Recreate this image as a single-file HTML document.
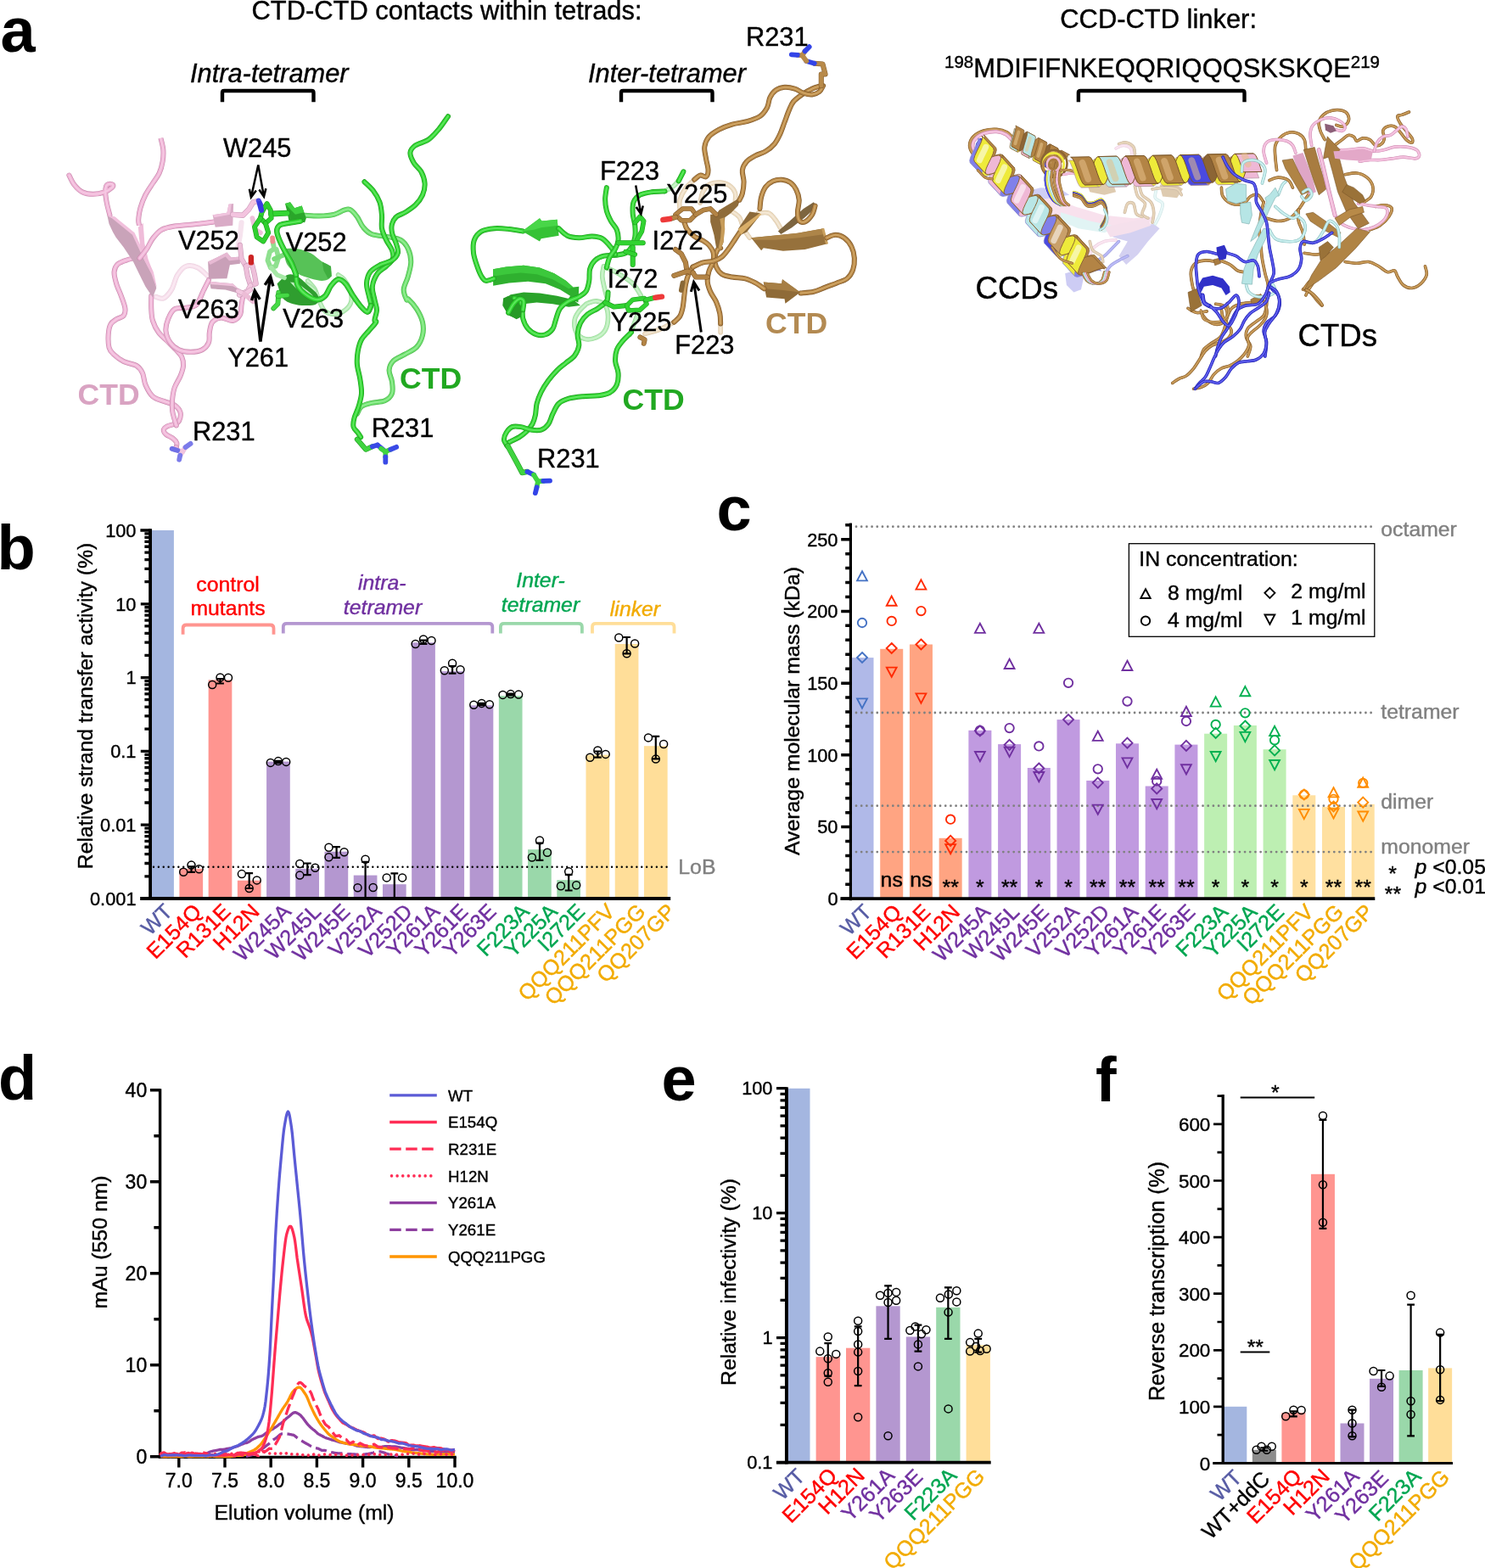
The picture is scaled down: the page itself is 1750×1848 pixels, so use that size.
<!DOCTYPE html>
<html lang="en"><head><meta charset="utf-8"><title>Figure</title>
<style>
html,body{margin:0;padding:0;background:#fff}
svg{display:block}
svg text{font-family:"Liberation Sans",sans-serif}
</style></head><body>
<svg width="1750" height="1848" viewBox="0 0 1750 1848">
<rect width="1750" height="1848" fill="#fff"/>
<g id="panel_a">
<g id="a_linker"><g opacity="0.42"><polygon points="1203.71,231.43 1232.86,229.71 1267.14,243.43 1301.43,253.71 1335.71,257.14 1358,255.43 1352.86,267.43 1327.14,274.29 1292.86,270.86 1260.29,262.29 1226,250.29" fill="#efb8d6"/><polygon points="1250,250.29 1284.29,260.57 1318.57,267.43 1301.43,274.29 1270.57,269.14 1250,260.57" fill="#b9e6e6"/><polygon points="1308.29,270.86 1335.71,265.71 1359.71,264 1366.57,269.14 1352.86,284.57 1340.86,300 1327.14,312 1318.57,301.71 1328.86,284.57 1311.71,279.43" fill="#9a94e0"/><polygon points="1301.43,267.43 1327.14,262.29 1352.86,257.14 1356.29,265.71 1332.29,274.29 1308.29,279.43" fill="#e9b6d2"/><polygon points="1255.14,322.29 1267.14,318.86 1277.43,325.71 1274,341.14 1265.43,344.57 1256.86,336" fill="#8a88e6"/><polygon points="1280.86,216 1294.57,212.57 1311.71,216 1315.14,226.29 1301.43,229.71 1284.29,226.29" fill="#b38445"/><polygon points="1366.57,217.71 1383.71,216 1394,222.86 1387.14,233.14 1370,231.43" fill="#b38445"/><polygon points="1207.14,226.29 1226,221.14 1250,222.86 1260.29,229.71 1239.71,233.14 1215.71,236.57" fill="#8f8fee"/><path d="M1337.43 219.43C1338 221.43 1338.86 228 1340.86 231.43C1342.86 234.86 1348.57 236.57 1349.43 240C1350.29 243.43 1345.43 249.14 1346 252C1346.57 254.86 1351.71 256.29 1352.86 257.14" fill="none" stroke="#80592a" stroke-width="3.6" stroke-linecap="round" stroke-linejoin="round"/><path d="M1337.43 219.43C1338 221.43 1338.86 228 1340.86 231.43C1342.86 234.86 1348.57 236.57 1349.43 240C1350.29 243.43 1345.43 249.14 1346 252C1346.57 254.86 1351.71 256.29 1352.86 257.14" fill="none" stroke="#b38445" stroke-width="2.81" stroke-linecap="round" stroke-linejoin="round"/><path d="M1337.43 219.43C1338 221.43 1338.86 228 1340.86 231.43C1342.86 234.86 1348.57 236.57 1349.43 240C1350.29 243.43 1345.43 249.14 1346 252C1346.57 254.86 1351.71 256.29 1352.86 257.14" fill="none" stroke="#d0a564" stroke-width="1.08" stroke-linecap="round" stroke-linejoin="round"/><path d="M1342.57 217.71C1343.14 219.71 1343.71 226.29 1346 229.71C1348.29 233.14 1354 234.86 1356.29 238.29C1358.57 241.71 1359.43 246.29 1359.71 250.29C1360 254.29 1358.29 260.29 1358 262.29" fill="none" stroke="#80592a" stroke-width="3.6" stroke-linecap="round" stroke-linejoin="round"/><path d="M1342.57 217.71C1343.14 219.71 1343.71 226.29 1346 229.71C1348.29 233.14 1354 234.86 1356.29 238.29C1358.57 241.71 1359.43 246.29 1359.71 250.29C1360 254.29 1358.29 260.29 1358 262.29" fill="none" stroke="#b38445" stroke-width="2.81" stroke-linecap="round" stroke-linejoin="round"/><path d="M1342.57 217.71C1343.14 219.71 1343.71 226.29 1346 229.71C1348.29 233.14 1354 234.86 1356.29 238.29C1358.57 241.71 1359.43 246.29 1359.71 250.29C1360 254.29 1358.29 260.29 1358 262.29" fill="none" stroke="#d0a564" stroke-width="1.08" stroke-linecap="round" stroke-linejoin="round"/><path d="M1363.14 221.14C1362.86 223.14 1360.29 230 1361.43 233.14C1362.57 236.29 1369.14 236.57 1370 240C1370.86 243.43 1368 249.71 1366.57 253.71C1365.14 257.71 1362.29 262.29 1361.43 264" fill="none" stroke="#86b6b6" stroke-width="3.6" stroke-linecap="round" stroke-linejoin="round"/><path d="M1363.14 221.14C1362.86 223.14 1360.29 230 1361.43 233.14C1362.57 236.29 1369.14 236.57 1370 240C1370.86 243.43 1368 249.71 1366.57 253.71C1365.14 257.71 1362.29 262.29 1361.43 264" fill="none" stroke="#b6e5e5" stroke-width="2.81" stroke-linecap="round" stroke-linejoin="round"/><path d="M1363.14 221.14C1362.86 223.14 1360.29 230 1361.43 233.14C1362.57 236.29 1369.14 236.57 1370 240C1370.86 243.43 1368 249.71 1366.57 253.71C1365.14 257.71 1362.29 262.29 1361.43 264" fill="none" stroke="#d4f3f3" stroke-width="1.08" stroke-linecap="round" stroke-linejoin="round"/><path d="M1318.57 169.71C1320 169.43 1324.29 167.43 1327.14 168C1330 168.57 1334 170.86 1335.71 173.14C1337.43 175.43 1337.14 180.29 1337.43 181.71" fill="none" stroke="#80592a" stroke-width="3.6" stroke-linecap="round" stroke-linejoin="round"/><path d="M1318.57 169.71C1320 169.43 1324.29 167.43 1327.14 168C1330 168.57 1334 170.86 1335.71 173.14C1337.43 175.43 1337.14 180.29 1337.43 181.71" fill="none" stroke="#b38445" stroke-width="2.81" stroke-linecap="round" stroke-linejoin="round"/><path d="M1318.57 169.71C1320 169.43 1324.29 167.43 1327.14 168C1330 168.57 1334 170.86 1335.71 173.14C1337.43 175.43 1337.14 180.29 1337.43 181.71" fill="none" stroke="#d0a564" stroke-width="1.08" stroke-linecap="round" stroke-linejoin="round"/><path d="M1315.14 174.86C1316.57 174.29 1320.86 171.43 1323.71 171.43C1326.57 171.43 1330.57 172.86 1332.29 174.86C1334 176.86 1333.71 182 1334 183.43" fill="none" stroke="#c98aae" stroke-width="3.6" stroke-linecap="round" stroke-linejoin="round"/><path d="M1315.14 174.86C1316.57 174.29 1320.86 171.43 1323.71 171.43C1326.57 171.43 1330.57 172.86 1332.29 174.86C1334 176.86 1333.71 182 1334 183.43" fill="none" stroke="#efb4d6" stroke-width="2.81" stroke-linecap="round" stroke-linejoin="round"/><path d="M1315.14 174.86C1316.57 174.29 1320.86 171.43 1323.71 171.43C1326.57 171.43 1330.57 172.86 1332.29 174.86C1334 176.86 1333.71 182 1334 183.43" fill="none" stroke="#f6c9e3" stroke-width="1.08" stroke-linecap="round" stroke-linejoin="round"/><path d="M1325.43 250.29C1326 248.57 1327.14 241.71 1328.86 240C1330.57 238.29 1334 238 1335.71 240C1337.43 242 1337.43 249.43 1339.14 252C1340.86 254.57 1344.86 254.86 1346 255.43" fill="none" stroke="#80592a" stroke-width="3.6" stroke-linecap="round" stroke-linejoin="round"/><path d="M1325.43 250.29C1326 248.57 1327.14 241.71 1328.86 240C1330.57 238.29 1334 238 1335.71 240C1337.43 242 1337.43 249.43 1339.14 252C1340.86 254.57 1344.86 254.86 1346 255.43" fill="none" stroke="#b38445" stroke-width="2.81" stroke-linecap="round" stroke-linejoin="round"/><path d="M1325.43 250.29C1326 248.57 1327.14 241.71 1328.86 240C1330.57 238.29 1334 238 1335.71 240C1337.43 242 1337.43 249.43 1339.14 252C1340.86 254.57 1344.86 254.86 1346 255.43" fill="none" stroke="#d0a564" stroke-width="1.08" stroke-linecap="round" stroke-linejoin="round"/><path d="M1284.29 300C1285.14 298.57 1286.57 294 1289.43 291.43C1292.29 288.86 1297.14 286 1301.43 284.57C1305.71 283.14 1312.86 283.14 1315.14 282.86" fill="none" stroke="#c98aae" stroke-width="3.6" stroke-linecap="round" stroke-linejoin="round"/><path d="M1284.29 300C1285.14 298.57 1286.57 294 1289.43 291.43C1292.29 288.86 1297.14 286 1301.43 284.57C1305.71 283.14 1312.86 283.14 1315.14 282.86" fill="none" stroke="#efb4d6" stroke-width="2.81" stroke-linecap="round" stroke-linejoin="round"/><path d="M1284.29 300C1285.14 298.57 1286.57 294 1289.43 291.43C1292.29 288.86 1297.14 286 1301.43 284.57C1305.71 283.14 1312.86 283.14 1315.14 282.86" fill="none" stroke="#f6c9e3" stroke-width="1.08" stroke-linecap="round" stroke-linejoin="round"/><path d="M1291.14 308.57C1292.86 307.43 1298 304.57 1301.43 301.71C1304.86 298.86 1308.86 294.29 1311.71 291.43C1314.57 288.57 1317.43 285.71 1318.57 284.57" fill="none" stroke="#2424a6" stroke-width="3.6" stroke-linecap="round" stroke-linejoin="round"/><path d="M1291.14 308.57C1292.86 307.43 1298 304.57 1301.43 301.71C1304.86 298.86 1308.86 294.29 1311.71 291.43C1314.57 288.57 1317.43 285.71 1318.57 284.57" fill="none" stroke="#3d3ddc" stroke-width="2.81" stroke-linecap="round" stroke-linejoin="round"/><path d="M1291.14 308.57C1292.86 307.43 1298 304.57 1301.43 301.71C1304.86 298.86 1308.86 294.29 1311.71 291.43C1314.57 288.57 1317.43 285.71 1318.57 284.57" fill="none" stroke="#6a6af0" stroke-width="1.08" stroke-linecap="round" stroke-linejoin="round"/><path d="M1301.43 324C1302.57 322.29 1305.43 316.57 1308.29 313.71C1311.14 310.86 1315.14 308.86 1318.57 306.86C1322 304.86 1327.14 302.57 1328.86 301.71" fill="none" stroke="#2424a6" stroke-width="3.6" stroke-linecap="round" stroke-linejoin="round"/><path d="M1301.43 324C1302.57 322.29 1305.43 316.57 1308.29 313.71C1311.14 310.86 1315.14 308.86 1318.57 306.86C1322 304.86 1327.14 302.57 1328.86 301.71" fill="none" stroke="#3d3ddc" stroke-width="2.81" stroke-linecap="round" stroke-linejoin="round"/><path d="M1301.43 324C1302.57 322.29 1305.43 316.57 1308.29 313.71C1311.14 310.86 1315.14 308.86 1318.57 306.86C1322 304.86 1327.14 302.57 1328.86 301.71" fill="none" stroke="#6a6af0" stroke-width="1.08" stroke-linecap="round" stroke-linejoin="round"/><path d="M1284.29 284.57C1284.86 286.29 1285.43 292 1287.71 294.86C1290 297.71 1296 299.43 1298 301.71C1300 304 1299.43 307.43 1299.71 308.57" fill="none" stroke="#80592a" stroke-width="3.6" stroke-linecap="round" stroke-linejoin="round"/><path d="M1284.29 284.57C1284.86 286.29 1285.43 292 1287.71 294.86C1290 297.71 1296 299.43 1298 301.71C1300 304 1299.43 307.43 1299.71 308.57" fill="none" stroke="#b38445" stroke-width="2.81" stroke-linecap="round" stroke-linejoin="round"/><path d="M1284.29 284.57C1284.86 286.29 1285.43 292 1287.71 294.86C1290 297.71 1296 299.43 1298 301.71C1300 304 1299.43 307.43 1299.71 308.57" fill="none" stroke="#d0a564" stroke-width="1.08" stroke-linecap="round" stroke-linejoin="round"/><path d="M1358 222.86C1360.57 222.57 1368.57 221.14 1373.43 221.14C1378.29 221.14 1384 221.43 1387.14 222.86C1390.29 224.29 1391.43 228.57 1392.29 229.71" fill="none" stroke="#80592a" stroke-width="3.6" stroke-linecap="round" stroke-linejoin="round"/><path d="M1358 222.86C1360.57 222.57 1368.57 221.14 1373.43 221.14C1378.29 221.14 1384 221.43 1387.14 222.86C1390.29 224.29 1391.43 228.57 1392.29 229.71" fill="none" stroke="#b38445" stroke-width="2.81" stroke-linecap="round" stroke-linejoin="round"/><path d="M1358 222.86C1360.57 222.57 1368.57 221.14 1373.43 221.14C1378.29 221.14 1384 221.43 1387.14 222.86C1390.29 224.29 1391.43 228.57 1392.29 229.71" fill="none" stroke="#d0a564" stroke-width="1.08" stroke-linecap="round" stroke-linejoin="round"/></g>
<path d="M1155.71 188.57C1154.29 187.43 1149.29 184.57 1147.14 181.71C1145 178.86 1142.86 174.86 1142.86 171.43C1142.86 168 1144.43 164 1147.14 161.14C1149.86 158.29 1154.57 155.71 1159.14 154.29C1163.71 152.86 1170 152.29 1174.57 152.57C1179.14 152.86 1183.14 154 1186.57 156C1190 158 1193.71 163.14 1195.14 164.57" fill="none" stroke="#80592a" stroke-width="4.2" stroke-linecap="round" stroke-linejoin="round"/><path d="M1155.71 188.57C1154.29 187.43 1149.29 184.57 1147.14 181.71C1145 178.86 1142.86 174.86 1142.86 171.43C1142.86 168 1144.43 164 1147.14 161.14C1149.86 158.29 1154.57 155.71 1159.14 154.29C1163.71 152.86 1170 152.29 1174.57 152.57C1179.14 152.86 1183.14 154 1186.57 156C1190 158 1193.71 163.14 1195.14 164.57" fill="none" stroke="#b38445" stroke-width="3.28" stroke-linecap="round" stroke-linejoin="round"/><path d="M1155.71 188.57C1154.29 187.43 1149.29 184.57 1147.14 181.71C1145 178.86 1142.86 174.86 1142.86 171.43C1142.86 168 1144.43 164 1147.14 161.14C1149.86 158.29 1154.57 155.71 1159.14 154.29C1163.71 152.86 1170 152.29 1174.57 152.57C1179.14 152.86 1183.14 154 1186.57 156C1190 158 1193.71 163.14 1195.14 164.57" fill="none" stroke="#d0a564" stroke-width="1.26" stroke-linecap="round" stroke-linejoin="round"/>
<path d="M1158.29 186.86C1156.94 185.71 1152.23 182.57 1150.23 180C1148.23 177.43 1146.29 174.29 1146.29 171.43C1146.29 168.57 1147.8 165.29 1150.23 162.86C1152.66 160.43 1156.8 158.14 1160.86 156.86C1164.91 155.57 1170.43 154.86 1174.57 155.14C1178.71 155.43 1182.71 156.86 1185.71 158.57C1188.71 160.29 1191.43 164.29 1192.57 165.43" fill="none" stroke="#c98aae" stroke-width="4.2" stroke-linecap="round" stroke-linejoin="round"/><path d="M1158.29 186.86C1156.94 185.71 1152.23 182.57 1150.23 180C1148.23 177.43 1146.29 174.29 1146.29 171.43C1146.29 168.57 1147.8 165.29 1150.23 162.86C1152.66 160.43 1156.8 158.14 1160.86 156.86C1164.91 155.57 1170.43 154.86 1174.57 155.14C1178.71 155.43 1182.71 156.86 1185.71 158.57C1188.71 160.29 1191.43 164.29 1192.57 165.43" fill="none" stroke="#efb4d6" stroke-width="3.28" stroke-linecap="round" stroke-linejoin="round"/><path d="M1158.29 186.86C1156.94 185.71 1152.23 182.57 1150.23 180C1148.23 177.43 1146.29 174.29 1146.29 171.43C1146.29 168.57 1147.8 165.29 1150.23 162.86C1152.66 160.43 1156.8 158.14 1160.86 156.86C1164.91 155.57 1170.43 154.86 1174.57 155.14C1178.71 155.43 1182.71 156.86 1185.71 158.57C1188.71 160.29 1191.43 164.29 1192.57 165.43" fill="none" stroke="#f6c9e3" stroke-width="1.26" stroke-linecap="round" stroke-linejoin="round"/>
<path d="M1164.29 183.43C1162.86 182.57 1157.86 180.29 1155.71 178.29C1153.57 176.29 1151.43 173.71 1151.43 171.43C1151.43 169.14 1155 165.71 1155.71 164.57" fill="none" stroke="#2424a6" stroke-width="3.4" stroke-linecap="round" stroke-linejoin="round"/><path d="M1164.29 183.43C1162.86 182.57 1157.86 180.29 1155.71 178.29C1153.57 176.29 1151.43 173.71 1151.43 171.43C1151.43 169.14 1155 165.71 1155.71 164.57" fill="none" stroke="#3d3ddc" stroke-width="2.65" stroke-linecap="round" stroke-linejoin="round"/><path d="M1164.29 183.43C1162.86 182.57 1157.86 180.29 1155.71 178.29C1153.57 176.29 1151.43 173.71 1151.43 171.43C1151.43 169.14 1155 165.71 1155.71 164.57" fill="none" stroke="#6a6af0" stroke-width="1.02" stroke-linecap="round" stroke-linejoin="round"/>
<path d="M1143.24 191.66L1145.79 192.44L1150.1 191.6L1155.65 189.62L1161.63 187.25L1167.17 185.27L1171.48 184.43L1174.03 185.21L1188.26 200.66L1185.71 199.87L1181.4 200.71L1175.86 202.69L1169.88 205.07L1164.34 207.04L1160.02 207.89L1157.48 207.1Z" fill="#eeea3a" stroke="#8a8ad0" stroke-width="0.7" stroke-linejoin="round"/><path d="M1165.1 215.37L1167.65 216.16L1171.96 215.31L1177.5 213.34L1183.48 210.96L1189.02 208.99L1193.34 208.14L1195.88 208.93L1210.12 224.37L1207.57 223.58L1203.26 224.43L1197.71 226.4L1191.74 228.78L1186.19 230.76L1181.88 231.6L1179.33 230.81Z" fill="#8080ea" stroke="#8a8ad0" stroke-width="0.7" stroke-linejoin="round"/><path d="M1186.96 239.08L1189.5 239.87L1193.82 239.03L1199.36 237.05L1205.34 234.68L1210.88 232.7L1215.2 231.86L1217.74 232.64L1231.97 248.09L1229.43 247.3L1225.11 248.14L1219.57 250.12L1213.59 252.49L1208.05 254.47L1203.74 255.31L1201.19 254.53Z" fill="#efb8d6" stroke="#8a8ad0" stroke-width="0.7" stroke-linejoin="round"/><path d="M1208.82 262.8L1211.36 263.59L1215.68 262.74L1221.22 260.77L1227.2 258.39L1232.74 256.41L1237.05 255.57L1239.6 256.36L1253.83 271.8L1251.29 271.01L1246.97 271.86L1241.43 273.83L1235.45 276.21L1229.91 278.18L1225.59 279.03L1223.05 278.24Z" fill="#b9e6e6" stroke="#8a8ad0" stroke-width="0.7" stroke-linejoin="round"/><path d="M1230.67 286.51L1233.22 287.3L1237.53 286.46L1243.07 284.48L1249.05 282.1L1254.6 280.13L1258.91 279.28L1261.46 280.07L1275.69 295.51L1273.14 294.73L1268.83 295.57L1263.29 297.55L1257.31 299.92L1251.77 301.9L1247.45 302.74L1244.91 301.96Z" fill="#eeea3a" stroke="#8a8ad0" stroke-width="0.7" stroke-linejoin="round"/><path d="M1252.53 310.23L1255.07 311.02L1259.39 310.17L1264.93 308.2L1270.91 305.82L1276.45 303.84L1280.77 303L1283.31 303.79L1297.54 319.23L1295 318.44L1290.68 319.28L1285.14 321.26L1279.16 323.64L1273.62 325.61L1269.31 326.46L1266.76 325.67Z" fill="#8080ea" stroke="#8a8ad0" stroke-width="0.7" stroke-linejoin="round"/><path d="M1152.73 162.73L1152.37 165.94L1150.7 170.37L1148.23 175.53L1145.63 180.81L1143.57 185.59L1142.64 189.33L1143.24 191.66L1157.48 207.1L1156.87 204.77L1157.8 201.03L1159.86 196.25L1162.46 190.97L1164.93 185.81L1166.6 181.38L1166.96 178.17Z" fill="#8080ea" stroke="#8a8ad0" stroke-width="0.7" stroke-linejoin="round"/><path d="M1174.03 185.21L1174.6 187.81L1173.41 192.05L1170.99 197.41L1168.14 203.18L1165.72 208.54L1164.52 212.77L1165.1 215.37L1179.33 230.81L1178.76 228.21L1179.95 223.98L1182.37 218.62L1185.22 212.85L1187.64 207.49L1188.84 203.26L1188.26 200.66Z" fill="#efb8d6" stroke="#8a8ad0" stroke-width="0.7" stroke-linejoin="round"/><path d="M1195.88 208.93L1196.46 211.53L1195.27 215.76L1192.85 221.12L1189.99 226.89L1187.57 232.25L1186.38 236.49L1186.96 239.08L1201.19 254.53L1200.61 251.93L1201.81 247.69L1204.23 242.33L1207.08 236.57L1209.5 231.2L1210.69 226.97L1210.12 224.37Z" fill="#8080ea" stroke="#8a8ad0" stroke-width="0.7" stroke-linejoin="round"/><path d="M1217.74 232.64L1218.32 235.24L1217.13 239.48L1214.71 244.84L1211.85 250.6L1209.43 255.97L1208.24 260.2L1208.82 262.8L1223.05 278.24L1222.47 275.64L1223.66 271.41L1226.08 266.05L1228.94 260.28L1231.36 254.92L1232.55 250.68L1231.97 248.09Z" fill="#b9e6e6" stroke="#8a8ad0" stroke-width="0.7" stroke-linejoin="round"/><path d="M1239.6 256.36L1240.18 258.96L1238.98 263.19L1236.56 268.55L1233.71 274.32L1231.29 279.68L1230.1 283.91L1230.67 286.51L1244.91 301.96L1244.33 299.36L1245.52 295.12L1247.94 289.76L1250.8 283.99L1253.22 278.63L1254.41 274.4L1253.83 271.8Z" fill="#4a4ae0" stroke="#8a8ad0" stroke-width="0.7" stroke-linejoin="round"/><path d="M1261.46 280.07L1262.03 282.67L1260.84 286.9L1258.42 292.27L1255.56 298.03L1253.15 303.4L1251.95 307.63L1252.53 310.23L1266.76 325.67L1266.18 323.07L1267.38 318.84L1269.8 313.47L1272.65 307.71L1275.07 302.35L1276.27 298.11L1275.69 295.51Z" fill="#eeea3a" stroke="#8a8ad0" stroke-width="0.7" stroke-linejoin="round"/>
<path d="M1150.64 188.9L1153.18 189.69L1157.5 188.84L1163.04 186.87L1169.02 184.49L1174.56 182.51L1178.88 181.67L1181.42 182.46L1195.65 197.9L1193.11 197.11L1188.79 197.95L1183.25 199.93L1177.27 202.31L1171.73 204.28L1167.42 205.13L1164.87 204.34Z" fill="#b38445" stroke="#7a5528" stroke-width="0.7" stroke-linejoin="round"/><path d="M1172.5 212.61L1175.04 213.4L1179.36 212.55L1184.9 210.58L1190.88 208.2L1196.42 206.23L1200.73 205.38L1203.28 206.17L1217.51 221.61L1214.97 220.82L1210.65 221.67L1205.11 223.64L1199.13 226.02L1193.59 228L1189.27 228.84L1186.73 228.05Z" fill="#efb8d6" stroke="#7a5528" stroke-width="0.7" stroke-linejoin="round"/><path d="M1194.35 236.33L1196.9 237.11L1201.21 236.27L1206.75 234.29L1212.73 231.92L1218.27 229.94L1222.59 229.1L1225.13 229.88L1239.37 245.33L1236.82 244.54L1232.51 245.38L1226.97 247.36L1220.99 249.74L1215.45 251.71L1211.13 252.56L1208.59 251.77Z" fill="#b38445" stroke="#7a5528" stroke-width="0.7" stroke-linejoin="round"/><path d="M1216.21 260.04L1218.75 260.83L1223.07 259.98L1228.61 258.01L1234.59 255.63L1240.13 253.66L1244.45 252.81L1246.99 253.6L1261.22 269.04L1258.68 268.25L1254.36 269.1L1248.82 271.07L1242.84 273.45L1237.3 275.43L1232.99 276.27L1230.44 275.48Z" fill="#b38445" stroke="#7a5528" stroke-width="0.7" stroke-linejoin="round"/><path d="M1238.07 283.75L1240.61 284.54L1244.93 283.7L1250.47 281.72L1256.45 279.35L1261.99 277.37L1266.3 276.53L1268.85 277.31L1283.08 292.75L1280.54 291.97L1276.22 292.81L1270.68 294.79L1264.7 297.16L1259.16 299.14L1254.84 299.98L1252.3 299.2Z" fill="#b38445" stroke="#7a5528" stroke-width="0.7" stroke-linejoin="round"/><path d="M1259.92 307.47L1262.25 308.26L1266.15 307.6L1271.21 305.87L1276.79 303.66L1282.18 301.62L1286.7 300.39L1289.81 300.46L1304.04 315.9L1300.93 315.83L1296.41 317.06L1291.02 319.1L1285.44 321.31L1280.38 323.04L1276.48 323.7L1274.16 322.91Z" fill="#b38445" stroke="#7a5528" stroke-width="0.7" stroke-linejoin="round"/><path d="M1159.56 158.74L1160.14 161.34L1158.95 165.57L1156.53 170.94L1153.67 176.7L1151.25 182.07L1150.06 186.3L1150.64 188.9L1164.87 204.34L1164.29 201.74L1165.49 197.51L1167.91 192.14L1170.76 186.38L1173.18 181.02L1174.37 176.78L1173.8 174.18Z" fill="#b38445" stroke="#7a5528" stroke-width="0.7" stroke-linejoin="round"/><path d="M1181.42 182.46L1182 185.06L1180.81 189.29L1178.39 194.65L1175.53 200.42L1173.11 205.78L1171.92 210.01L1172.5 212.61L1186.73 228.05L1186.15 225.45L1187.34 221.22L1189.76 215.86L1192.62 210.09L1195.04 204.73L1196.23 200.5L1195.65 197.9Z" fill="#b38445" stroke="#7a5528" stroke-width="0.7" stroke-linejoin="round"/><path d="M1203.28 206.17L1203.86 208.77L1202.66 213L1200.24 218.37L1197.39 224.13L1194.97 229.49L1193.77 233.73L1194.35 236.33L1208.59 251.77L1208.01 249.17L1209.2 244.94L1211.62 239.57L1214.48 233.81L1216.89 228.44L1218.09 224.21L1217.51 221.61Z" fill="#b38445" stroke="#7a5528" stroke-width="0.7" stroke-linejoin="round"/><path d="M1225.13 229.88L1225.71 232.48L1224.52 236.72L1222.1 242.08L1219.24 247.85L1216.83 253.21L1215.63 257.44L1216.21 260.04L1230.44 275.48L1229.86 272.88L1231.06 268.65L1233.48 263.29L1236.33 257.52L1238.75 252.16L1239.95 247.93L1239.37 245.33Z" fill="#b38445" stroke="#7a5528" stroke-width="0.7" stroke-linejoin="round"/><path d="M1246.99 253.6L1247.57 256.2L1246.38 260.43L1243.96 265.79L1241.1 271.56L1238.68 276.92L1237.49 281.15L1238.07 283.75L1252.3 299.2L1251.72 296.6L1252.91 292.36L1255.33 287L1258.19 281.24L1260.61 275.87L1261.8 271.64L1261.22 269.04Z" fill="#b38445" stroke="#7a5528" stroke-width="0.7" stroke-linejoin="round"/><path d="M1268.85 277.31L1269.43 279.91L1268.23 284.15L1265.82 289.51L1262.96 295.27L1260.54 300.64L1259.35 304.87L1259.92 307.47L1274.16 322.91L1273.58 320.31L1274.77 316.08L1277.19 310.72L1280.05 304.95L1282.47 299.59L1283.66 295.35L1283.08 292.75Z" fill="#b38445" stroke="#7a5528" stroke-width="0.7" stroke-linejoin="round"/>
<path d="M1148.22 190.22L1150.77 191.01L1155.08 190.17L1160.63 188.19L1166.61 185.82L1172.15 183.84L1176.46 183L1179.01 183.78L1192.56 198.49L1190.02 197.7L1185.7 198.55L1180.16 200.52L1174.18 202.9L1168.64 204.87L1164.32 205.72L1161.78 204.93Z" fill="#efb8d6" stroke="#8c6535" stroke-width="1.0" stroke-linejoin="round"/><path d="M1170.08 213.94L1172.63 214.73L1176.94 213.88L1182.48 211.91L1188.46 209.53L1194 207.55L1198.32 206.71L1200.86 207.5L1214.42 222.2L1211.87 221.42L1207.56 222.26L1202.02 224.24L1196.04 226.61L1190.5 228.59L1186.18 229.43L1183.64 228.65Z" fill="#8080ea" stroke="#8c6535" stroke-width="1.0" stroke-linejoin="round"/><path d="M1191.94 237.65L1194.48 238.44L1198.8 237.6L1204.34 235.62L1210.32 233.24L1215.86 231.27L1220.18 230.42L1222.72 231.21L1236.28 245.92L1233.73 245.13L1229.42 245.98L1223.87 247.95L1217.89 250.33L1212.35 252.3L1208.04 253.15L1205.49 252.36Z" fill="#b9e6e6" stroke="#8c6535" stroke-width="1.0" stroke-linejoin="round"/><path d="M1213.8 261.37L1216.34 262.16L1220.66 261.31L1226.2 259.34L1232.18 256.96L1237.72 254.98L1242.03 254.14L1244.58 254.93L1258.13 269.63L1255.59 268.84L1251.27 269.69L1245.73 271.66L1239.75 274.04L1234.21 276.02L1229.89 276.86L1227.35 276.07Z" fill="#8080ea" stroke="#8c6535" stroke-width="1.0" stroke-linejoin="round"/><path d="M1235.65 285.08L1238.2 285.87L1242.51 285.02L1248.05 283.05L1254.03 280.67L1259.58 278.7L1263.89 277.85L1266.44 278.64L1279.99 293.35L1277.45 292.56L1273.13 293.4L1267.59 295.38L1261.61 297.76L1256.07 299.73L1251.75 300.58L1249.21 299.79Z" fill="#eeea3a" stroke="#8c6535" stroke-width="1.0" stroke-linejoin="round"/><path d="M1257.51 308.8L1260.05 309.58L1264.37 308.74L1269.91 306.76L1275.89 304.39L1281.43 302.41L1285.75 301.57L1288.29 302.35L1301.85 317.06L1299.3 316.27L1294.99 317.12L1289.45 319.09L1283.47 321.47L1277.92 323.45L1273.61 324.29L1271.06 323.5Z" fill="#b38445" stroke="#8c6535" stroke-width="1.0" stroke-linejoin="round"/><path d="M1157.15 160.07L1157.73 162.67L1156.53 166.9L1154.12 172.26L1151.26 178.03L1148.84 183.39L1147.65 187.62L1148.22 190.22L1161.78 204.93L1161.2 202.33L1162.39 198.1L1164.81 192.74L1167.67 186.97L1170.09 181.61L1171.28 177.38L1170.7 174.78Z" fill="#eeea3a" stroke="#8c6535" stroke-width="1.0" stroke-linejoin="round"/><path d="M1161.76 173.28L1160.08 177.02L1158.11 181.03L1156.13 185.04L1154.46 188.78" fill="none" stroke="#ffffff" stroke-width="7" stroke-linecap="round" opacity="0.55"/><path d="M1179.01 183.78L1179.58 186.38L1178.39 190.62L1175.97 195.98L1173.12 201.74L1170.7 207.11L1169.5 211.34L1170.08 213.94L1183.64 228.65L1183.06 226.05L1184.25 221.81L1186.67 216.45L1189.53 210.68L1191.95 205.32L1193.14 201.09L1192.56 198.49Z" fill="#eeea3a" stroke="#8c6535" stroke-width="1.0" stroke-linejoin="round"/><path d="M1183.62 196.99L1181.94 200.73L1179.97 204.74L1177.99 208.76L1176.32 212.49" fill="none" stroke="#ffffff" stroke-width="7" stroke-linecap="round" opacity="0.55"/><path d="M1200.86 207.5L1201.44 210.1L1200.25 214.33L1197.83 219.69L1194.97 225.46L1192.55 230.82L1191.36 235.05L1191.94 237.65L1205.49 252.36L1204.92 249.76L1206.11 245.53L1208.53 240.16L1211.38 234.4L1213.8 229.04L1215 224.8L1214.42 222.2Z" fill="#efb8d6" stroke="#8c6535" stroke-width="1.0" stroke-linejoin="round"/><path d="M1205.47 220.71L1203.8 224.44L1201.82 228.46L1199.85 232.47L1198.17 236.21" fill="none" stroke="#ffffff" stroke-width="7" stroke-linecap="round" opacity="0.55"/><path d="M1222.72 231.21L1223.3 233.81L1222.11 238.04L1219.69 243.41L1216.83 249.17L1214.41 254.54L1213.22 258.77L1213.8 261.37L1227.35 276.07L1226.77 273.47L1227.97 269.24L1230.38 263.88L1233.24 258.11L1235.66 252.75L1236.85 248.52L1236.28 245.92Z" fill="#b9e6e6" stroke="#8c6535" stroke-width="1.0" stroke-linejoin="round"/><path d="M1227.33 244.42L1225.65 248.16L1223.68 252.17L1221.71 256.19L1220.03 259.92" fill="none" stroke="#ffffff" stroke-width="7" stroke-linecap="round" opacity="0.55"/><path d="M1244.58 254.93L1245.16 257.53L1243.96 261.76L1241.54 267.12L1238.69 272.89L1236.27 278.25L1235.07 282.48L1235.65 285.08L1249.21 299.79L1248.63 297.19L1249.82 292.96L1252.24 287.59L1255.1 281.83L1257.52 276.46L1258.71 272.23L1258.13 269.63Z" fill="#c9a06a" stroke="#8c6535" stroke-width="1.0" stroke-linejoin="round"/><path d="M1249.19 268.14L1247.51 271.87L1245.54 275.89L1243.56 279.9L1241.89 283.64" fill="none" stroke="#ffffff" stroke-width="7" stroke-linecap="round" opacity="0.55"/><path d="M1266.44 278.64L1267.01 281.24L1265.82 285.47L1263.4 290.84L1260.54 296.6L1258.13 301.96L1256.93 306.2L1257.51 308.8L1271.06 323.5L1270.49 320.9L1271.68 316.67L1274.1 311.31L1276.96 305.54L1279.37 300.18L1280.57 295.95L1279.99 293.35Z" fill="#eeea3a" stroke="#8c6535" stroke-width="1.0" stroke-linejoin="round"/><path d="M1271.04 291.85L1269.37 295.59L1267.39 299.6L1265.42 303.61L1263.75 307.35" fill="none" stroke="#ffffff" stroke-width="7" stroke-linecap="round" opacity="0.55"/>
<path d="M1152.29 200.57C1153.71 202 1158 207.43 1160.86 209.14C1163.71 210.86 1168 210.57 1169.43 210.86" fill="none" stroke="#80592a" stroke-width="3" stroke-linecap="round" stroke-linejoin="round"/><path d="M1152.29 200.57C1153.71 202 1158 207.43 1160.86 209.14C1163.71 210.86 1168 210.57 1169.43 210.86" fill="none" stroke="#b38445" stroke-width="2.34" stroke-linecap="round" stroke-linejoin="round"/><path d="M1152.29 200.57C1153.71 202 1158 207.43 1160.86 209.14C1163.71 210.86 1168 210.57 1169.43 210.86" fill="none" stroke="#d0a564" stroke-width="0.9" stroke-linecap="round" stroke-linejoin="round"/>
<path d="M1239.71 291.43C1241.43 293.71 1246 302 1250 305.14C1254 308.29 1261.43 309.43 1263.71 310.29" fill="none" stroke="#80592a" stroke-width="3" stroke-linecap="round" stroke-linejoin="round"/><path d="M1239.71 291.43C1241.43 293.71 1246 302 1250 305.14C1254 308.29 1261.43 309.43 1263.71 310.29" fill="none" stroke="#b38445" stroke-width="2.34" stroke-linecap="round" stroke-linejoin="round"/><path d="M1239.71 291.43C1241.43 293.71 1246 302 1250 305.14C1254 308.29 1261.43 309.43 1263.71 310.29" fill="none" stroke="#d0a564" stroke-width="0.9" stroke-linecap="round" stroke-linejoin="round"/>
<path d="M1190.38 174.45L1191.91 173.92L1194.45 171.51L1197.7 167.8L1201.2 163.62L1204.45 159.91L1207 157.5L1208.52 156.97L1217.33 161.72L1215.8 162.25L1213.25 164.66L1210 168.37L1206.5 172.55L1203.25 176.26L1200.71 178.67L1199.18 179.2Z" fill="#eeea3a" stroke="#8c6535" stroke-width="0.7" stroke-linejoin="round"/><path d="M1203.88 181.73L1205.41 181.21L1207.95 178.8L1211.2 175.09L1214.7 170.91L1217.95 167.19L1220.5 164.78L1222.02 164.26L1230.83 169.01L1229.3 169.53L1226.75 171.94L1223.5 175.66L1220 179.83L1216.75 183.55L1214.21 185.96L1212.68 186.48Z" fill="#b9e6e6" stroke="#8c6535" stroke-width="0.7" stroke-linejoin="round"/><path d="M1217.38 189.02L1218.91 188.49L1221.45 186.08L1224.7 182.37L1228.2 178.19L1231.45 174.48L1234 172.07L1235.52 171.54L1244.33 176.29L1242.8 176.82L1240.25 179.23L1237 182.94L1233.5 187.12L1230.25 190.83L1227.71 193.24L1226.18 193.77Z" fill="#efb8d6" stroke="#8c6535" stroke-width="0.7" stroke-linejoin="round"/><path d="M1230.88 196.31L1232.41 195.78L1234.95 193.37L1238.2 189.66L1241.7 185.48L1244.95 181.76L1247.5 179.35L1249.02 178.83L1257.83 183.58L1256.3 184.1L1253.75 186.51L1250.5 190.23L1247 194.41L1243.75 198.12L1241.21 200.53L1239.68 201.06Z" fill="#eeea3a" stroke="#8c6535" stroke-width="0.7" stroke-linejoin="round"/><path d="M1195.4 151.56L1194.85 154.51L1193.79 158.42L1192.48 162.79L1191.22 167.06L1190.3 170.71L1189.97 173.27L1190.38 174.45L1199.18 179.2L1198.77 178.02L1199.1 175.46L1200.02 171.81L1201.28 167.53L1202.59 163.17L1203.65 159.26L1204.2 156.31Z" fill="#b9e6e6" stroke="#8c6535" stroke-width="0.7" stroke-linejoin="round"/><path d="M1208.52 156.97L1208.92 158.54L1208.31 161.99L1206.99 166.74L1205.41 171.96L1204.09 176.72L1203.48 180.17L1203.88 181.73L1212.68 186.48L1212.28 184.92L1212.89 181.47L1214.21 176.71L1215.79 171.49L1217.11 166.74L1217.72 163.29L1217.33 161.72Z" fill="#efb8d6" stroke="#8c6535" stroke-width="0.7" stroke-linejoin="round"/><path d="M1222.02 164.26L1222.42 165.82L1221.81 169.27L1220.49 174.03L1218.91 179.25L1217.59 184L1216.98 187.45L1217.38 189.02L1226.18 193.77L1225.78 192.2L1226.39 188.75L1227.71 184L1229.29 178.78L1230.61 174.02L1231.22 170.57L1230.83 169.01Z" fill="#eeea3a" stroke="#8c6535" stroke-width="0.7" stroke-linejoin="round"/><path d="M1235.52 171.54L1235.92 173.11L1235.31 176.56L1233.99 181.31L1232.41 186.53L1231.09 191.29L1230.48 194.74L1230.88 196.31L1239.68 201.06L1239.28 199.49L1239.89 196.04L1241.21 191.28L1242.79 186.06L1244.11 181.31L1244.72 177.86L1244.33 176.29Z" fill="#4a4ae0" stroke="#8c6535" stroke-width="0.7" stroke-linejoin="round"/><path d="M1249.02 178.83L1249.16 178.94L1249.27 179.1L1249.35 179.32L1249.41 179.59L1249.43 179.91L1249.43 180.28L1249.4 180.7L1258.2 185.45L1258.23 185.03L1258.23 184.66L1258.21 184.34L1258.16 184.07L1258.07 183.85L1257.96 183.69L1257.83 183.58Z" fill="#b9e6e6" stroke="#8c6535" stroke-width="0.7" stroke-linejoin="round"/>
<path d="M1192.21 172.73L1193.74 172.21L1196.29 169.8L1199.53 166.08L1203.04 161.91L1206.28 158.19L1208.83 155.78L1210.36 155.26L1220.04 160.48L1218.51 161.01L1215.96 163.42L1212.72 167.13L1209.21 171.31L1205.97 175.02L1203.42 177.43L1201.89 177.96Z" fill="#8c6535" stroke="#7a5528" stroke-width="0.7" stroke-linejoin="round"/><path d="M1205.71 180.02L1207.24 179.49L1209.79 177.08L1213.03 173.37L1216.54 169.19L1219.78 165.48L1222.33 163.07L1223.86 162.54L1233.54 167.77L1232.01 168.29L1229.46 170.7L1226.22 174.42L1222.71 178.59L1219.47 182.31L1216.92 184.72L1215.39 185.24Z" fill="#b38445" stroke="#7a5528" stroke-width="0.7" stroke-linejoin="round"/><path d="M1219.21 187.31L1220.74 186.78L1223.29 184.37L1226.53 180.66L1230.04 176.48L1233.28 172.76L1235.83 170.35L1237.36 169.83L1247.04 175.05L1245.51 175.58L1242.96 177.99L1239.72 181.7L1236.21 185.88L1232.97 189.59L1230.42 192L1228.89 192.53Z" fill="#8c6535" stroke="#7a5528" stroke-width="0.7" stroke-linejoin="round"/><path d="M1232.71 194.59L1234.24 194.07L1236.79 191.66L1240.03 187.94L1243.54 183.76L1246.78 180.05L1249.33 177.64L1250.86 177.11L1260.54 182.34L1259.01 182.86L1256.46 185.27L1253.22 188.99L1249.71 193.17L1246.47 196.88L1243.92 199.29L1242.39 199.82Z" fill="#b38445" stroke="#7a5528" stroke-width="0.7" stroke-linejoin="round"/><path d="M1196.86 147.97L1197.26 149.54L1196.64 152.99L1195.32 157.74L1193.75 162.96L1192.43 167.72L1191.81 171.17L1192.21 172.73L1201.89 177.96L1201.49 176.39L1202.11 172.94L1203.43 168.19L1205 162.97L1206.32 158.21L1206.94 154.76L1206.54 153.19Z" fill="#b38445" stroke="#7a5528" stroke-width="0.7" stroke-linejoin="round"/><path d="M1200.41 155.51L1199.49 158.81L1198.41 162.44L1197.32 166.07L1196.41 169.38" fill="none" stroke="#e8c890" stroke-width="3.85" stroke-linecap="round" opacity="0.55"/><path d="M1210.36 155.26L1210.76 156.82L1210.14 160.27L1208.82 165.03L1207.25 170.25L1205.93 175L1205.31 178.45L1205.71 180.02L1215.39 185.24L1214.99 183.68L1215.61 180.23L1216.93 175.47L1218.5 170.25L1219.82 165.5L1220.44 162.05L1220.04 160.48Z" fill="#b9e6e6" stroke="#7a5528" stroke-width="0.7" stroke-linejoin="round"/><path d="M1213.91 162.79L1212.99 166.1L1211.91 169.73L1210.82 173.36L1209.91 176.66" fill="none" stroke="#e8c890" stroke-width="3.85" stroke-linecap="round" opacity="0.55"/><path d="M1223.86 162.54L1224.26 164.11L1223.64 167.56L1222.32 172.31L1220.75 177.53L1219.43 182.29L1218.81 185.74L1219.21 187.31L1228.89 192.53L1228.49 190.96L1229.11 187.51L1230.43 182.76L1232 177.54L1233.32 172.78L1233.94 169.33L1233.54 167.77Z" fill="#b38445" stroke="#7a5528" stroke-width="0.7" stroke-linejoin="round"/><path d="M1227.41 170.08L1226.49 173.39L1225.41 177.01L1224.32 180.64L1223.41 183.95" fill="none" stroke="#e8c890" stroke-width="3.85" stroke-linecap="round" opacity="0.55"/><path d="M1237.36 169.83L1237.76 171.39L1237.14 174.84L1235.82 179.6L1234.25 184.82L1232.93 189.57L1232.31 193.02L1232.71 194.59L1242.39 199.82L1241.99 198.25L1242.61 194.8L1243.93 190.04L1245.5 184.82L1246.82 180.07L1247.44 176.62L1247.04 175.05Z" fill="#b38445" stroke="#7a5528" stroke-width="0.7" stroke-linejoin="round"/><path d="M1240.91 177.36L1239.99 180.67L1238.91 184.3L1237.82 187.93L1236.91 191.23" fill="none" stroke="#e8c890" stroke-width="3.85" stroke-linecap="round" opacity="0.55"/>
<ellipse cx="1242.29" cy="192.86" rx="15.2" ry="16.1" fill="none" stroke="#8c6535" stroke-width="2.6"/>
<ellipse cx="1241.43" cy="193.71" rx="12.3" ry="13.3" fill="none" stroke="#eeea3a" stroke-width="2.6"/>
<ellipse cx="1239.71" cy="195.43" rx="10.4" ry="11.4" fill="none" stroke="#b38445" stroke-width="2.6"/>
<ellipse cx="1241.43" cy="193.71" rx="7.6" ry="8.5" fill="none" stroke="#efb8d6" stroke-width="2.6"/>
<ellipse cx="1241.09" cy="194.06" rx="4.8" ry="5.7" fill="none" stroke="#a87a3e" stroke-width="2.6"/>
<path d="M1232.86 202.29C1232.71 204 1231.71 208.86 1232 212.57C1232.29 216.29 1233 220.57 1234.57 224.57C1236.14 228.57 1238.86 233.71 1241.43 236.57C1244 239.43 1248.57 240.86 1250 241.71" fill="none" stroke="#2424a6" stroke-width="3" stroke-linecap="round" stroke-linejoin="round"/><path d="M1232.86 202.29C1232.71 204 1231.71 208.86 1232 212.57C1232.29 216.29 1233 220.57 1234.57 224.57C1236.14 228.57 1238.86 233.71 1241.43 236.57C1244 239.43 1248.57 240.86 1250 241.71" fill="none" stroke="#3d3ddc" stroke-width="2.34" stroke-linecap="round" stroke-linejoin="round"/><path d="M1232.86 202.29C1232.71 204 1231.71 208.86 1232 212.57C1232.29 216.29 1233 220.57 1234.57 224.57C1236.14 228.57 1238.86 233.71 1241.43 236.57C1244 239.43 1248.57 240.86 1250 241.71" fill="none" stroke="#6a6af0" stroke-width="0.9" stroke-linecap="round" stroke-linejoin="round"/>
<path d="M1234.91 202.29C1234.77 204 1233.77 208.86 1234.06 212.57C1234.34 216.29 1235.13 220.57 1236.63 224.57C1238.13 228.57 1240.64 233.71 1243.07 236.57C1245.51 239.43 1249.87 240.86 1251.23 241.71" fill="none" stroke="#b8b620" stroke-width="3" stroke-linecap="round" stroke-linejoin="round"/><path d="M1234.91 202.29C1234.77 204 1233.77 208.86 1234.06 212.57C1234.34 216.29 1235.13 220.57 1236.63 224.57C1238.13 228.57 1240.64 233.71 1243.07 236.57C1245.51 239.43 1249.87 240.86 1251.23 241.71" fill="none" stroke="#f0ee3c" stroke-width="2.34" stroke-linecap="round" stroke-linejoin="round"/><path d="M1234.91 202.29C1234.77 204 1233.77 208.86 1234.06 212.57C1234.34 216.29 1235.13 220.57 1236.63 224.57C1238.13 228.57 1240.64 233.71 1243.07 236.57C1245.51 239.43 1249.87 240.86 1251.23 241.71" fill="none" stroke="#f8f78a" stroke-width="0.9" stroke-linecap="round" stroke-linejoin="round"/>
<path d="M1236.97 202.29C1236.83 204 1235.83 208.86 1236.11 212.57C1236.4 216.29 1237.25 220.57 1238.69 224.57C1240.12 228.57 1242.42 233.71 1244.72 236.57C1247.02 239.43 1251.18 240.86 1252.47 241.71" fill="none" stroke="#86b6b6" stroke-width="3" stroke-linecap="round" stroke-linejoin="round"/><path d="M1236.97 202.29C1236.83 204 1235.83 208.86 1236.11 212.57C1236.4 216.29 1237.25 220.57 1238.69 224.57C1240.12 228.57 1242.42 233.71 1244.72 236.57C1247.02 239.43 1251.18 240.86 1252.47 241.71" fill="none" stroke="#b6e5e5" stroke-width="2.34" stroke-linecap="round" stroke-linejoin="round"/><path d="M1236.97 202.29C1236.83 204 1235.83 208.86 1236.11 212.57C1236.4 216.29 1237.25 220.57 1238.69 224.57C1240.12 228.57 1242.42 233.71 1244.72 236.57C1247.02 239.43 1251.18 240.86 1252.47 241.71" fill="none" stroke="#d4f3f3" stroke-width="0.9" stroke-linecap="round" stroke-linejoin="round"/>
<path d="M1239.71 202.29C1239.57 204 1238.57 208.86 1238.86 212.57C1239.14 216.29 1240.09 220.57 1241.43 224.57C1242.77 228.57 1244.8 233.71 1246.91 236.57C1249.03 239.43 1252.91 240.86 1254.11 241.71" fill="none" stroke="#80592a" stroke-width="3" stroke-linecap="round" stroke-linejoin="round"/><path d="M1239.71 202.29C1239.57 204 1238.57 208.86 1238.86 212.57C1239.14 216.29 1240.09 220.57 1241.43 224.57C1242.77 228.57 1244.8 233.71 1246.91 236.57C1249.03 239.43 1252.91 240.86 1254.11 241.71" fill="none" stroke="#b38445" stroke-width="2.34" stroke-linecap="round" stroke-linejoin="round"/><path d="M1239.71 202.29C1239.57 204 1238.57 208.86 1238.86 212.57C1239.14 216.29 1240.09 220.57 1241.43 224.57C1242.77 228.57 1244.8 233.71 1246.91 236.57C1249.03 239.43 1252.91 240.86 1254.11 241.71" fill="none" stroke="#d0a564" stroke-width="0.9" stroke-linecap="round" stroke-linejoin="round"/>
<path d="M1243.14 202.29C1243 204 1242 208.86 1242.29 212.57C1242.57 216.29 1243.63 220.57 1244.86 224.57C1246.09 228.57 1247.77 233.71 1249.66 236.57C1251.54 239.43 1255.09 240.86 1256.17 241.71" fill="none" stroke="#80592a" stroke-width="3" stroke-linecap="round" stroke-linejoin="round"/><path d="M1243.14 202.29C1243 204 1242 208.86 1242.29 212.57C1242.57 216.29 1243.63 220.57 1244.86 224.57C1246.09 228.57 1247.77 233.71 1249.66 236.57C1251.54 239.43 1255.09 240.86 1256.17 241.71" fill="none" stroke="#b38445" stroke-width="2.34" stroke-linecap="round" stroke-linejoin="round"/><path d="M1243.14 202.29C1243 204 1242 208.86 1242.29 212.57C1242.57 216.29 1243.63 220.57 1244.86 224.57C1246.09 228.57 1247.77 233.71 1249.66 236.57C1251.54 239.43 1255.09 240.86 1256.17 241.71" fill="none" stroke="#d0a564" stroke-width="0.9" stroke-linecap="round" stroke-linejoin="round"/>
<path d="M1246.57 202.29C1246.43 204 1245.43 208.86 1245.71 212.57C1246 216.29 1247.17 220.57 1248.29 224.57C1249.4 228.57 1250.74 233.71 1252.4 236.57C1254.06 239.43 1257.26 240.86 1258.23 241.71" fill="none" stroke="#c98aae" stroke-width="3" stroke-linecap="round" stroke-linejoin="round"/><path d="M1246.57 202.29C1246.43 204 1245.43 208.86 1245.71 212.57C1246 216.29 1247.17 220.57 1248.29 224.57C1249.4 228.57 1250.74 233.71 1252.4 236.57C1254.06 239.43 1257.26 240.86 1258.23 241.71" fill="none" stroke="#efb4d6" stroke-width="2.34" stroke-linecap="round" stroke-linejoin="round"/><path d="M1246.57 202.29C1246.43 204 1245.43 208.86 1245.71 212.57C1246 216.29 1247.17 220.57 1248.29 224.57C1249.4 228.57 1250.74 233.71 1252.4 236.57C1254.06 239.43 1257.26 240.86 1258.23 241.71" fill="none" stroke="#f6c9e3" stroke-width="0.9" stroke-linecap="round" stroke-linejoin="round"/>
<path d="M1249.14 202.29C1249 204 1248 208.86 1248.29 212.57C1248.57 216.29 1249.83 220.57 1250.86 224.57C1251.89 228.57 1252.97 233.71 1254.46 236.57C1255.94 239.43 1258.89 240.86 1259.77 241.71" fill="none" stroke="#80592a" stroke-width="3" stroke-linecap="round" stroke-linejoin="round"/><path d="M1249.14 202.29C1249 204 1248 208.86 1248.29 212.57C1248.57 216.29 1249.83 220.57 1250.86 224.57C1251.89 228.57 1252.97 233.71 1254.46 236.57C1255.94 239.43 1258.89 240.86 1259.77 241.71" fill="none" stroke="#b38445" stroke-width="2.34" stroke-linecap="round" stroke-linejoin="round"/><path d="M1249.14 202.29C1249 204 1248 208.86 1248.29 212.57C1248.57 216.29 1249.83 220.57 1250.86 224.57C1251.89 228.57 1252.97 233.71 1254.46 236.57C1255.94 239.43 1258.89 240.86 1259.77 241.71" fill="none" stroke="#d0a564" stroke-width="0.9" stroke-linecap="round" stroke-linejoin="round"/>
<path d="M1253.43 205.71C1255.14 205.43 1260.57 204 1263.71 204C1266.86 204 1270.86 205.43 1272.29 205.71" fill="none" stroke="#c98aae" stroke-width="3.2" stroke-linecap="round" stroke-linejoin="round"/><path d="M1253.43 205.71C1255.14 205.43 1260.57 204 1263.71 204C1266.86 204 1270.86 205.43 1272.29 205.71" fill="none" stroke="#efb4d6" stroke-width="2.5" stroke-linecap="round" stroke-linejoin="round"/><path d="M1253.43 205.71C1255.14 205.43 1260.57 204 1263.71 204C1266.86 204 1270.86 205.43 1272.29 205.71" fill="none" stroke="#f6c9e3" stroke-width="0.96" stroke-linecap="round" stroke-linejoin="round"/>
<path d="M1250 200.57C1251.71 200.57 1256.86 200 1260.29 200.57C1263.71 201.14 1268.86 203.43 1270.57 204" fill="none" stroke="#80592a" stroke-width="3.2" stroke-linecap="round" stroke-linejoin="round"/><path d="M1250 200.57C1251.71 200.57 1256.86 200 1260.29 200.57C1263.71 201.14 1268.86 203.43 1270.57 204" fill="none" stroke="#b38445" stroke-width="2.5" stroke-linecap="round" stroke-linejoin="round"/><path d="M1250 200.57C1251.71 200.57 1256.86 200 1260.29 200.57C1263.71 201.14 1268.86 203.43 1270.57 204" fill="none" stroke="#d0a564" stroke-width="0.96" stroke-linecap="round" stroke-linejoin="round"/>
<path d="M1265.43 226.29C1266.86 226.86 1271.43 227.71 1274 229.71C1276.57 231.71 1278.29 236.86 1280.86 238.29C1283.43 239.71 1286.57 238.86 1289.43 238.29C1292.29 237.71 1295.71 234 1298 234.86C1300.29 235.71 1302.29 240 1303.14 243.43C1304 246.86 1304 251.71 1303.14 255.43C1302.29 259.14 1298.86 264 1298 265.71" fill="none" stroke="#b8b620" stroke-width="3" stroke-linecap="round" stroke-linejoin="round"/><path d="M1265.43 226.29C1266.86 226.86 1271.43 227.71 1274 229.71C1276.57 231.71 1278.29 236.86 1280.86 238.29C1283.43 239.71 1286.57 238.86 1289.43 238.29C1292.29 237.71 1295.71 234 1298 234.86C1300.29 235.71 1302.29 240 1303.14 243.43C1304 246.86 1304 251.71 1303.14 255.43C1302.29 259.14 1298.86 264 1298 265.71" fill="none" stroke="#f0ee3c" stroke-width="2.34" stroke-linecap="round" stroke-linejoin="round"/><path d="M1265.43 226.29C1266.86 226.86 1271.43 227.71 1274 229.71C1276.57 231.71 1278.29 236.86 1280.86 238.29C1283.43 239.71 1286.57 238.86 1289.43 238.29C1292.29 237.71 1295.71 234 1298 234.86C1300.29 235.71 1302.29 240 1303.14 243.43C1304 246.86 1304 251.71 1303.14 255.43C1302.29 259.14 1298.86 264 1298 265.71" fill="none" stroke="#f8f78a" stroke-width="0.9" stroke-linecap="round" stroke-linejoin="round"/>
<path d="M1265.43 227.66C1266.86 228.23 1271.43 229.09 1274 231.09C1276.57 233.09 1278.29 238.23 1280.86 239.66C1283.43 241.09 1286.57 240.23 1289.43 239.66C1292.29 239.09 1295.71 235.37 1298 236.23C1300.29 237.09 1302.29 241.37 1303.14 244.8C1304 248.23 1304 253.09 1303.14 256.8C1302.29 260.51 1298.86 265.37 1298 267.09" fill="none" stroke="#2424a6" stroke-width="3" stroke-linecap="round" stroke-linejoin="round"/><path d="M1265.43 227.66C1266.86 228.23 1271.43 229.09 1274 231.09C1276.57 233.09 1278.29 238.23 1280.86 239.66C1283.43 241.09 1286.57 240.23 1289.43 239.66C1292.29 239.09 1295.71 235.37 1298 236.23C1300.29 237.09 1302.29 241.37 1303.14 244.8C1304 248.23 1304 253.09 1303.14 256.8C1302.29 260.51 1298.86 265.37 1298 267.09" fill="none" stroke="#3d3ddc" stroke-width="2.34" stroke-linecap="round" stroke-linejoin="round"/><path d="M1265.43 227.66C1266.86 228.23 1271.43 229.09 1274 231.09C1276.57 233.09 1278.29 238.23 1280.86 239.66C1283.43 241.09 1286.57 240.23 1289.43 239.66C1292.29 239.09 1295.71 235.37 1298 236.23C1300.29 237.09 1302.29 241.37 1303.14 244.8C1304 248.23 1304 253.09 1303.14 256.8C1302.29 260.51 1298.86 265.37 1298 267.09" fill="none" stroke="#6a6af0" stroke-width="0.9" stroke-linecap="round" stroke-linejoin="round"/>
<path d="M1265.43 229.03C1266.86 229.6 1271.43 230.46 1274 232.46C1276.57 234.46 1278.29 239.6 1280.86 241.03C1283.43 242.46 1286.57 241.6 1289.43 241.03C1292.29 240.46 1295.71 236.74 1298 237.6C1300.29 238.46 1302.29 242.74 1303.14 246.17C1304 249.6 1304 254.46 1303.14 258.17C1302.29 261.89 1298.86 266.74 1298 268.46" fill="none" stroke="#80592a" stroke-width="3" stroke-linecap="round" stroke-linejoin="round"/><path d="M1265.43 229.03C1266.86 229.6 1271.43 230.46 1274 232.46C1276.57 234.46 1278.29 239.6 1280.86 241.03C1283.43 242.46 1286.57 241.6 1289.43 241.03C1292.29 240.46 1295.71 236.74 1298 237.6C1300.29 238.46 1302.29 242.74 1303.14 246.17C1304 249.6 1304 254.46 1303.14 258.17C1302.29 261.89 1298.86 266.74 1298 268.46" fill="none" stroke="#b38445" stroke-width="2.34" stroke-linecap="round" stroke-linejoin="round"/><path d="M1265.43 229.03C1266.86 229.6 1271.43 230.46 1274 232.46C1276.57 234.46 1278.29 239.6 1280.86 241.03C1283.43 242.46 1286.57 241.6 1289.43 241.03C1292.29 240.46 1295.71 236.74 1298 237.6C1300.29 238.46 1302.29 242.74 1303.14 246.17C1304 249.6 1304 254.46 1303.14 258.17C1302.29 261.89 1298.86 266.74 1298 268.46" fill="none" stroke="#d0a564" stroke-width="0.9" stroke-linecap="round" stroke-linejoin="round"/>
<path d="M1265.43 230.74C1266.86 231.31 1271.43 232.17 1274 234.17C1276.57 236.17 1278.29 241.31 1280.86 242.74C1283.43 244.17 1286.57 243.31 1289.43 242.74C1292.29 242.17 1295.71 238.46 1298 239.31C1300.29 240.17 1302.29 244.46 1303.14 247.89C1304 251.31 1304 256.17 1303.14 259.89C1302.29 263.6 1298.86 268.46 1298 270.17" fill="none" stroke="#80592a" stroke-width="3" stroke-linecap="round" stroke-linejoin="round"/><path d="M1265.43 230.74C1266.86 231.31 1271.43 232.17 1274 234.17C1276.57 236.17 1278.29 241.31 1280.86 242.74C1283.43 244.17 1286.57 243.31 1289.43 242.74C1292.29 242.17 1295.71 238.46 1298 239.31C1300.29 240.17 1302.29 244.46 1303.14 247.89C1304 251.31 1304 256.17 1303.14 259.89C1302.29 263.6 1298.86 268.46 1298 270.17" fill="none" stroke="#b38445" stroke-width="2.34" stroke-linecap="round" stroke-linejoin="round"/><path d="M1265.43 230.74C1266.86 231.31 1271.43 232.17 1274 234.17C1276.57 236.17 1278.29 241.31 1280.86 242.74C1283.43 244.17 1286.57 243.31 1289.43 242.74C1292.29 242.17 1295.71 238.46 1298 239.31C1300.29 240.17 1302.29 244.46 1303.14 247.89C1304 251.31 1304 256.17 1303.14 259.89C1302.29 263.6 1298.86 268.46 1298 270.17" fill="none" stroke="#d0a564" stroke-width="0.9" stroke-linecap="round" stroke-linejoin="round"/>
<path d="M1301.43 246.86C1302 248.57 1304.86 253.71 1304.86 257.14C1304.86 260.57 1302.86 265.14 1301.43 267.43C1300 269.71 1297.14 270.29 1296.29 270.86" fill="none" stroke="#86b6b6" stroke-width="3" stroke-linecap="round" stroke-linejoin="round"/><path d="M1301.43 246.86C1302 248.57 1304.86 253.71 1304.86 257.14C1304.86 260.57 1302.86 265.14 1301.43 267.43C1300 269.71 1297.14 270.29 1296.29 270.86" fill="none" stroke="#b6e5e5" stroke-width="2.34" stroke-linecap="round" stroke-linejoin="round"/><path d="M1301.43 246.86C1302 248.57 1304.86 253.71 1304.86 257.14C1304.86 260.57 1302.86 265.14 1301.43 267.43C1300 269.71 1297.14 270.29 1296.29 270.86" fill="none" stroke="#d4f3f3" stroke-width="0.9" stroke-linecap="round" stroke-linejoin="round"/>
<path d="M1275.71 322.29C1276.57 323.71 1278.57 328.86 1280.86 330.86C1283.14 332.86 1286.57 334.29 1289.43 334.29C1292.29 334.29 1296 333.14 1298 330.86C1300 328.57 1300.86 322.29 1301.43 320.57" fill="none" stroke="#80592a" stroke-width="2.8" stroke-linecap="round" stroke-linejoin="round"/><path d="M1275.71 322.29C1276.57 323.71 1278.57 328.86 1280.86 330.86C1283.14 332.86 1286.57 334.29 1289.43 334.29C1292.29 334.29 1296 333.14 1298 330.86C1300 328.57 1300.86 322.29 1301.43 320.57" fill="none" stroke="#b38445" stroke-width="2.18" stroke-linecap="round" stroke-linejoin="round"/><path d="M1275.71 322.29C1276.57 323.71 1278.57 328.86 1280.86 330.86C1283.14 332.86 1286.57 334.29 1289.43 334.29C1292.29 334.29 1296 333.14 1298 330.86C1300 328.57 1300.86 322.29 1301.43 320.57" fill="none" stroke="#d0a564" stroke-width="0.84" stroke-linecap="round" stroke-linejoin="round"/>
<path d="M1277.43 322.29C1278.29 323.71 1280.29 328.86 1282.57 330.86C1284.86 332.86 1288.29 334.29 1291.14 334.29C1294 334.29 1297.71 333.14 1299.71 330.86C1301.71 328.57 1302.57 322.29 1303.14 320.57" fill="none" stroke="#86b6b6" stroke-width="2.8" stroke-linecap="round" stroke-linejoin="round"/><path d="M1277.43 322.29C1278.29 323.71 1280.29 328.86 1282.57 330.86C1284.86 332.86 1288.29 334.29 1291.14 334.29C1294 334.29 1297.71 333.14 1299.71 330.86C1301.71 328.57 1302.57 322.29 1303.14 320.57" fill="none" stroke="#b6e5e5" stroke-width="2.18" stroke-linecap="round" stroke-linejoin="round"/><path d="M1277.43 322.29C1278.29 323.71 1280.29 328.86 1282.57 330.86C1284.86 332.86 1288.29 334.29 1291.14 334.29C1294 334.29 1297.71 333.14 1299.71 330.86C1301.71 328.57 1302.57 322.29 1303.14 320.57" fill="none" stroke="#d4f3f3" stroke-width="0.84" stroke-linecap="round" stroke-linejoin="round"/>
<path d="M1279.49 322.29C1280.34 323.71 1282.34 328.86 1284.63 330.86C1286.91 332.86 1290.34 334.29 1293.2 334.29C1296.06 334.29 1299.77 333.14 1301.77 330.86C1303.77 328.57 1304.63 322.29 1305.2 320.57" fill="none" stroke="#c98aae" stroke-width="2.8" stroke-linecap="round" stroke-linejoin="round"/><path d="M1279.49 322.29C1280.34 323.71 1282.34 328.86 1284.63 330.86C1286.91 332.86 1290.34 334.29 1293.2 334.29C1296.06 334.29 1299.77 333.14 1301.77 330.86C1303.77 328.57 1304.63 322.29 1305.2 320.57" fill="none" stroke="#efb4d6" stroke-width="2.18" stroke-linecap="round" stroke-linejoin="round"/><path d="M1279.49 322.29C1280.34 323.71 1282.34 328.86 1284.63 330.86C1286.91 332.86 1290.34 334.29 1293.2 334.29C1296.06 334.29 1299.77 333.14 1301.77 330.86C1303.77 328.57 1304.63 322.29 1305.2 320.57" fill="none" stroke="#f6c9e3" stroke-width="0.84" stroke-linecap="round" stroke-linejoin="round"/>
<path d="M1281.54 322.29C1282.4 323.71 1284.4 328.86 1286.69 330.86C1288.97 332.86 1292.4 334.29 1295.26 334.29C1298.11 334.29 1301.83 333.14 1303.83 330.86C1305.83 328.57 1306.69 322.29 1307.26 320.57" fill="none" stroke="#80592a" stroke-width="2.8" stroke-linecap="round" stroke-linejoin="round"/><path d="M1281.54 322.29C1282.4 323.71 1284.4 328.86 1286.69 330.86C1288.97 332.86 1292.4 334.29 1295.26 334.29C1298.11 334.29 1301.83 333.14 1303.83 330.86C1305.83 328.57 1306.69 322.29 1307.26 320.57" fill="none" stroke="#b38445" stroke-width="2.18" stroke-linecap="round" stroke-linejoin="round"/><path d="M1281.54 322.29C1282.4 323.71 1284.4 328.86 1286.69 330.86C1288.97 332.86 1292.4 334.29 1295.26 334.29C1298.11 334.29 1301.83 333.14 1303.83 330.86C1305.83 328.57 1306.69 322.29 1307.26 320.57" fill="none" stroke="#d0a564" stroke-width="0.84" stroke-linecap="round" stroke-linejoin="round"/>
<path d="M1274.4 220.92L1276.67 219.24L1278.88 214.61L1281.05 207.95L1283.21 200.57L1285.38 193.91L1287.59 189.28L1289.86 187.61L1310.86 187.19L1308.59 188.87L1306.38 193.49L1304.2 200.15L1302.05 207.54L1299.88 214.2L1297.67 218.82L1295.4 220.5Z" fill="#eeea3a" stroke="#b090a0" stroke-width="0.7" stroke-linejoin="round"/><path d="M1306.62 220.28L1308.89 218.6L1311.1 213.98L1313.27 207.32L1315.43 199.93L1317.6 193.27L1319.81 188.65L1322.08 186.97L1343.08 186.56L1340.81 188.24L1338.6 192.86L1336.43 199.52L1334.27 206.91L1332.1 213.57L1329.89 218.19L1327.62 219.87Z" fill="#efb8d6" stroke="#b090a0" stroke-width="0.7" stroke-linejoin="round"/><path d="M1338.84 219.65L1341.11 217.97L1343.32 213.34L1345.5 206.68L1347.65 199.3L1349.82 192.64L1352.04 188.01L1354.31 186.34L1375.3 185.92L1373.03 187.6L1370.82 192.22L1368.65 198.88L1366.49 206.27L1364.32 212.93L1362.11 217.55L1359.84 219.23Z" fill="#eeea3a" stroke="#b090a0" stroke-width="0.7" stroke-linejoin="round"/><path d="M1371.07 219.01L1373.34 217.33L1375.55 212.71L1377.72 206.05L1379.88 198.66L1382.05 192L1384.26 187.38L1386.53 185.7L1407.52 185.29L1405.25 186.97L1403.04 191.59L1400.87 198.25L1398.71 205.64L1396.54 212.3L1394.33 216.92L1392.06 218.6Z" fill="#eeea3a" stroke="#b090a0" stroke-width="0.7" stroke-linejoin="round"/><path d="M1403.29 218.38L1405.56 216.7L1407.77 212.07L1409.94 205.41L1412.1 198.03L1414.27 191.37L1416.48 186.74L1418.75 185.07L1439.75 184.65L1437.48 186.33L1435.26 190.95L1433.09 197.61L1430.94 205L1428.77 211.66L1426.55 216.28L1424.28 217.96Z" fill="#b38445" stroke="#b090a0" stroke-width="0.7" stroke-linejoin="round"/><path d="M1435.51 217.74L1437.78 216.06L1439.99 211.44L1442.16 204.78L1444.32 197.39L1446.49 190.73L1448.7 186.11L1450.97 184.43L1471.97 184.02L1469.7 185.7L1467.49 190.32L1465.32 196.98L1463.16 204.37L1460.99 211.03L1458.78 215.65L1456.51 217.33Z" fill="#b38445" stroke="#b090a0" stroke-width="0.7" stroke-linejoin="round"/><path d="M1259.19 188.95L1261.34 192.11L1263.52 197.32L1265.73 203.71L1267.94 210.25L1270.13 215.85L1272.29 219.62L1274.4 220.92L1295.4 220.5L1293.29 219.2L1291.13 215.44L1288.94 209.83L1286.73 203.3L1284.52 196.9L1282.33 191.7L1280.19 188.53Z" fill="#eeea3a" stroke="#b090a0" stroke-width="0.7" stroke-linejoin="round"/><path d="M1289.86 187.61L1292.19 189.19L1294.59 193.73L1297.02 200.3L1299.46 207.59L1301.9 214.16L1304.29 218.69L1306.62 220.28L1327.62 219.87L1325.28 218.28L1322.89 213.75L1320.46 207.18L1318.01 199.88L1315.58 193.31L1313.19 188.78L1310.86 187.19Z" fill="#b9e6e6" stroke="#b090a0" stroke-width="0.7" stroke-linejoin="round"/><path d="M1322.08 186.97L1324.42 188.56L1326.81 193.09L1329.24 199.66L1331.69 206.96L1334.12 213.53L1336.51 218.06L1338.84 219.65L1359.84 219.23L1357.51 217.64L1355.11 213.11L1352.68 206.54L1350.24 199.25L1347.8 192.68L1345.41 188.15L1343.08 186.56Z" fill="#efb8d6" stroke="#b090a0" stroke-width="0.7" stroke-linejoin="round"/><path d="M1354.31 186.34L1356.64 187.92L1359.03 192.46L1361.46 199.03L1363.91 206.32L1366.34 212.89L1368.73 217.42L1371.07 219.01L1392.06 218.6L1389.73 217.01L1387.34 212.48L1384.9 205.91L1382.46 198.61L1380.03 192.04L1377.63 187.51L1375.3 185.92Z" fill="#eeea3a" stroke="#b090a0" stroke-width="0.7" stroke-linejoin="round"/><path d="M1386.53 185.7L1388.86 187.29L1391.25 191.82L1393.68 198.39L1396.13 205.69L1398.56 212.26L1400.95 216.79L1403.29 218.38L1424.28 217.96L1421.95 216.37L1419.56 211.84L1417.13 205.27L1414.68 197.98L1412.25 191.41L1409.86 186.88L1407.52 185.29Z" fill="#4a4ae0" stroke="#b090a0" stroke-width="0.7" stroke-linejoin="round"/><path d="M1418.75 185.07L1421.08 186.65L1423.48 191.19L1425.91 197.76L1428.35 205.05L1430.79 211.62L1433.18 216.15L1435.51 217.74L1456.51 217.33L1454.17 215.74L1451.78 211.21L1449.35 204.64L1446.9 197.34L1444.47 190.77L1442.08 186.24L1439.75 184.65Z" fill="#eeea3a" stroke="#b090a0" stroke-width="0.7" stroke-linejoin="round"/><path d="M1450.97 184.43L1452.59 185.2L1454.23 187.48L1455.91 191.06L1457.6 195.58L1459.3 200.6L1461 205.65L1462.69 210.21L1483.69 209.8L1481.99 205.23L1480.29 200.19L1478.59 195.16L1476.9 190.64L1475.23 187.07L1473.58 184.78L1471.97 184.02Z" fill="#efb8d6" stroke="#b090a0" stroke-width="0.7" stroke-linejoin="round"/>
<path d="M1278.44 217.9L1280.71 216.22L1282.92 211.59L1285.09 204.93L1287.25 197.55L1289.42 190.89L1291.63 186.26L1293.9 184.58L1315.9 184.15L1313.63 185.83L1311.41 190.45L1309.24 197.11L1307.09 204.5L1304.91 211.16L1302.7 215.78L1300.43 217.46Z" fill="#eeea3a" stroke="#7a5528" stroke-width="1.0" stroke-linejoin="round"/><path d="M1310.66 217.26L1312.93 215.58L1315.14 210.96L1317.31 204.3L1319.47 196.91L1321.64 190.25L1323.85 185.63L1326.12 183.95L1348.12 183.52L1345.85 185.2L1343.64 189.82L1341.47 196.48L1339.31 203.87L1337.14 210.53L1334.93 215.15L1332.66 216.83Z" fill="#efb8d6" stroke="#7a5528" stroke-width="1.0" stroke-linejoin="round"/><path d="M1342.88 216.63L1345.15 214.95L1347.36 210.32L1349.53 203.66L1351.69 196.28L1353.86 189.62L1356.07 184.99L1358.34 183.32L1380.34 182.88L1378.07 184.56L1375.86 189.18L1373.69 195.84L1371.53 203.23L1369.36 209.89L1367.15 214.51L1364.88 216.19Z" fill="#eeea3a" stroke="#7a5528" stroke-width="1.0" stroke-linejoin="round"/><path d="M1375.1 215.99L1377.37 214.31L1379.59 209.69L1381.76 203.03L1383.91 195.64L1386.09 188.98L1388.3 184.36L1390.57 182.68L1412.56 182.25L1410.29 183.93L1408.08 188.55L1405.91 195.21L1403.75 202.6L1401.58 209.26L1399.37 213.88L1397.1 215.56Z" fill="#eeea3a" stroke="#7a5528" stroke-width="1.0" stroke-linejoin="round"/><path d="M1407.33 215.36L1409.6 213.68L1411.81 209.05L1413.98 202.39L1416.14 195.01L1418.31 188.35L1420.52 183.72L1422.79 182.05L1444.78 181.61L1442.51 183.29L1440.3 187.91L1438.13 194.57L1435.97 201.96L1433.8 208.62L1431.59 213.24L1429.32 214.92Z" fill="#8c6535" stroke="#7a5528" stroke-width="1.0" stroke-linejoin="round"/><path d="M1439.55 214.72L1441.82 213.04L1444.03 208.42L1446.2 201.76L1448.36 194.37L1450.53 187.71L1452.74 183.09L1455.01 181.41L1477.01 180.98L1474.74 182.66L1472.53 187.28L1470.35 193.94L1468.2 201.33L1466.03 207.99L1463.81 212.61L1461.55 214.29Z" fill="#eeea3a" stroke="#7a5528" stroke-width="1.0" stroke-linejoin="round"/><path d="M1261.68 185.22L1264.01 186.81L1266.4 191.34L1268.83 197.91L1271.28 205.21L1273.71 211.78L1276.1 216.31L1278.44 217.9L1300.43 217.46L1298.1 215.87L1295.71 211.34L1293.28 204.77L1290.83 197.48L1288.4 190.91L1286.01 186.37L1283.67 184.79Z" fill="#b38445" stroke="#7a5528" stroke-width="1.0" stroke-linejoin="round"/><path d="M1275.44 191.75L1277.14 196.32L1278.86 201.38L1280.57 206.45L1282.27 211.02" fill="none" stroke="#e6c088" stroke-width="7.7" stroke-linecap="round" opacity="0.55"/><path d="M1293.9 184.58L1296.23 186.17L1298.62 190.71L1301.06 197.27L1303.5 204.57L1305.93 211.14L1308.33 215.67L1310.66 217.26L1332.66 216.83L1330.32 215.24L1327.93 210.71L1325.5 204.14L1323.05 196.84L1320.62 190.27L1318.23 185.74L1315.9 184.15Z" fill="#b9e6e6" stroke="#7a5528" stroke-width="1.0" stroke-linejoin="round"/><path d="M1307.66 191.12L1309.37 195.68L1311.08 200.75L1312.79 205.82L1314.49 210.38" fill="none" stroke="#e6c088" stroke-width="7.7" stroke-linecap="round" opacity="0.55"/><path d="M1326.12 183.95L1328.46 185.54L1330.85 190.07L1333.28 196.64L1335.73 203.94L1338.16 210.51L1340.55 215.04L1342.88 216.63L1364.88 216.19L1362.54 214.6L1360.15 210.07L1357.72 203.5L1355.27 196.21L1352.84 189.64L1350.45 185.1L1348.12 183.52Z" fill="#b38445" stroke="#7a5528" stroke-width="1.0" stroke-linejoin="round"/><path d="M1339.89 190.48L1341.59 195.05L1343.3 200.11L1345.01 205.18L1346.71 209.75" fill="none" stroke="#e6c088" stroke-width="7.7" stroke-linecap="round" opacity="0.55"/><path d="M1358.34 183.32L1360.68 184.9L1363.07 189.44L1365.5 196.01L1367.95 203.3L1370.38 209.87L1372.77 214.4L1375.1 215.99L1397.1 215.56L1394.77 213.97L1392.38 209.44L1389.94 202.87L1387.5 195.57L1385.07 189L1382.67 184.47L1380.34 182.88Z" fill="#b38445" stroke="#7a5528" stroke-width="1.0" stroke-linejoin="round"/><path d="M1372.11 189.85L1373.81 194.41L1375.52 199.48L1377.23 204.55L1378.94 209.11" fill="none" stroke="#e6c088" stroke-width="7.7" stroke-linecap="round" opacity="0.55"/><path d="M1390.57 182.68L1392.9 184.27L1395.29 188.8L1397.72 195.37L1400.17 202.67L1402.6 209.24L1404.99 213.77L1407.33 215.36L1429.32 214.92L1426.99 213.33L1424.6 208.8L1422.17 202.23L1419.72 194.94L1417.29 188.37L1414.9 183.84L1412.56 182.25Z" fill="#4a4ae0" stroke="#7a5528" stroke-width="1.0" stroke-linejoin="round"/><path d="M1404.33 189.21L1406.03 193.78L1407.74 198.84L1409.46 203.91L1411.16 208.48" fill="none" stroke="#e6c088" stroke-width="7.7" stroke-linecap="round" opacity="0.55"/><path d="M1422.79 182.05L1425.12 183.63L1427.51 188.17L1429.95 194.74L1432.39 202.03L1434.82 208.6L1437.22 213.13L1439.55 214.72L1461.55 214.29L1459.21 212.7L1456.82 208.17L1454.39 201.6L1451.94 194.3L1449.51 187.73L1447.12 183.2L1444.78 181.61Z" fill="#b38445" stroke="#7a5528" stroke-width="1.0" stroke-linejoin="round"/><path d="M1436.55 188.58L1438.26 193.14L1439.97 198.21L1441.68 203.28L1443.38 207.84" fill="none" stroke="#e6c088" stroke-width="7.7" stroke-linecap="round" opacity="0.55"/><path d="M1455.01 181.41L1456.4 181.98L1457.82 183.69L1459.25 186.43L1460.71 189.98L1462.17 194.1L1463.64 198.48L1465.1 202.81L1487.1 202.38L1485.63 198.05L1484.16 193.67L1482.7 189.55L1481.25 185.99L1479.81 183.26L1478.4 181.54L1477.01 180.98Z" fill="#efb8d6" stroke="#7a5528" stroke-width="1.0" stroke-linejoin="round"/><path d="M1466.76 183.75L1467.76 185.63L1468.78 187.94L1469.8 190.6L1470.82 193.5" fill="none" stroke="#e6c088" stroke-width="7.7" stroke-linecap="round" opacity="0.55"/>
<path d="M1504.57 200.57C1504.29 198 1503.14 190 1502.86 185.14C1502.57 180.29 1501.71 175.43 1502.86 171.43C1504 167.43 1506.86 163.71 1509.71 161.14C1512.57 158.57 1516.57 156.57 1520 156C1523.43 155.43 1527.43 156.29 1530.29 157.71C1533.14 159.14 1535.71 161.43 1537.14 164.57C1538.57 167.71 1538.57 174.57 1538.86 176.57" fill="none" stroke="#80592a" stroke-width="3.6" stroke-linecap="round" stroke-linejoin="round"/><path d="M1504.57 200.57C1504.29 198 1503.14 190 1502.86 185.14C1502.57 180.29 1501.71 175.43 1502.86 171.43C1504 167.43 1506.86 163.71 1509.71 161.14C1512.57 158.57 1516.57 156.57 1520 156C1523.43 155.43 1527.43 156.29 1530.29 157.71C1533.14 159.14 1535.71 161.43 1537.14 164.57C1538.57 167.71 1538.57 174.57 1538.86 176.57" fill="none" stroke="#b38445" stroke-width="2.81" stroke-linecap="round" stroke-linejoin="round"/><path d="M1504.57 200.57C1504.29 198 1503.14 190 1502.86 185.14C1502.57 180.29 1501.71 175.43 1502.86 171.43C1504 167.43 1506.86 163.71 1509.71 161.14C1512.57 158.57 1516.57 156.57 1520 156C1523.43 155.43 1527.43 156.29 1530.29 157.71C1533.14 159.14 1535.71 161.43 1537.14 164.57C1538.57 167.71 1538.57 174.57 1538.86 176.57" fill="none" stroke="#d0a564" stroke-width="1.08" stroke-linecap="round" stroke-linejoin="round"/>
<path d="M1561.14 164.57C1560.29 162.86 1557.14 157.71 1556 154.29C1554.86 150.86 1553.71 147.14 1554.29 144C1554.86 140.86 1556.86 137.71 1559.43 135.43C1562 133.14 1566 131.14 1569.71 130.29C1573.43 129.43 1578.57 129.43 1581.71 130.29C1584.86 131.14 1587.43 133.14 1588.57 135.43C1589.71 137.71 1589.71 141.71 1588.57 144C1587.43 146.29 1584 148.57 1581.71 149.14C1579.43 149.71 1576 147.71 1574.86 147.43" fill="none" stroke="#80592a" stroke-width="3.6" stroke-linecap="round" stroke-linejoin="round"/><path d="M1561.14 164.57C1560.29 162.86 1557.14 157.71 1556 154.29C1554.86 150.86 1553.71 147.14 1554.29 144C1554.86 140.86 1556.86 137.71 1559.43 135.43C1562 133.14 1566 131.14 1569.71 130.29C1573.43 129.43 1578.57 129.43 1581.71 130.29C1584.86 131.14 1587.43 133.14 1588.57 135.43C1589.71 137.71 1589.71 141.71 1588.57 144C1587.43 146.29 1584 148.57 1581.71 149.14C1579.43 149.71 1576 147.71 1574.86 147.43" fill="none" stroke="#b38445" stroke-width="2.81" stroke-linecap="round" stroke-linejoin="round"/><path d="M1561.14 164.57C1560.29 162.86 1557.14 157.71 1556 154.29C1554.86 150.86 1553.71 147.14 1554.29 144C1554.86 140.86 1556.86 137.71 1559.43 135.43C1562 133.14 1566 131.14 1569.71 130.29C1573.43 129.43 1578.57 129.43 1581.71 130.29C1584.86 131.14 1587.43 133.14 1588.57 135.43C1589.71 137.71 1589.71 141.71 1588.57 144C1587.43 146.29 1584 148.57 1581.71 149.14C1579.43 149.71 1576 147.71 1574.86 147.43" fill="none" stroke="#d0a564" stroke-width="1.08" stroke-linecap="round" stroke-linejoin="round"/>
<path d="M1660.57 132C1659.14 132.57 1654.29 134.57 1652 135.43C1649.71 136.29 1647.14 135.43 1646.86 137.14C1646.57 138.86 1648.57 142.86 1650.29 145.71C1652 148.57 1654.86 151.43 1657.14 154.29C1659.43 157.14 1662.86 160.57 1664 162.86C1665.14 165.14 1665.14 167.71 1664 168C1662.86 168.29 1659.43 166.57 1657.14 164.57C1654.86 162.57 1652.57 158.57 1650.29 156C1648 153.43 1646 150.29 1643.43 149.14C1640.86 148 1637.14 148.29 1634.86 149.14C1632.57 150 1630.29 152 1629.71 154.29C1629.14 156.57 1631.71 160.29 1631.43 162.86C1631.14 165.43 1629.71 168.29 1628 169.71C1626.29 171.14 1623.43 172.29 1621.14 171.43C1618.86 170.57 1616.86 166 1614.29 164.57C1611.71 163.14 1608.29 162.57 1605.71 162.86C1603.14 163.14 1600.57 166.57 1598.86 166.29C1597.14 166 1597.14 162.29 1595.43 161.14C1593.71 160 1590.86 158.86 1588.57 159.43C1586.29 160 1584 162.86 1581.71 164.57C1579.43 166.29 1577.14 168 1574.86 169.71C1572.57 171.43 1569.14 174 1568 174.86" fill="none" stroke="#80592a" stroke-width="3.6" stroke-linecap="round" stroke-linejoin="round"/><path d="M1660.57 132C1659.14 132.57 1654.29 134.57 1652 135.43C1649.71 136.29 1647.14 135.43 1646.86 137.14C1646.57 138.86 1648.57 142.86 1650.29 145.71C1652 148.57 1654.86 151.43 1657.14 154.29C1659.43 157.14 1662.86 160.57 1664 162.86C1665.14 165.14 1665.14 167.71 1664 168C1662.86 168.29 1659.43 166.57 1657.14 164.57C1654.86 162.57 1652.57 158.57 1650.29 156C1648 153.43 1646 150.29 1643.43 149.14C1640.86 148 1637.14 148.29 1634.86 149.14C1632.57 150 1630.29 152 1629.71 154.29C1629.14 156.57 1631.71 160.29 1631.43 162.86C1631.14 165.43 1629.71 168.29 1628 169.71C1626.29 171.14 1623.43 172.29 1621.14 171.43C1618.86 170.57 1616.86 166 1614.29 164.57C1611.71 163.14 1608.29 162.57 1605.71 162.86C1603.14 163.14 1600.57 166.57 1598.86 166.29C1597.14 166 1597.14 162.29 1595.43 161.14C1593.71 160 1590.86 158.86 1588.57 159.43C1586.29 160 1584 162.86 1581.71 164.57C1579.43 166.29 1577.14 168 1574.86 169.71C1572.57 171.43 1569.14 174 1568 174.86" fill="none" stroke="#b38445" stroke-width="2.81" stroke-linecap="round" stroke-linejoin="round"/><path d="M1660.57 132C1659.14 132.57 1654.29 134.57 1652 135.43C1649.71 136.29 1647.14 135.43 1646.86 137.14C1646.57 138.86 1648.57 142.86 1650.29 145.71C1652 148.57 1654.86 151.43 1657.14 154.29C1659.43 157.14 1662.86 160.57 1664 162.86C1665.14 165.14 1665.14 167.71 1664 168C1662.86 168.29 1659.43 166.57 1657.14 164.57C1654.86 162.57 1652.57 158.57 1650.29 156C1648 153.43 1646 150.29 1643.43 149.14C1640.86 148 1637.14 148.29 1634.86 149.14C1632.57 150 1630.29 152 1629.71 154.29C1629.14 156.57 1631.71 160.29 1631.43 162.86C1631.14 165.43 1629.71 168.29 1628 169.71C1626.29 171.14 1623.43 172.29 1621.14 171.43C1618.86 170.57 1616.86 166 1614.29 164.57C1611.71 163.14 1608.29 162.57 1605.71 162.86C1603.14 163.14 1600.57 166.57 1598.86 166.29C1597.14 166 1597.14 162.29 1595.43 161.14C1593.71 160 1590.86 158.86 1588.57 159.43C1586.29 160 1584 162.86 1581.71 164.57C1579.43 166.29 1577.14 168 1574.86 169.71C1572.57 171.43 1569.14 174 1568 174.86" fill="none" stroke="#d0a564" stroke-width="1.08" stroke-linecap="round" stroke-linejoin="round"/>
<path d="M1585.14 308.57C1587.43 308.86 1594.29 310.29 1598.86 310.29C1603.43 310.29 1608.29 308 1612.57 308.57C1616.86 309.14 1620.86 311.71 1624.57 313.71C1628.29 315.71 1631.71 319.71 1634.86 320.57C1638 321.43 1641.43 318 1643.43 318.86C1645.43 319.71 1645.14 322.86 1646.86 325.71C1648.57 328.57 1650.86 333.71 1653.71 336C1656.57 338.29 1660.57 339.71 1664 339.43C1667.43 339.14 1671.43 336.86 1674.29 334.29C1677.14 331.71 1680.29 327.43 1681.14 324C1682 320.57 1679.71 315.43 1679.43 313.71" fill="none" stroke="#80592a" stroke-width="3.6" stroke-linecap="round" stroke-linejoin="round"/><path d="M1585.14 308.57C1587.43 308.86 1594.29 310.29 1598.86 310.29C1603.43 310.29 1608.29 308 1612.57 308.57C1616.86 309.14 1620.86 311.71 1624.57 313.71C1628.29 315.71 1631.71 319.71 1634.86 320.57C1638 321.43 1641.43 318 1643.43 318.86C1645.43 319.71 1645.14 322.86 1646.86 325.71C1648.57 328.57 1650.86 333.71 1653.71 336C1656.57 338.29 1660.57 339.71 1664 339.43C1667.43 339.14 1671.43 336.86 1674.29 334.29C1677.14 331.71 1680.29 327.43 1681.14 324C1682 320.57 1679.71 315.43 1679.43 313.71" fill="none" stroke="#b38445" stroke-width="2.81" stroke-linecap="round" stroke-linejoin="round"/><path d="M1585.14 308.57C1587.43 308.86 1594.29 310.29 1598.86 310.29C1603.43 310.29 1608.29 308 1612.57 308.57C1616.86 309.14 1620.86 311.71 1624.57 313.71C1628.29 315.71 1631.71 319.71 1634.86 320.57C1638 321.43 1641.43 318 1643.43 318.86C1645.43 319.71 1645.14 322.86 1646.86 325.71C1648.57 328.57 1650.86 333.71 1653.71 336C1656.57 338.29 1660.57 339.71 1664 339.43C1667.43 339.14 1671.43 336.86 1674.29 334.29C1677.14 331.71 1680.29 327.43 1681.14 324C1682 320.57 1679.71 315.43 1679.43 313.71" fill="none" stroke="#d0a564" stroke-width="1.08" stroke-linecap="round" stroke-linejoin="round"/>
<path d="M1535.43 341.14C1536.86 341.71 1541.14 342.29 1544 344.57C1546.86 346.86 1550.29 352.29 1552.57 354.86C1554.86 357.43 1556.86 359.14 1557.71 360" fill="none" stroke="#80592a" stroke-width="3.6" stroke-linecap="round" stroke-linejoin="round"/><path d="M1535.43 341.14C1536.86 341.71 1541.14 342.29 1544 344.57C1546.86 346.86 1550.29 352.29 1552.57 354.86C1554.86 357.43 1556.86 359.14 1557.71 360" fill="none" stroke="#b38445" stroke-width="2.81" stroke-linecap="round" stroke-linejoin="round"/><path d="M1535.43 341.14C1536.86 341.71 1541.14 342.29 1544 344.57C1546.86 346.86 1550.29 352.29 1552.57 354.86C1554.86 357.43 1556.86 359.14 1557.71 360" fill="none" stroke="#d0a564" stroke-width="1.08" stroke-linecap="round" stroke-linejoin="round"/>
<path d="M1538.86 348C1539.43 346.86 1540.57 344 1542.29 341.14C1544 338.29 1548 332.57 1549.14 330.86" fill="none" stroke="#80592a" stroke-width="3.6" stroke-linecap="round" stroke-linejoin="round"/><path d="M1538.86 348C1539.43 346.86 1540.57 344 1542.29 341.14C1544 338.29 1548 332.57 1549.14 330.86" fill="none" stroke="#b38445" stroke-width="2.81" stroke-linecap="round" stroke-linejoin="round"/><path d="M1538.86 348C1539.43 346.86 1540.57 344 1542.29 341.14C1544 338.29 1548 332.57 1549.14 330.86" fill="none" stroke="#d0a564" stroke-width="1.08" stroke-linecap="round" stroke-linejoin="round"/>
<path d="M1439.43 221.14C1439.71 222.86 1439.14 228.29 1441.14 231.43C1443.14 234.57 1447.43 238.57 1451.43 240C1455.43 241.43 1461.43 241.43 1465.14 240C1468.86 238.57 1470.86 233.14 1473.71 231.43C1476.57 229.71 1479.71 228.57 1482.29 229.71C1484.86 230.86 1488 236.86 1489.14 238.29" fill="none" stroke="#80592a" stroke-width="3.6" stroke-linecap="round" stroke-linejoin="round"/><path d="M1439.43 221.14C1439.71 222.86 1439.14 228.29 1441.14 231.43C1443.14 234.57 1447.43 238.57 1451.43 240C1455.43 241.43 1461.43 241.43 1465.14 240C1468.86 238.57 1470.86 233.14 1473.71 231.43C1476.57 229.71 1479.71 228.57 1482.29 229.71C1484.86 230.86 1488 236.86 1489.14 238.29" fill="none" stroke="#b38445" stroke-width="2.81" stroke-linecap="round" stroke-linejoin="round"/><path d="M1439.43 221.14C1439.71 222.86 1439.14 228.29 1441.14 231.43C1443.14 234.57 1447.43 238.57 1451.43 240C1455.43 241.43 1461.43 241.43 1465.14 240C1468.86 238.57 1470.86 233.14 1473.71 231.43C1476.57 229.71 1479.71 228.57 1482.29 229.71C1484.86 230.86 1488 236.86 1489.14 238.29" fill="none" stroke="#d0a564" stroke-width="1.08" stroke-linecap="round" stroke-linejoin="round"/>
<path d="M1489.14 238.29C1488.57 240.86 1486.57 248.29 1485.71 253.71C1484.86 259.14 1484 265.14 1484 270.86C1484 276.57 1485.14 282.29 1485.71 288C1486.29 293.71 1486.57 299.43 1487.43 305.14C1488.29 310.86 1489.71 317.14 1490.86 322.29C1492 327.43 1494 331.71 1494.29 336C1494.57 340.29 1492.86 346 1492.57 348" fill="none" stroke="#80592a" stroke-width="3.6" stroke-linecap="round" stroke-linejoin="round"/><path d="M1489.14 238.29C1488.57 240.86 1486.57 248.29 1485.71 253.71C1484.86 259.14 1484 265.14 1484 270.86C1484 276.57 1485.14 282.29 1485.71 288C1486.29 293.71 1486.57 299.43 1487.43 305.14C1488.29 310.86 1489.71 317.14 1490.86 322.29C1492 327.43 1494 331.71 1494.29 336C1494.57 340.29 1492.86 346 1492.57 348" fill="none" stroke="#b38445" stroke-width="2.81" stroke-linecap="round" stroke-linejoin="round"/><path d="M1489.14 238.29C1488.57 240.86 1486.57 248.29 1485.71 253.71C1484.86 259.14 1484 265.14 1484 270.86C1484 276.57 1485.14 282.29 1485.71 288C1486.29 293.71 1486.57 299.43 1487.43 305.14C1488.29 310.86 1489.71 317.14 1490.86 322.29C1492 327.43 1494 331.71 1494.29 336C1494.57 340.29 1492.86 346 1492.57 348" fill="none" stroke="#d0a564" stroke-width="1.08" stroke-linecap="round" stroke-linejoin="round"/>
<path d="M1492.57 257.14C1494.86 257.71 1501.71 260.57 1506.29 260.57C1510.86 260.57 1516 259.43 1520 257.14C1524 254.86 1527.43 250.29 1530.29 246.86C1533.14 243.43 1534.86 240 1537.14 236.57C1539.43 233.14 1542.86 228 1544 226.29" fill="none" stroke="#80592a" stroke-width="3.6" stroke-linecap="round" stroke-linejoin="round"/><path d="M1492.57 257.14C1494.86 257.71 1501.71 260.57 1506.29 260.57C1510.86 260.57 1516 259.43 1520 257.14C1524 254.86 1527.43 250.29 1530.29 246.86C1533.14 243.43 1534.86 240 1537.14 236.57C1539.43 233.14 1542.86 228 1544 226.29" fill="none" stroke="#b38445" stroke-width="2.81" stroke-linecap="round" stroke-linejoin="round"/><path d="M1492.57 257.14C1494.86 257.71 1501.71 260.57 1506.29 260.57C1510.86 260.57 1516 259.43 1520 257.14C1524 254.86 1527.43 250.29 1530.29 246.86C1533.14 243.43 1534.86 240 1537.14 236.57C1539.43 233.14 1542.86 228 1544 226.29" fill="none" stroke="#d0a564" stroke-width="1.08" stroke-linecap="round" stroke-linejoin="round"/>
<path d="M1530.29 246.86C1530.29 249.14 1529.43 256 1530.29 260.57C1531.14 265.14 1534.29 269.71 1535.43 274.29C1536.57 278.86 1536.86 285.71 1537.14 288" fill="none" stroke="#80592a" stroke-width="3.6" stroke-linecap="round" stroke-linejoin="round"/><path d="M1530.29 246.86C1530.29 249.14 1529.43 256 1530.29 260.57C1531.14 265.14 1534.29 269.71 1535.43 274.29C1536.57 278.86 1536.86 285.71 1537.14 288" fill="none" stroke="#b38445" stroke-width="2.81" stroke-linecap="round" stroke-linejoin="round"/><path d="M1530.29 246.86C1530.29 249.14 1529.43 256 1530.29 260.57C1531.14 265.14 1534.29 269.71 1535.43 274.29C1536.57 278.86 1536.86 285.71 1537.14 288" fill="none" stroke="#d0a564" stroke-width="1.08" stroke-linecap="round" stroke-linejoin="round"/>
<path d="M1585.14 205.71C1587.43 205.43 1594.57 203.43 1598.86 204C1603.14 204.57 1607.71 206.57 1610.86 209.14C1614 211.71 1616.86 215.71 1617.71 219.43C1618.57 223.14 1617.71 228.29 1616 231.43C1614.29 234.57 1608.86 237.14 1607.43 238.29" fill="none" stroke="#80592a" stroke-width="3.6" stroke-linecap="round" stroke-linejoin="round"/><path d="M1585.14 205.71C1587.43 205.43 1594.57 203.43 1598.86 204C1603.14 204.57 1607.71 206.57 1610.86 209.14C1614 211.71 1616.86 215.71 1617.71 219.43C1618.57 223.14 1617.71 228.29 1616 231.43C1614.29 234.57 1608.86 237.14 1607.43 238.29" fill="none" stroke="#b38445" stroke-width="2.81" stroke-linecap="round" stroke-linejoin="round"/><path d="M1585.14 205.71C1587.43 205.43 1594.57 203.43 1598.86 204C1603.14 204.57 1607.71 206.57 1610.86 209.14C1614 211.71 1616.86 215.71 1617.71 219.43C1618.57 223.14 1617.71 228.29 1616 231.43C1614.29 234.57 1608.86 237.14 1607.43 238.29" fill="none" stroke="#d0a564" stroke-width="1.08" stroke-linecap="round" stroke-linejoin="round"/>
<path d="M1621.14 243.43C1622.86 243.14 1628.29 241.43 1631.43 241.71C1634.57 242 1639.14 242.86 1640 245.14C1640.86 247.43 1638.86 252 1636.57 255.43C1634.29 258.86 1630 263.14 1626.29 265.71C1622.57 268.29 1616.29 270 1614.29 270.86" fill="none" stroke="#80592a" stroke-width="3.6" stroke-linecap="round" stroke-linejoin="round"/><path d="M1621.14 243.43C1622.86 243.14 1628.29 241.43 1631.43 241.71C1634.57 242 1639.14 242.86 1640 245.14C1640.86 247.43 1638.86 252 1636.57 255.43C1634.29 258.86 1630 263.14 1626.29 265.71C1622.57 268.29 1616.29 270 1614.29 270.86" fill="none" stroke="#b38445" stroke-width="2.81" stroke-linecap="round" stroke-linejoin="round"/><path d="M1621.14 243.43C1622.86 243.14 1628.29 241.43 1631.43 241.71C1634.57 242 1639.14 242.86 1640 245.14C1640.86 247.43 1638.86 252 1636.57 255.43C1634.29 258.86 1630 263.14 1626.29 265.71C1622.57 268.29 1616.29 270 1614.29 270.86" fill="none" stroke="#d0a564" stroke-width="1.08" stroke-linecap="round" stroke-linejoin="round"/>
<path d="M1537.14 298.29C1539.43 298.57 1546.29 300 1550.86 300C1555.43 300 1561.14 297.43 1564.57 298.29C1568 299.14 1570.29 304 1571.43 305.14" fill="none" stroke="#80592a" stroke-width="3.6" stroke-linecap="round" stroke-linejoin="round"/><path d="M1537.14 298.29C1539.43 298.57 1546.29 300 1550.86 300C1555.43 300 1561.14 297.43 1564.57 298.29C1568 299.14 1570.29 304 1571.43 305.14" fill="none" stroke="#b38445" stroke-width="2.81" stroke-linecap="round" stroke-linejoin="round"/><path d="M1537.14 298.29C1539.43 298.57 1546.29 300 1550.86 300C1555.43 300 1561.14 297.43 1564.57 298.29C1568 299.14 1570.29 304 1571.43 305.14" fill="none" stroke="#d0a564" stroke-width="1.08" stroke-linecap="round" stroke-linejoin="round"/>
<path d="M1496 212.57C1497.71 212 1502.57 209.14 1506.29 209.14C1510 209.14 1515.43 210.57 1518.29 212.57C1521.14 214.57 1522.57 219.71 1523.43 221.14" fill="none" stroke="#80592a" stroke-width="3.6" stroke-linecap="round" stroke-linejoin="round"/><path d="M1496 212.57C1497.71 212 1502.57 209.14 1506.29 209.14C1510 209.14 1515.43 210.57 1518.29 212.57C1521.14 214.57 1522.57 219.71 1523.43 221.14" fill="none" stroke="#b38445" stroke-width="2.81" stroke-linecap="round" stroke-linejoin="round"/><path d="M1496 212.57C1497.71 212 1502.57 209.14 1506.29 209.14C1510 209.14 1515.43 210.57 1518.29 212.57C1521.14 214.57 1522.57 219.71 1523.43 221.14" fill="none" stroke="#d0a564" stroke-width="1.08" stroke-linecap="round" stroke-linejoin="round"/>
<path d="M1434.29 308.57C1432 308.29 1424.86 306.57 1420.57 306.86C1416.29 307.14 1411.43 308 1408.57 310.29C1405.71 312.57 1404 316.29 1403.43 320.57C1402.86 324.86 1404.29 331.43 1405.14 336C1406 340.57 1408 346 1408.57 348" fill="none" stroke="#80592a" stroke-width="3.6" stroke-linecap="round" stroke-linejoin="round"/><path d="M1434.29 308.57C1432 308.29 1424.86 306.57 1420.57 306.86C1416.29 307.14 1411.43 308 1408.57 310.29C1405.71 312.57 1404 316.29 1403.43 320.57C1402.86 324.86 1404.29 331.43 1405.14 336C1406 340.57 1408 346 1408.57 348" fill="none" stroke="#b38445" stroke-width="2.81" stroke-linecap="round" stroke-linejoin="round"/><path d="M1434.29 308.57C1432 308.29 1424.86 306.57 1420.57 306.86C1416.29 307.14 1411.43 308 1408.57 310.29C1405.71 312.57 1404 316.29 1403.43 320.57C1402.86 324.86 1404.29 331.43 1405.14 336C1406 340.57 1408 346 1408.57 348" fill="none" stroke="#d0a564" stroke-width="1.08" stroke-linecap="round" stroke-linejoin="round"/>
<path d="M1437.71 306.86C1439.71 307.71 1446.29 310 1449.71 312C1453.14 314 1455.71 317.43 1458.29 318.86C1460.86 320.29 1464 320.29 1465.14 320.57" fill="none" stroke="#80592a" stroke-width="3.6" stroke-linecap="round" stroke-linejoin="round"/><path d="M1437.71 306.86C1439.71 307.71 1446.29 310 1449.71 312C1453.14 314 1455.71 317.43 1458.29 318.86C1460.86 320.29 1464 320.29 1465.14 320.57" fill="none" stroke="#b38445" stroke-width="2.81" stroke-linecap="round" stroke-linejoin="round"/><path d="M1437.71 306.86C1439.71 307.71 1446.29 310 1449.71 312C1453.14 314 1455.71 317.43 1458.29 318.86C1460.86 320.29 1464 320.29 1465.14 320.57" fill="none" stroke="#d0a564" stroke-width="1.08" stroke-linecap="round" stroke-linejoin="round"/>
<path d="M1415.43 368.57C1416.57 370 1419.43 374.86 1422.29 377.14C1425.14 379.43 1429.14 382 1432.57 382.29C1436 382.57 1440.57 381.14 1442.86 378.86C1445.14 376.57 1446.57 371.71 1446.29 368.57C1446 365.43 1443.43 361.71 1441.14 360C1438.86 358.29 1434 358.57 1432.57 358.29" fill="none" stroke="#80592a" stroke-width="3.6" stroke-linecap="round" stroke-linejoin="round"/><path d="M1415.43 368.57C1416.57 370 1419.43 374.86 1422.29 377.14C1425.14 379.43 1429.14 382 1432.57 382.29C1436 382.57 1440.57 381.14 1442.86 378.86C1445.14 376.57 1446.57 371.71 1446.29 368.57C1446 365.43 1443.43 361.71 1441.14 360C1438.86 358.29 1434 358.57 1432.57 358.29" fill="none" stroke="#b38445" stroke-width="2.81" stroke-linecap="round" stroke-linejoin="round"/><path d="M1415.43 368.57C1416.57 370 1419.43 374.86 1422.29 377.14C1425.14 379.43 1429.14 382 1432.57 382.29C1436 382.57 1440.57 381.14 1442.86 378.86C1445.14 376.57 1446.57 371.71 1446.29 368.57C1446 365.43 1443.43 361.71 1441.14 360C1438.86 358.29 1434 358.57 1432.57 358.29" fill="none" stroke="#d0a564" stroke-width="1.08" stroke-linecap="round" stroke-linejoin="round"/>
<path d="M1473.71 356.57C1471.71 356.86 1465.43 357.14 1461.71 358.29C1458 359.43 1454 360.86 1451.43 363.43C1448.86 366 1447.71 369.71 1446.29 373.71C1444.86 377.71 1444.29 383.43 1442.86 387.43C1441.43 391.43 1440.29 394.86 1437.71 397.71C1435.14 400.57 1430.57 402.29 1427.43 404.57C1424.29 406.86 1420.86 408.86 1418.86 411.43C1416.86 414 1416 418.57 1415.43 420" fill="none" stroke="#80592a" stroke-width="3.6" stroke-linecap="round" stroke-linejoin="round"/><path d="M1473.71 356.57C1471.71 356.86 1465.43 357.14 1461.71 358.29C1458 359.43 1454 360.86 1451.43 363.43C1448.86 366 1447.71 369.71 1446.29 373.71C1444.86 377.71 1444.29 383.43 1442.86 387.43C1441.43 391.43 1440.29 394.86 1437.71 397.71C1435.14 400.57 1430.57 402.29 1427.43 404.57C1424.29 406.86 1420.86 408.86 1418.86 411.43C1416.86 414 1416 418.57 1415.43 420" fill="none" stroke="#b38445" stroke-width="2.81" stroke-linecap="round" stroke-linejoin="round"/><path d="M1473.71 356.57C1471.71 356.86 1465.43 357.14 1461.71 358.29C1458 359.43 1454 360.86 1451.43 363.43C1448.86 366 1447.71 369.71 1446.29 373.71C1444.86 377.71 1444.29 383.43 1442.86 387.43C1441.43 391.43 1440.29 394.86 1437.71 397.71C1435.14 400.57 1430.57 402.29 1427.43 404.57C1424.29 406.86 1420.86 408.86 1418.86 411.43C1416.86 414 1416 418.57 1415.43 420" fill="none" stroke="#d0a564" stroke-width="1.08" stroke-linecap="round" stroke-linejoin="round"/>
<path d="M1492.57 348C1492.57 350 1493.14 356 1492.57 360C1492 364 1491.14 368.86 1489.14 372C1487.14 375.14 1483.71 376.29 1480.57 378.86C1477.43 381.43 1472.29 384.29 1470.29 387.43C1468.29 390.57 1468 394.29 1468.57 397.71C1469.14 401.14 1473.43 404.29 1473.71 408C1474 411.71 1470.86 418 1470.29 420" fill="none" stroke="#80592a" stroke-width="3.6" stroke-linecap="round" stroke-linejoin="round"/><path d="M1492.57 348C1492.57 350 1493.14 356 1492.57 360C1492 364 1491.14 368.86 1489.14 372C1487.14 375.14 1483.71 376.29 1480.57 378.86C1477.43 381.43 1472.29 384.29 1470.29 387.43C1468.29 390.57 1468 394.29 1468.57 397.71C1469.14 401.14 1473.43 404.29 1473.71 408C1474 411.71 1470.86 418 1470.29 420" fill="none" stroke="#b38445" stroke-width="2.81" stroke-linecap="round" stroke-linejoin="round"/><path d="M1492.57 348C1492.57 350 1493.14 356 1492.57 360C1492 364 1491.14 368.86 1489.14 372C1487.14 375.14 1483.71 376.29 1480.57 378.86C1477.43 381.43 1472.29 384.29 1470.29 387.43C1468.29 390.57 1468 394.29 1468.57 397.71C1469.14 401.14 1473.43 404.29 1473.71 408C1474 411.71 1470.86 418 1470.29 420" fill="none" stroke="#d0a564" stroke-width="1.08" stroke-linecap="round" stroke-linejoin="round"/>
<path d="M1400 363.43C1401.71 364.29 1406.57 368 1410.29 368.57C1414 369.14 1420.29 367.14 1422.29 366.86" fill="none" stroke="#80592a" stroke-width="3.6" stroke-linecap="round" stroke-linejoin="round"/><path d="M1400 363.43C1401.71 364.29 1406.57 368 1410.29 368.57C1414 369.14 1420.29 367.14 1422.29 366.86" fill="none" stroke="#b38445" stroke-width="2.81" stroke-linecap="round" stroke-linejoin="round"/><path d="M1400 363.43C1401.71 364.29 1406.57 368 1410.29 368.57C1414 369.14 1420.29 367.14 1422.29 366.86" fill="none" stroke="#d0a564" stroke-width="1.08" stroke-linecap="round" stroke-linejoin="round"/>
<path d="M1381.71 451.43C1383 450.57 1386.71 447.71 1389.43 446.29C1392.14 444.86 1395.14 444.86 1398 442.86C1400.86 440.86 1404 437.43 1406.57 434.29C1409.14 431.14 1411.14 427.43 1413.43 424C1415.71 420.57 1417.71 416.57 1420.29 413.71C1422.86 410.86 1425.71 408.57 1428.86 406.86C1432 405.14 1436 404.86 1439.14 403.43C1442.29 402 1445.71 400.57 1447.71 398.29C1449.71 396 1451.43 392.57 1451.14 389.71C1450.86 386.86 1447.71 384 1446 381.14C1444.29 378.29 1442 375.71 1440.86 372.57C1439.71 369.43 1439.43 364 1439.14 362.29" fill="none" stroke="#80592a" stroke-width="3.6" stroke-linecap="round" stroke-linejoin="round"/><path d="M1381.71 451.43C1383 450.57 1386.71 447.71 1389.43 446.29C1392.14 444.86 1395.14 444.86 1398 442.86C1400.86 440.86 1404 437.43 1406.57 434.29C1409.14 431.14 1411.14 427.43 1413.43 424C1415.71 420.57 1417.71 416.57 1420.29 413.71C1422.86 410.86 1425.71 408.57 1428.86 406.86C1432 405.14 1436 404.86 1439.14 403.43C1442.29 402 1445.71 400.57 1447.71 398.29C1449.71 396 1451.43 392.57 1451.14 389.71C1450.86 386.86 1447.71 384 1446 381.14C1444.29 378.29 1442 375.71 1440.86 372.57C1439.71 369.43 1439.43 364 1439.14 362.29" fill="none" stroke="#b38445" stroke-width="2.81" stroke-linecap="round" stroke-linejoin="round"/><path d="M1381.71 451.43C1383 450.57 1386.71 447.71 1389.43 446.29C1392.14 444.86 1395.14 444.86 1398 442.86C1400.86 440.86 1404 437.43 1406.57 434.29C1409.14 431.14 1411.14 427.43 1413.43 424C1415.71 420.57 1417.71 416.57 1420.29 413.71C1422.86 410.86 1425.71 408.57 1428.86 406.86C1432 405.14 1436 404.86 1439.14 403.43C1442.29 402 1445.71 400.57 1447.71 398.29C1449.71 396 1451.43 392.57 1451.14 389.71C1450.86 386.86 1447.71 384 1446 381.14C1444.29 378.29 1442 375.71 1440.86 372.57C1439.71 369.43 1439.43 364 1439.14 362.29" fill="none" stroke="#d0a564" stroke-width="1.08" stroke-linecap="round" stroke-linejoin="round"/>
<path d="M1406.57 458.29C1408 458 1412.29 457.71 1415.14 456.57C1418 455.43 1421.14 454 1423.71 451.43C1426.29 448.86 1428 444 1430.57 441.14C1433.14 438.29 1436 436 1439.14 434.29C1442.29 432.57 1446.29 432.29 1449.43 430.86C1452.57 429.43 1455.14 428 1458 425.71C1460.86 423.43 1464.29 420.29 1466.57 417.14C1468.86 414 1471.14 410 1471.71 406.86C1472.29 403.71 1469.43 400.86 1470 398.29C1470.57 395.71 1472.57 394 1475.14 391.43C1477.71 388.86 1482.57 386 1485.43 382.86C1488.29 379.71 1491.14 376 1492.29 372.57C1493.43 369.14 1493.14 365.71 1492.29 362.29C1491.43 358.86 1489.14 354.29 1487.14 352C1485.14 349.71 1481.43 349.14 1480.29 348.57" fill="none" stroke="#80592a" stroke-width="3.6" stroke-linecap="round" stroke-linejoin="round"/><path d="M1406.57 458.29C1408 458 1412.29 457.71 1415.14 456.57C1418 455.43 1421.14 454 1423.71 451.43C1426.29 448.86 1428 444 1430.57 441.14C1433.14 438.29 1436 436 1439.14 434.29C1442.29 432.57 1446.29 432.29 1449.43 430.86C1452.57 429.43 1455.14 428 1458 425.71C1460.86 423.43 1464.29 420.29 1466.57 417.14C1468.86 414 1471.14 410 1471.71 406.86C1472.29 403.71 1469.43 400.86 1470 398.29C1470.57 395.71 1472.57 394 1475.14 391.43C1477.71 388.86 1482.57 386 1485.43 382.86C1488.29 379.71 1491.14 376 1492.29 372.57C1493.43 369.14 1493.14 365.71 1492.29 362.29C1491.43 358.86 1489.14 354.29 1487.14 352C1485.14 349.71 1481.43 349.14 1480.29 348.57" fill="none" stroke="#b38445" stroke-width="2.81" stroke-linecap="round" stroke-linejoin="round"/><path d="M1406.57 458.29C1408 458 1412.29 457.71 1415.14 456.57C1418 455.43 1421.14 454 1423.71 451.43C1426.29 448.86 1428 444 1430.57 441.14C1433.14 438.29 1436 436 1439.14 434.29C1442.29 432.57 1446.29 432.29 1449.43 430.86C1452.57 429.43 1455.14 428 1458 425.71C1460.86 423.43 1464.29 420.29 1466.57 417.14C1468.86 414 1471.14 410 1471.71 406.86C1472.29 403.71 1469.43 400.86 1470 398.29C1470.57 395.71 1472.57 394 1475.14 391.43C1477.71 388.86 1482.57 386 1485.43 382.86C1488.29 379.71 1491.14 376 1492.29 372.57C1493.43 369.14 1493.14 365.71 1492.29 362.29C1491.43 358.86 1489.14 354.29 1487.14 352C1485.14 349.71 1481.43 349.14 1480.29 348.57" fill="none" stroke="#d0a564" stroke-width="1.08" stroke-linecap="round" stroke-linejoin="round"/>
<path d="M1536.86 340C1538.29 340.86 1542.57 342.86 1545.43 345.14C1548.29 347.43 1551.86 351.29 1554 353.71C1556.14 356.14 1557.57 358.71 1558.29 359.71" fill="none" stroke="#80592a" stroke-width="3.6" stroke-linecap="round" stroke-linejoin="round"/><path d="M1536.86 340C1538.29 340.86 1542.57 342.86 1545.43 345.14C1548.29 347.43 1551.86 351.29 1554 353.71C1556.14 356.14 1557.57 358.71 1558.29 359.71" fill="none" stroke="#b38445" stroke-width="2.81" stroke-linecap="round" stroke-linejoin="round"/><path d="M1536.86 340C1538.29 340.86 1542.57 342.86 1545.43 345.14C1548.29 347.43 1551.86 351.29 1554 353.71C1556.14 356.14 1557.57 358.71 1558.29 359.71" fill="none" stroke="#d0a564" stroke-width="1.08" stroke-linecap="round" stroke-linejoin="round"/>
<path d="M1540.29 336.57C1541.71 335.43 1548.29 330.57 1548.86 329.71C1549.43 328.86 1545.71 329.71 1543.71 331.43C1541.71 333.14 1538 338.57 1536.86 340" fill="none" stroke="#80592a" stroke-width="3.6" stroke-linecap="round" stroke-linejoin="round"/><path d="M1540.29 336.57C1541.71 335.43 1548.29 330.57 1548.86 329.71C1549.43 328.86 1545.71 329.71 1543.71 331.43C1541.71 333.14 1538 338.57 1536.86 340" fill="none" stroke="#b38445" stroke-width="2.81" stroke-linecap="round" stroke-linejoin="round"/><path d="M1540.29 336.57C1541.71 335.43 1548.29 330.57 1548.86 329.71C1549.43 328.86 1545.71 329.71 1543.71 331.43C1541.71 333.14 1538 338.57 1536.86 340" fill="none" stroke="#d0a564" stroke-width="1.08" stroke-linecap="round" stroke-linejoin="round"/>
<path d="M1415.14 365.71C1415.71 367.43 1416.29 373.71 1418.57 376C1420.86 378.29 1425.14 379.14 1428.86 379.43C1432.57 379.71 1437.71 379.43 1440.86 377.71C1444 376 1446.86 372.57 1447.71 369.14C1448.57 365.71 1446.29 359.14 1446 357.14" fill="none" stroke="#8a6230" stroke-width="3" stroke-linecap="round" stroke-linejoin="round"/><path d="M1415.14 365.71C1415.71 367.43 1416.29 373.71 1418.57 376C1420.86 378.29 1425.14 379.14 1428.86 379.43C1432.57 379.71 1437.71 379.43 1440.86 377.71C1444 376 1446.86 372.57 1447.71 369.14C1448.57 365.71 1446.29 359.14 1446 357.14" fill="none" stroke="#b88a4a" stroke-width="2.34" stroke-linecap="round" stroke-linejoin="round"/><path d="M1415.14 365.71C1415.71 367.43 1416.29 373.71 1418.57 376C1420.86 378.29 1425.14 379.14 1428.86 379.43C1432.57 379.71 1437.71 379.43 1440.86 377.71C1444 376 1446.86 372.57 1447.71 369.14C1448.57 365.71 1446.29 359.14 1446 357.14" fill="none" stroke="#d4aa6a" stroke-width="0.9" stroke-linecap="round" stroke-linejoin="round"/>
<path d="M1492.57 192C1492 189.71 1489.14 182.29 1489.14 178.29C1489.14 174.29 1490.29 170.29 1492.57 168C1494.86 165.71 1498.86 164.86 1502.86 164.57C1506.86 164.29 1513.14 165.14 1516.57 166.29C1520 167.43 1521.71 169.14 1523.43 171.43C1525.14 173.71 1526.29 178.57 1526.86 180" fill="none" stroke="#c98aae" stroke-width="3.6" stroke-linecap="round" stroke-linejoin="round"/><path d="M1492.57 192C1492 189.71 1489.14 182.29 1489.14 178.29C1489.14 174.29 1490.29 170.29 1492.57 168C1494.86 165.71 1498.86 164.86 1502.86 164.57C1506.86 164.29 1513.14 165.14 1516.57 166.29C1520 167.43 1521.71 169.14 1523.43 171.43C1525.14 173.71 1526.29 178.57 1526.86 180" fill="none" stroke="#efb4d6" stroke-width="2.81" stroke-linecap="round" stroke-linejoin="round"/><path d="M1492.57 192C1492 189.71 1489.14 182.29 1489.14 178.29C1489.14 174.29 1490.29 170.29 1492.57 168C1494.86 165.71 1498.86 164.86 1502.86 164.57C1506.86 164.29 1513.14 165.14 1516.57 166.29C1520 167.43 1521.71 169.14 1523.43 171.43C1525.14 173.71 1526.29 178.57 1526.86 180" fill="none" stroke="#f6c9e3" stroke-width="1.08" stroke-linecap="round" stroke-linejoin="round"/>
<path d="M1545.71 171.43C1545.43 169.14 1543.71 161.71 1544 157.71C1544.29 153.71 1545.14 150.29 1547.43 147.43C1549.71 144.57 1554.29 142 1557.71 140.57C1561.14 139.14 1564.57 138.57 1568 138.86C1571.43 139.14 1575.43 140.57 1578.29 142.29C1581.14 144 1584.57 147.14 1585.14 149.14C1585.71 151.14 1583.71 153.71 1581.71 154.29C1579.71 154.86 1574.57 152.86 1573.14 152.57" fill="none" stroke="#c98aae" stroke-width="3.6" stroke-linecap="round" stroke-linejoin="round"/><path d="M1545.71 171.43C1545.43 169.14 1543.71 161.71 1544 157.71C1544.29 153.71 1545.14 150.29 1547.43 147.43C1549.71 144.57 1554.29 142 1557.71 140.57C1561.14 139.14 1564.57 138.57 1568 138.86C1571.43 139.14 1575.43 140.57 1578.29 142.29C1581.14 144 1584.57 147.14 1585.14 149.14C1585.71 151.14 1583.71 153.71 1581.71 154.29C1579.71 154.86 1574.57 152.86 1573.14 152.57" fill="none" stroke="#efb4d6" stroke-width="2.81" stroke-linecap="round" stroke-linejoin="round"/><path d="M1545.71 171.43C1545.43 169.14 1543.71 161.71 1544 157.71C1544.29 153.71 1545.14 150.29 1547.43 147.43C1549.71 144.57 1554.29 142 1557.71 140.57C1561.14 139.14 1564.57 138.57 1568 138.86C1571.43 139.14 1575.43 140.57 1578.29 142.29C1581.14 144 1584.57 147.14 1585.14 149.14C1585.71 151.14 1583.71 153.71 1581.71 154.29C1579.71 154.86 1574.57 152.86 1573.14 152.57" fill="none" stroke="#f6c9e3" stroke-width="1.08" stroke-linecap="round" stroke-linejoin="round"/>
<path d="M1571.43 176.57C1574.29 176.57 1582.86 176.86 1588.57 176.57C1594.29 176.29 1600.57 174.57 1605.71 174.86C1610.86 175.14 1615.14 178 1619.43 178.29C1623.71 178.57 1627.43 177.43 1631.43 176.57C1635.43 175.71 1639.14 173.71 1643.43 173.14C1647.71 172.57 1652.86 172.57 1657.14 173.14C1661.43 173.71 1666.57 174.86 1669.14 176.57C1671.71 178.29 1672.86 181.71 1672.57 183.43C1672.29 185.14 1670.57 186.57 1667.43 186.86C1664.29 187.14 1658.29 185.14 1653.71 185.14C1649.14 185.14 1644.57 186.29 1640 186.86C1635.43 187.43 1630.57 188.29 1626.29 188.57C1622 188.86 1618.29 188.29 1614.29 188.57C1610.29 188.86 1604.29 190 1602.29 190.29" fill="none" stroke="#c98aae" stroke-width="3.6" stroke-linecap="round" stroke-linejoin="round"/><path d="M1571.43 176.57C1574.29 176.57 1582.86 176.86 1588.57 176.57C1594.29 176.29 1600.57 174.57 1605.71 174.86C1610.86 175.14 1615.14 178 1619.43 178.29C1623.71 178.57 1627.43 177.43 1631.43 176.57C1635.43 175.71 1639.14 173.71 1643.43 173.14C1647.71 172.57 1652.86 172.57 1657.14 173.14C1661.43 173.71 1666.57 174.86 1669.14 176.57C1671.71 178.29 1672.86 181.71 1672.57 183.43C1672.29 185.14 1670.57 186.57 1667.43 186.86C1664.29 187.14 1658.29 185.14 1653.71 185.14C1649.14 185.14 1644.57 186.29 1640 186.86C1635.43 187.43 1630.57 188.29 1626.29 188.57C1622 188.86 1618.29 188.29 1614.29 188.57C1610.29 188.86 1604.29 190 1602.29 190.29" fill="none" stroke="#efb4d6" stroke-width="2.81" stroke-linecap="round" stroke-linejoin="round"/><path d="M1571.43 176.57C1574.29 176.57 1582.86 176.86 1588.57 176.57C1594.29 176.29 1600.57 174.57 1605.71 174.86C1610.86 175.14 1615.14 178 1619.43 178.29C1623.71 178.57 1627.43 177.43 1631.43 176.57C1635.43 175.71 1639.14 173.71 1643.43 173.14C1647.71 172.57 1652.86 172.57 1657.14 173.14C1661.43 173.71 1666.57 174.86 1669.14 176.57C1671.71 178.29 1672.86 181.71 1672.57 183.43C1672.29 185.14 1670.57 186.57 1667.43 186.86C1664.29 187.14 1658.29 185.14 1653.71 185.14C1649.14 185.14 1644.57 186.29 1640 186.86C1635.43 187.43 1630.57 188.29 1626.29 188.57C1622 188.86 1618.29 188.29 1614.29 188.57C1610.29 188.86 1604.29 190 1602.29 190.29" fill="none" stroke="#f6c9e3" stroke-width="1.08" stroke-linecap="round" stroke-linejoin="round"/>
<path d="M1619.43 178.29C1620 176.57 1621.14 170.86 1622.86 168C1624.57 165.14 1627.14 162.57 1629.71 161.14C1632.29 159.71 1635.71 160.57 1638.29 159.43C1640.86 158.29 1642.86 156 1645.14 154.29C1647.43 152.57 1650 149.43 1652 149.14C1654 148.86 1656 150.57 1657.14 152.57C1658.29 154.57 1658.57 159.71 1658.86 161.14" fill="none" stroke="#c98aae" stroke-width="3.6" stroke-linecap="round" stroke-linejoin="round"/><path d="M1619.43 178.29C1620 176.57 1621.14 170.86 1622.86 168C1624.57 165.14 1627.14 162.57 1629.71 161.14C1632.29 159.71 1635.71 160.57 1638.29 159.43C1640.86 158.29 1642.86 156 1645.14 154.29C1647.43 152.57 1650 149.43 1652 149.14C1654 148.86 1656 150.57 1657.14 152.57C1658.29 154.57 1658.57 159.71 1658.86 161.14" fill="none" stroke="#efb4d6" stroke-width="2.81" stroke-linecap="round" stroke-linejoin="round"/><path d="M1619.43 178.29C1620 176.57 1621.14 170.86 1622.86 168C1624.57 165.14 1627.14 162.57 1629.71 161.14C1632.29 159.71 1635.71 160.57 1638.29 159.43C1640.86 158.29 1642.86 156 1645.14 154.29C1647.43 152.57 1650 149.43 1652 149.14C1654 148.86 1656 150.57 1657.14 152.57C1658.29 154.57 1658.57 159.71 1658.86 161.14" fill="none" stroke="#f6c9e3" stroke-width="1.08" stroke-linecap="round" stroke-linejoin="round"/>
<path d="M1573.14 253.71C1574.57 255.43 1578.29 261.43 1581.71 264C1585.14 266.57 1589.71 268 1593.71 269.14C1597.71 270.29 1601.43 271.14 1605.71 270.86C1610 270.57 1615.43 269.14 1619.43 267.43C1623.43 265.71 1627.14 263.14 1629.71 260.57C1632.29 258 1634.29 254.57 1634.86 252C1635.43 249.43 1635.14 246.57 1633.14 245.14C1631.14 243.71 1626.57 244 1622.86 243.43C1619.14 242.86 1614.57 242.29 1610.86 241.71C1607.14 241.14 1602.29 240.29 1600.57 240" fill="none" stroke="#c98aae" stroke-width="3.6" stroke-linecap="round" stroke-linejoin="round"/><path d="M1573.14 253.71C1574.57 255.43 1578.29 261.43 1581.71 264C1585.14 266.57 1589.71 268 1593.71 269.14C1597.71 270.29 1601.43 271.14 1605.71 270.86C1610 270.57 1615.43 269.14 1619.43 267.43C1623.43 265.71 1627.14 263.14 1629.71 260.57C1632.29 258 1634.29 254.57 1634.86 252C1635.43 249.43 1635.14 246.57 1633.14 245.14C1631.14 243.71 1626.57 244 1622.86 243.43C1619.14 242.86 1614.57 242.29 1610.86 241.71C1607.14 241.14 1602.29 240.29 1600.57 240" fill="none" stroke="#efb4d6" stroke-width="2.81" stroke-linecap="round" stroke-linejoin="round"/><path d="M1573.14 253.71C1574.57 255.43 1578.29 261.43 1581.71 264C1585.14 266.57 1589.71 268 1593.71 269.14C1597.71 270.29 1601.43 271.14 1605.71 270.86C1610 270.57 1615.43 269.14 1619.43 267.43C1623.43 265.71 1627.14 263.14 1629.71 260.57C1632.29 258 1634.29 254.57 1634.86 252C1635.43 249.43 1635.14 246.57 1633.14 245.14C1631.14 243.71 1626.57 244 1622.86 243.43C1619.14 242.86 1614.57 242.29 1610.86 241.71C1607.14 241.14 1602.29 240.29 1600.57 240" fill="none" stroke="#f6c9e3" stroke-width="1.08" stroke-linecap="round" stroke-linejoin="round"/>
<polygon points="1523.43,183.43 1535.43,180 1542.29,197.14 1547.43,212.57 1550.86,226.29 1542.29,229.71 1535.43,216 1528.57,198.86" fill="#dfa6c6"/>
<polygon points="1561.14,145.71 1571.43,148.29 1574.86,154.29 1568,156.86 1562,153.43" fill="#8c5f78"/>
<polygon points="1564.23,160.8 1579.14,176.57 1576.57,179.14 1584.29,209.14 1595.43,238.29 1613.43,263.14 1600.57,269.49 1586.86,250.29 1576.57,226.29 1569.71,200.57 1565.43,185.14 1559.43,187.2" fill="#a87c40" stroke="#7a5528" stroke-width="0.6" stroke-linejoin="round"/>
<polygon points="1536.29,176.57 1549.14,173.49 1554.29,192 1559.43,209.14 1562.86,222.86 1554.29,229.71 1549.14,216 1542.29,195.43" fill="#a87c40" stroke="#7a5528" stroke-width="0.6" stroke-linejoin="round"/>
<polygon points="1511.09,188.91 1523.43,187.2 1530.29,202.29 1538.86,217.71 1542.29,226.29 1533.71,229.71 1523.43,212.57 1514.86,198.86" fill="#b08445" stroke="#7a5528" stroke-width="0.6" stroke-linejoin="round"/>
<path d="M1554.29 176.57C1555.14 180 1557.71 190 1559.43 197.14C1561.14 204.29 1562.86 212.29 1564.57 219.43C1566.29 226.57 1568.29 234.29 1569.71 240C1571.14 245.71 1572.57 251.43 1573.14 253.71" fill="none" stroke="#c98aae" stroke-width="5" stroke-linecap="round" stroke-linejoin="round"/><path d="M1554.29 176.57C1555.14 180 1557.71 190 1559.43 197.14C1561.14 204.29 1562.86 212.29 1564.57 219.43C1566.29 226.57 1568.29 234.29 1569.71 240C1571.14 245.71 1572.57 251.43 1573.14 253.71" fill="none" stroke="#efb4d6" stroke-width="3.9" stroke-linecap="round" stroke-linejoin="round"/><path d="M1554.29 176.57C1555.14 180 1557.71 190 1559.43 197.14C1561.14 204.29 1562.86 212.29 1564.57 219.43C1566.29 226.57 1568.29 234.29 1569.71 240C1571.14 245.71 1572.57 251.43 1573.14 253.71" fill="none" stroke="#f6c9e3" stroke-width="1.5" stroke-linecap="round" stroke-linejoin="round"/>
<polygon points="1571.43,178.29 1588.57,177.43 1605.71,175.71 1617.71,179.14 1616,187.71 1602.29,189.43 1586.86,188.57 1573.14,186.86" fill="#e3a8c8"/>
<polygon points="1586.86,217.71 1595.43,221.14 1605.71,229.71 1609.14,236.57 1602.29,240 1592,233.14 1581.71,226.29" fill="#9a7238" stroke="#7a5528" stroke-width="0.6" stroke-linejoin="round"/>
<polygon points="1538.86,252 1547.43,250.29 1564.57,262.29 1580,274.29 1576.57,279.43 1559.43,270.86 1544,260.57" fill="#b08445" stroke="#7a5528" stroke-width="0.6" stroke-linejoin="round"/>
<polygon points="1573.14,257.14 1590.29,246.86 1605.71,243.43 1607.43,250.29 1592,255.43 1578.29,265.71" fill="#b88a48" stroke="#7a5528" stroke-width="0.6" stroke-linejoin="round"/>
<polygon points="1598.86,269.14 1614.29,273.43 1597.14,293.14 1574.86,315.43 1554.29,330.86 1537.14,342 1545.71,324 1557.71,305.14 1576.57,289.71" fill="#b08445" stroke="#7a5528" stroke-width="0.6" stroke-linejoin="round"/>
<polygon points="1554.29,291.43 1564.57,284.57 1571.43,291.43 1562.86,301.71 1556,306.86" fill="#9a7238" stroke="#7a5528" stroke-width="0.6" stroke-linejoin="round"/>
<polygon points="1400,344.57 1410.29,340.29 1416.29,360 1403.43,367.71" fill="#9a7238" stroke="#7a5528" stroke-width="0.6" stroke-linejoin="round"/>
<polygon points="1473.71,353.14 1485.71,346.29 1490,353.14 1477.14,360.86" fill="#a87c40" stroke="#7a5528" stroke-width="0.6" stroke-linejoin="round"/>
<polygon points="1430,306 1436.86,304.29 1438.57,310.29 1431.71,312.86" fill="#a87c40" stroke="#7a5528" stroke-width="0.6" stroke-linejoin="round"/>
<path d="M1463.43 202.29C1463.71 200.57 1463.14 194.29 1465.14 192C1467.14 189.71 1472 188.57 1475.43 188.57C1478.86 188.57 1483.14 190 1485.71 192C1488.29 194 1490.57 196.57 1490.86 200.57C1491.14 204.57 1488 213.43 1487.43 216" fill="none" stroke="#86b6b6" stroke-width="3.6" stroke-linecap="round" stroke-linejoin="round"/><path d="M1463.43 202.29C1463.71 200.57 1463.14 194.29 1465.14 192C1467.14 189.71 1472 188.57 1475.43 188.57C1478.86 188.57 1483.14 190 1485.71 192C1488.29 194 1490.57 196.57 1490.86 200.57C1491.14 204.57 1488 213.43 1487.43 216" fill="none" stroke="#b6e5e5" stroke-width="2.81" stroke-linecap="round" stroke-linejoin="round"/><path d="M1463.43 202.29C1463.71 200.57 1463.14 194.29 1465.14 192C1467.14 189.71 1472 188.57 1475.43 188.57C1478.86 188.57 1483.14 190 1485.71 192C1488.29 194 1490.57 196.57 1490.86 200.57C1491.14 204.57 1488 213.43 1487.43 216" fill="none" stroke="#d4f3f3" stroke-width="1.08" stroke-linecap="round" stroke-linejoin="round"/>
<path d="M1496 270.86C1497.14 272.57 1499.43 278.86 1502.86 281.14C1506.29 283.43 1512 284.29 1516.57 284.57C1521.14 284.86 1526.86 284.57 1530.29 282.86C1533.71 281.14 1536 277.71 1537.14 274.29C1538.29 270.86 1538.29 265.43 1537.14 262.29C1536 259.14 1532 257.43 1530.29 255.43C1528.57 253.43 1527.43 251.14 1526.86 250.29" fill="none" stroke="#86b6b6" stroke-width="3.6" stroke-linecap="round" stroke-linejoin="round"/><path d="M1496 270.86C1497.14 272.57 1499.43 278.86 1502.86 281.14C1506.29 283.43 1512 284.29 1516.57 284.57C1521.14 284.86 1526.86 284.57 1530.29 282.86C1533.71 281.14 1536 277.71 1537.14 274.29C1538.29 270.86 1538.29 265.43 1537.14 262.29C1536 259.14 1532 257.43 1530.29 255.43C1528.57 253.43 1527.43 251.14 1526.86 250.29" fill="none" stroke="#b6e5e5" stroke-width="2.81" stroke-linecap="round" stroke-linejoin="round"/><path d="M1496 270.86C1497.14 272.57 1499.43 278.86 1502.86 281.14C1506.29 283.43 1512 284.29 1516.57 284.57C1521.14 284.86 1526.86 284.57 1530.29 282.86C1533.71 281.14 1536 277.71 1537.14 274.29C1538.29 270.86 1538.29 265.43 1537.14 262.29C1536 259.14 1532 257.43 1530.29 255.43C1528.57 253.43 1527.43 251.14 1526.86 250.29" fill="none" stroke="#d4f3f3" stroke-width="1.08" stroke-linecap="round" stroke-linejoin="round"/>
<path d="M1540.57 286.29C1542.29 286 1547.71 286.86 1550.86 284.57C1554 282.29 1556.86 276.57 1559.43 272.57C1562 268.57 1563.71 261.71 1566.29 260.57C1568.86 259.43 1572.86 262.86 1574.86 265.71C1576.86 268.57 1577.71 273.43 1578.29 277.71C1578.86 282 1578.29 289.14 1578.29 291.43" fill="none" stroke="#86b6b6" stroke-width="3.6" stroke-linecap="round" stroke-linejoin="round"/><path d="M1540.57 286.29C1542.29 286 1547.71 286.86 1550.86 284.57C1554 282.29 1556.86 276.57 1559.43 272.57C1562 268.57 1563.71 261.71 1566.29 260.57C1568.86 259.43 1572.86 262.86 1574.86 265.71C1576.86 268.57 1577.71 273.43 1578.29 277.71C1578.86 282 1578.29 289.14 1578.29 291.43" fill="none" stroke="#b6e5e5" stroke-width="2.81" stroke-linecap="round" stroke-linejoin="round"/><path d="M1540.57 286.29C1542.29 286 1547.71 286.86 1550.86 284.57C1554 282.29 1556.86 276.57 1559.43 272.57C1562 268.57 1563.71 261.71 1566.29 260.57C1568.86 259.43 1572.86 262.86 1574.86 265.71C1576.86 268.57 1577.71 273.43 1578.29 277.71C1578.86 282 1578.29 289.14 1578.29 291.43" fill="none" stroke="#d4f3f3" stroke-width="1.08" stroke-linecap="round" stroke-linejoin="round"/>
<path d="M1506.29 229.71C1507.14 227.71 1510 220.29 1511.43 217.71C1512.86 215.14 1514.29 214.86 1514.86 214.29" fill="none" stroke="#86b6b6" stroke-width="3.6" stroke-linecap="round" stroke-linejoin="round"/><path d="M1506.29 229.71C1507.14 227.71 1510 220.29 1511.43 217.71C1512.86 215.14 1514.29 214.86 1514.86 214.29" fill="none" stroke="#b6e5e5" stroke-width="2.81" stroke-linecap="round" stroke-linejoin="round"/><path d="M1506.29 229.71C1507.14 227.71 1510 220.29 1511.43 217.71C1512.86 215.14 1514.29 214.86 1514.86 214.29" fill="none" stroke="#d4f3f3" stroke-width="1.08" stroke-linecap="round" stroke-linejoin="round"/>
<path d="M1535.43 226.29C1536.57 225.71 1540.57 222.29 1542.29 222.86C1544 223.43 1546.29 227.43 1545.71 229.71C1545.14 232 1540.86 236.29 1538.86 236.57C1536.86 236.86 1534.57 232.29 1533.71 231.43" fill="none" stroke="#86b6b6" stroke-width="3.6" stroke-linecap="round" stroke-linejoin="round"/><path d="M1535.43 226.29C1536.57 225.71 1540.57 222.29 1542.29 222.86C1544 223.43 1546.29 227.43 1545.71 229.71C1545.14 232 1540.86 236.29 1538.86 236.57C1536.86 236.86 1534.57 232.29 1533.71 231.43" fill="none" stroke="#b6e5e5" stroke-width="2.81" stroke-linecap="round" stroke-linejoin="round"/><path d="M1535.43 226.29C1536.57 225.71 1540.57 222.29 1542.29 222.86C1544 223.43 1546.29 227.43 1545.71 229.71C1545.14 232 1540.86 236.29 1538.86 236.57C1536.86 236.86 1534.57 232.29 1533.71 231.43" fill="none" stroke="#d4f3f3" stroke-width="1.08" stroke-linecap="round" stroke-linejoin="round"/>
<path d="M1502.86 243.43C1504.57 244.86 1509.71 249.71 1513.14 252C1516.57 254.29 1520.57 256.86 1523.43 257.14C1526.29 257.43 1529.14 254.29 1530.29 253.71" fill="none" stroke="#86b6b6" stroke-width="3.6" stroke-linecap="round" stroke-linejoin="round"/><path d="M1502.86 243.43C1504.57 244.86 1509.71 249.71 1513.14 252C1516.57 254.29 1520.57 256.86 1523.43 257.14C1526.29 257.43 1529.14 254.29 1530.29 253.71" fill="none" stroke="#b6e5e5" stroke-width="2.81" stroke-linecap="round" stroke-linejoin="round"/><path d="M1502.86 243.43C1504.57 244.86 1509.71 249.71 1513.14 252C1516.57 254.29 1520.57 256.86 1523.43 257.14C1526.29 257.43 1529.14 254.29 1530.29 253.71" fill="none" stroke="#d4f3f3" stroke-width="1.08" stroke-linecap="round" stroke-linejoin="round"/>
<path d="M1468.57 336C1469.14 337.43 1469.71 342.29 1472 344.57C1474.29 346.86 1478.29 349.14 1482.29 349.71C1486.29 350.29 1492.57 349.14 1496 348C1499.43 346.86 1502.29 345.14 1502.86 342.86C1503.43 340.57 1500 335.71 1499.43 334.29" fill="none" stroke="#86b6b6" stroke-width="3.6" stroke-linecap="round" stroke-linejoin="round"/><path d="M1468.57 336C1469.14 337.43 1469.71 342.29 1472 344.57C1474.29 346.86 1478.29 349.14 1482.29 349.71C1486.29 350.29 1492.57 349.14 1496 348C1499.43 346.86 1502.29 345.14 1502.86 342.86C1503.43 340.57 1500 335.71 1499.43 334.29" fill="none" stroke="#b6e5e5" stroke-width="2.81" stroke-linecap="round" stroke-linejoin="round"/><path d="M1468.57 336C1469.14 337.43 1469.71 342.29 1472 344.57C1474.29 346.86 1478.29 349.14 1482.29 349.71C1486.29 350.29 1492.57 349.14 1496 348C1499.43 346.86 1502.29 345.14 1502.86 342.86C1503.43 340.57 1500 335.71 1499.43 334.29" fill="none" stroke="#d4f3f3" stroke-width="1.08" stroke-linecap="round" stroke-linejoin="round"/>
<polygon points="1444.57,222.86 1456.57,216 1468.57,217.71 1468.57,236.57 1456.57,240 1446.29,236.57" fill="#b6e5e5" stroke="#86b6b6" stroke-width="0.7" stroke-linejoin="round"/>
<polygon points="1461.71,240 1473.71,238.29 1475.43,253.71 1472,264 1463.43,262.29 1461.71,252" fill="#b6e5e5" stroke="#86b6b6" stroke-width="0.7" stroke-linejoin="round"/>
<polygon points="1502.86,221.14 1507.14,229.71 1502.86,233.14 1496,246.86 1489.14,262.29 1480.57,279.43 1473.71,284.57 1480.57,267.43 1487.43,252 1492.57,238.29 1490.86,233.14 1496,229.71" fill="#b6e5e5" stroke="#86b6b6" stroke-width="0.7" stroke-linejoin="round"/>
<polygon points="1463.43,334.29 1475.43,335.14 1477.14,317.14 1482.29,300 1490.86,282.86 1496,270.86 1489.14,269.14 1480.57,284.57 1472,301.71 1466,317.14" fill="#b6e5e5" stroke="#86b6b6" stroke-width="0.7" stroke-linejoin="round"/>
<path d="M1441.14 185.14C1442 186.86 1444 192 1446.29 195.43C1448.57 198.86 1451.43 202.86 1454.86 205.71C1458.29 208.57 1463.14 210.86 1466.86 212.57C1470.57 214.29 1474.86 213.71 1477.14 216C1479.43 218.29 1480 222.57 1480.57 226.29C1481.14 230 1479.43 234.29 1480.57 238.29C1481.71 242.29 1485.43 246.29 1487.43 250.29C1489.43 254.29 1491.43 258 1492.57 262.29C1493.71 266.57 1493.71 271.14 1494.29 276C1494.86 280.86 1495.14 286 1496 291.43C1496.86 296.86 1498.57 303.43 1499.43 308.57C1500.29 313.71 1501.71 318 1501.14 322.29C1500.57 326.57 1497.71 330 1496 334.29C1494.29 338.57 1493.14 344 1490.86 348C1488.57 352 1486 356.29 1482.29 358.29C1478.57 360.29 1472.57 358.86 1468.57 360C1464.57 361.14 1461.14 362.29 1458.29 365.14C1455.43 368 1453.43 373.43 1451.43 377.14C1449.43 380.86 1448.29 384 1446.29 387.43C1444.29 390.86 1441.43 393.71 1439.43 397.71C1437.43 401.71 1435.43 407.71 1434.29 411.43C1433.14 415.14 1432.86 418.57 1432.57 420" fill="none" stroke="#2424a6" stroke-width="3.6" stroke-linecap="round" stroke-linejoin="round"/><path d="M1441.14 185.14C1442 186.86 1444 192 1446.29 195.43C1448.57 198.86 1451.43 202.86 1454.86 205.71C1458.29 208.57 1463.14 210.86 1466.86 212.57C1470.57 214.29 1474.86 213.71 1477.14 216C1479.43 218.29 1480 222.57 1480.57 226.29C1481.14 230 1479.43 234.29 1480.57 238.29C1481.71 242.29 1485.43 246.29 1487.43 250.29C1489.43 254.29 1491.43 258 1492.57 262.29C1493.71 266.57 1493.71 271.14 1494.29 276C1494.86 280.86 1495.14 286 1496 291.43C1496.86 296.86 1498.57 303.43 1499.43 308.57C1500.29 313.71 1501.71 318 1501.14 322.29C1500.57 326.57 1497.71 330 1496 334.29C1494.29 338.57 1493.14 344 1490.86 348C1488.57 352 1486 356.29 1482.29 358.29C1478.57 360.29 1472.57 358.86 1468.57 360C1464.57 361.14 1461.14 362.29 1458.29 365.14C1455.43 368 1453.43 373.43 1451.43 377.14C1449.43 380.86 1448.29 384 1446.29 387.43C1444.29 390.86 1441.43 393.71 1439.43 397.71C1437.43 401.71 1435.43 407.71 1434.29 411.43C1433.14 415.14 1432.86 418.57 1432.57 420" fill="none" stroke="#3d3ddc" stroke-width="2.81" stroke-linecap="round" stroke-linejoin="round"/><path d="M1441.14 185.14C1442 186.86 1444 192 1446.29 195.43C1448.57 198.86 1451.43 202.86 1454.86 205.71C1458.29 208.57 1463.14 210.86 1466.86 212.57C1470.57 214.29 1474.86 213.71 1477.14 216C1479.43 218.29 1480 222.57 1480.57 226.29C1481.14 230 1479.43 234.29 1480.57 238.29C1481.71 242.29 1485.43 246.29 1487.43 250.29C1489.43 254.29 1491.43 258 1492.57 262.29C1493.71 266.57 1493.71 271.14 1494.29 276C1494.86 280.86 1495.14 286 1496 291.43C1496.86 296.86 1498.57 303.43 1499.43 308.57C1500.29 313.71 1501.71 318 1501.14 322.29C1500.57 326.57 1497.71 330 1496 334.29C1494.29 338.57 1493.14 344 1490.86 348C1488.57 352 1486 356.29 1482.29 358.29C1478.57 360.29 1472.57 358.86 1468.57 360C1464.57 361.14 1461.14 362.29 1458.29 365.14C1455.43 368 1453.43 373.43 1451.43 377.14C1449.43 380.86 1448.29 384 1446.29 387.43C1444.29 390.86 1441.43 393.71 1439.43 397.71C1437.43 401.71 1435.43 407.71 1434.29 411.43C1433.14 415.14 1432.86 418.57 1432.57 420" fill="none" stroke="#6a6af0" stroke-width="1.08" stroke-linecap="round" stroke-linejoin="round"/>
<path d="M1569.71 274.29C1568 275.43 1563.14 279.14 1559.43 281.14C1555.71 283.14 1551.43 285.71 1547.43 286.29C1543.43 286.86 1538 283.43 1535.43 284.57C1532.86 285.71 1532.29 289.71 1532 293.14C1531.71 296.57 1534 301.14 1533.71 305.14C1533.43 309.14 1532.57 313.71 1530.29 317.14C1528 320.57 1524 323.71 1520 325.71C1516 327.71 1510.29 327.71 1506.29 329.14C1502.29 330.57 1497.14 332.29 1496 334.29C1494.86 336.29 1497.71 338.86 1499.43 341.14C1501.14 343.43 1504.86 344.86 1506.29 348C1507.71 351.14 1508.57 356 1508 360C1507.43 364 1505.43 368.57 1502.86 372C1500.29 375.43 1494.86 377.43 1492.57 380.57C1490.29 383.71 1489.14 387.14 1489.14 390.86C1489.14 394.57 1492.29 398 1492.57 402.86C1492.86 407.71 1491.14 417.14 1490.86 420" fill="none" stroke="#2424a6" stroke-width="3.6" stroke-linecap="round" stroke-linejoin="round"/><path d="M1569.71 274.29C1568 275.43 1563.14 279.14 1559.43 281.14C1555.71 283.14 1551.43 285.71 1547.43 286.29C1543.43 286.86 1538 283.43 1535.43 284.57C1532.86 285.71 1532.29 289.71 1532 293.14C1531.71 296.57 1534 301.14 1533.71 305.14C1533.43 309.14 1532.57 313.71 1530.29 317.14C1528 320.57 1524 323.71 1520 325.71C1516 327.71 1510.29 327.71 1506.29 329.14C1502.29 330.57 1497.14 332.29 1496 334.29C1494.86 336.29 1497.71 338.86 1499.43 341.14C1501.14 343.43 1504.86 344.86 1506.29 348C1507.71 351.14 1508.57 356 1508 360C1507.43 364 1505.43 368.57 1502.86 372C1500.29 375.43 1494.86 377.43 1492.57 380.57C1490.29 383.71 1489.14 387.14 1489.14 390.86C1489.14 394.57 1492.29 398 1492.57 402.86C1492.86 407.71 1491.14 417.14 1490.86 420" fill="none" stroke="#3d3ddc" stroke-width="2.81" stroke-linecap="round" stroke-linejoin="round"/><path d="M1569.71 274.29C1568 275.43 1563.14 279.14 1559.43 281.14C1555.71 283.14 1551.43 285.71 1547.43 286.29C1543.43 286.86 1538 283.43 1535.43 284.57C1532.86 285.71 1532.29 289.71 1532 293.14C1531.71 296.57 1534 301.14 1533.71 305.14C1533.43 309.14 1532.57 313.71 1530.29 317.14C1528 320.57 1524 323.71 1520 325.71C1516 327.71 1510.29 327.71 1506.29 329.14C1502.29 330.57 1497.14 332.29 1496 334.29C1494.86 336.29 1497.71 338.86 1499.43 341.14C1501.14 343.43 1504.86 344.86 1506.29 348C1507.71 351.14 1508.57 356 1508 360C1507.43 364 1505.43 368.57 1502.86 372C1500.29 375.43 1494.86 377.43 1492.57 380.57C1490.29 383.71 1489.14 387.14 1489.14 390.86C1489.14 394.57 1492.29 398 1492.57 402.86C1492.86 407.71 1491.14 417.14 1490.86 420" fill="none" stroke="#6a6af0" stroke-width="1.08" stroke-linecap="round" stroke-linejoin="round"/>
<path d="M1436 300C1433.71 299.43 1426.29 296.57 1422.29 296.57C1418.29 296.57 1414.14 297.43 1412 300C1409.86 302.57 1409.71 307.71 1409.43 312C1409.14 316.29 1409.86 321.14 1410.29 325.71C1410.71 330.29 1410.86 334.86 1412 339.43C1413.14 344 1414.86 349.43 1417.14 353.14C1419.43 356.86 1422.29 360 1425.71 361.71C1429.14 363.43 1434 364.29 1437.71 363.43C1441.43 362.57 1444.86 359.14 1448 356.57C1451.14 354 1454.57 348.29 1456.57 348C1458.57 347.71 1459.71 352 1460 354.86C1460.29 357.71 1459.43 361.43 1458.29 365.14C1457.14 368.86 1454.86 374 1453.14 377.14C1451.43 380.29 1450 383.71 1448 384C1446 384.29 1443.43 381.43 1441.14 378.86C1438.86 376.29 1436.86 371.71 1434.29 368.57C1431.71 365.43 1427.14 361.43 1425.71 360" fill="none" stroke="#2424a6" stroke-width="3.6" stroke-linecap="round" stroke-linejoin="round"/><path d="M1436 300C1433.71 299.43 1426.29 296.57 1422.29 296.57C1418.29 296.57 1414.14 297.43 1412 300C1409.86 302.57 1409.71 307.71 1409.43 312C1409.14 316.29 1409.86 321.14 1410.29 325.71C1410.71 330.29 1410.86 334.86 1412 339.43C1413.14 344 1414.86 349.43 1417.14 353.14C1419.43 356.86 1422.29 360 1425.71 361.71C1429.14 363.43 1434 364.29 1437.71 363.43C1441.43 362.57 1444.86 359.14 1448 356.57C1451.14 354 1454.57 348.29 1456.57 348C1458.57 347.71 1459.71 352 1460 354.86C1460.29 357.71 1459.43 361.43 1458.29 365.14C1457.14 368.86 1454.86 374 1453.14 377.14C1451.43 380.29 1450 383.71 1448 384C1446 384.29 1443.43 381.43 1441.14 378.86C1438.86 376.29 1436.86 371.71 1434.29 368.57C1431.71 365.43 1427.14 361.43 1425.71 360" fill="none" stroke="#3d3ddc" stroke-width="2.81" stroke-linecap="round" stroke-linejoin="round"/><path d="M1436 300C1433.71 299.43 1426.29 296.57 1422.29 296.57C1418.29 296.57 1414.14 297.43 1412 300C1409.86 302.57 1409.71 307.71 1409.43 312C1409.14 316.29 1409.86 321.14 1410.29 325.71C1410.71 330.29 1410.86 334.86 1412 339.43C1413.14 344 1414.86 349.43 1417.14 353.14C1419.43 356.86 1422.29 360 1425.71 361.71C1429.14 363.43 1434 364.29 1437.71 363.43C1441.43 362.57 1444.86 359.14 1448 356.57C1451.14 354 1454.57 348.29 1456.57 348C1458.57 347.71 1459.71 352 1460 354.86C1460.29 357.71 1459.43 361.43 1458.29 365.14C1457.14 368.86 1454.86 374 1453.14 377.14C1451.43 380.29 1450 383.71 1448 384C1446 384.29 1443.43 381.43 1441.14 378.86C1438.86 376.29 1436.86 371.71 1434.29 368.57C1431.71 365.43 1427.14 361.43 1425.71 360" fill="none" stroke="#6a6af0" stroke-width="1.08" stroke-linecap="round" stroke-linejoin="round"/>
<path d="M1446.29 298.29C1448 298.86 1453.14 300 1456.57 301.71C1460 303.43 1463.43 307.71 1466.86 308.57C1470.29 309.43 1474.57 306 1477.14 306.86C1479.71 307.71 1481.14 310.57 1482.29 313.71C1483.43 316.86 1483.71 323.71 1484 325.71" fill="none" stroke="#2424a6" stroke-width="3.6" stroke-linecap="round" stroke-linejoin="round"/><path d="M1446.29 298.29C1448 298.86 1453.14 300 1456.57 301.71C1460 303.43 1463.43 307.71 1466.86 308.57C1470.29 309.43 1474.57 306 1477.14 306.86C1479.71 307.71 1481.14 310.57 1482.29 313.71C1483.43 316.86 1483.71 323.71 1484 325.71" fill="none" stroke="#3d3ddc" stroke-width="2.81" stroke-linecap="round" stroke-linejoin="round"/><path d="M1446.29 298.29C1448 298.86 1453.14 300 1456.57 301.71C1460 303.43 1463.43 307.71 1466.86 308.57C1470.29 309.43 1474.57 306 1477.14 306.86C1479.71 307.71 1481.14 310.57 1482.29 313.71C1483.43 316.86 1483.71 323.71 1484 325.71" fill="none" stroke="#6a6af0" stroke-width="1.08" stroke-linecap="round" stroke-linejoin="round"/>
<path d="M1408.29 458.29C1409.14 457.14 1411.43 453.71 1413.43 451.43C1415.43 449.14 1418.29 447.43 1420.29 444.57C1422.29 441.71 1423.71 438 1425.43 434.29C1427.14 430.57 1428.86 426 1430.57 422.29C1432.29 418.57 1433.71 415.14 1435.71 412C1437.71 408.86 1439.71 406 1442.57 403.43C1445.43 400.86 1449.71 399.14 1452.86 396.57C1456 394 1459.14 391.14 1461.43 388C1463.71 384.86 1464.57 380.86 1466.57 377.71C1468.57 374.57 1470.57 371.71 1473.43 369.14C1476.29 366.57 1480.57 364.57 1483.71 362.29C1486.86 360 1490.29 358.29 1492.29 355.43C1494.29 352.57 1495.14 346.86 1495.71 345.14" fill="none" stroke="#2424a6" stroke-width="3.6" stroke-linecap="round" stroke-linejoin="round"/><path d="M1408.29 458.29C1409.14 457.14 1411.43 453.71 1413.43 451.43C1415.43 449.14 1418.29 447.43 1420.29 444.57C1422.29 441.71 1423.71 438 1425.43 434.29C1427.14 430.57 1428.86 426 1430.57 422.29C1432.29 418.57 1433.71 415.14 1435.71 412C1437.71 408.86 1439.71 406 1442.57 403.43C1445.43 400.86 1449.71 399.14 1452.86 396.57C1456 394 1459.14 391.14 1461.43 388C1463.71 384.86 1464.57 380.86 1466.57 377.71C1468.57 374.57 1470.57 371.71 1473.43 369.14C1476.29 366.57 1480.57 364.57 1483.71 362.29C1486.86 360 1490.29 358.29 1492.29 355.43C1494.29 352.57 1495.14 346.86 1495.71 345.14" fill="none" stroke="#3d3ddc" stroke-width="2.81" stroke-linecap="round" stroke-linejoin="round"/><path d="M1408.29 458.29C1409.14 457.14 1411.43 453.71 1413.43 451.43C1415.43 449.14 1418.29 447.43 1420.29 444.57C1422.29 441.71 1423.71 438 1425.43 434.29C1427.14 430.57 1428.86 426 1430.57 422.29C1432.29 418.57 1433.71 415.14 1435.71 412C1437.71 408.86 1439.71 406 1442.57 403.43C1445.43 400.86 1449.71 399.14 1452.86 396.57C1456 394 1459.14 391.14 1461.43 388C1463.71 384.86 1464.57 380.86 1466.57 377.71C1468.57 374.57 1470.57 371.71 1473.43 369.14C1476.29 366.57 1480.57 364.57 1483.71 362.29C1486.86 360 1490.29 358.29 1492.29 355.43C1494.29 352.57 1495.14 346.86 1495.71 345.14" fill="none" stroke="#6a6af0" stroke-width="1.08" stroke-linecap="round" stroke-linejoin="round"/>
<path d="M1410 456.57C1411.43 455.43 1415.71 450.86 1418.57 449.71C1421.43 448.57 1424.29 449.43 1427.14 449.71C1430 450 1432.86 452.29 1435.71 451.43C1438.57 450.57 1441.71 447.43 1444.29 444.57C1446.86 441.71 1448.57 437.14 1451.14 434.29C1453.71 431.43 1456.57 428.86 1459.71 427.43C1462.86 426 1466.57 426.29 1470 425.71C1473.43 425.14 1477.14 425.43 1480.29 424C1483.43 422.57 1486.86 420.29 1488.86 417.14C1490.86 414 1492 409.43 1492.29 405.14C1492.57 400.86 1490 395.43 1490.57 391.43C1491.14 387.43 1493.43 384.86 1495.71 381.14C1498 377.43 1502.29 373.43 1504.29 369.14C1506.29 364.86 1507.71 359.71 1507.71 355.43C1507.71 351.14 1506 346.29 1504.29 343.43C1502.57 340.57 1498.57 339.14 1497.43 338.29" fill="none" stroke="#2424a6" stroke-width="3.6" stroke-linecap="round" stroke-linejoin="round"/><path d="M1410 456.57C1411.43 455.43 1415.71 450.86 1418.57 449.71C1421.43 448.57 1424.29 449.43 1427.14 449.71C1430 450 1432.86 452.29 1435.71 451.43C1438.57 450.57 1441.71 447.43 1444.29 444.57C1446.86 441.71 1448.57 437.14 1451.14 434.29C1453.71 431.43 1456.57 428.86 1459.71 427.43C1462.86 426 1466.57 426.29 1470 425.71C1473.43 425.14 1477.14 425.43 1480.29 424C1483.43 422.57 1486.86 420.29 1488.86 417.14C1490.86 414 1492 409.43 1492.29 405.14C1492.57 400.86 1490 395.43 1490.57 391.43C1491.14 387.43 1493.43 384.86 1495.71 381.14C1498 377.43 1502.29 373.43 1504.29 369.14C1506.29 364.86 1507.71 359.71 1507.71 355.43C1507.71 351.14 1506 346.29 1504.29 343.43C1502.57 340.57 1498.57 339.14 1497.43 338.29" fill="none" stroke="#3d3ddc" stroke-width="2.81" stroke-linecap="round" stroke-linejoin="round"/><path d="M1410 456.57C1411.43 455.43 1415.71 450.86 1418.57 449.71C1421.43 448.57 1424.29 449.43 1427.14 449.71C1430 450 1432.86 452.29 1435.71 451.43C1438.57 450.57 1441.71 447.43 1444.29 444.57C1446.86 441.71 1448.57 437.14 1451.14 434.29C1453.71 431.43 1456.57 428.86 1459.71 427.43C1462.86 426 1466.57 426.29 1470 425.71C1473.43 425.14 1477.14 425.43 1480.29 424C1483.43 422.57 1486.86 420.29 1488.86 417.14C1490.86 414 1492 409.43 1492.29 405.14C1492.57 400.86 1490 395.43 1490.57 391.43C1491.14 387.43 1493.43 384.86 1495.71 381.14C1498 377.43 1502.29 373.43 1504.29 369.14C1506.29 364.86 1507.71 359.71 1507.71 355.43C1507.71 351.14 1506 346.29 1504.29 343.43C1502.57 340.57 1498.57 339.14 1497.43 338.29" fill="none" stroke="#6a6af0" stroke-width="1.08" stroke-linecap="round" stroke-linejoin="round"/>
<polygon points="1433.43,291.43 1442.86,288.86 1446.29,296.57 1444.57,305.14 1436.86,306.86 1434.29,300" fill="#2f2fc4"/>
<polygon points="1412,336 1417.14,327.43 1429.14,324.86 1441.14,328.29 1448.86,337.71 1449.71,344.57 1444.57,348 1439.43,339.43 1429.14,336 1418.86,337.71 1415.43,344.57" fill="#3030c8"/>
<path d="M1417.14 348C1417.43 349.43 1417.71 354.57 1418.86 356.57C1420 358.57 1423.14 359.43 1424 360" fill="none" stroke="#2424a6" stroke-width="5" stroke-linecap="round" stroke-linejoin="round"/><path d="M1417.14 348C1417.43 349.43 1417.71 354.57 1418.86 356.57C1420 358.57 1423.14 359.43 1424 360" fill="none" stroke="#3d3ddc" stroke-width="3.9" stroke-linecap="round" stroke-linejoin="round"/><path d="M1417.14 348C1417.43 349.43 1417.71 354.57 1418.86 356.57C1420 358.57 1423.14 359.43 1424 360" fill="none" stroke="#6a6af0" stroke-width="1.5" stroke-linecap="round" stroke-linejoin="round"/></g>
<g id="a_pink"><path d="M183.43 349.71C185 350 189.71 352.86 192.86 351.43C196 350 199.57 345.71 202.29 341.14C205 336.57 206.29 328.57 209.14 324C212 319.43 215.43 315.14 219.43 313.71C223.43 312.29 228.86 313.43 233.14 315.43C237.43 317.43 243.14 324 245.14 325.71" fill="none" stroke="#ecd3e0" stroke-width="6" stroke-linecap="round" stroke-linejoin="round"/><path d="M183.43 349.71C185 350 189.71 352.86 192.86 351.43C196 350 199.57 345.71 202.29 341.14C205 336.57 206.29 328.57 209.14 324C212 319.43 215.43 315.14 219.43 313.71C223.43 312.29 228.86 313.43 233.14 315.43C237.43 317.43 243.14 324 245.14 325.71" fill="none" stroke="#f7dfec" stroke-width="4.68" stroke-linecap="round" stroke-linejoin="round"/><path d="M183.43 349.71C185 350 189.71 352.86 192.86 351.43C196 350 199.57 345.71 202.29 341.14C205 336.57 206.29 328.57 209.14 324C212 319.43 215.43 315.14 219.43 313.71C223.43 312.29 228.86 313.43 233.14 315.43C237.43 317.43 243.14 324 245.14 325.71" fill="none" stroke="#fbeaf3" stroke-width="1.8" stroke-linecap="round" stroke-linejoin="round"/>
<path d="M284.57 262.29L282.86 277.71L280.29 291.43" fill="none" stroke="#f6e3ee" stroke-width="6.21" stroke-linecap="round" stroke-linejoin="round"/>
<polygon points="246.86,331.71 274.29,334.29 282,341.14 280.29,345.43 265.71,341.49 248.57,340.29" fill="#c9a3b9"/>
<polygon points="246.86,331.71 274.29,334.29 282,341.14 274.29,337.37 248.57,335.14" fill="#efc3dc"/>
<path d="M162.86 303.43C160.86 303.86 154.86 304.71 150.86 306C146.86 307.29 141.57 308.71 138.86 311.14C136.14 313.57 134.86 316.71 134.57 320.57C134.29 324.43 135.71 329.43 137.14 334.29C138.57 339.14 141.43 344.86 143.14 349.71C144.86 354.57 147 359.71 147.43 363.43C147.86 367.14 147.43 369.86 145.71 372C144 374.14 139.71 374.57 137.14 376.29C134.57 378 131.86 379.29 130.29 382.29C128.71 385.29 128 389.71 127.71 394.29C127.43 398.86 127.57 405.86 128.57 409.71C129.57 413.57 130.86 414.71 133.71 417.43C136.57 420.14 141.14 423.71 145.71 426C150.29 428.29 157.43 428.86 161.14 431.14C164.86 433.43 166.29 436 168 439.71C169.71 443.43 169.43 448.86 171.43 453.43C173.43 458 176.29 463.86 180 467.14C183.71 470.43 189.43 471.43 193.71 473.14C198 474.86 202.57 475.29 205.71 477.43C208.86 479.57 211.71 482.86 212.57 486C213.43 489.14 212 494 210.86 496.29C209.71 498.57 208 498.71 205.71 499.71C203.43 500.71 199.29 501.14 197.14 502.29C195 503.43 193.14 505 192.86 506.57C192.57 508.14 193.57 510 195.43 511.71C197.29 513.43 201.86 515.14 204 516.86C206.14 518.57 207.71 520 208.29 522C208.86 524 207.57 527.71 207.43 528.86" fill="none" stroke="#c98aae" stroke-width="6" stroke-linecap="round" stroke-linejoin="round"/><path d="M162.86 303.43C160.86 303.86 154.86 304.71 150.86 306C146.86 307.29 141.57 308.71 138.86 311.14C136.14 313.57 134.86 316.71 134.57 320.57C134.29 324.43 135.71 329.43 137.14 334.29C138.57 339.14 141.43 344.86 143.14 349.71C144.86 354.57 147 359.71 147.43 363.43C147.86 367.14 147.43 369.86 145.71 372C144 374.14 139.71 374.57 137.14 376.29C134.57 378 131.86 379.29 130.29 382.29C128.71 385.29 128 389.71 127.71 394.29C127.43 398.86 127.57 405.86 128.57 409.71C129.57 413.57 130.86 414.71 133.71 417.43C136.57 420.14 141.14 423.71 145.71 426C150.29 428.29 157.43 428.86 161.14 431.14C164.86 433.43 166.29 436 168 439.71C169.71 443.43 169.43 448.86 171.43 453.43C173.43 458 176.29 463.86 180 467.14C183.71 470.43 189.43 471.43 193.71 473.14C198 474.86 202.57 475.29 205.71 477.43C208.86 479.57 211.71 482.86 212.57 486C213.43 489.14 212 494 210.86 496.29C209.71 498.57 208 498.71 205.71 499.71C203.43 500.71 199.29 501.14 197.14 502.29C195 503.43 193.14 505 192.86 506.57C192.57 508.14 193.57 510 195.43 511.71C197.29 513.43 201.86 515.14 204 516.86C206.14 518.57 207.71 520 208.29 522C208.86 524 207.57 527.71 207.43 528.86" fill="none" stroke="#efb4d6" stroke-width="4.68" stroke-linecap="round" stroke-linejoin="round"/><path d="M162.86 303.43C160.86 303.86 154.86 304.71 150.86 306C146.86 307.29 141.57 308.71 138.86 311.14C136.14 313.57 134.86 316.71 134.57 320.57C134.29 324.43 135.71 329.43 137.14 334.29C138.57 339.14 141.43 344.86 143.14 349.71C144.86 354.57 147 359.71 147.43 363.43C147.86 367.14 147.43 369.86 145.71 372C144 374.14 139.71 374.57 137.14 376.29C134.57 378 131.86 379.29 130.29 382.29C128.71 385.29 128 389.71 127.71 394.29C127.43 398.86 127.57 405.86 128.57 409.71C129.57 413.57 130.86 414.71 133.71 417.43C136.57 420.14 141.14 423.71 145.71 426C150.29 428.29 157.43 428.86 161.14 431.14C164.86 433.43 166.29 436 168 439.71C169.71 443.43 169.43 448.86 171.43 453.43C173.43 458 176.29 463.86 180 467.14C183.71 470.43 189.43 471.43 193.71 473.14C198 474.86 202.57 475.29 205.71 477.43C208.86 479.57 211.71 482.86 212.57 486C213.43 489.14 212 494 210.86 496.29C209.71 498.57 208 498.71 205.71 499.71C203.43 500.71 199.29 501.14 197.14 502.29C195 503.43 193.14 505 192.86 506.57C192.57 508.14 193.57 510 195.43 511.71C197.29 513.43 201.86 515.14 204 516.86C206.14 518.57 207.71 520 208.29 522C208.86 524 207.57 527.71 207.43 528.86" fill="none" stroke="#f6c9e3" stroke-width="1.8" stroke-linecap="round" stroke-linejoin="round"/>
<path d="M178.29 348.86C178.29 351.43 178 359.43 178.29 364.29C178.57 369.14 178.57 373.43 180 378C181.43 382.57 184 387.71 186.86 391.71C189.71 395.71 193.71 398.57 197.14 402C200.57 405.43 204.57 409.14 207.43 412.29C210.29 415.43 212.86 417.71 214.29 420.86C215.71 424 216.29 427.43 216 431.14C215.71 434.86 214.29 438.86 212.57 443.14C210.86 447.43 207.29 452.29 205.71 456.86C204.14 461.43 203.57 466 203.14 470.57C202.71 475.14 202.71 480.29 203.14 484.29C203.57 488.29 204.94 491.71 205.71 494.57C206.49 497.43 207.43 500.29 207.77 501.43" fill="none" stroke="#c98aae" stroke-width="6" stroke-linecap="round" stroke-linejoin="round"/><path d="M178.29 348.86C178.29 351.43 178 359.43 178.29 364.29C178.57 369.14 178.57 373.43 180 378C181.43 382.57 184 387.71 186.86 391.71C189.71 395.71 193.71 398.57 197.14 402C200.57 405.43 204.57 409.14 207.43 412.29C210.29 415.43 212.86 417.71 214.29 420.86C215.71 424 216.29 427.43 216 431.14C215.71 434.86 214.29 438.86 212.57 443.14C210.86 447.43 207.29 452.29 205.71 456.86C204.14 461.43 203.57 466 203.14 470.57C202.71 475.14 202.71 480.29 203.14 484.29C203.57 488.29 204.94 491.71 205.71 494.57C206.49 497.43 207.43 500.29 207.77 501.43" fill="none" stroke="#efb4d6" stroke-width="4.68" stroke-linecap="round" stroke-linejoin="round"/><path d="M178.29 348.86C178.29 351.43 178 359.43 178.29 364.29C178.57 369.14 178.57 373.43 180 378C181.43 382.57 184 387.71 186.86 391.71C189.71 395.71 193.71 398.57 197.14 402C200.57 405.43 204.57 409.14 207.43 412.29C210.29 415.43 212.86 417.71 214.29 420.86C215.71 424 216.29 427.43 216 431.14C215.71 434.86 214.29 438.86 212.57 443.14C210.86 447.43 207.29 452.29 205.71 456.86C204.14 461.43 203.57 466 203.14 470.57C202.71 475.14 202.71 480.29 203.14 484.29C203.57 488.29 204.94 491.71 205.71 494.57C206.49 497.43 207.43 500.29 207.77 501.43" fill="none" stroke="#f6c9e3" stroke-width="1.8" stroke-linecap="round" stroke-linejoin="round"/>
<path d="M246 330C245 332 242.43 337.14 240 342C237.57 346.86 234.86 355.71 231.43 359.14C228 362.57 223.71 361.71 219.43 362.57C215.14 363.43 209.29 362 205.71 364.29C202.14 366.57 199.71 372 198 376.29C196.29 380.57 195 385.43 195.43 390C195.86 394.57 198 400 200.57 403.71C203.14 407.43 206.86 410.43 210.86 412.29C214.86 414.14 220 414.86 224.57 414.86C229.14 414.86 234.71 414.14 238.29 412.29C241.86 410.43 244.57 407.14 246 403.71C247.43 400.29 246.14 395.71 246.86 391.71C247.57 387.71 248 382.57 250.29 379.71C252.57 376.86 256.57 374.86 260.57 374.57C264.57 374.29 270.57 378.57 274.29 378C278 377.43 281.14 374.29 282.86 371.14C284.57 368 284 362.86 284.57 359.14C285.14 355.43 286 350.57 286.29 348.86" fill="none" stroke="#c98aae" stroke-width="6" stroke-linecap="round" stroke-linejoin="round"/><path d="M246 330C245 332 242.43 337.14 240 342C237.57 346.86 234.86 355.71 231.43 359.14C228 362.57 223.71 361.71 219.43 362.57C215.14 363.43 209.29 362 205.71 364.29C202.14 366.57 199.71 372 198 376.29C196.29 380.57 195 385.43 195.43 390C195.86 394.57 198 400 200.57 403.71C203.14 407.43 206.86 410.43 210.86 412.29C214.86 414.14 220 414.86 224.57 414.86C229.14 414.86 234.71 414.14 238.29 412.29C241.86 410.43 244.57 407.14 246 403.71C247.43 400.29 246.14 395.71 246.86 391.71C247.57 387.71 248 382.57 250.29 379.71C252.57 376.86 256.57 374.86 260.57 374.57C264.57 374.29 270.57 378.57 274.29 378C278 377.43 281.14 374.29 282.86 371.14C284.57 368 284 362.86 284.57 359.14C285.14 355.43 286 350.57 286.29 348.86" fill="none" stroke="#efb4d6" stroke-width="4.68" stroke-linecap="round" stroke-linejoin="round"/><path d="M246 330C245 332 242.43 337.14 240 342C237.57 346.86 234.86 355.71 231.43 359.14C228 362.57 223.71 361.71 219.43 362.57C215.14 363.43 209.29 362 205.71 364.29C202.14 366.57 199.71 372 198 376.29C196.29 380.57 195 385.43 195.43 390C195.86 394.57 198 400 200.57 403.71C203.14 407.43 206.86 410.43 210.86 412.29C214.86 414.14 220 414.86 224.57 414.86C229.14 414.86 234.71 414.14 238.29 412.29C241.86 410.43 244.57 407.14 246 403.71C247.43 400.29 246.14 395.71 246.86 391.71C247.57 387.71 248 382.57 250.29 379.71C252.57 376.86 256.57 374.86 260.57 374.57C264.57 374.29 270.57 378.57 274.29 378C278 377.43 281.14 374.29 282.86 371.14C284.57 368 284 362.86 284.57 359.14C285.14 355.43 286 350.57 286.29 348.86" fill="none" stroke="#f6c9e3" stroke-width="1.8" stroke-linecap="round" stroke-linejoin="round"/>
<path d="M207.43 527.14L206.57 529.71" fill="none" stroke="#c690b0" stroke-width="6.07" stroke-linecap="round" stroke-linejoin="round"/><path d="M207.43 527.14L206.57 529.71" fill="none" stroke="#f0b9d9" stroke-width="4.86" stroke-linecap="round" stroke-linejoin="round"/>
<path d="M205.71 529.71L215.14 532.29" fill="none" stroke="#f0c4de" stroke-width="5.8" stroke-linecap="round" stroke-linejoin="round"/>
<path d="M202.63 528.86L209.49 530.91" fill="none" stroke="#6f6fe6" stroke-width="5.8" stroke-linecap="round" stroke-linejoin="round"/>
<path d="M215.14 532.29L218.57 527.14" fill="none" stroke="#f0c4de" stroke-width="5.8" stroke-linecap="round" stroke-linejoin="round"/>
<path d="M218.57 527.14L224.57 522.86" fill="none" stroke="#7b7bea" stroke-width="5.8" stroke-linecap="round" stroke-linejoin="round"/>
<path d="M215.14 532.29L212.57 536.57" fill="none" stroke="#f0c4de" stroke-width="5.8" stroke-linecap="round" stroke-linejoin="round"/>
<path d="M212.23 536.57L211.2 541.71" fill="none" stroke="#7b7bea" stroke-width="5.8" stroke-linecap="round" stroke-linejoin="round"/>
<path d="M81.43 206.57C82.43 208.43 84.86 214.43 87.43 217.71C90 221 93.14 224.43 96.86 226.29C100.57 228.14 105.29 228.86 109.71 228.86C114.14 228.86 119.71 227.57 123.43 226.29C127.14 225 130.43 222.57 132 221.14C133.57 219.71 133.43 218.43 132.86 217.71C132.29 217 129.86 216.57 128.57 216.86C127.29 217.14 125.86 217.57 125.14 219.43C124.43 221.29 124.14 224.57 124.29 228C124.43 231.43 125.14 235.71 126 240C126.86 244.29 128.86 251.43 129.43 253.71" fill="none" stroke="#c98aae" stroke-width="6" stroke-linecap="round" stroke-linejoin="round"/><path d="M81.43 206.57C82.43 208.43 84.86 214.43 87.43 217.71C90 221 93.14 224.43 96.86 226.29C100.57 228.14 105.29 228.86 109.71 228.86C114.14 228.86 119.71 227.57 123.43 226.29C127.14 225 130.43 222.57 132 221.14C133.57 219.71 133.43 218.43 132.86 217.71C132.29 217 129.86 216.57 128.57 216.86C127.29 217.14 125.86 217.57 125.14 219.43C124.43 221.29 124.14 224.57 124.29 228C124.43 231.43 125.14 235.71 126 240C126.86 244.29 128.86 251.43 129.43 253.71" fill="none" stroke="#efb4d6" stroke-width="4.68" stroke-linecap="round" stroke-linejoin="round"/><path d="M81.43 206.57C82.43 208.43 84.86 214.43 87.43 217.71C90 221 93.14 224.43 96.86 226.29C100.57 228.14 105.29 228.86 109.71 228.86C114.14 228.86 119.71 227.57 123.43 226.29C127.14 225 130.43 222.57 132 221.14C133.57 219.71 133.43 218.43 132.86 217.71C132.29 217 129.86 216.57 128.57 216.86C127.29 217.14 125.86 217.57 125.14 219.43C124.43 221.29 124.14 224.57 124.29 228C124.43 231.43 125.14 235.71 126 240C126.86 244.29 128.86 251.43 129.43 253.71" fill="none" stroke="#f6c9e3" stroke-width="1.8" stroke-linecap="round" stroke-linejoin="round"/>
<polygon points="126.51,254.57 135.43,255.77 156.51,275.66 169.71,301.71 180,320.57 184.29,339.43 180,350.57 171.43,337.71 164.57,324 157.03,308.57 145.71,291.43 136.63,279.77 133.03,273.43 128.57,264" fill="#c9a3b9"/>
<polygon points="126.51,254.57 135.43,255.43 158.57,274.29 170.57,300 180.86,320.57 184.8,338.57 182.57,334.29 178.29,322.29 168,302.57 156,276.86 132,257.14" fill="#f1c0dc"/>
<polygon points="162.86,267.77 168.69,262.97 170.4,286.97 174.51,305.14 180,319.71 178.29,322.29 169.71,306 165.43,291.43 163.89,279.43" fill="#efbcd9"/>
<path d="M189.43 162.86C189.91 165.14 191.97 172 192.34 176.57C192.71 181.14 192.43 185.71 191.66 190.29C190.89 194.86 189.66 199.71 187.71 204C185.77 208.29 182.71 211.71 180 216C177.29 220.29 173.86 224.86 171.43 229.71C169 234.57 166.8 240.29 165.43 245.14C164.06 250 163.43 255.43 163.2 258.86C162.97 262.29 163.91 264.57 164.06 265.71" fill="none" stroke="#c98aae" stroke-width="6" stroke-linecap="butt" stroke-linejoin="round"/><path d="M189.43 162.86C189.91 165.14 191.97 172 192.34 176.57C192.71 181.14 192.43 185.71 191.66 190.29C190.89 194.86 189.66 199.71 187.71 204C185.77 208.29 182.71 211.71 180 216C177.29 220.29 173.86 224.86 171.43 229.71C169 234.57 166.8 240.29 165.43 245.14C164.06 250 163.43 255.43 163.2 258.86C162.97 262.29 163.91 264.57 164.06 265.71" fill="none" stroke="#efb4d6" stroke-width="4.68" stroke-linecap="butt" stroke-linejoin="round"/><path d="M189.43 162.86C189.91 165.14 191.97 172 192.34 176.57C192.71 181.14 192.43 185.71 191.66 190.29C190.89 194.86 189.66 199.71 187.71 204C185.77 208.29 182.71 211.71 180 216C177.29 220.29 173.86 224.86 171.43 229.71C169 234.57 166.8 240.29 165.43 245.14C164.06 250 163.43 255.43 163.2 258.86C162.97 262.29 163.91 264.57 164.06 265.71" fill="none" stroke="#f6c9e3" stroke-width="1.8" stroke-linecap="butt" stroke-linejoin="round"/>
<path d="M164.57 304.29C166 302.43 170.57 297 173.14 293.14C175.71 289.29 177.14 284.86 180 281.14C182.86 277.43 186 273.29 190.29 270.86C194.57 268.43 198.86 267.71 205.71 266.57C212.57 265.43 223.71 264.86 231.43 264C239.14 263.14 248.57 261.86 252 261.43" fill="none" stroke="#c98aae" stroke-width="6" stroke-linecap="round" stroke-linejoin="round"/><path d="M164.57 304.29C166 302.43 170.57 297 173.14 293.14C175.71 289.29 177.14 284.86 180 281.14C182.86 277.43 186 273.29 190.29 270.86C194.57 268.43 198.86 267.71 205.71 266.57C212.57 265.43 223.71 264.86 231.43 264C239.14 263.14 248.57 261.86 252 261.43" fill="none" stroke="#efb4d6" stroke-width="4.68" stroke-linecap="round" stroke-linejoin="round"/><path d="M164.57 304.29C166 302.43 170.57 297 173.14 293.14C175.71 289.29 177.14 284.86 180 281.14C182.86 277.43 186 273.29 190.29 270.86C194.57 268.43 198.86 267.71 205.71 266.57C212.57 265.43 223.71 264.86 231.43 264C239.14 263.14 248.57 261.86 252 261.43" fill="none" stroke="#f6c9e3" stroke-width="1.8" stroke-linecap="round" stroke-linejoin="round"/>
<polygon points="250.63,253.37 267.43,250.63 269.49,240.86 275.14,240 274.29,265.71 253.71,267.77" fill="#d9abc6"/>
<polygon points="250.63,253.37 267.43,250.63 269.49,240.86 272.57,240.34 271.2,252.86 252.86,256.29" fill="#f0c4de"/>
<path d="M274.29 252.86L286.29 253.71L293.14 246.86L298.29 238.29L304.29 236.91" fill="none" stroke="#cf9dbb" stroke-width="6.35" stroke-linecap="round" stroke-linejoin="round"/><path d="M274.29 252.86L286.29 253.71L293.14 246.86L298.29 238.29L304.29 236.91" fill="none" stroke="#f3c4df" stroke-width="5.08" stroke-linecap="round" stroke-linejoin="round"/>
<path d="M297.43 257.14L300.86 270.86L306.86 274.29" fill="none" stroke="#eec0da" stroke-width="5.8" stroke-linecap="round" stroke-linejoin="round"/>
<path d="M304.8 236.57L307.71 242.57" fill="none" stroke="#4a4ae0" stroke-width="6.07" stroke-linecap="round" stroke-linejoin="round"/>
<polygon points="245.14,308.57 267.43,297.43 272.57,303.43 282.86,302.57 282.86,310.63 270.86,312.34 267.43,328.29 246,328.8" fill="#c9a0b8"/>
<polygon points="245.14,308.57 267.43,297.43 272.57,303.43 282.86,302.57 282.86,306 270,307.2 265.71,302.57 247.71,312" fill="#e7b9d3"/>
<path d="M282.86 288.86L284.57 305.14L289.71 313.71" fill="none" stroke="#cb9ab7" stroke-width="6.07" stroke-linecap="round" stroke-linejoin="round"/><path d="M282.86 288.86L284.57 305.14L289.71 313.71" fill="none" stroke="#eec0da" stroke-width="4.86" stroke-linecap="round" stroke-linejoin="round"/>
<path d="M289.71 313.71L291.77 325.71L295.2 336.34L301.71 334.29L300 324L296.91 311.14L289.71 313.71" fill="none" stroke="#c896b4" stroke-width="6.07" stroke-linecap="round" stroke-linejoin="round"/><path d="M289.71 313.71L291.77 325.71L295.2 336.34L301.71 334.29L300 324L296.91 311.14L289.71 313.71" fill="none" stroke="#eec0da" stroke-width="4.86" stroke-linecap="round" stroke-linejoin="round"/>
<path d="M295.2 336.34L291.77 342.86L282 347.66" fill="none" stroke="#cb9ab7" stroke-width="6.07" stroke-linecap="round" stroke-linejoin="round"/><path d="M295.2 336.34L291.77 342.86L282 347.66" fill="none" stroke="#f3c8e0" stroke-width="4.86" stroke-linecap="round" stroke-linejoin="round"/>
<path d="M295.89 309.43L295.89 303.09" fill="none" stroke="#cc2222" stroke-width="6.35" stroke-linecap="round" stroke-linejoin="round"/>
<path d="M280.29 342.86L288 346.63L295.2 341.49" fill="none" stroke="#cb9ab7" stroke-width="5.8" stroke-linecap="round" stroke-linejoin="round"/><path d="M280.29 342.86L288 346.63L295.2 341.49" fill="none" stroke="#f3c8e0" stroke-width="4.64" stroke-linecap="round" stroke-linejoin="round"/>
<path d="M288 346.63L298.29 355.2" fill="none" stroke="#ecbcd6" stroke-width="5.8" stroke-linecap="round" stroke-linejoin="round"/></g>
<g id="a_green1"><path d="M362.57 330.86C364 332.57 368.86 337.14 371.14 341.14C373.43 345.14 374.29 350.57 376.29 354.86C378.29 359.14 380 364.29 383.14 366.86C386.29 369.43 391.14 370.57 395.14 370.29C399.14 370 404 367.71 407.14 365.14C410.29 362.57 413.14 358.86 414 354.86C414.86 350.86 413.71 345.43 412.29 341.14C410.86 336.86 407.71 332 405.43 329.14C403.14 326.29 399.71 324.86 398.57 324" fill="none" stroke="#9bd99b" stroke-width="5.5" stroke-linecap="round" stroke-linejoin="round"/><path d="M362.57 330.86C364 332.57 368.86 337.14 371.14 341.14C373.43 345.14 374.29 350.57 376.29 354.86C378.29 359.14 380 364.29 383.14 366.86C386.29 369.43 391.14 370.57 395.14 370.29C399.14 370 404 367.71 407.14 365.14C410.29 362.57 413.14 358.86 414 354.86C414.86 350.86 413.71 345.43 412.29 341.14C410.86 336.86 407.71 332 405.43 329.14C403.14 326.29 399.71 324.86 398.57 324" fill="none" stroke="#b4ecb4" stroke-width="4.29" stroke-linecap="round" stroke-linejoin="round"/><path d="M362.57 330.86C364 332.57 368.86 337.14 371.14 341.14C373.43 345.14 374.29 350.57 376.29 354.86C378.29 359.14 380 364.29 383.14 366.86C386.29 369.43 391.14 370.57 395.14 370.29C399.14 370 404 367.71 407.14 365.14C410.29 362.57 413.14 358.86 414 354.86C414.86 350.86 413.71 345.43 412.29 341.14C410.86 336.86 407.71 332 405.43 329.14C403.14 326.29 399.71 324.86 398.57 324" fill="none" stroke="#cdf4cd" stroke-width="1.65" stroke-linecap="round" stroke-linejoin="round"/>
<path d="M342 332.57C343.43 332.86 347.14 333.71 350.57 334.29C354 334.86 359.14 334.57 362.57 336C366 337.43 369.71 341.71 371.14 342.86" fill="none" stroke="#9bd99b" stroke-width="5.5" stroke-linecap="round" stroke-linejoin="round"/><path d="M342 332.57C343.43 332.86 347.14 333.71 350.57 334.29C354 334.86 359.14 334.57 362.57 336C366 337.43 369.71 341.71 371.14 342.86" fill="none" stroke="#b4ecb4" stroke-width="4.29" stroke-linecap="round" stroke-linejoin="round"/><path d="M342 332.57C343.43 332.86 347.14 333.71 350.57 334.29C354 334.86 359.14 334.57 362.57 336C366 337.43 369.71 341.71 371.14 342.86" fill="none" stroke="#cdf4cd" stroke-width="1.65" stroke-linecap="round" stroke-linejoin="round"/>
<path d="M359.14 253.71C362 253.86 370.57 254.71 376.29 254.57C382 254.43 388.57 254 393.43 252.86C398.29 251.71 402.29 248.71 405.43 247.71C408.57 246.71 409.71 245.57 412.29 246.86C414.86 248.14 418.29 252 420.86 255.43C423.43 258.86 424.86 264 427.71 267.43C430.57 270.86 432.86 274 438 276C443.14 278 452.86 278.29 458.57 279.43C464.29 280.57 468.57 280.57 472.29 282.86C476 285.14 478.86 288.86 480.86 293.14C482.86 297.43 484.29 303.14 484.29 308.57C484.29 314 482.29 320.29 480.86 325.71C479.43 331.14 476 336.57 475.71 341.14C475.43 345.71 478.29 351.29 479.14 353.14C480 355 478.86 350.43 480.86 352.29C482.86 354.14 488.29 359.71 491.14 364.29C494 368.86 496.86 374.57 498 379.71C499.14 384.86 499.14 390.29 498 395.14C496.86 400 494.57 405.14 491.14 408.86C487.71 412.57 482 414.71 477.43 417.43C472.86 420.14 466.86 422 463.71 425.14C460.57 428.29 458.86 432.14 458.57 436.29C458.29 440.43 461.43 445.43 462 450C462.57 454.57 463.43 460 462 463.71C460.57 467.43 457.43 470.43 453.43 472.29C449.43 474.14 442.57 473.71 438 474.86C433.43 476 428.86 477 426 479.14C423.14 481.29 421.71 486.29 420.86 487.71" fill="none" stroke="#4fba4f" stroke-width="6" stroke-linecap="round" stroke-linejoin="round"/><path d="M359.14 253.71C362 253.86 370.57 254.71 376.29 254.57C382 254.43 388.57 254 393.43 252.86C398.29 251.71 402.29 248.71 405.43 247.71C408.57 246.71 409.71 245.57 412.29 246.86C414.86 248.14 418.29 252 420.86 255.43C423.43 258.86 424.86 264 427.71 267.43C430.57 270.86 432.86 274 438 276C443.14 278 452.86 278.29 458.57 279.43C464.29 280.57 468.57 280.57 472.29 282.86C476 285.14 478.86 288.86 480.86 293.14C482.86 297.43 484.29 303.14 484.29 308.57C484.29 314 482.29 320.29 480.86 325.71C479.43 331.14 476 336.57 475.71 341.14C475.43 345.71 478.29 351.29 479.14 353.14C480 355 478.86 350.43 480.86 352.29C482.86 354.14 488.29 359.71 491.14 364.29C494 368.86 496.86 374.57 498 379.71C499.14 384.86 499.14 390.29 498 395.14C496.86 400 494.57 405.14 491.14 408.86C487.71 412.57 482 414.71 477.43 417.43C472.86 420.14 466.86 422 463.71 425.14C460.57 428.29 458.86 432.14 458.57 436.29C458.29 440.43 461.43 445.43 462 450C462.57 454.57 463.43 460 462 463.71C460.57 467.43 457.43 470.43 453.43 472.29C449.43 474.14 442.57 473.71 438 474.86C433.43 476 428.86 477 426 479.14C423.14 481.29 421.71 486.29 420.86 487.71" fill="none" stroke="#6bdd6b" stroke-width="4.68" stroke-linecap="round" stroke-linejoin="round"/><path d="M359.14 253.71C362 253.86 370.57 254.71 376.29 254.57C382 254.43 388.57 254 393.43 252.86C398.29 251.71 402.29 248.71 405.43 247.71C408.57 246.71 409.71 245.57 412.29 246.86C414.86 248.14 418.29 252 420.86 255.43C423.43 258.86 424.86 264 427.71 267.43C430.57 270.86 432.86 274 438 276C443.14 278 452.86 278.29 458.57 279.43C464.29 280.57 468.57 280.57 472.29 282.86C476 285.14 478.86 288.86 480.86 293.14C482.86 297.43 484.29 303.14 484.29 308.57C484.29 314 482.29 320.29 480.86 325.71C479.43 331.14 476 336.57 475.71 341.14C475.43 345.71 478.29 351.29 479.14 353.14C480 355 478.86 350.43 480.86 352.29C482.86 354.14 488.29 359.71 491.14 364.29C494 368.86 496.86 374.57 498 379.71C499.14 384.86 499.14 390.29 498 395.14C496.86 400 494.57 405.14 491.14 408.86C487.71 412.57 482 414.71 477.43 417.43C472.86 420.14 466.86 422 463.71 425.14C460.57 428.29 458.86 432.14 458.57 436.29C458.29 440.43 461.43 445.43 462 450C462.57 454.57 463.43 460 462 463.71C460.57 467.43 457.43 470.43 453.43 472.29C449.43 474.14 442.57 473.71 438 474.86C433.43 476 428.86 477 426 479.14C423.14 481.29 421.71 486.29 420.86 487.71" fill="none" stroke="#92ee92" stroke-width="1.8" stroke-linecap="round" stroke-linejoin="round"/>
<path d="M333.43 293.14C336.29 293.14 345.14 292.29 350.57 293.14C356 294 361.14 295.71 366 298.29C370.86 300.86 376 306 379.71 308.57C383.43 311.14 386.57 310.86 388.29 313.71C390 316.57 391.14 322.86 390 325.71C388.86 328.57 385.43 330.43 381.43 330.86C377.43 331.29 371.14 329.71 366 328.29C360.86 326.86 355.14 325 350.57 322.29C346 319.57 341.43 316.86 338.57 312C335.71 307.14 334.29 296.29 333.43 293.14Z" fill="#57c257"/>
<path d="M326.57 334.29C328.57 332.57 334.57 325.43 338.57 324C342.57 322.57 346.57 323.71 350.57 325.71C354.57 327.71 358.57 332.29 362.57 336C366.57 339.71 372.86 344.29 374.57 348C376.29 351.71 375.43 356.29 372.86 358.29C370.29 360.29 363.71 360 359.14 360C354.57 360 349.71 359.71 345.43 358.29C341.14 356.86 336.57 355.43 333.43 351.43C330.29 347.43 327.71 337.14 326.57 334.29Z" fill="#2f9e2f"/>
<path d="M342 332.57C343.43 332.86 347.14 332.57 350.57 334.29C354 336 359.43 340.29 362.57 342.86C365.71 345.43 369.43 348.86 369.43 349.71C369.43 350.57 365.71 349.43 362.57 348C359.43 346.57 354 343.71 350.57 341.14C347.14 338.57 343.43 334 342 332.57Z" fill="#bdeebd"/>
<polygon points="379.71,308.57 390,313.71 390.86,325.71 386.57,328.29 381.43,318.86" fill="#3fae3f"/>
<path d="M321.43 284.57L323.14 293.14L318 296.57L315.43 306.86L318.86 315.43L324.86 313.71L328.29 303.43L325.71 294" fill="none" stroke="#8fe08f" stroke-width="5.8" stroke-linecap="round" stroke-linejoin="round"/>
<path d="M323.14 305.14L333.43 300.86" fill="none" stroke="#7ddc7d" stroke-width="5.8" stroke-linecap="round" stroke-linejoin="round"/>
<path d="M319.71 315.43L326.57 324L335.14 327.43" fill="none" stroke="#a5e8a5" stroke-width="5.24" stroke-linecap="round" stroke-linejoin="round"/>
<path d="M321.09 280.29L321.43 284.57" fill="none" stroke="#f08c8c" stroke-width="5.8" stroke-linecap="round" stroke-linejoin="round"/>
<path d="M429.43 214.29C431.14 216 436.71 220.57 439.71 224.57C442.71 228.57 445.71 233.43 447.43 238.29C449.14 243.14 449.57 248.57 450 253.71C450.43 258.86 449.14 264.29 450 269.14C450.86 274 453.14 278.57 455.14 282.86C457.14 287.14 460.71 291.14 462 294.86C463.29 298.57 464 302 462.86 305.14C461.71 308.29 458.14 310.86 455.14 313.71C452.14 316.57 447.57 318.29 444.86 322.29C442.14 326.29 439.43 332.57 438.86 337.71C438.29 342.86 440.57 348.57 441.43 353.14C442.29 357.71 444 361.14 444 365.14C444 369.14 441.57 374.71 441.43 377.14C441.29 379.57 444.29 377.57 443.14 379.71C442 381.86 437.43 386.57 434.57 390C431.71 393.43 428.14 396.29 426 400.29C423.86 404.29 422.57 409.14 421.71 414C420.86 418.86 420.43 424 420.86 429.43C421.29 434.86 423.43 440.86 424.29 446.57C425.14 452.29 426.29 458.29 426 463.71C425.71 469.14 424 474.29 422.57 479.14C421.14 484 418.43 488.86 417.43 492.86C416.43 496.86 415.86 500.29 416.57 503.14C417.29 506 420.29 508 421.71 510C423.14 512 424.57 514.29 425.14 515.14" fill="none" stroke="#1f9e1f" stroke-width="6" stroke-linecap="round" stroke-linejoin="round"/><path d="M429.43 214.29C431.14 216 436.71 220.57 439.71 224.57C442.71 228.57 445.71 233.43 447.43 238.29C449.14 243.14 449.57 248.57 450 253.71C450.43 258.86 449.14 264.29 450 269.14C450.86 274 453.14 278.57 455.14 282.86C457.14 287.14 460.71 291.14 462 294.86C463.29 298.57 464 302 462.86 305.14C461.71 308.29 458.14 310.86 455.14 313.71C452.14 316.57 447.57 318.29 444.86 322.29C442.14 326.29 439.43 332.57 438.86 337.71C438.29 342.86 440.57 348.57 441.43 353.14C442.29 357.71 444 361.14 444 365.14C444 369.14 441.57 374.71 441.43 377.14C441.29 379.57 444.29 377.57 443.14 379.71C442 381.86 437.43 386.57 434.57 390C431.71 393.43 428.14 396.29 426 400.29C423.86 404.29 422.57 409.14 421.71 414C420.86 418.86 420.43 424 420.86 429.43C421.29 434.86 423.43 440.86 424.29 446.57C425.14 452.29 426.29 458.29 426 463.71C425.71 469.14 424 474.29 422.57 479.14C421.14 484 418.43 488.86 417.43 492.86C416.43 496.86 415.86 500.29 416.57 503.14C417.29 506 420.29 508 421.71 510C423.14 512 424.57 514.29 425.14 515.14" fill="none" stroke="#31d331" stroke-width="4.68" stroke-linecap="round" stroke-linejoin="round"/><path d="M429.43 214.29C431.14 216 436.71 220.57 439.71 224.57C442.71 228.57 445.71 233.43 447.43 238.29C449.14 243.14 449.57 248.57 450 253.71C450.43 258.86 449.14 264.29 450 269.14C450.86 274 453.14 278.57 455.14 282.86C457.14 287.14 460.71 291.14 462 294.86C463.29 298.57 464 302 462.86 305.14C461.71 308.29 458.14 310.86 455.14 313.71C452.14 316.57 447.57 318.29 444.86 322.29C442.14 326.29 439.43 332.57 438.86 337.71C438.29 342.86 440.57 348.57 441.43 353.14C442.29 357.71 444 361.14 444 365.14C444 369.14 441.57 374.71 441.43 377.14C441.29 379.57 444.29 377.57 443.14 379.71C442 381.86 437.43 386.57 434.57 390C431.71 393.43 428.14 396.29 426 400.29C423.86 404.29 422.57 409.14 421.71 414C420.86 418.86 420.43 424 420.86 429.43C421.29 434.86 423.43 440.86 424.29 446.57C425.14 452.29 426.29 458.29 426 463.71C425.71 469.14 424 474.29 422.57 479.14C421.14 484 418.43 488.86 417.43 492.86C416.43 496.86 415.86 500.29 416.57 503.14C417.29 506 420.29 508 421.71 510C423.14 512 424.57 514.29 425.14 515.14" fill="none" stroke="#5ee85e" stroke-width="1.8" stroke-linecap="round" stroke-linejoin="round"/>
<path d="M528 137.14C526.14 139.71 520.71 148 516.86 152.57C513 157.14 509.43 161.43 504.86 164.57C500.29 167.71 493 168.86 489.43 171.43C485.86 174 483.71 176.57 483.43 180C483.14 183.43 485.57 188.29 487.71 192C489.86 195.71 494.14 198.29 496.29 202.29C498.43 206.29 500.29 211.43 500.57 216C500.86 220.57 499.86 225.43 498 229.71C496.14 234 492.86 238.29 489.43 241.71C486 245.14 481.14 248 477.43 250.29C473.71 252.57 469.71 253.14 467.14 255.43C464.57 257.71 462.86 260.86 462 264C461.14 267.14 461.14 270.29 462 274.29C462.86 278.29 466 284 467.14 288C468.29 292 469.71 295.14 468.86 298.29C468 301.43 465.43 304.57 462 306.86C458.57 309.14 452.57 309.71 448.29 312C444 314.29 439 316.86 436.29 320.57C433.57 324.29 432.29 329.71 432 334.29C431.71 338.86 433.71 343.71 434.57 348C435.43 352.29 437.14 356.86 437.14 360C437.14 363.14 435 365.71 434.57 366.86" fill="none" stroke="#1f9e1f" stroke-width="6" stroke-linecap="round" stroke-linejoin="round"/><path d="M528 137.14C526.14 139.71 520.71 148 516.86 152.57C513 157.14 509.43 161.43 504.86 164.57C500.29 167.71 493 168.86 489.43 171.43C485.86 174 483.71 176.57 483.43 180C483.14 183.43 485.57 188.29 487.71 192C489.86 195.71 494.14 198.29 496.29 202.29C498.43 206.29 500.29 211.43 500.57 216C500.86 220.57 499.86 225.43 498 229.71C496.14 234 492.86 238.29 489.43 241.71C486 245.14 481.14 248 477.43 250.29C473.71 252.57 469.71 253.14 467.14 255.43C464.57 257.71 462.86 260.86 462 264C461.14 267.14 461.14 270.29 462 274.29C462.86 278.29 466 284 467.14 288C468.29 292 469.71 295.14 468.86 298.29C468 301.43 465.43 304.57 462 306.86C458.57 309.14 452.57 309.71 448.29 312C444 314.29 439 316.86 436.29 320.57C433.57 324.29 432.29 329.71 432 334.29C431.71 338.86 433.71 343.71 434.57 348C435.43 352.29 437.14 356.86 437.14 360C437.14 363.14 435 365.71 434.57 366.86" fill="none" stroke="#31d331" stroke-width="4.68" stroke-linecap="round" stroke-linejoin="round"/><path d="M528 137.14C526.14 139.71 520.71 148 516.86 152.57C513 157.14 509.43 161.43 504.86 164.57C500.29 167.71 493 168.86 489.43 171.43C485.86 174 483.71 176.57 483.43 180C483.14 183.43 485.57 188.29 487.71 192C489.86 195.71 494.14 198.29 496.29 202.29C498.43 206.29 500.29 211.43 500.57 216C500.86 220.57 499.86 225.43 498 229.71C496.14 234 492.86 238.29 489.43 241.71C486 245.14 481.14 248 477.43 250.29C473.71 252.57 469.71 253.14 467.14 255.43C464.57 257.71 462.86 260.86 462 264C461.14 267.14 461.14 270.29 462 274.29C462.86 278.29 466 284 467.14 288C468.29 292 469.71 295.14 468.86 298.29C468 301.43 465.43 304.57 462 306.86C458.57 309.14 452.57 309.71 448.29 312C444 314.29 439 316.86 436.29 320.57C433.57 324.29 432.29 329.71 432 334.29C431.71 338.86 433.71 343.71 434.57 348C435.43 352.29 437.14 356.86 437.14 360C437.14 363.14 435 365.71 434.57 366.86" fill="none" stroke="#5ee85e" stroke-width="1.8" stroke-linecap="round" stroke-linejoin="round"/>
<path d="M348.86 324C349.14 326 348.86 332.29 350.57 336C352.29 339.71 355.43 343.43 359.14 346.29C362.86 349.14 368.86 352.71 372.86 353.14C376.86 353.57 380.29 351.57 383.14 348.86C386 346.14 387.43 340.14 390 336.86C392.57 333.57 395.71 329.57 398.57 329.14C401.43 328.71 404.29 331.14 407.14 334.29C410 337.43 412.86 343.71 415.71 348C418.57 352.29 421.43 356.71 424.29 360C427.14 363.29 430.71 367.71 432.86 367.71C435 367.71 436.43 361.29 437.14 360" fill="none" stroke="#1f9e1f" stroke-width="6.4" stroke-linecap="round" stroke-linejoin="round"/><path d="M348.86 324C349.14 326 348.86 332.29 350.57 336C352.29 339.71 355.43 343.43 359.14 346.29C362.86 349.14 368.86 352.71 372.86 353.14C376.86 353.57 380.29 351.57 383.14 348.86C386 346.14 387.43 340.14 390 336.86C392.57 333.57 395.71 329.57 398.57 329.14C401.43 328.71 404.29 331.14 407.14 334.29C410 337.43 412.86 343.71 415.71 348C418.57 352.29 421.43 356.71 424.29 360C427.14 363.29 430.71 367.71 432.86 367.71C435 367.71 436.43 361.29 437.14 360" fill="none" stroke="#31d331" stroke-width="4.99" stroke-linecap="round" stroke-linejoin="round"/><path d="M348.86 324C349.14 326 348.86 332.29 350.57 336C352.29 339.71 355.43 343.43 359.14 346.29C362.86 349.14 368.86 352.71 372.86 353.14C376.86 353.57 380.29 351.57 383.14 348.86C386 346.14 387.43 340.14 390 336.86C392.57 333.57 395.71 329.57 398.57 329.14C401.43 328.71 404.29 331.14 407.14 334.29C410 337.43 412.86 343.71 415.71 348C418.57 352.29 421.43 356.71 424.29 360C427.14 363.29 430.71 367.71 432.86 367.71C435 367.71 436.43 361.29 437.14 360" fill="none" stroke="#5ee85e" stroke-width="1.92" stroke-linecap="round" stroke-linejoin="round"/>
<polygon points="336,240 342,238.29 347.14,245.14 355.71,242.57 360.86,257.14 359.14,262.29 340.29,259.71 338.57,250.29" fill="#2aa62a"/>
<polygon points="336,240 342,238.29 347.14,245.14 355.71,242.57 358.29,250.29 348,252.86 342,246.86" fill="#3fcf3f"/>
<path d="M354 260.57C351.43 261 342.71 262.29 338.57 263.14C334.43 264 331.2 264.14 329.14 265.71C327.09 267.29 326.09 269.43 326.23 272.57C326.37 275.71 328.23 280.29 330 284.57C331.77 288.86 334.57 294 336.86 298.29C339.14 302.57 341.71 306 343.71 310.29C345.71 314.57 348 321.71 348.86 324" fill="none" stroke="#1f9e1f" stroke-width="6.4" stroke-linecap="round" stroke-linejoin="round"/><path d="M354 260.57C351.43 261 342.71 262.29 338.57 263.14C334.43 264 331.2 264.14 329.14 265.71C327.09 267.29 326.09 269.43 326.23 272.57C326.37 275.71 328.23 280.29 330 284.57C331.77 288.86 334.57 294 336.86 298.29C339.14 302.57 341.71 306 343.71 310.29C345.71 314.57 348 321.71 348.86 324" fill="none" stroke="#31d331" stroke-width="4.99" stroke-linecap="round" stroke-linejoin="round"/><path d="M354 260.57C351.43 261 342.71 262.29 338.57 263.14C334.43 264 331.2 264.14 329.14 265.71C327.09 267.29 326.09 269.43 326.23 272.57C326.37 275.71 328.23 280.29 330 284.57C331.77 288.86 334.57 294 336.86 298.29C339.14 302.57 341.71 306 343.71 310.29C345.71 314.57 348 321.71 348.86 324" fill="none" stroke="#5ee85e" stroke-width="1.92" stroke-linecap="round" stroke-linejoin="round"/>
<path d="M319.71 252L338.57 251.14" fill="none" stroke="#1f9e1f" stroke-width="6.9" stroke-linecap="round" stroke-linejoin="round"/><path d="M319.71 252L338.57 251.14" fill="none" stroke="#33d633" stroke-width="5.52" stroke-linecap="round" stroke-linejoin="round"/>
<path d="M308.57 250.29L314.57 240L318.86 247.71L319.71 257.14L312.86 263.14L306.86 257.14L308.57 250.29" fill="none" stroke="#1f9e1f" stroke-width="5.8" stroke-linecap="round" stroke-linejoin="round"/><path d="M308.57 250.29L314.57 240L318.86 247.71L319.71 257.14L312.86 263.14L306.86 257.14L308.57 250.29" fill="none" stroke="#2fd02f" stroke-width="4.64" stroke-linecap="round" stroke-linejoin="round"/>
<path d="M312.86 263.14L316.29 274.29L310.29 284.57L302.57 279.43L300 267.43L306.86 257.14" fill="none" stroke="#1f9e1f" stroke-width="5.8" stroke-linecap="round" stroke-linejoin="round"/><path d="M312.86 263.14L316.29 274.29L310.29 284.57L302.57 279.43L300 267.43L306.86 257.14" fill="none" stroke="#2fd02f" stroke-width="4.64" stroke-linecap="round" stroke-linejoin="round"/>
<path d="M306 240L308.06 247.71" fill="none" stroke="#3a3ae0" stroke-width="6.35" stroke-linecap="round" stroke-linejoin="round"/>
<path d="M328.29 344.57L327.43 358.29L322.29 363.43" fill="none" stroke="#28a428" stroke-width="5.8" stroke-linecap="round" stroke-linejoin="round"/><path d="M328.29 344.57L327.43 358.29L322.29 363.43" fill="none" stroke="#45d945" stroke-width="4.64" stroke-linecap="round" stroke-linejoin="round"/>
<path d="M327.43 348.86L338.57 348" fill="none" stroke="#28a428" stroke-width="5.8" stroke-linecap="round" stroke-linejoin="round"/><path d="M327.43 348.86L338.57 348" fill="none" stroke="#45d945" stroke-width="4.64" stroke-linecap="round" stroke-linejoin="round"/>
<path d="M420.86 517.71L431.14 529.71L438.86 526.29" fill="none" stroke="#239f23" stroke-width="6.07" stroke-linecap="round" stroke-linejoin="round"/><path d="M420.86 517.71L431.14 529.71L438.86 526.29" fill="none" stroke="#3fd43f" stroke-width="4.86" stroke-linecap="round" stroke-linejoin="round"/>
<path d="M438.86 526.29L444.86 524.57" fill="none" stroke="#3a4ae6" stroke-width="5.8" stroke-linecap="round" stroke-linejoin="round"/>
<path d="M444.86 524.57L453.43 531.43" fill="none" stroke="#3a4ae6" stroke-width="5.8" stroke-linecap="round" stroke-linejoin="round"/>
<path d="M449.14 528.86L454.29 532.29L460.29 529.71" fill="none" stroke="#3fd43f" stroke-width="5.8" stroke-linecap="round" stroke-linejoin="round"/>
<path d="M460.29 529.71L467.14 526.8" fill="none" stroke="#3a4ae6" stroke-width="5.8" stroke-linecap="round" stroke-linejoin="round"/>
<path d="M454.29 532.29L454.29 538.29" fill="none" stroke="#3fd43f" stroke-width="5.8" stroke-linecap="round" stroke-linejoin="round"/>
<path d="M454.29 538.29L454.29 544.63" fill="none" stroke="#3a4ae6" stroke-width="5.8" stroke-linecap="round" stroke-linejoin="round"/></g>
<g id="a_brown"><path d="M818.29 211.71C816.57 213.43 810.86 218 808 222C805.14 226 802.29 231.71 801.14 235.71C800 239.71 801.14 244.29 801.14 246" fill="none" stroke="#dcc8aa" stroke-width="5.6" stroke-linecap="round" stroke-linejoin="round"/><path d="M818.29 211.71C816.57 213.43 810.86 218 808 222C805.14 226 802.29 231.71 801.14 235.71C800 239.71 801.14 244.29 801.14 246" fill="none" stroke="#ecdcc2" stroke-width="4.37" stroke-linecap="round" stroke-linejoin="round"/><path d="M818.29 211.71C816.57 213.43 810.86 218 808 222C805.14 226 802.29 231.71 801.14 235.71C800 239.71 801.14 244.29 801.14 246" fill="none" stroke="#f4e8d6" stroke-width="1.68" stroke-linecap="round" stroke-linejoin="round"/>
<path d="M825.14 239.14C825.71 236.86 826.57 229.14 828.57 225.43C830.57 221.71 833.71 218.57 837.14 216.86C840.57 215.14 845.43 214.86 849.14 215.14C852.86 215.43 856.57 216.57 859.43 218.57C862.29 220.57 865.14 223.71 866.29 227.14C867.43 230.57 866.29 237.14 866.29 239.14" fill="none" stroke="#dcc8aa" stroke-width="5.6" stroke-linecap="round" stroke-linejoin="round"/><path d="M825.14 239.14C825.71 236.86 826.57 229.14 828.57 225.43C830.57 221.71 833.71 218.57 837.14 216.86C840.57 215.14 845.43 214.86 849.14 215.14C852.86 215.43 856.57 216.57 859.43 218.57C862.29 220.57 865.14 223.71 866.29 227.14C867.43 230.57 866.29 237.14 866.29 239.14" fill="none" stroke="#ecdcc2" stroke-width="4.37" stroke-linecap="round" stroke-linejoin="round"/><path d="M825.14 239.14C825.71 236.86 826.57 229.14 828.57 225.43C830.57 221.71 833.71 218.57 837.14 216.86C840.57 215.14 845.43 214.86 849.14 215.14C852.86 215.43 856.57 216.57 859.43 218.57C862.29 220.57 865.14 223.71 866.29 227.14C867.43 230.57 866.29 237.14 866.29 239.14" fill="none" stroke="#f4e8d6" stroke-width="1.68" stroke-linecap="round" stroke-linejoin="round"/>
<path d="M862.86 249.43C864.29 250.57 869.14 252.86 871.43 256.29C873.71 259.71 874.57 266 876.57 270C878.57 274 882.29 278.57 883.43 280.29" fill="none" stroke="#dcc8aa" stroke-width="5.6" stroke-linecap="round" stroke-linejoin="round"/><path d="M862.86 249.43C864.29 250.57 869.14 252.86 871.43 256.29C873.71 259.71 874.57 266 876.57 270C878.57 274 882.29 278.57 883.43 280.29" fill="none" stroke="#ecdcc2" stroke-width="4.37" stroke-linecap="round" stroke-linejoin="round"/><path d="M862.86 249.43C864.29 250.57 869.14 252.86 871.43 256.29C873.71 259.71 874.57 266 876.57 270C878.57 274 882.29 278.57 883.43 280.29" fill="none" stroke="#f4e8d6" stroke-width="1.68" stroke-linecap="round" stroke-linejoin="round"/>
<path d="M893.71 251.14C895.71 251.14 902.29 249.71 905.71 251.14C909.14 252.57 912 256.86 914.29 259.71C916.57 262.57 918.57 266.86 919.43 268.29" fill="none" stroke="#dcc8aa" stroke-width="5.6" stroke-linecap="round" stroke-linejoin="round"/><path d="M893.71 251.14C895.71 251.14 902.29 249.71 905.71 251.14C909.14 252.57 912 256.86 914.29 259.71C916.57 262.57 918.57 266.86 919.43 268.29" fill="none" stroke="#ecdcc2" stroke-width="4.37" stroke-linecap="round" stroke-linejoin="round"/><path d="M893.71 251.14C895.71 251.14 902.29 249.71 905.71 251.14C909.14 252.57 912 256.86 914.29 259.71C916.57 262.57 918.57 266.86 919.43 268.29" fill="none" stroke="#f4e8d6" stroke-width="1.68" stroke-linecap="round" stroke-linejoin="round"/>
<path d="M794.29 379.71C791.43 381.14 782.86 386 777.14 388.29C771.43 390.57 762.86 392.57 760 393.43" fill="none" stroke="#dcc8aa" stroke-width="5.6" stroke-linecap="round" stroke-linejoin="round"/><path d="M794.29 379.71C791.43 381.14 782.86 386 777.14 388.29C771.43 390.57 762.86 392.57 760 393.43" fill="none" stroke="#ecdcc2" stroke-width="4.37" stroke-linecap="round" stroke-linejoin="round"/><path d="M794.29 379.71C791.43 381.14 782.86 386 777.14 388.29C771.43 390.57 762.86 392.57 760 393.43" fill="none" stroke="#f4e8d6" stroke-width="1.68" stroke-linecap="round" stroke-linejoin="round"/>
<path d="M849.14 381.43L849.14 391.71" fill="none" stroke="#dcc8aa" stroke-width="5.6" stroke-linecap="round" stroke-linejoin="round"/><path d="M849.14 381.43L849.14 391.71" fill="none" stroke="#ecdcc2" stroke-width="4.37" stroke-linecap="round" stroke-linejoin="round"/><path d="M849.14 381.43L849.14 391.71" fill="none" stroke="#f4e8d6" stroke-width="1.68" stroke-linecap="round" stroke-linejoin="round"/>
<polygon points="916.86,272.57 931.43,259.71 946.86,246 958.86,238.29 962.29,243.43 948.57,256.29 933.14,268.29 920.29,276" fill="#7d6540"/>
<path d="M895.43 246C895.71 243.71 896 236.57 897.14 232.29C898.29 228 900 223.43 902.29 220.29C904.57 217.14 907.71 214.86 910.86 213.43C914 212 917.71 211.43 921.14 211.71C924.57 212 928.57 213.14 931.43 215.14C934.29 217.14 936.57 220.29 938.29 223.71C940 227.14 941.43 231.43 941.71 235.71C942 240 940 245.43 940 249.43C940 253.43 940.29 257.71 941.71 259.71C943.14 261.71 946 262.57 948.57 261.43C951.14 260.29 955.14 256 957.14 252.86C959.14 249.71 960 244.29 960.57 242.57" fill="none" stroke="#80592a" stroke-width="6" stroke-linecap="round" stroke-linejoin="round"/><path d="M895.43 246C895.71 243.71 896 236.57 897.14 232.29C898.29 228 900 223.43 902.29 220.29C904.57 217.14 907.71 214.86 910.86 213.43C914 212 917.71 211.43 921.14 211.71C924.57 212 928.57 213.14 931.43 215.14C934.29 217.14 936.57 220.29 938.29 223.71C940 227.14 941.43 231.43 941.71 235.71C942 240 940 245.43 940 249.43C940 253.43 940.29 257.71 941.71 259.71C943.14 261.71 946 262.57 948.57 261.43C951.14 260.29 955.14 256 957.14 252.86C959.14 249.71 960 244.29 960.57 242.57" fill="none" stroke="#b38445" stroke-width="4.68" stroke-linecap="round" stroke-linejoin="round"/><path d="M895.43 246C895.71 243.71 896 236.57 897.14 232.29C898.29 228 900 223.43 902.29 220.29C904.57 217.14 907.71 214.86 910.86 213.43C914 212 917.71 211.43 921.14 211.71C924.57 212 928.57 213.14 931.43 215.14C934.29 217.14 936.57 220.29 938.29 223.71C940 227.14 941.43 231.43 941.71 235.71C942 240 940 245.43 940 249.43C940 253.43 940.29 257.71 941.71 259.71C943.14 261.71 946 262.57 948.57 261.43C951.14 260.29 955.14 256 957.14 252.86C959.14 249.71 960 244.29 960.57 242.57" fill="none" stroke="#d0a564" stroke-width="1.8" stroke-linecap="round" stroke-linejoin="round"/>
<polygon points="970.51,269.14 975.14,287.14 948.57,294 922.86,295.71 899.71,292.29 897.14,295.37 885.14,280.29 910.86,277.71 940,274.8" fill="#96713c"/>
<polygon points="970.51,269.14 972.23,276 941.71,280.29 914.29,282.86 888.57,282.86 885.14,280.29 910.86,277.71 940,274.8" fill="#ad8549"/>
<polygon points="968.29,269.66 971.2,268.97 976,287.14 973.09,287.66" fill="#c9a05e"/>
<path d="M974.29 280.29C976 279.71 981.14 276.86 984.57 276.86C988 276.86 991.71 278 994.86 280.29C998 282.57 1001.43 286.57 1003.43 290.57C1005.43 294.57 1006.57 299.71 1006.86 304.29C1007.14 308.86 1006.57 314 1005.14 318C1003.71 322 1001.43 325.71 998.29 328.29C995.14 330.86 990.57 331.71 986.29 333.43C982 335.14 977.14 336.86 972.57 338.57C968 340.29 963.71 342.57 958.86 343.71C954 344.86 946 345.14 943.43 345.43" fill="none" stroke="#80592a" stroke-width="6" stroke-linecap="round" stroke-linejoin="round"/><path d="M974.29 280.29C976 279.71 981.14 276.86 984.57 276.86C988 276.86 991.71 278 994.86 280.29C998 282.57 1001.43 286.57 1003.43 290.57C1005.43 294.57 1006.57 299.71 1006.86 304.29C1007.14 308.86 1006.57 314 1005.14 318C1003.71 322 1001.43 325.71 998.29 328.29C995.14 330.86 990.57 331.71 986.29 333.43C982 335.14 977.14 336.86 972.57 338.57C968 340.29 963.71 342.57 958.86 343.71C954 344.86 946 345.14 943.43 345.43" fill="none" stroke="#b38445" stroke-width="4.68" stroke-linecap="round" stroke-linejoin="round"/><path d="M974.29 280.29C976 279.71 981.14 276.86 984.57 276.86C988 276.86 991.71 278 994.86 280.29C998 282.57 1001.43 286.57 1003.43 290.57C1005.43 294.57 1006.57 299.71 1006.86 304.29C1007.14 308.86 1006.57 314 1005.14 318C1003.71 322 1001.43 325.71 998.29 328.29C995.14 330.86 990.57 331.71 986.29 333.43C982 335.14 977.14 336.86 972.57 338.57C968 340.29 963.71 342.57 958.86 343.71C954 344.86 946 345.14 943.43 345.43" fill="none" stroke="#d0a564" stroke-width="1.8" stroke-linecap="round" stroke-linejoin="round"/>
<polygon points="899.71,332.57 921.14,334.29 922,329.14 943.09,344.57 925.43,357.77 924.57,352.29 903.14,350.57" fill="#8f6b38"/>
<polygon points="899.71,332.57 921.14,334.29 922,329.14 943.09,344.57 922.86,342 902.29,340.29" fill="#a67e44"/>
<path d="M900.57 340.29C898.86 339.14 894 335.43 890.29 333.43C886.57 331.43 882.86 329.43 878.29 328.29C873.71 327.14 867.43 327.43 862.86 326.57C858.29 325.71 854 325.14 850.86 323.14C847.71 321.14 845.43 317.71 844 314.57C842.57 311.43 842 307.71 842.29 304.29C842.57 300.86 844.57 296 845.71 294C846.86 292 848.57 292.57 849.14 292.29" fill="none" stroke="#80592a" stroke-width="6" stroke-linecap="round" stroke-linejoin="round"/><path d="M900.57 340.29C898.86 339.14 894 335.43 890.29 333.43C886.57 331.43 882.86 329.43 878.29 328.29C873.71 327.14 867.43 327.43 862.86 326.57C858.29 325.71 854 325.14 850.86 323.14C847.71 321.14 845.43 317.71 844 314.57C842.57 311.43 842 307.71 842.29 304.29C842.57 300.86 844.57 296 845.71 294C846.86 292 848.57 292.57 849.14 292.29" fill="none" stroke="#b38445" stroke-width="4.68" stroke-linecap="round" stroke-linejoin="round"/><path d="M900.57 340.29C898.86 339.14 894 335.43 890.29 333.43C886.57 331.43 882.86 329.43 878.29 328.29C873.71 327.14 867.43 327.43 862.86 326.57C858.29 325.71 854 325.14 850.86 323.14C847.71 321.14 845.43 317.71 844 314.57C842.57 311.43 842 307.71 842.29 304.29C842.57 300.86 844.57 296 845.71 294C846.86 292 848.57 292.57 849.14 292.29" fill="none" stroke="#d0a564" stroke-width="1.8" stroke-linecap="round" stroke-linejoin="round"/>
<path d="M806.29 261.43C806.86 262.86 807.71 267.14 809.71 270C811.71 272.86 815.14 276.29 818.29 278.57C821.43 280.86 825.71 282 828.57 283.71C831.43 285.43 833.43 286.57 835.43 288.86C837.43 291.14 839.71 294.29 840.57 297.43C841.43 300.57 841.43 304 840.57 307.71C839.71 311.43 836.57 315.71 835.43 319.71C834.29 323.71 833.43 327.71 833.71 331.71C834 335.71 835.43 339.71 837.14 343.71C838.86 347.71 842.14 351.43 844 355.71C845.86 360 847.43 365.14 848.29 369.43C849.14 373.71 849 379.43 849.14 381.43" fill="none" stroke="#80592a" stroke-width="6" stroke-linecap="round" stroke-linejoin="round"/><path d="M806.29 261.43C806.86 262.86 807.71 267.14 809.71 270C811.71 272.86 815.14 276.29 818.29 278.57C821.43 280.86 825.71 282 828.57 283.71C831.43 285.43 833.43 286.57 835.43 288.86C837.43 291.14 839.71 294.29 840.57 297.43C841.43 300.57 841.43 304 840.57 307.71C839.71 311.43 836.57 315.71 835.43 319.71C834.29 323.71 833.43 327.71 833.71 331.71C834 335.71 835.43 339.71 837.14 343.71C838.86 347.71 842.14 351.43 844 355.71C845.86 360 847.43 365.14 848.29 369.43C849.14 373.71 849 379.43 849.14 381.43" fill="none" stroke="#b38445" stroke-width="4.68" stroke-linecap="round" stroke-linejoin="round"/><path d="M806.29 261.43C806.86 262.86 807.71 267.14 809.71 270C811.71 272.86 815.14 276.29 818.29 278.57C821.43 280.86 825.71 282 828.57 283.71C831.43 285.43 833.43 286.57 835.43 288.86C837.43 291.14 839.71 294.29 840.57 297.43C841.43 300.57 841.43 304 840.57 307.71C839.71 311.43 836.57 315.71 835.43 319.71C834.29 323.71 833.43 327.71 833.71 331.71C834 335.71 835.43 339.71 837.14 343.71C838.86 347.71 842.14 351.43 844 355.71C845.86 360 847.43 365.14 848.29 369.43C849.14 373.71 849 379.43 849.14 381.43" fill="none" stroke="#d0a564" stroke-width="1.8" stroke-linecap="round" stroke-linejoin="round"/>
<path d="M816.57 314.57C815.71 316 812.86 319.71 811.43 323.14C810 326.57 808.86 330.86 808 335.14C807.14 339.43 806.86 344.29 806.29 348.86C805.71 353.43 805.43 358.57 804.57 362.57C803.71 366.57 802.86 370 801.14 372.86C799.43 375.71 795.43 378.57 794.29 379.71" fill="none" stroke="#80592a" stroke-width="6" stroke-linecap="round" stroke-linejoin="round"/><path d="M816.57 314.57C815.71 316 812.86 319.71 811.43 323.14C810 326.57 808.86 330.86 808 335.14C807.14 339.43 806.86 344.29 806.29 348.86C805.71 353.43 805.43 358.57 804.57 362.57C803.71 366.57 802.86 370 801.14 372.86C799.43 375.71 795.43 378.57 794.29 379.71" fill="none" stroke="#b38445" stroke-width="4.68" stroke-linecap="round" stroke-linejoin="round"/><path d="M816.57 314.57C815.71 316 812.86 319.71 811.43 323.14C810 326.57 808.86 330.86 808 335.14C807.14 339.43 806.86 344.29 806.29 348.86C805.71 353.43 805.43 358.57 804.57 362.57C803.71 366.57 802.86 370 801.14 372.86C799.43 375.71 795.43 378.57 794.29 379.71" fill="none" stroke="#d0a564" stroke-width="1.8" stroke-linecap="round" stroke-linejoin="round"/>
<path d="M816.57 314.57C818.57 313.71 824.57 310.57 828.57 309.43C832.57 308.29 836.86 308.86 840.57 307.71C844.29 306.57 847.71 305.14 850.86 302.57C854 300 856.86 295.71 859.43 292.29C862 288.86 864 285.43 866.29 282C868.57 278.57 872 273.43 873.14 271.71" fill="none" stroke="#80592a" stroke-width="6" stroke-linecap="round" stroke-linejoin="round"/><path d="M816.57 314.57C818.57 313.71 824.57 310.57 828.57 309.43C832.57 308.29 836.86 308.86 840.57 307.71C844.29 306.57 847.71 305.14 850.86 302.57C854 300 856.86 295.71 859.43 292.29C862 288.86 864 285.43 866.29 282C868.57 278.57 872 273.43 873.14 271.71" fill="none" stroke="#b38445" stroke-width="4.68" stroke-linecap="round" stroke-linejoin="round"/><path d="M816.57 314.57C818.57 313.71 824.57 310.57 828.57 309.43C832.57 308.29 836.86 308.86 840.57 307.71C844.29 306.57 847.71 305.14 850.86 302.57C854 300 856.86 295.71 859.43 292.29C862 288.86 864 285.43 866.29 282C868.57 278.57 872 273.43 873.14 271.71" fill="none" stroke="#d0a564" stroke-width="1.8" stroke-linecap="round" stroke-linejoin="round"/>
<polygon points="869.71,270 883.43,249.43 895.43,251.14 893.71,256.29 880,273.43 873.14,276.86" fill="#8c6a3a"/>
<polygon points="869.71,270 873.14,276.86 897.14,252.86 895.43,251.14" fill="#d9ae68"/>
<polygon points="873.14,232.29 869.71,242.57 861.14,251.14 854.29,256.29 853.43,270 852.57,285.43 849.14,294 844,291.43 841.43,276.86 837.14,261.43 837.14,252.86 844,252.86 847.43,247.71 856,242.57 864.57,237.43" fill="#8f6c3a"/>
<polygon points="853.43,256.29 854.29,270 852.57,285.43 849.14,294 846.57,292.29 849.14,280.29 850,268.29 848.29,258" fill="#c79c5a"/>
<path d="M871.43 235.71C872 234.43 874 231.57 874.86 228C875.71 224.43 876.57 218.86 876.57 214.29C876.57 209.71 874.29 204.57 874.86 200.57C875.43 196.57 877.43 193.14 880 190.29C882.57 187.43 886.57 185.43 890.29 183.43C894 181.43 898.57 180.57 902.29 178.29C906 176 909.71 173.14 912.57 169.71C915.43 166.29 917.43 162 919.43 157.71C921.43 153.43 922.86 148.57 924.57 144C926.29 139.43 928 134.29 929.71 130.29C931.43 126.29 932.29 123.14 934.86 120C937.43 116.86 941.43 114 945.14 111.43C948.86 108.86 953.43 106.29 957.14 104.57C960.86 102.86 965.71 101.71 967.43 101.14" fill="none" stroke="#80592a" stroke-width="6" stroke-linecap="round" stroke-linejoin="round"/><path d="M871.43 235.71C872 234.43 874 231.57 874.86 228C875.71 224.43 876.57 218.86 876.57 214.29C876.57 209.71 874.29 204.57 874.86 200.57C875.43 196.57 877.43 193.14 880 190.29C882.57 187.43 886.57 185.43 890.29 183.43C894 181.43 898.57 180.57 902.29 178.29C906 176 909.71 173.14 912.57 169.71C915.43 166.29 917.43 162 919.43 157.71C921.43 153.43 922.86 148.57 924.57 144C926.29 139.43 928 134.29 929.71 130.29C931.43 126.29 932.29 123.14 934.86 120C937.43 116.86 941.43 114 945.14 111.43C948.86 108.86 953.43 106.29 957.14 104.57C960.86 102.86 965.71 101.71 967.43 101.14" fill="none" stroke="#b38445" stroke-width="4.68" stroke-linecap="round" stroke-linejoin="round"/><path d="M871.43 235.71C872 234.43 874 231.57 874.86 228C875.71 224.43 876.57 218.86 876.57 214.29C876.57 209.71 874.29 204.57 874.86 200.57C875.43 196.57 877.43 193.14 880 190.29C882.57 187.43 886.57 185.43 890.29 183.43C894 181.43 898.57 180.57 902.29 178.29C906 176 909.71 173.14 912.57 169.71C915.43 166.29 917.43 162 919.43 157.71C921.43 153.43 922.86 148.57 924.57 144C926.29 139.43 928 134.29 929.71 130.29C931.43 126.29 932.29 123.14 934.86 120C937.43 116.86 941.43 114 945.14 111.43C948.86 108.86 953.43 106.29 957.14 104.57C960.86 102.86 965.71 101.71 967.43 101.14" fill="none" stroke="#d0a564" stroke-width="1.8" stroke-linecap="round" stroke-linejoin="round"/>
<path d="M818.29 211.71C819.43 210.86 822.86 207.14 825.14 206.57C827.43 206 830.43 209.29 832 208.29C833.57 207.29 834.57 204.14 834.57 200.57C834.57 197 832.71 191.43 832 186.86C831.29 182.29 829.71 177.43 830.29 173.14C830.86 168.86 832.57 164.57 835.43 161.14C838.29 157.71 842.86 155 847.43 152.57C852 150.14 857.43 148.14 862.86 146.57C868.29 145 874.57 144.71 880 143.14C885.43 141.57 891.43 139.86 895.43 137.14C899.43 134.43 902 130.57 904 126.86C906 123.14 905.71 118.29 907.43 114.86C909.14 111.43 911.43 108.29 914.29 106.29C917.14 104.29 920.86 103.14 924.57 102.86C928.29 102.57 932.86 103.43 936.57 104.57C940.29 105.71 943.43 108.57 946.86 109.71C950.29 110.86 954 111.71 957.14 111.43C960.29 111.14 963.57 109.71 965.71 108C967.86 106.29 969.29 102.29 970 101.14" fill="none" stroke="#80592a" stroke-width="6" stroke-linecap="round" stroke-linejoin="round"/><path d="M818.29 211.71C819.43 210.86 822.86 207.14 825.14 206.57C827.43 206 830.43 209.29 832 208.29C833.57 207.29 834.57 204.14 834.57 200.57C834.57 197 832.71 191.43 832 186.86C831.29 182.29 829.71 177.43 830.29 173.14C830.86 168.86 832.57 164.57 835.43 161.14C838.29 157.71 842.86 155 847.43 152.57C852 150.14 857.43 148.14 862.86 146.57C868.29 145 874.57 144.71 880 143.14C885.43 141.57 891.43 139.86 895.43 137.14C899.43 134.43 902 130.57 904 126.86C906 123.14 905.71 118.29 907.43 114.86C909.14 111.43 911.43 108.29 914.29 106.29C917.14 104.29 920.86 103.14 924.57 102.86C928.29 102.57 932.86 103.43 936.57 104.57C940.29 105.71 943.43 108.57 946.86 109.71C950.29 110.86 954 111.71 957.14 111.43C960.29 111.14 963.57 109.71 965.71 108C967.86 106.29 969.29 102.29 970 101.14" fill="none" stroke="#b38445" stroke-width="4.68" stroke-linecap="round" stroke-linejoin="round"/><path d="M818.29 211.71C819.43 210.86 822.86 207.14 825.14 206.57C827.43 206 830.43 209.29 832 208.29C833.57 207.29 834.57 204.14 834.57 200.57C834.57 197 832.71 191.43 832 186.86C831.29 182.29 829.71 177.43 830.29 173.14C830.86 168.86 832.57 164.57 835.43 161.14C838.29 157.71 842.86 155 847.43 152.57C852 150.14 857.43 148.14 862.86 146.57C868.29 145 874.57 144.71 880 143.14C885.43 141.57 891.43 139.86 895.43 137.14C899.43 134.43 902 130.57 904 126.86C906 123.14 905.71 118.29 907.43 114.86C909.14 111.43 911.43 108.29 914.29 106.29C917.14 104.29 920.86 103.14 924.57 102.86C928.29 102.57 932.86 103.43 936.57 104.57C940.29 105.71 943.43 108.57 946.86 109.71C950.29 110.86 954 111.71 957.14 111.43C960.29 111.14 963.57 109.71 965.71 108C967.86 106.29 969.29 102.29 970 101.14" fill="none" stroke="#d0a564" stroke-width="1.8" stroke-linecap="round" stroke-linejoin="round"/>
<path d="M967.77 101.14L967.77 87.43L972.57 87.43L969.49 75.43L959.71 74.74" fill="none" stroke="#8a6230" stroke-width="6.07" stroke-linecap="round" stroke-linejoin="round"/><path d="M967.77 101.14L967.77 87.43L972.57 87.43L969.49 75.43L959.71 74.74" fill="none" stroke="#b88a4a" stroke-width="4.86" stroke-linecap="round" stroke-linejoin="round"/>
<path d="M959.71 74.74L950.29 72" fill="none" stroke="#3344e8" stroke-width="5.8" stroke-linecap="round" stroke-linejoin="round"/>
<path d="M950.29 72L945.49 65.49L940 64.8" fill="none" stroke="#b88a4a" stroke-width="5.8" stroke-linecap="round" stroke-linejoin="round"/>
<path d="M940 64.8L932.8 64.29" fill="none" stroke="#3344e8" stroke-width="5.8" stroke-linecap="round" stroke-linejoin="round"/>
<path d="M945.49 65.49L948.57 60.34" fill="none" stroke="#b88a4a" stroke-width="5.8" stroke-linecap="round" stroke-linejoin="round"/>
<path d="M948.57 60.34L953.71 55.2" fill="none" stroke="#3344e8" stroke-width="5.8" stroke-linecap="round" stroke-linejoin="round"/>
<path d="M796 252.86L804.57 246L814.86 246L820 252.86L813.14 259.71L802.86 259.71L796 252.86" fill="none" stroke="#80592a" stroke-width="5.52" stroke-linecap="round" stroke-linejoin="round"/><path d="M796 252.86L804.57 246L814.86 246L820 252.86L813.14 259.71L802.86 259.71L796 252.86" fill="none" stroke="#b38445" stroke-width="4.42" stroke-linecap="round" stroke-linejoin="round"/>
<path d="M796.34 255.94L789.49 258" fill="none" stroke="#80592a" stroke-width="6.07" stroke-linecap="round" stroke-linejoin="round"/><path d="M796.34 255.94L789.49 258" fill="none" stroke="#b38445" stroke-width="4.86" stroke-linecap="round" stroke-linejoin="round"/>
<path d="M789.14 258L781.43 259.03" fill="none" stroke="#ee3a3a" stroke-width="6.62" stroke-linecap="round" stroke-linejoin="round"/>
<path d="M820 252.86L828.57 247.71L837.14 246L844 252.86" fill="none" stroke="#80592a" stroke-width="5.8" stroke-linecap="round" stroke-linejoin="round"/><path d="M820 252.86L828.57 247.71L837.14 246L844 252.86" fill="none" stroke="#b38445" stroke-width="4.64" stroke-linecap="round" stroke-linejoin="round"/>
<path d="M796 294L802.86 299.14L808 309.43L809.71 321.43" fill="none" stroke="#80592a" stroke-width="6.07" stroke-linecap="round" stroke-linejoin="round"/><path d="M796 294L802.86 299.14L808 309.43L809.71 321.43" fill="none" stroke="#b38445" stroke-width="4.86" stroke-linecap="round" stroke-linejoin="round"/>
<path d="M794.29 324.86L809.71 319.71L816.57 321.43" fill="none" stroke="#80592a" stroke-width="6.07" stroke-linecap="round" stroke-linejoin="round"/><path d="M794.29 324.86L809.71 319.71L816.57 321.43" fill="none" stroke="#b38445" stroke-width="4.86" stroke-linecap="round" stroke-linejoin="round"/>
<path d="M816.57 321.43L820 326.57L833.71 326.57" fill="none" stroke="#80592a" stroke-width="6.07" stroke-linecap="round" stroke-linejoin="round"/><path d="M816.57 321.43L820 326.57L833.71 326.57" fill="none" stroke="#b38445" stroke-width="4.86" stroke-linecap="round" stroke-linejoin="round"/>
<path d="M804.57 333.43L802.86 342" fill="none" stroke="#8a6836" stroke-width="5.8" stroke-linecap="round" stroke-linejoin="round"/>
<path d="M754.29 397.37L759.77 400.29L758.74 404.91" fill="none" stroke="#80592a" stroke-width="5.8" stroke-linecap="round" stroke-linejoin="round"/><path d="M754.29 397.37L759.77 400.29L758.74 404.91" fill="none" stroke="#b38445" stroke-width="4.64" stroke-linecap="round" stroke-linejoin="round"/></g>
<g id="a_green2"><path d="M690.86 358.29C689.43 359.71 684.57 363.71 682.29 366.86C680 370 677.71 373.14 677.14 377.14C676.57 381.14 676.86 387.14 678.86 390.86C680.86 394.57 685.14 398.29 689.14 399.43C693.14 400.57 698.86 399.43 702.86 397.71C706.86 396 710.86 393.14 713.14 389.14C715.43 385.14 716.57 378.57 716.57 373.71C716.57 368.86 715.43 363.14 713.14 360C710.86 356.86 706.29 355.29 702.86 354.86C699.43 354.43 694.29 357 692.57 357.43" fill="none" stroke="#9bd99b" stroke-width="5.6" stroke-linecap="round" stroke-linejoin="round"/><path d="M690.86 358.29C689.43 359.71 684.57 363.71 682.29 366.86C680 370 677.71 373.14 677.14 377.14C676.57 381.14 676.86 387.14 678.86 390.86C680.86 394.57 685.14 398.29 689.14 399.43C693.14 400.57 698.86 399.43 702.86 397.71C706.86 396 710.86 393.14 713.14 389.14C715.43 385.14 716.57 378.57 716.57 373.71C716.57 368.86 715.43 363.14 713.14 360C710.86 356.86 706.29 355.29 702.86 354.86C699.43 354.43 694.29 357 692.57 357.43" fill="none" stroke="#b4ecb4" stroke-width="4.37" stroke-linecap="round" stroke-linejoin="round"/><path d="M690.86 358.29C689.43 359.71 684.57 363.71 682.29 366.86C680 370 677.71 373.14 677.14 377.14C676.57 381.14 676.86 387.14 678.86 390.86C680.86 394.57 685.14 398.29 689.14 399.43C693.14 400.57 698.86 399.43 702.86 397.71C706.86 396 710.86 393.14 713.14 389.14C715.43 385.14 716.57 378.57 716.57 373.71C716.57 368.86 715.43 363.14 713.14 360C710.86 356.86 706.29 355.29 702.86 354.86C699.43 354.43 694.29 357 692.57 357.43" fill="none" stroke="#cdf4cd" stroke-width="1.68" stroke-linecap="round" stroke-linejoin="round"/>
<path d="M711.43 313.71C711.14 315.71 709.43 320.86 709.71 325.71C710 330.57 712 338 713.14 342.86C714.29 347.71 716 352.86 716.57 354.86" fill="none" stroke="#9bd99b" stroke-width="5.6" stroke-linecap="round" stroke-linejoin="round"/><path d="M711.43 313.71C711.14 315.71 709.43 320.86 709.71 325.71C710 330.57 712 338 713.14 342.86C714.29 347.71 716 352.86 716.57 354.86" fill="none" stroke="#b4ecb4" stroke-width="4.37" stroke-linecap="round" stroke-linejoin="round"/><path d="M711.43 313.71C711.14 315.71 709.43 320.86 709.71 325.71C710 330.57 712 338 713.14 342.86C714.29 347.71 716 352.86 716.57 354.86" fill="none" stroke="#cdf4cd" stroke-width="1.68" stroke-linecap="round" stroke-linejoin="round"/>
<path d="M714.86 315.43C717.14 316.57 723.43 319.14 728.57 322.29C733.71 325.43 741.29 330 745.71 334.29C750.14 338.57 753.57 345.71 755.14 348" fill="none" stroke="#9bd99b" stroke-width="5.6" stroke-linecap="round" stroke-linejoin="round"/><path d="M714.86 315.43C717.14 316.57 723.43 319.14 728.57 322.29C733.71 325.43 741.29 330 745.71 334.29C750.14 338.57 753.57 345.71 755.14 348" fill="none" stroke="#b4ecb4" stroke-width="4.37" stroke-linecap="round" stroke-linejoin="round"/><path d="M714.86 315.43C717.14 316.57 723.43 319.14 728.57 322.29C733.71 325.43 741.29 330 745.71 334.29C750.14 338.57 753.57 345.71 755.14 348" fill="none" stroke="#cdf4cd" stroke-width="1.68" stroke-linecap="round" stroke-linejoin="round"/>
<path d="M752.57 366.86C751.86 368.86 750 374.29 748.29 378.86C746.57 383.43 743.29 391.71 742.29 394.29" fill="none" stroke="#9bd99b" stroke-width="5.6" stroke-linecap="round" stroke-linejoin="round"/><path d="M752.57 366.86C751.86 368.86 750 374.29 748.29 378.86C746.57 383.43 743.29 391.71 742.29 394.29" fill="none" stroke="#b4ecb4" stroke-width="4.37" stroke-linecap="round" stroke-linejoin="round"/><path d="M752.57 366.86C751.86 368.86 750 374.29 748.29 378.86C746.57 383.43 743.29 391.71 742.29 394.29" fill="none" stroke="#cdf4cd" stroke-width="1.68" stroke-linecap="round" stroke-linejoin="round"/>
<polygon points="593.14,353.14 601.71,347.14 617.14,344.57 636,345.43 656.57,348.86 675.43,353.14 684,360 670.29,361.71 651.43,358.29 632.57,356.57 617.14,358.29 612,366.86 608.57,375.43 600,372 594.86,363.43" fill="#2aa32a"/>
<polygon points="581.14,317.14 596.57,314.57 617.14,312.86 636,315.43 653.14,322.29 666.86,330.86 675.43,338.57 682.29,337.71 681.43,356.57 670.29,351.43 672,348.86 660,341.14 642.86,334.29 622.29,331.71 600,333.43 581.14,336.86" fill="#2fb02f"/>
<polygon points="581.14,317.14 596.57,314.57 617.14,312.86 636,315.43 653.14,322.29 666.86,330.86 675.43,338.57 670.29,340.29 651.43,329.14 632.57,323.14 613.71,321.43 596.57,323.14 581.14,325.71" fill="#3cc83c"/>
<path d="M616.29 272.57C613.57 272.14 605.57 270.57 600 270C594.43 269.43 588.29 268.71 582.86 269.14C577.43 269.57 571.43 270.29 567.43 272.57C563.43 274.86 560.43 278.57 558.86 282.86C557.29 287.14 557.43 293.14 558 298.29C558.57 303.43 560.71 309.14 562.29 313.71C563.86 318.29 565.71 322.86 567.43 325.71C569.14 328.57 570.14 330.43 572.57 330.86C575 331.29 580.43 328.71 582 328.29" fill="none" stroke="#1f9e1f" stroke-width="6" stroke-linecap="round" stroke-linejoin="round"/><path d="M616.29 272.57C613.57 272.14 605.57 270.57 600 270C594.43 269.43 588.29 268.71 582.86 269.14C577.43 269.57 571.43 270.29 567.43 272.57C563.43 274.86 560.43 278.57 558.86 282.86C557.29 287.14 557.43 293.14 558 298.29C558.57 303.43 560.71 309.14 562.29 313.71C563.86 318.29 565.71 322.86 567.43 325.71C569.14 328.57 570.14 330.43 572.57 330.86C575 331.29 580.43 328.71 582 328.29" fill="none" stroke="#31d331" stroke-width="4.68" stroke-linecap="round" stroke-linejoin="round"/><path d="M616.29 272.57C613.57 272.14 605.57 270.57 600 270C594.43 269.43 588.29 268.71 582.86 269.14C577.43 269.57 571.43 270.29 567.43 272.57C563.43 274.86 560.43 278.57 558.86 282.86C557.29 287.14 557.43 293.14 558 298.29C558.57 303.43 560.71 309.14 562.29 313.71C563.86 318.29 565.71 322.86 567.43 325.71C569.14 328.57 570.14 330.43 572.57 330.86C575 331.29 580.43 328.71 582 328.29" fill="none" stroke="#5ee85e" stroke-width="1.8" stroke-linecap="round" stroke-linejoin="round"/>
<path d="M783.43 225.43C785.14 224.43 790.86 221.71 793.71 219.43C796.57 217.14 799.43 213 800.57 211.71" fill="none" stroke="#9bd99b" stroke-width="5.6" stroke-linecap="round" stroke-linejoin="round"/><path d="M783.43 225.43C785.14 224.43 790.86 221.71 793.71 219.43C796.57 217.14 799.43 213 800.57 211.71" fill="none" stroke="#b4ecb4" stroke-width="4.37" stroke-linecap="round" stroke-linejoin="round"/><path d="M783.43 225.43C785.14 224.43 790.86 221.71 793.71 219.43C796.57 217.14 799.43 213 800.57 211.71" fill="none" stroke="#cdf4cd" stroke-width="1.68" stroke-linecap="round" stroke-linejoin="round"/>
<path d="M799.71 213.43L805.37 202.29" fill="none" stroke="#1f9e1f" stroke-width="6" stroke-linecap="round" stroke-linejoin="round"/><path d="M799.71 213.43L805.37 202.29" fill="none" stroke="#31d331" stroke-width="4.68" stroke-linecap="round" stroke-linejoin="round"/><path d="M799.71 213.43L805.37 202.29" fill="none" stroke="#5ee85e" stroke-width="1.8" stroke-linecap="round" stroke-linejoin="round"/>
<path d="M783.43 225.43C780.86 225.57 772.86 225.57 768 226.29C763.14 227 757.86 227.71 754.29 229.71C750.71 231.71 748 234.57 746.57 238.29C745.14 242 745.43 247.43 745.71 252C746 256.57 747.86 261.14 748.29 265.71C748.71 270.29 749 275.14 748.29 279.43C747.57 283.71 745.86 288.29 744 291.43C742.14 294.57 740.29 296.71 737.14 298.29C734 299.86 729.43 300.29 725.14 300.86C720.86 301.43 715.43 300.71 711.43 301.71C707.43 302.71 703.86 304.29 701.14 306.86C698.43 309.43 696.29 313.14 695.14 317.14C694 321.14 695 326.57 694.29 330.86C693.57 335.14 692.86 339.71 690.86 342.86C688.86 346 685.71 347.71 682.29 349.71C678.86 351.71 674 352.57 670.29 354.86C666.57 357.14 662.57 359.71 660 363.43C657.43 367.14 656.29 373.14 654.86 377.14C653.43 381.14 653.43 384.57 651.43 387.43C649.43 390.29 646 393.14 642.86 394.29C639.71 395.43 636 395.43 632.57 394.29C629.14 393.14 625 390.57 622.29 387.43C619.57 384.29 617.43 379.71 616.29 375.43C615.14 371.14 616.14 365.43 615.43 361.71C614.71 358 613.57 354.86 612 353.14C610.43 351.43 607 351.71 606 351.43" fill="none" stroke="#1f9e1f" stroke-width="6" stroke-linecap="round" stroke-linejoin="round"/><path d="M783.43 225.43C780.86 225.57 772.86 225.57 768 226.29C763.14 227 757.86 227.71 754.29 229.71C750.71 231.71 748 234.57 746.57 238.29C745.14 242 745.43 247.43 745.71 252C746 256.57 747.86 261.14 748.29 265.71C748.71 270.29 749 275.14 748.29 279.43C747.57 283.71 745.86 288.29 744 291.43C742.14 294.57 740.29 296.71 737.14 298.29C734 299.86 729.43 300.29 725.14 300.86C720.86 301.43 715.43 300.71 711.43 301.71C707.43 302.71 703.86 304.29 701.14 306.86C698.43 309.43 696.29 313.14 695.14 317.14C694 321.14 695 326.57 694.29 330.86C693.57 335.14 692.86 339.71 690.86 342.86C688.86 346 685.71 347.71 682.29 349.71C678.86 351.71 674 352.57 670.29 354.86C666.57 357.14 662.57 359.71 660 363.43C657.43 367.14 656.29 373.14 654.86 377.14C653.43 381.14 653.43 384.57 651.43 387.43C649.43 390.29 646 393.14 642.86 394.29C639.71 395.43 636 395.43 632.57 394.29C629.14 393.14 625 390.57 622.29 387.43C619.57 384.29 617.43 379.71 616.29 375.43C615.14 371.14 616.14 365.43 615.43 361.71C614.71 358 613.57 354.86 612 353.14C610.43 351.43 607 351.71 606 351.43" fill="none" stroke="#31d331" stroke-width="4.68" stroke-linecap="round" stroke-linejoin="round"/><path d="M783.43 225.43C780.86 225.57 772.86 225.57 768 226.29C763.14 227 757.86 227.71 754.29 229.71C750.71 231.71 748 234.57 746.57 238.29C745.14 242 745.43 247.43 745.71 252C746 256.57 747.86 261.14 748.29 265.71C748.71 270.29 749 275.14 748.29 279.43C747.57 283.71 745.86 288.29 744 291.43C742.14 294.57 740.29 296.71 737.14 298.29C734 299.86 729.43 300.29 725.14 300.86C720.86 301.43 715.43 300.71 711.43 301.71C707.43 302.71 703.86 304.29 701.14 306.86C698.43 309.43 696.29 313.14 695.14 317.14C694 321.14 695 326.57 694.29 330.86C693.57 335.14 692.86 339.71 690.86 342.86C688.86 346 685.71 347.71 682.29 349.71C678.86 351.71 674 352.57 670.29 354.86C666.57 357.14 662.57 359.71 660 363.43C657.43 367.14 656.29 373.14 654.86 377.14C653.43 381.14 653.43 384.57 651.43 387.43C649.43 390.29 646 393.14 642.86 394.29C639.71 395.43 636 395.43 632.57 394.29C629.14 393.14 625 390.57 622.29 387.43C619.57 384.29 617.43 379.71 616.29 375.43C615.14 371.14 616.14 365.43 615.43 361.71C614.71 358 613.57 354.86 612 353.14C610.43 351.43 607 351.71 606 351.43" fill="none" stroke="#5ee85e" stroke-width="1.8" stroke-linecap="round" stroke-linejoin="round"/>
<polygon points="615.43,272.57 636,257.14 638.57,260.57 656.57,258.86 658.63,277.71 637.71,281.14 636,284.57" fill="#36c236"/>
<polygon points="615.43,272.57 636,257.14 638.57,260.57 656.57,258.86 657.43,265.71 637.71,268.29 629.14,270.86" fill="#48d648"/>
<path d="M658.29 269.14C660 270.57 664.57 275.86 668.57 277.71C672.57 279.57 677.43 280.14 682.29 280.29C687.14 280.43 693.14 278.43 697.71 278.57C702.29 278.71 706 279 709.71 281.14C713.43 283.29 717.43 288.29 720 291.43C722.57 294.57 724.29 298.57 725.14 300" fill="none" stroke="#1f9e1f" stroke-width="6" stroke-linecap="round" stroke-linejoin="round"/><path d="M658.29 269.14C660 270.57 664.57 275.86 668.57 277.71C672.57 279.57 677.43 280.14 682.29 280.29C687.14 280.43 693.14 278.43 697.71 278.57C702.29 278.71 706 279 709.71 281.14C713.43 283.29 717.43 288.29 720 291.43C722.57 294.57 724.29 298.57 725.14 300" fill="none" stroke="#31d331" stroke-width="4.68" stroke-linecap="round" stroke-linejoin="round"/><path d="M658.29 269.14C660 270.57 664.57 275.86 668.57 277.71C672.57 279.57 677.43 280.14 682.29 280.29C687.14 280.43 693.14 278.43 697.71 278.57C702.29 278.71 706 279 709.71 281.14C713.43 283.29 717.43 288.29 720 291.43C722.57 294.57 724.29 298.57 725.14 300" fill="none" stroke="#5ee85e" stroke-width="1.8" stroke-linecap="round" stroke-linejoin="round"/>
<path d="M714.86 221.14C714.57 223.43 713.14 230.29 713.14 234.86C713.14 239.43 713.71 244.29 714.86 248.57C716 252.86 718 256.86 720 260.57C722 264.29 725.43 267.14 726.86 270.86C728.29 274.57 728.86 279.14 728.57 282.86C728.29 286.57 726.86 289.71 725.14 293.14C723.43 296.57 720 299.71 718.29 303.43C716.57 307.14 715.43 313.43 714.86 315.43" fill="none" stroke="#1f9e1f" stroke-width="6" stroke-linecap="round" stroke-linejoin="round"/><path d="M714.86 221.14C714.57 223.43 713.14 230.29 713.14 234.86C713.14 239.43 713.71 244.29 714.86 248.57C716 252.86 718 256.86 720 260.57C722 264.29 725.43 267.14 726.86 270.86C728.29 274.57 728.86 279.14 728.57 282.86C728.29 286.57 726.86 289.71 725.14 293.14C723.43 296.57 720 299.71 718.29 303.43C716.57 307.14 715.43 313.43 714.86 315.43" fill="none" stroke="#31d331" stroke-width="4.68" stroke-linecap="round" stroke-linejoin="round"/><path d="M714.86 221.14C714.57 223.43 713.14 230.29 713.14 234.86C713.14 239.43 713.71 244.29 714.86 248.57C716 252.86 718 256.86 720 260.57C722 264.29 725.43 267.14 726.86 270.86C728.29 274.57 728.86 279.14 728.57 282.86C728.29 286.57 726.86 289.71 725.14 293.14C723.43 296.57 720 299.71 718.29 303.43C716.57 307.14 715.43 313.43 714.86 315.43" fill="none" stroke="#5ee85e" stroke-width="1.8" stroke-linecap="round" stroke-linejoin="round"/>
<path d="M716.57 344.57C716.29 346.29 716.86 351.71 714.86 354.86C712.86 358 708.29 360.86 704.57 363.43C700.86 366 696 367.43 692.57 370.29C689.14 373.14 686 376.57 684 380.57C682 384.57 680.86 389.86 680.57 394.29C680.29 398.71 682.86 403 682.29 407.14C681.71 411.29 679.71 415.71 677.14 419.14C674.57 422.57 670.29 424.86 666.86 427.71C663.43 430.57 660 432.86 656.57 436.29C653.14 439.71 649.43 444 646.29 448.29C643.14 452.57 640 457.43 637.71 462C635.43 466.57 633.71 471.14 632.57 475.71C631.43 480.29 631.71 485.43 630.86 489.43C630 493.43 629.14 496.57 627.43 499.71C625.71 502.86 623.14 505.71 620.57 508.29C618 510.86 615.14 513.14 612 515.14C608.86 517.14 604.29 518.86 601.71 520.29C599.14 521.71 597 522.57 596.57 523.71C596.14 524.86 598.71 526.57 599.14 527.14" fill="none" stroke="#1f9e1f" stroke-width="6" stroke-linecap="round" stroke-linejoin="round"/><path d="M716.57 344.57C716.29 346.29 716.86 351.71 714.86 354.86C712.86 358 708.29 360.86 704.57 363.43C700.86 366 696 367.43 692.57 370.29C689.14 373.14 686 376.57 684 380.57C682 384.57 680.86 389.86 680.57 394.29C680.29 398.71 682.86 403 682.29 407.14C681.71 411.29 679.71 415.71 677.14 419.14C674.57 422.57 670.29 424.86 666.86 427.71C663.43 430.57 660 432.86 656.57 436.29C653.14 439.71 649.43 444 646.29 448.29C643.14 452.57 640 457.43 637.71 462C635.43 466.57 633.71 471.14 632.57 475.71C631.43 480.29 631.71 485.43 630.86 489.43C630 493.43 629.14 496.57 627.43 499.71C625.71 502.86 623.14 505.71 620.57 508.29C618 510.86 615.14 513.14 612 515.14C608.86 517.14 604.29 518.86 601.71 520.29C599.14 521.71 597 522.57 596.57 523.71C596.14 524.86 598.71 526.57 599.14 527.14" fill="none" stroke="#31d331" stroke-width="4.68" stroke-linecap="round" stroke-linejoin="round"/><path d="M716.57 344.57C716.29 346.29 716.86 351.71 714.86 354.86C712.86 358 708.29 360.86 704.57 363.43C700.86 366 696 367.43 692.57 370.29C689.14 373.14 686 376.57 684 380.57C682 384.57 680.86 389.86 680.57 394.29C680.29 398.71 682.86 403 682.29 407.14C681.71 411.29 679.71 415.71 677.14 419.14C674.57 422.57 670.29 424.86 666.86 427.71C663.43 430.57 660 432.86 656.57 436.29C653.14 439.71 649.43 444 646.29 448.29C643.14 452.57 640 457.43 637.71 462C635.43 466.57 633.71 471.14 632.57 475.71C631.43 480.29 631.71 485.43 630.86 489.43C630 493.43 629.14 496.57 627.43 499.71C625.71 502.86 623.14 505.71 620.57 508.29C618 510.86 615.14 513.14 612 515.14C608.86 517.14 604.29 518.86 601.71 520.29C599.14 521.71 597 522.57 596.57 523.71C596.14 524.86 598.71 526.57 599.14 527.14" fill="none" stroke="#5ee85e" stroke-width="1.8" stroke-linecap="round" stroke-linejoin="round"/>
<path d="M744 391.71C742.29 393.43 736.57 398.57 733.71 402C730.86 405.43 728.29 408.29 726.86 412.29C725.43 416.29 724.86 421.43 725.14 426C725.43 430.57 728.29 435.14 728.57 439.71C728.86 444.29 728.57 449.57 726.86 453.43C725.14 457.29 722 460.71 718.29 462.86C714.57 465 709.71 465.57 704.57 466.29C699.43 467 693.14 466.57 687.43 467.14C681.71 467.71 675.14 468.29 670.29 469.71C665.43 471.14 661.43 472.71 658.29 475.71C655.14 478.71 653.43 483.71 651.43 487.71C649.43 491.71 648.57 496.57 646.29 499.71C644 502.86 641.14 505.43 637.71 506.57C634.29 507.71 629.71 507.14 625.71 506.57C621.71 506 617.43 503.71 613.71 503.14C610 502.57 606.29 502 603.43 503.14C600.57 504.29 598.14 507.43 596.57 510C595 512.57 593.71 516 594 518.57C594.29 521.14 597.57 524.29 598.29 525.43" fill="none" stroke="#1f9e1f" stroke-width="6" stroke-linecap="round" stroke-linejoin="round"/><path d="M744 391.71C742.29 393.43 736.57 398.57 733.71 402C730.86 405.43 728.29 408.29 726.86 412.29C725.43 416.29 724.86 421.43 725.14 426C725.43 430.57 728.29 435.14 728.57 439.71C728.86 444.29 728.57 449.57 726.86 453.43C725.14 457.29 722 460.71 718.29 462.86C714.57 465 709.71 465.57 704.57 466.29C699.43 467 693.14 466.57 687.43 467.14C681.71 467.71 675.14 468.29 670.29 469.71C665.43 471.14 661.43 472.71 658.29 475.71C655.14 478.71 653.43 483.71 651.43 487.71C649.43 491.71 648.57 496.57 646.29 499.71C644 502.86 641.14 505.43 637.71 506.57C634.29 507.71 629.71 507.14 625.71 506.57C621.71 506 617.43 503.71 613.71 503.14C610 502.57 606.29 502 603.43 503.14C600.57 504.29 598.14 507.43 596.57 510C595 512.57 593.71 516 594 518.57C594.29 521.14 597.57 524.29 598.29 525.43" fill="none" stroke="#31d331" stroke-width="4.68" stroke-linecap="round" stroke-linejoin="round"/><path d="M744 391.71C742.29 393.43 736.57 398.57 733.71 402C730.86 405.43 728.29 408.29 726.86 412.29C725.43 416.29 724.86 421.43 725.14 426C725.43 430.57 728.29 435.14 728.57 439.71C728.86 444.29 728.57 449.57 726.86 453.43C725.14 457.29 722 460.71 718.29 462.86C714.57 465 709.71 465.57 704.57 466.29C699.43 467 693.14 466.57 687.43 467.14C681.71 467.71 675.14 468.29 670.29 469.71C665.43 471.14 661.43 472.71 658.29 475.71C655.14 478.71 653.43 483.71 651.43 487.71C649.43 491.71 648.57 496.57 646.29 499.71C644 502.86 641.14 505.43 637.71 506.57C634.29 507.71 629.71 507.14 625.71 506.57C621.71 506 617.43 503.71 613.71 503.14C610 502.57 606.29 502 603.43 503.14C600.57 504.29 598.14 507.43 596.57 510C595 512.57 593.71 516 594 518.57C594.29 521.14 597.57 524.29 598.29 525.43" fill="none" stroke="#5ee85e" stroke-width="1.8" stroke-linecap="round" stroke-linejoin="round"/>
<polygon points="593.14,351.43 599.14,348.86 605.14,353.14 615.43,361.71 613.71,373.71 608.57,376.29 598.29,370.29 592.29,360" fill="#269a26"/>
<path d="M599.14 368.57C600.14 366.86 603 361 605.14 358.29C607.29 355.57 610 352.86 612 352.29C614 351.71 616.43 352.71 617.14 354.86C617.86 357 616.43 363.43 616.29 365.14" fill="none" stroke="#1f9e1f" stroke-width="6" stroke-linecap="round" stroke-linejoin="round"/><path d="M599.14 368.57C600.14 366.86 603 361 605.14 358.29C607.29 355.57 610 352.86 612 352.29C614 351.71 616.43 352.71 617.14 354.86C617.86 357 616.43 363.43 616.29 365.14" fill="none" stroke="#31d331" stroke-width="4.68" stroke-linecap="round" stroke-linejoin="round"/><path d="M599.14 368.57C600.14 366.86 603 361 605.14 358.29C607.29 355.57 610 352.86 612 352.29C614 351.71 616.43 352.71 617.14 354.86C617.86 357 616.43 363.43 616.29 365.14" fill="none" stroke="#5ee85e" stroke-width="1.8" stroke-linecap="round" stroke-linejoin="round"/>
<path d="M748.29 262.29L754.29 255.43L758.57 260.57L756.34 272.57L750.51 282.86" fill="none" stroke="#1f9e1f" stroke-width="5.8" stroke-linecap="round" stroke-linejoin="round"/><path d="M748.29 262.29L754.29 255.43L758.57 260.57L756.34 272.57L750.51 282.86" fill="none" stroke="#31d331" stroke-width="4.64" stroke-linecap="round" stroke-linejoin="round"/>
<path d="M728.57 286.29L757.71 286.29" fill="none" stroke="#1f9e1f" stroke-width="6.07" stroke-linecap="round" stroke-linejoin="round"/><path d="M728.57 286.29L757.71 286.29" fill="none" stroke="#31d331" stroke-width="4.86" stroke-linecap="round" stroke-linejoin="round"/>
<path d="M745.71 291.43L745.71 312" fill="none" stroke="#1f9e1f" stroke-width="6.07" stroke-linecap="round" stroke-linejoin="round"/><path d="M745.71 291.43L745.71 312" fill="none" stroke="#31d331" stroke-width="4.86" stroke-linecap="round" stroke-linejoin="round"/>
<path d="M737.14 296.57L748.29 300" fill="none" stroke="#1f9e1f" stroke-width="5.52" stroke-linecap="round" stroke-linejoin="round"/><path d="M737.14 296.57L748.29 300" fill="none" stroke="#31d331" stroke-width="4.42" stroke-linecap="round" stroke-linejoin="round"/>
<path d="M713.14 356.57L723.43 361.71L738.86 360" fill="none" stroke="#1f9e1f" stroke-width="5.8" stroke-linecap="round" stroke-linejoin="round"/><path d="M713.14 356.57L723.43 361.71L738.86 360" fill="none" stroke="#31d331" stroke-width="4.64" stroke-linecap="round" stroke-linejoin="round"/>
<path d="M738.86 360L745.71 353.14L759.43 351.43L762 358.29L754.29 365.14L740.57 366L738.86 360" fill="none" stroke="#1f9e1f" stroke-width="5.52" stroke-linecap="round" stroke-linejoin="round"/><path d="M738.86 360L745.71 353.14L759.43 351.43L762 358.29L754.29 365.14L740.57 366L738.86 360" fill="none" stroke="#31d331" stroke-width="4.42" stroke-linecap="round" stroke-linejoin="round"/>
<path d="M761.14 353.49L771.43 350.91" fill="none" stroke="#1f9e1f" stroke-width="5.8" stroke-linecap="round" stroke-linejoin="round"/><path d="M761.14 353.49L771.43 350.91" fill="none" stroke="#31d331" stroke-width="4.64" stroke-linecap="round" stroke-linejoin="round"/>
<path d="M772.29 350.74L780 349.71" fill="none" stroke="#ee3a3a" stroke-width="6.35" stroke-linecap="round" stroke-linejoin="round"/>
<path d="M598.29 525.43L608.57 544.29L615.43 557.14L621.43 555.94" fill="none" stroke="#239f23" stroke-width="6.35" stroke-linecap="round" stroke-linejoin="round"/><path d="M598.29 525.43L608.57 544.29L615.43 557.14L621.43 555.94" fill="none" stroke="#3fd43f" stroke-width="5.08" stroke-linecap="round" stroke-linejoin="round"/>
<path d="M621.43 555.94L629.14 559.71" fill="none" stroke="#3344e8" stroke-width="5.8" stroke-linecap="round" stroke-linejoin="round"/>
<path d="M629.14 559.71L633.94 567.43L640.29 566.91" fill="none" stroke="#3fd43f" stroke-width="5.8" stroke-linecap="round" stroke-linejoin="round"/>
<path d="M640.29 566.91L648 566.57" fill="none" stroke="#3344e8" stroke-width="5.8" stroke-linecap="round" stroke-linejoin="round"/>
<path d="M633.94 567.43L632.57 574.29" fill="none" stroke="#3fd43f" stroke-width="5.8" stroke-linecap="round" stroke-linejoin="round"/>
<path d="M632.57 574.29L630.86 581.14" fill="none" stroke="#3344e8" stroke-width="5.8" stroke-linecap="round" stroke-linejoin="round"/></g>
<text x="0.5" y="60.5" font-size="74" font-weight="bold">a</text>
<text x="296.5" y="22.6" font-size="30.9" stroke="#000" stroke-width="0.4">CTD-CTD contacts within tetrads:</text>
<text x="224" y="97.4" font-size="30.8" stroke="#000" stroke-width="0.4" font-style="italic">Intra-tetramer</text>
<text x="693" y="97.4" font-size="30.8" stroke="#000" stroke-width="0.4" font-style="italic">Inter-tetramer</text>
<text x="1249.3" y="33.4" font-size="30.9" stroke="#000" stroke-width="0.4">CCD-CTD linker:</text>
<text x="1113" y="91" font-size="30.9" stroke="#000" stroke-width="0.4"><tspan font-size="20.5" dy="-11">198</tspan><tspan dy="11">MDIFIFNKEQQRIQQQSKSKQE</tspan><tspan font-size="20.5" dy="-11">219</tspan></text>
<path d="M262 120.3V109.2Q262 107 264.2 107H367.3Q369.5 107 369.5 109.2V120.3" fill="none" stroke="#000" stroke-width="4.4"/>
<path d="M732 120.3V109.2Q732 107 734.2 107H837.3Q839.5 107 839.5 109.2V120.3" fill="none" stroke="#000" stroke-width="4.4"/>
<path d="M1270.9 120.3V109.2Q1270.9 107 1273.1 107H1464.3Q1466.5 107 1466.5 109.2V120.3" fill="none" stroke="#000" stroke-width="4.4"/>
<text x="263" y="185.1" font-size="30.8" stroke="#000" stroke-width="0.4">W245</text>
<text x="209.9" y="294" font-size="30.8" stroke="#000" stroke-width="0.4">V252</text>
<text x="336.7" y="295.7" font-size="30.8" stroke="#000" stroke-width="0.4">V252</text>
<text x="209.9" y="375.4" font-size="30.8" stroke="#000" stroke-width="0.4">V263</text>
<text x="333.3" y="385.7" font-size="30.8" stroke="#000" stroke-width="0.4">V263</text>
<text x="268.2" y="432" font-size="30.8" stroke="#000" stroke-width="0.4">Y261</text>
<text x="226.9" y="518.6" font-size="30.8" stroke="#000" stroke-width="0.4">R231</text>
<text x="437.7" y="515.2" font-size="30.8" stroke="#000" stroke-width="0.4">R231</text>
<text x="633.1" y="551.2" font-size="30.8" stroke="#000" stroke-width="0.4">R231</text>
<text x="878.9" y="54" font-size="30.8" stroke="#000" stroke-width="0.4">R231</text>
<text x="706.9" y="211.7" font-size="30.8" stroke="#000" stroke-width="0.4">F223</text>
<text x="785.5" y="239.1" font-size="30.8" stroke="#000" stroke-width="0.4">Y225</text>
<text x="768.6" y="294" font-size="30.8" stroke="#000" stroke-width="0.4">I272</text>
<text x="715.4" y="339.4" font-size="30.8" stroke="#000" stroke-width="0.4">I272</text>
<text x="719.5" y="390" font-size="30.8" stroke="#000" stroke-width="0.4">Y225</text>
<text x="795.2" y="417.4" font-size="30.8" stroke="#000" stroke-width="0.4">F223</text>
<text x="91.5" y="476.6" font-size="35.6" fill="#d9a3c2" font-weight="bold">CTD</text>
<text x="471" y="457.7" font-size="35.6" fill="#21a821" font-weight="bold">CTD</text>
<text x="733.5" y="482.6" font-size="35.6" fill="#21a821" font-weight="bold">CTD</text>
<text x="902" y="393.4" font-size="35.6" fill="#b38a52" font-weight="bold">CTD</text>
<text x="1149.5" y="352.3" font-size="36.6" stroke="#000" stroke-width="0.4">CCDs</text>
<text x="1529.5" y="407.7" font-size="36.6" stroke="#000" stroke-width="0.4">CTDs</text>
<path d="M304.3 194.5L295.9 232.6M293.88 222.81L295.9 232.6L301.85 224.56" fill="none" stroke="#000" stroke-width="2.5" stroke-linecap="butt" stroke-linejoin="miter"/>
<path d="M304.3 194.5L311 231.8M305.37 223.53L311 231.8L313.4 222.09" fill="none" stroke="#000" stroke-width="2.5" stroke-linecap="butt" stroke-linejoin="miter"/>
<path d="M306.9 402.5L300.2 342.6M306.28 352.95L300.2 342.6L296.56 354.03" fill="none" stroke="#000" stroke-width="3.4" stroke-linecap="butt" stroke-linejoin="miter"/>
<path d="M306.9 402.5L318.7 325.8M321.87 337.37L318.7 325.8L312.2 335.89" fill="none" stroke="#000" stroke-width="3.4" stroke-linecap="butt" stroke-linejoin="miter"/>
<path d="M749.2 218.6L755.4 252.3M749.74 244.06L755.4 252.3L757.76 242.58" fill="none" stroke="#000" stroke-width="2.5" stroke-linecap="butt" stroke-linejoin="miter"/>
<path d="M826.3 391.5L817.6 332.4M824.04 342.53L817.6 332.4L814.35 343.95" fill="none" stroke="#000" stroke-width="3" stroke-linecap="butt" stroke-linejoin="miter"/>
</g>
<g id="panel_b">
<rect x="177.2" y="625" width="27.7" height="433.9" fill="#a4b6e0"/>
<rect x="211.42" y="1023.8" width="27.7" height="35.1" fill="#ff9590"/>
<rect x="245.64" y="801.3" width="27.7" height="257.6" fill="#ff9590"/>
<rect x="279.86" y="1037.7" width="27.7" height="21.2" fill="#ff9590"/>
<rect x="314.08" y="897.6" width="27.7" height="161.3" fill="#b497d0"/>
<rect x="348.3" y="1023.8" width="27.7" height="35.1" fill="#b497d0"/>
<rect x="382.52" y="1003.7" width="27.7" height="55.2" fill="#b497d0"/>
<rect x="416.74" y="1031.6" width="27.7" height="27.3" fill="#b497d0"/>
<rect x="450.96" y="1042.2" width="27.7" height="16.7" fill="#b497d0"/>
<rect x="485.18" y="757.3" width="27.7" height="301.6" fill="#b497d0"/>
<rect x="519.4" y="791.2" width="27.7" height="267.7" fill="#b497d0"/>
<rect x="553.62" y="831.4" width="27.7" height="227.5" fill="#b497d0"/>
<rect x="587.84" y="820.1" width="27.7" height="238.8" fill="#9ad8aa"/>
<rect x="622.06" y="1001.2" width="27.7" height="57.7" fill="#9ad8aa"/>
<rect x="656.28" y="1037.2" width="27.7" height="21.7" fill="#9ad8aa"/>
<rect x="690.5" y="889.6" width="27.7" height="169.3" fill="#ffde99"/>
<rect x="724.72" y="759" width="27.7" height="299.9" fill="#ffde99"/>
<rect x="758.94" y="879.2" width="27.7" height="179.7" fill="#ffde99"/>
<line x1="181" y1="1021.7" x2="789" y2="1021.7" stroke="#000" stroke-width="2.4" stroke-dasharray="0.01 5.86" stroke-linecap="round"/>
<text x="799.3" y="1030.2" font-size="24.8" fill="#808080" stroke="#808080" stroke-width="0.4">LoB</text>
<path d="M225.5 1021.3V1027.8M221.1 1021.3H229.9M221.1 1027.8H229.9" fill="none" stroke="#000" stroke-width="2.2"/>
<circle cx="216.2" cy="1027.8" r="4.5" fill="none" stroke="#000" stroke-width="1.5"/>
<circle cx="225.5" cy="1019.6" r="4.5" fill="none" stroke="#000" stroke-width="1.5"/>
<circle cx="234.6" cy="1024.3" r="4.5" fill="none" stroke="#000" stroke-width="1.5"/>
<path d="M259.5 800V805.5M255.1 800H263.9M255.1 805.5H263.9" fill="none" stroke="#000" stroke-width="2.2"/>
<circle cx="250.2" cy="807" r="4.5" fill="none" stroke="#000" stroke-width="1.5"/>
<circle cx="259.5" cy="798.5" r="4.5" fill="none" stroke="#000" stroke-width="1.5"/>
<circle cx="269" cy="798.7" r="4.5" fill="none" stroke="#000" stroke-width="1.5"/>
<path d="M293.7 1029.1V1047M289.3 1029.1H298.1M289.3 1047H298.1" fill="none" stroke="#000" stroke-width="2.2"/>
<circle cx="284.9" cy="1030.1" r="4.5" fill="none" stroke="#000" stroke-width="1.5"/>
<circle cx="302.7" cy="1037.4" r="4.5" fill="none" stroke="#000" stroke-width="1.5"/>
<circle cx="293.7" cy="1047" r="4.5" fill="none" stroke="#000" stroke-width="1.5"/>
<path d="M327.9 896.9V898.9M323.5 896.9H332.3M323.5 898.9H332.3" fill="none" stroke="#000" stroke-width="2.2"/>
<circle cx="318.8" cy="898.9" r="4.5" fill="none" stroke="#000" stroke-width="1.5"/>
<circle cx="327.9" cy="897.1" r="4.5" fill="none" stroke="#000" stroke-width="1.5"/>
<circle cx="337.2" cy="897.9" r="4.5" fill="none" stroke="#000" stroke-width="1.5"/>
<path d="M362.3 1017.5V1031.1M357.9 1017.5H366.7M357.9 1031.1H366.7" fill="none" stroke="#000" stroke-width="2.2"/>
<circle cx="353.3" cy="1018" r="4.5" fill="none" stroke="#000" stroke-width="1.5"/>
<circle cx="353.3" cy="1031.6" r="4.5" fill="none" stroke="#000" stroke-width="1.5"/>
<circle cx="371.4" cy="1022.8" r="4.5" fill="none" stroke="#000" stroke-width="1.5"/>
<path d="M396.6 998.2V1010.8M392.2 998.2H401M392.2 1010.8H401" fill="none" stroke="#000" stroke-width="2.2"/>
<circle cx="387.5" cy="998.7" r="4.5" fill="none" stroke="#000" stroke-width="1.5"/>
<circle cx="387.5" cy="1010.2" r="4.5" fill="none" stroke="#000" stroke-width="1.5"/>
<circle cx="405.6" cy="1004.2" r="4.5" fill="none" stroke="#000" stroke-width="1.5"/>
<path d="M430.6 1015.8V1058.9M426.2 1015.8H435" fill="none" stroke="#000" stroke-width="2.2"/>
<circle cx="430.6" cy="1012.8" r="4.5" fill="none" stroke="#000" stroke-width="1.5"/>
<circle cx="421.5" cy="1046.3" r="4.5" fill="none" stroke="#000" stroke-width="1.5"/>
<circle cx="439.7" cy="1046" r="4.5" fill="none" stroke="#000" stroke-width="1.5"/>
<path d="M464.8 1029.4V1058.9M460.4 1029.4H469.2" fill="none" stroke="#000" stroke-width="2.2"/>
<circle cx="455.7" cy="1034.4" r="4.5" fill="none" stroke="#000" stroke-width="1.5"/>
<circle cx="474.1" cy="1034.4" r="4.5" fill="none" stroke="#000" stroke-width="1.5"/>
<path d="M499 754.7V759M494.6 754.7H503.4M494.6 759H503.4" fill="none" stroke="#000" stroke-width="2.2"/>
<circle cx="489.6" cy="759" r="4.5" fill="none" stroke="#000" stroke-width="1.5"/>
<circle cx="499" cy="753.5" r="4.5" fill="none" stroke="#000" stroke-width="1.5"/>
<circle cx="508.5" cy="755" r="4.5" fill="none" stroke="#000" stroke-width="1.5"/>
<path d="M533.1 785V793.7M528.7 785H537.5M528.7 793.7H537.5" fill="none" stroke="#000" stroke-width="2.2"/>
<circle cx="523.8" cy="790.2" r="4.5" fill="none" stroke="#000" stroke-width="1.5"/>
<circle cx="533.1" cy="781.7" r="4.5" fill="none" stroke="#000" stroke-width="1.5"/>
<circle cx="542.5" cy="789.2" r="4.5" fill="none" stroke="#000" stroke-width="1.5"/>
<path d="M567.6 828.9V830.9M563.2 828.9H572M563.2 830.9H572" fill="none" stroke="#000" stroke-width="2.2"/>
<circle cx="558.3" cy="830.7" r="4.5" fill="none" stroke="#000" stroke-width="1.5"/>
<circle cx="567.6" cy="828.9" r="4.5" fill="none" stroke="#000" stroke-width="1.5"/>
<circle cx="576.9" cy="830.2" r="4.5" fill="none" stroke="#000" stroke-width="1.5"/>
<path d="M601.8 817.6V819.4M597.4 817.6H606.2M597.4 819.4H606.2" fill="none" stroke="#000" stroke-width="2.2"/>
<circle cx="592.5" cy="818.9" r="4.5" fill="none" stroke="#000" stroke-width="1.5"/>
<circle cx="601.8" cy="818.1" r="4.5" fill="none" stroke="#000" stroke-width="1.5"/>
<circle cx="611.1" cy="818.6" r="4.5" fill="none" stroke="#000" stroke-width="1.5"/>
<path d="M636 993.7V1013.8M631.6 993.7H640.4M631.6 1013.8H640.4" fill="none" stroke="#000" stroke-width="2.2"/>
<circle cx="636" cy="990.4" r="4.5" fill="none" stroke="#000" stroke-width="1.5"/>
<circle cx="626.9" cy="1010.5" r="4.5" fill="none" stroke="#000" stroke-width="1.5"/>
<circle cx="645" cy="1004.7" r="4.5" fill="none" stroke="#000" stroke-width="1.5"/>
<path d="M670.2 1030.9V1049.5M665.8 1030.9H674.6M665.8 1049.5H674.6" fill="none" stroke="#000" stroke-width="2.2"/>
<circle cx="670.2" cy="1027.3" r="4.5" fill="none" stroke="#000" stroke-width="1.5"/>
<circle cx="660.9" cy="1044.2" r="4.5" fill="none" stroke="#000" stroke-width="1.5"/>
<circle cx="679.2" cy="1043.2" r="4.5" fill="none" stroke="#000" stroke-width="1.5"/>
<path d="M704.4 885.5V892.6M700 885.5H708.8M700 892.6H708.8" fill="none" stroke="#000" stroke-width="2.2"/>
<circle cx="695.3" cy="892.8" r="4.5" fill="none" stroke="#000" stroke-width="1.5"/>
<circle cx="704.4" cy="884.4" r="4.5" fill="none" stroke="#000" stroke-width="1.5"/>
<circle cx="713.7" cy="888.9" r="4.5" fill="none" stroke="#000" stroke-width="1.5"/>
<path d="M738.6 751V770.3M734.2 751H743M734.2 770.3H743" fill="none" stroke="#000" stroke-width="2.2"/>
<circle cx="729.3" cy="751.5" r="4.5" fill="none" stroke="#000" stroke-width="1.5"/>
<circle cx="748.1" cy="758.5" r="4.5" fill="none" stroke="#000" stroke-width="1.5"/>
<circle cx="738.6" cy="770.3" r="4.5" fill="none" stroke="#000" stroke-width="1.5"/>
<path d="M772.8 867.9V894.3M768.4 867.9H777.2M768.4 894.3H777.2" fill="none" stroke="#000" stroke-width="2.2"/>
<circle cx="764" cy="869.4" r="4.5" fill="none" stroke="#000" stroke-width="1.5"/>
<circle cx="782.1" cy="877" r="4.5" fill="none" stroke="#000" stroke-width="1.5"/>
<circle cx="772.8" cy="894.6" r="4.5" fill="none" stroke="#000" stroke-width="1.5"/>
<line x1="177.1" y1="623.3" x2="177.1" y2="1060.8" stroke="#000" stroke-width="3.8"/>
<line x1="165.2" y1="1059" x2="790.2" y2="1059" stroke="#000" stroke-width="3.8"/>
<path d="M165.8 1058.9H177.4M170.4 1032.78H177.4M170.4 1017.5H177.4M170.4 1006.65H177.4M170.4 998.24H177.4M170.4 991.37H177.4M170.4 985.56H177.4M170.4 980.53H177.4M170.4 976.09H177.4M165.8 972.12H177.4M170.4 946H177.4M170.4 930.72H177.4M170.4 919.87H177.4M170.4 911.46H177.4M170.4 904.59H177.4M170.4 898.78H177.4M170.4 893.75H177.4M170.4 889.31H177.4M165.8 885.34H177.4M170.4 859.22H177.4M170.4 843.94H177.4M170.4 833.09H177.4M170.4 824.68H177.4M170.4 817.81H177.4M170.4 812H177.4M170.4 806.97H177.4M170.4 802.53H177.4M165.8 798.56H177.4M170.4 772.44H177.4M170.4 757.16H177.4M170.4 746.31H177.4M170.4 737.9H177.4M170.4 731.03H177.4M170.4 725.22H177.4M170.4 720.19H177.4M170.4 715.75H177.4M165.8 711.78H177.4M170.4 685.66H177.4M170.4 670.38H177.4M170.4 659.53H177.4M170.4 651.12H177.4M170.4 644.25H177.4M170.4 638.44H177.4M170.4 633.41H177.4M170.4 628.97H177.4M165.4 625H177.4" fill="none" stroke="#000" stroke-width="3.3"/>
<text x="160.5" y="632.8" font-size="21.8" stroke="#000" stroke-width="0.4" text-anchor="end">100</text>
<text x="160.5" y="719.58" font-size="21.8" stroke="#000" stroke-width="0.4" text-anchor="end">10</text>
<text x="160.5" y="806.36" font-size="21.8" stroke="#000" stroke-width="0.4" text-anchor="end">1</text>
<text x="160.5" y="893.14" font-size="21.8" stroke="#000" stroke-width="0.4" text-anchor="end">0.1</text>
<text x="160.5" y="979.92" font-size="21.8" stroke="#000" stroke-width="0.4" text-anchor="end">0.01</text>
<text x="160.5" y="1066.7" font-size="21.8" stroke="#000" stroke-width="0.4" text-anchor="end">0.001</text>
<text x="108.5" y="832" font-size="24.8" stroke="#000" stroke-width="0.4" text-anchor="middle" transform="rotate(-90 108.5 832)">Relative strand transfer activity (%)</text>
<text x="204.65" y="1075.9" font-size="25.3" fill="#565ba4" stroke="#565ba4" stroke-width="0.4" text-anchor="end" transform="rotate(-45 204.65 1075.9)">WT</text>
<text x="238.87" y="1075.9" font-size="25.3" fill="#ff0000" stroke="#ff0000" stroke-width="0.4" text-anchor="end" transform="rotate(-45 238.87 1075.9)">E154Q</text>
<text x="273.09" y="1075.9" font-size="25.3" fill="#ff0000" stroke="#ff0000" stroke-width="0.4" text-anchor="end" transform="rotate(-45 273.09 1075.9)">R131E</text>
<text x="307.31" y="1075.9" font-size="25.3" fill="#ff0000" stroke="#ff0000" stroke-width="0.4" text-anchor="end" transform="rotate(-45 307.31 1075.9)">H12N</text>
<text x="344.53" y="1075.9" font-size="25.3" fill="#7030a0" stroke="#7030a0" stroke-width="0.4" text-anchor="end" transform="rotate(-45 344.53 1075.9)">W245A</text>
<text x="379.75" y="1075.9" font-size="25.3" fill="#7030a0" stroke="#7030a0" stroke-width="0.4" text-anchor="end" transform="rotate(-45 379.75 1075.9)">W245L</text>
<text x="413.97" y="1075.9" font-size="25.3" fill="#7030a0" stroke="#7030a0" stroke-width="0.4" text-anchor="end" transform="rotate(-45 413.97 1075.9)">W245E</text>
<text x="451.19" y="1075.9" font-size="25.3" fill="#7030a0" stroke="#7030a0" stroke-width="0.4" text-anchor="end" transform="rotate(-45 451.19 1075.9)">V252A</text>
<text x="487.41" y="1075.9" font-size="25.3" fill="#7030a0" stroke="#7030a0" stroke-width="0.4" text-anchor="end" transform="rotate(-45 487.41 1075.9)">V252D</text>
<text x="519.63" y="1075.9" font-size="25.3" fill="#7030a0" stroke="#7030a0" stroke-width="0.4" text-anchor="end" transform="rotate(-45 519.63 1075.9)">Y261A</text>
<text x="552.85" y="1075.9" font-size="25.3" fill="#7030a0" stroke="#7030a0" stroke-width="0.4" text-anchor="end" transform="rotate(-45 552.85 1075.9)">Y261E</text>
<text x="586.07" y="1075.9" font-size="25.3" fill="#7030a0" stroke="#7030a0" stroke-width="0.4" text-anchor="end" transform="rotate(-45 586.07 1075.9)">Y263E</text>
<text x="625.29" y="1075.9" font-size="25.3" fill="#00a651" stroke="#00a651" stroke-width="0.4" text-anchor="end" transform="rotate(-45 625.29 1075.9)">F223A</text>
<text x="658.51" y="1075.9" font-size="25.3" fill="#00a651" stroke="#00a651" stroke-width="0.4" text-anchor="end" transform="rotate(-45 658.51 1075.9)">Y225A</text>
<text x="690.73" y="1075.9" font-size="25.3" fill="#00a651" stroke="#00a651" stroke-width="0.4" text-anchor="end" transform="rotate(-45 690.73 1075.9)">I272E</text>
<text x="725.95" y="1075.9" font-size="25.3" fill="#f2ab00" stroke="#f2ab00" stroke-width="0.4" text-anchor="end" transform="rotate(-45 725.95 1075.9)">QQQ211PFV</text>
<text x="762.17" y="1075.9" font-size="25.3" fill="#f2ab00" stroke="#f2ab00" stroke-width="0.4" text-anchor="end" transform="rotate(-45 762.17 1075.9)">QQQ211PGG</text>
<text x="797.39" y="1075.9" font-size="25.3" fill="#f2ab00" stroke="#f2ab00" stroke-width="0.4" text-anchor="end" transform="rotate(-45 797.39 1075.9)">QQ207GP</text>
<path d="M215.6 747.7V740.5Q215.6 736.5 219.6 736.5H318.5Q322.5 736.5 322.5 740.5V747.7" fill="none" stroke="#ff9590" stroke-width="3.8"/>
<path d="M333.8 746.5V738.8Q333.8 734.8 337.8 734.8H576.3Q580.3 734.8 580.3 738.8V746.5" fill="none" stroke="#b497d0" stroke-width="3.8"/>
<path d="M589.9 746.5V738.8Q589.9 734.8 593.9 734.8H681.9Q685.9 734.8 685.9 738.8V746.5" fill="none" stroke="#9ad8aa" stroke-width="3.8"/>
<path d="M698 746.5V738.8Q698 734.8 702 734.8H790.5Q794.5 734.8 794.5 738.8V746.5" fill="none" stroke="#ffde99" stroke-width="3.8"/>
<text x="268.5" y="697" font-size="24.8" fill="#ff0000" stroke="#ff0000" stroke-width="0.4" text-anchor="middle">control</text>
<text x="268.5" y="725.3" font-size="24.8" fill="#ff0000" stroke="#ff0000" stroke-width="0.4" text-anchor="middle">mutants</text>
<text x="450.3" y="695" font-size="24.8" fill="#7030a0" stroke="#7030a0" stroke-width="0.4" text-anchor="middle" font-style="italic">intra-</text>
<text x="451" y="723.5" font-size="24.8" fill="#7030a0" stroke="#7030a0" stroke-width="0.4" text-anchor="middle" font-style="italic">tetramer</text>
<text x="637" y="692" font-size="24.8" fill="#00a651" stroke="#00a651" stroke-width="0.4" text-anchor="middle" font-style="italic">Inter-</text>
<text x="637" y="720.5" font-size="24.8" fill="#00a651" stroke="#00a651" stroke-width="0.4" text-anchor="middle" font-style="italic">tetramer</text>
<text x="748.5" y="726" font-size="24.8" fill="#f2ab00" stroke="#f2ab00" stroke-width="0.4" text-anchor="middle" font-style="italic">linker</text>
<text x="-3.5" y="671.3" font-size="74" font-weight="bold">b</text>
</g>
<g id="panel_c">
<rect x="1003.9" y="775.1" width="25.6" height="284.2" fill="#b0b9e8"/>
<rect x="1037.22" y="764.8" width="27" height="294.5" fill="#ffa482"/>
<rect x="1071.94" y="759.5" width="27" height="299.8" fill="#ffa482"/>
<rect x="1106.66" y="987.8" width="27" height="71.5" fill="#ffa482"/>
<rect x="1141.38" y="860.8" width="27" height="198.5" fill="#c09ae0"/>
<rect x="1176.1" y="877.1" width="27" height="182.2" fill="#c09ae0"/>
<rect x="1210.82" y="905" width="27" height="154.3" fill="#c09ae0"/>
<rect x="1245.54" y="848.1" width="27" height="211.2" fill="#c09ae0"/>
<rect x="1280.26" y="920" width="27" height="139.3" fill="#c09ae0"/>
<rect x="1314.98" y="876.3" width="27" height="183" fill="#c09ae0"/>
<rect x="1349.7" y="926.5" width="27" height="132.8" fill="#c09ae0"/>
<rect x="1384.42" y="877.6" width="27" height="181.7" fill="#c09ae0"/>
<rect x="1419.14" y="864.7" width="27" height="194.6" fill="#bdefb2"/>
<rect x="1453.86" y="855" width="27" height="204.3" fill="#bdefb2"/>
<rect x="1488.58" y="883.2" width="27" height="176.1" fill="#bdefb2"/>
<rect x="1523.3" y="937.3" width="27" height="122" fill="#ffe0a0"/>
<rect x="1558.02" y="951" width="27" height="108.3" fill="#ffe0a0"/>
<rect x="1592.74" y="947.8" width="27" height="111.5" fill="#ffe0a0"/>
<line x1="1009" y1="620.7" x2="1617" y2="620.7" stroke="#808080" stroke-width="2.8" stroke-dasharray="0.01 6.18" stroke-linecap="round"/>
<line x1="1009" y1="840" x2="1617" y2="840" stroke="#808080" stroke-width="2.8" stroke-dasharray="0.01 6.18" stroke-linecap="round"/>
<line x1="1009" y1="949.7" x2="1617" y2="949.7" stroke="#808080" stroke-width="2.8" stroke-dasharray="0.01 6.18" stroke-linecap="round"/>
<line x1="1009" y1="1004.1" x2="1617" y2="1004.1" stroke="#808080" stroke-width="2.8" stroke-dasharray="0.01 6.18" stroke-linecap="round"/>
<polygon points="1016,673.2 1021.9,684.41 1010.1,684.41" fill="none" stroke="#4472c4" stroke-width="1.9" stroke-linejoin="miter"/>
<circle cx="1016" cy="734" r="5.2" fill="none" stroke="#4472c4" stroke-width="1.9"/>
<polygon points="1016,769 1022,775 1016,781 1010,775" fill="none" stroke="#4472c4" stroke-width="1.9"/>
<polygon points="1016,834.6 1021.9,823.38 1010.1,823.38" fill="none" stroke="#4472c4" stroke-width="1.9" stroke-linejoin="miter"/>
<polygon points="1050.72,702.6 1056.62,713.81 1044.82,713.81" fill="none" stroke="#ff2a00" stroke-width="1.9" stroke-linejoin="miter"/>
<circle cx="1050.72" cy="731.9" r="5.2" fill="none" stroke="#ff2a00" stroke-width="1.9"/>
<polygon points="1050.72,758 1056.72,764 1050.72,770 1044.72,764" fill="none" stroke="#ff2a00" stroke-width="1.9"/>
<polygon points="1050.72,797.8 1056.62,786.59 1044.82,786.59" fill="none" stroke="#ff2a00" stroke-width="1.9" stroke-linejoin="miter"/>
<polygon points="1085.44,683.4 1091.34,694.62 1079.54,694.62" fill="none" stroke="#ff2a00" stroke-width="1.9" stroke-linejoin="miter"/>
<circle cx="1085.44" cy="720.1" r="5.2" fill="none" stroke="#ff2a00" stroke-width="1.9"/>
<polygon points="1085.44,753.5 1091.44,759.5 1085.44,765.5 1079.44,759.5" fill="none" stroke="#ff2a00" stroke-width="1.9"/>
<polygon points="1085.44,828.6 1091.34,817.38 1079.54,817.38" fill="none" stroke="#ff2a00" stroke-width="1.9" stroke-linejoin="miter"/>
<circle cx="1120.16" cy="965.7" r="5.2" fill="none" stroke="#ff2a00" stroke-width="1.9"/>
<polygon points="1120.16,984.9 1126.16,990.9 1120.16,996.9 1114.16,990.9" fill="none" stroke="#ff2a00" stroke-width="1.9"/>
<polygon points="1120.16,1006.3 1126.06,995.09 1114.26,995.09" fill="none" stroke="#ff2a00" stroke-width="1.9" stroke-linejoin="miter"/>
<polygon points="1154.88,734.7 1160.78,745.91 1148.98,745.91" fill="none" stroke="#7030a0" stroke-width="1.9" stroke-linejoin="miter"/>
<circle cx="1154.88" cy="860.8" r="5.2" fill="none" stroke="#7030a0" stroke-width="1.9"/>
<polygon points="1154.88,855.3 1160.88,861.3 1154.88,867.3 1148.88,861.3" fill="none" stroke="#7030a0" stroke-width="1.9"/>
<polygon points="1154.88,897.2 1160.78,885.99 1148.98,885.99" fill="none" stroke="#7030a0" stroke-width="1.9" stroke-linejoin="miter"/>
<polygon points="1189.6,776.8 1195.5,788.01 1183.7,788.01" fill="none" stroke="#7030a0" stroke-width="1.9" stroke-linejoin="miter"/>
<circle cx="1189.6" cy="858.1" r="5.2" fill="none" stroke="#7030a0" stroke-width="1.9"/>
<polygon points="1189.6,871.8 1195.6,877.8 1189.6,883.8 1183.6,877.8" fill="none" stroke="#7030a0" stroke-width="1.9"/>
<polygon points="1189.6,891.9 1195.5,880.69 1183.7,880.69" fill="none" stroke="#7030a0" stroke-width="1.9" stroke-linejoin="miter"/>
<polygon points="1224.32,734.7 1230.22,745.91 1218.42,745.91" fill="none" stroke="#7030a0" stroke-width="1.9" stroke-linejoin="miter"/>
<circle cx="1224.32" cy="879.4" r="5.2" fill="none" stroke="#7030a0" stroke-width="1.9"/>
<polygon points="1224.32,899.5 1230.32,905.5 1224.32,911.5 1218.32,905.5" fill="none" stroke="#7030a0" stroke-width="1.9"/>
<polygon points="1224.32,921.2 1230.22,909.99 1218.42,909.99" fill="none" stroke="#7030a0" stroke-width="1.9" stroke-linejoin="miter"/>
<circle cx="1259.04" cy="804.8" r="5.2" fill="none" stroke="#7030a0" stroke-width="1.9"/>
<polygon points="1259.04,842.1 1265.04,848.1 1259.04,854.1 1253.04,848.1" fill="none" stroke="#7030a0" stroke-width="1.9"/>
<polygon points="1293.76,861.7 1299.66,872.91 1287.86,872.91" fill="none" stroke="#7030a0" stroke-width="1.9" stroke-linejoin="miter"/>
<circle cx="1293.76" cy="906.3" r="5.2" fill="none" stroke="#7030a0" stroke-width="1.9"/>
<polygon points="1293.76,916.6 1299.76,922.6 1293.76,928.6 1287.76,922.6" fill="none" stroke="#7030a0" stroke-width="1.9"/>
<polygon points="1293.76,959.8 1299.66,948.59 1287.86,948.59" fill="none" stroke="#7030a0" stroke-width="1.9" stroke-linejoin="miter"/>
<polygon points="1328.48,778.8 1334.38,790.01 1322.58,790.01" fill="none" stroke="#7030a0" stroke-width="1.9" stroke-linejoin="miter"/>
<circle cx="1328.48" cy="826.6" r="5.2" fill="none" stroke="#7030a0" stroke-width="1.9"/>
<polygon points="1328.48,869.7 1334.48,875.7 1328.48,881.7 1322.48,875.7" fill="none" stroke="#7030a0" stroke-width="1.9"/>
<polygon points="1328.48,904.6 1334.38,893.38 1322.58,893.38" fill="none" stroke="#7030a0" stroke-width="1.9" stroke-linejoin="miter"/>
<polygon points="1363.2,906.7 1369.1,917.91 1357.3,917.91" fill="none" stroke="#7030a0" stroke-width="1.9" stroke-linejoin="miter"/>
<circle cx="1363.2" cy="920.7" r="5.2" fill="none" stroke="#7030a0" stroke-width="1.9"/>
<polygon points="1363.2,923.4 1369.2,929.4 1363.2,935.4 1357.2,929.4" fill="none" stroke="#7030a0" stroke-width="1.9"/>
<polygon points="1363.2,953.2 1369.1,941.99 1357.3,941.99" fill="none" stroke="#7030a0" stroke-width="1.9" stroke-linejoin="miter"/>
<polygon points="1397.92,832.8 1403.82,844.01 1392.02,844.01" fill="none" stroke="#7030a0" stroke-width="1.9" stroke-linejoin="miter"/>
<circle cx="1397.92" cy="850" r="5.2" fill="none" stroke="#7030a0" stroke-width="1.9"/>
<polygon points="1397.92,872.9 1403.92,878.9 1397.92,884.9 1391.92,878.9" fill="none" stroke="#7030a0" stroke-width="1.9"/>
<polygon points="1397.92,912.5 1403.82,901.28 1392.02,901.28" fill="none" stroke="#7030a0" stroke-width="1.9" stroke-linejoin="miter"/>
<polygon points="1432.64,821.4 1438.54,832.62 1426.74,832.62" fill="none" stroke="#00b050" stroke-width="1.9" stroke-linejoin="miter"/>
<circle cx="1432.64" cy="853.9" r="5.2" fill="none" stroke="#00b050" stroke-width="1.9"/>
<polygon points="1432.64,857.9 1438.64,863.9 1432.64,869.9 1426.64,863.9" fill="none" stroke="#00b050" stroke-width="1.9"/>
<polygon points="1432.64,897.2 1438.54,885.99 1426.74,885.99" fill="none" stroke="#00b050" stroke-width="1.9" stroke-linejoin="miter"/>
<polygon points="1467.36,809.1 1473.26,820.31 1461.46,820.31" fill="none" stroke="#00b050" stroke-width="1.9" stroke-linejoin="miter"/>
<circle cx="1467.36" cy="840.3" r="5.2" fill="none" stroke="#00b050" stroke-width="1.9"/>
<polygon points="1467.36,849.5 1473.36,855.5 1467.36,861.5 1461.36,855.5" fill="none" stroke="#00b050" stroke-width="1.9"/>
<polygon points="1467.36,874.1 1473.26,862.88 1461.46,862.88" fill="none" stroke="#00b050" stroke-width="1.9" stroke-linejoin="miter"/>
<polygon points="1502.08,855.9 1507.98,867.12 1496.18,867.12" fill="none" stroke="#00b050" stroke-width="1.9" stroke-linejoin="miter"/>
<circle cx="1502.08" cy="872.3" r="5.2" fill="none" stroke="#00b050" stroke-width="1.9"/>
<polygon points="1502.08,878.4 1508.08,884.4 1502.08,890.4 1496.08,884.4" fill="none" stroke="#00b050" stroke-width="1.9"/>
<polygon points="1502.08,907.2 1507.98,895.99 1496.18,895.99" fill="none" stroke="#00b050" stroke-width="1.9" stroke-linejoin="miter"/>
<circle cx="1536.8" cy="936.5" r="5.2" fill="none" stroke="#ff8c00" stroke-width="1.9"/>
<polygon points="1536.8,930.5 1542.8,936.5 1536.8,942.5 1530.8,936.5" fill="none" stroke="#ff8c00" stroke-width="1.9"/>
<polygon points="1536.8,965.1 1542.7,953.88 1530.9,953.88" fill="none" stroke="#ff8c00" stroke-width="1.9" stroke-linejoin="miter"/>
<polygon points="1571.52,928.2 1577.42,939.41 1565.62,939.41" fill="none" stroke="#ff8c00" stroke-width="1.9" stroke-linejoin="miter"/>
<circle cx="1571.52" cy="941.8" r="5.2" fill="none" stroke="#ff8c00" stroke-width="1.9"/>
<polygon points="1571.52,944.5 1577.52,950.5 1571.52,956.5 1565.52,950.5" fill="none" stroke="#ff8c00" stroke-width="1.9"/>
<polygon points="1571.52,964.5 1577.42,953.28 1565.62,953.28" fill="none" stroke="#ff8c00" stroke-width="1.9" stroke-linejoin="miter"/>
<polygon points="1606.24,916.6 1612.14,927.81 1600.34,927.81" fill="none" stroke="#ff8c00" stroke-width="1.9" stroke-linejoin="miter"/>
<circle cx="1606.24" cy="922.8" r="5.2" fill="none" stroke="#ff8c00" stroke-width="1.9"/>
<polygon points="1606.24,939.7 1612.24,945.7 1606.24,951.7 1600.24,945.7" fill="none" stroke="#ff8c00" stroke-width="1.9"/>
<polygon points="1606.24,967.7 1612.14,956.49 1600.34,956.49" fill="none" stroke="#ff8c00" stroke-width="1.9" stroke-linejoin="miter"/>
<text x="1050.72" y="1045.3" font-size="24.8" stroke="#000" stroke-width="0.4" text-anchor="middle">ns</text>
<text x="1085.44" y="1045.3" font-size="24.8" stroke="#000" stroke-width="0.4" text-anchor="middle">ns</text>
<text x="1120.16" y="1053.5" font-size="24.8" stroke="#000" stroke-width="0.4" text-anchor="middle">**</text>
<text x="1154.88" y="1053.5" font-size="24.8" stroke="#000" stroke-width="0.4" text-anchor="middle">*</text>
<text x="1189.6" y="1053.5" font-size="24.8" stroke="#000" stroke-width="0.4" text-anchor="middle">**</text>
<text x="1224.32" y="1053.5" font-size="24.8" stroke="#000" stroke-width="0.4" text-anchor="middle">*</text>
<text x="1259.04" y="1053.5" font-size="24.8" stroke="#000" stroke-width="0.4" text-anchor="middle">*</text>
<text x="1293.76" y="1053.5" font-size="24.8" stroke="#000" stroke-width="0.4" text-anchor="middle">**</text>
<text x="1328.48" y="1053.5" font-size="24.8" stroke="#000" stroke-width="0.4" text-anchor="middle">**</text>
<text x="1363.2" y="1053.5" font-size="24.8" stroke="#000" stroke-width="0.4" text-anchor="middle">**</text>
<text x="1397.92" y="1053.5" font-size="24.8" stroke="#000" stroke-width="0.4" text-anchor="middle">**</text>
<text x="1432.64" y="1053.5" font-size="24.8" stroke="#000" stroke-width="0.4" text-anchor="middle">*</text>
<text x="1467.36" y="1053.5" font-size="24.8" stroke="#000" stroke-width="0.4" text-anchor="middle">*</text>
<text x="1502.08" y="1053.5" font-size="24.8" stroke="#000" stroke-width="0.4" text-anchor="middle">*</text>
<text x="1536.8" y="1053.5" font-size="24.8" stroke="#000" stroke-width="0.4" text-anchor="middle">*</text>
<text x="1571.52" y="1053.5" font-size="24.8" stroke="#000" stroke-width="0.4" text-anchor="middle">**</text>
<text x="1606.24" y="1053.5" font-size="24.8" stroke="#000" stroke-width="0.4" text-anchor="middle">**</text>
<line x1="1002.4" y1="616.5" x2="1002.4" y2="1061.2" stroke="#000" stroke-width="3.2"/>
<line x1="990.4" y1="1059.1" x2="1620.3" y2="1059.1" stroke="#000" stroke-width="3.8"/>
<path d="M991.2 1059.3H1003M996.2 1042.36H1003M996.2 1025.41H1003M996.2 1008.47H1003M996.2 991.52H1003M991.2 974.58H1003M996.2 957.64H1003M996.2 940.69H1003M996.2 923.75H1003M996.2 906.8H1003M991.2 889.86H1003M996.2 872.92H1003M996.2 855.97H1003M996.2 839.03H1003M996.2 822.08H1003M991.2 805.14H1003M996.2 788.2H1003M996.2 771.25H1003M996.2 754.31H1003M996.2 737.36H1003M991.2 720.42H1003M996.2 703.48H1003M996.2 686.53H1003M996.2 669.59H1003M996.2 652.64H1003M991.2 635.7H1003M996.2 618.76H1003" fill="none" stroke="#000" stroke-width="3.5"/>
<text x="987.5" y="1067.1" font-size="21.8" stroke="#000" stroke-width="0.4" text-anchor="end">0</text>
<text x="987.5" y="982.38" font-size="21.8" stroke="#000" stroke-width="0.4" text-anchor="end">50</text>
<text x="987.5" y="897.66" font-size="21.8" stroke="#000" stroke-width="0.4" text-anchor="end">100</text>
<text x="987.5" y="812.94" font-size="21.8" stroke="#000" stroke-width="0.4" text-anchor="end">150</text>
<text x="987.5" y="728.22" font-size="21.8" stroke="#000" stroke-width="0.4" text-anchor="end">200</text>
<text x="987.5" y="643.5" font-size="21.8" stroke="#000" stroke-width="0.4" text-anchor="end">250</text>
<text x="942" y="838" font-size="24.8" stroke="#000" stroke-width="0.4" text-anchor="middle" transform="rotate(-90 942 838)">Average molecular mass (kDa)</text>
<text x="1028.6" y="1076.3" font-size="25.3" fill="#565ba4" stroke="#565ba4" stroke-width="0.4" text-anchor="end" transform="rotate(-45 1028.6 1076.3)">WT</text>
<text x="1063.82" y="1076.3" font-size="25.3" fill="#ff0000" stroke="#ff0000" stroke-width="0.4" text-anchor="end" transform="rotate(-45 1063.82 1076.3)">E154Q</text>
<text x="1098.04" y="1076.3" font-size="25.3" fill="#ff0000" stroke="#ff0000" stroke-width="0.4" text-anchor="end" transform="rotate(-45 1098.04 1076.3)">R131E</text>
<text x="1132.76" y="1076.3" font-size="25.3" fill="#ff0000" stroke="#ff0000" stroke-width="0.4" text-anchor="end" transform="rotate(-45 1132.76 1076.3)">H12N</text>
<text x="1168.48" y="1076.3" font-size="25.3" fill="#7030a0" stroke="#7030a0" stroke-width="0.4" text-anchor="end" transform="rotate(-45 1168.48 1076.3)">W245A</text>
<text x="1202.7" y="1076.3" font-size="25.3" fill="#7030a0" stroke="#7030a0" stroke-width="0.4" text-anchor="end" transform="rotate(-45 1202.7 1076.3)">W245L</text>
<text x="1237.42" y="1076.3" font-size="25.3" fill="#7030a0" stroke="#7030a0" stroke-width="0.4" text-anchor="end" transform="rotate(-45 1237.42 1076.3)">W245E</text>
<text x="1273.14" y="1076.3" font-size="25.3" fill="#7030a0" stroke="#7030a0" stroke-width="0.4" text-anchor="end" transform="rotate(-45 1273.14 1076.3)">V252A</text>
<text x="1308.86" y="1076.3" font-size="25.3" fill="#7030a0" stroke="#7030a0" stroke-width="0.4" text-anchor="end" transform="rotate(-45 1308.86 1076.3)">V252D</text>
<text x="1342.58" y="1076.3" font-size="25.3" fill="#7030a0" stroke="#7030a0" stroke-width="0.4" text-anchor="end" transform="rotate(-45 1342.58 1076.3)">Y261A</text>
<text x="1375.8" y="1076.3" font-size="25.3" fill="#7030a0" stroke="#7030a0" stroke-width="0.4" text-anchor="end" transform="rotate(-45 1375.8 1076.3)">Y261E</text>
<text x="1410.02" y="1076.3" font-size="25.3" fill="#7030a0" stroke="#7030a0" stroke-width="0.4" text-anchor="end" transform="rotate(-45 1410.02 1076.3)">Y263E</text>
<text x="1448.74" y="1076.3" font-size="25.3" fill="#00a651" stroke="#00a651" stroke-width="0.4" text-anchor="end" transform="rotate(-45 1448.74 1076.3)">F223A</text>
<text x="1482.96" y="1076.3" font-size="25.3" fill="#00a651" stroke="#00a651" stroke-width="0.4" text-anchor="end" transform="rotate(-45 1482.96 1076.3)">Y225A</text>
<text x="1514.68" y="1076.3" font-size="25.3" fill="#00a651" stroke="#00a651" stroke-width="0.4" text-anchor="end" transform="rotate(-45 1514.68 1076.3)">I272E</text>
<text x="1549.4" y="1076.3" font-size="25.3" fill="#f2ab00" stroke="#f2ab00" stroke-width="0.4" text-anchor="end" transform="rotate(-45 1549.4 1076.3)">QQQ211PFV</text>
<text x="1584.62" y="1076.3" font-size="25.3" fill="#f2ab00" stroke="#f2ab00" stroke-width="0.4" text-anchor="end" transform="rotate(-45 1584.62 1076.3)">QQQ211PGG</text>
<text x="1619.84" y="1076.3" font-size="25.3" fill="#f2ab00" stroke="#f2ab00" stroke-width="0.4" text-anchor="end" transform="rotate(-45 1619.84 1076.3)">QQ207GP</text>
<text x="1627.3" y="632" font-size="24.8" fill="#808080" stroke="#808080" stroke-width="0.4">octamer</text>
<text x="1627.3" y="846.8" font-size="24.8" fill="#808080" stroke="#808080" stroke-width="0.4">tetramer</text>
<text x="1627.3" y="953" font-size="24.8" fill="#808080" stroke="#808080" stroke-width="0.4">dimer</text>
<text x="1627.3" y="1006.2" font-size="24.8" fill="#808080" stroke="#808080" stroke-width="0.4">monomer</text>
<text x="1641" y="1038" font-size="24.8" stroke="#000" stroke-width="0.4" text-anchor="middle">*</text>
<text x="1641.5" y="1062" font-size="24.8" stroke="#000" stroke-width="0.4" text-anchor="middle">**</text>
<text x="1667.5" y="1029.8" font-size="24.8" stroke="#000" stroke-width="0.4"><tspan font-style="italic">p</tspan> &lt;0.05</text>
<text x="1667.5" y="1053" font-size="24.8" stroke="#000" stroke-width="0.4"><tspan font-style="italic">p</tspan> &lt;0.01</text>
<rect x="1330.4" y="640.7" width="289.4" height="109.6" fill="#fff" stroke="#000" stroke-width="1.3"/>
<text x="1342.3" y="667" font-size="24.8" stroke="#000" stroke-width="0.4">IN concentration:</text>
<text x="1376" y="706.5" font-size="24.8" stroke="#000" stroke-width="0.4">8 mg/ml</text>
<text x="1376" y="738.5" font-size="24.8" stroke="#000" stroke-width="0.4">4 mg/ml</text>
<text x="1521.3" y="704.5" font-size="24.8" stroke="#000" stroke-width="0.4">2 mg/ml</text>
<text x="1521.3" y="736.3" font-size="24.8" stroke="#000" stroke-width="0.4">1 mg/ml</text>
<polygon points="1350,694.22 1355.7,705.05 1344.3,705.05" fill="none" stroke="#000" stroke-width="1.9" stroke-linejoin="miter"/>
<circle cx="1350" cy="731.7" r="5.2" fill="none" stroke="#000" stroke-width="1.9"/>
<polygon points="1496.4,692.8 1502.4,698.8 1496.4,704.8 1490.4,698.8" fill="none" stroke="#000" stroke-width="1.9"/>
<polygon points="1496.4,735.7 1502.3,724.49 1490.5,724.49" fill="none" stroke="#000" stroke-width="1.9" stroke-linejoin="miter"/>
<text x="844.5" y="624.6" font-size="74" font-weight="bold">c</text>
</g>
<g id="panel_d">
<line x1="188.6" y1="1283.2" x2="188.6" y2="1718.9" stroke="#000" stroke-width="3.4"/>
<line x1="186.9" y1="1717.3" x2="537.7" y2="1717.3" stroke="#000" stroke-width="3.2"/>
<path d="M176.9 1716.8H188.9M181.4 1662.8H188.9M176.9 1608.8H188.9M181.4 1554.8H188.9M176.9 1500.8H188.9M181.4 1446.8H188.9M176.9 1392.8H188.9M181.4 1338.8H188.9M176.9 1284.8H188.9M210.8 1716.8V1729.5M265 1716.8V1729.5M319.2 1716.8V1729.5M373.4 1716.8V1729.5M427.6 1716.8V1729.5M481.8 1716.8V1729.5M536 1716.8V1729.5" fill="none" stroke="#000" stroke-width="3.4"/>
<path d="M289.88 1716.5L290.71 1716.28L291.53 1716.07L292.36 1715.87L293.18 1715.67L294.01 1715.46L294.84 1715.25L295.66 1715.03L296.49 1714.81L297.31 1714.42L298.14 1714.01L298.97 1713.59L299.79 1713.14L300.62 1712.65L301.44 1712.37L302.27 1712.05L303.09 1711.7L303.92 1711.33L304.75 1710.93L305.57 1710.3L306.4 1709.65L307.22 1708.99L308.05 1708.33L308.88 1707.65L309.7 1707.08L310.53 1706.48L311.35 1705.86L312.18 1705.22L313.01 1704.57L313.83 1703.94L314.66 1703.31L315.48 1702.69L316.31 1702.07L317.14 1701.47L317.96 1700.69L318.79 1699.9L319.61 1699.1L320.44 1698.31L321.26 1697.52L322.09 1696.93L322.92 1696.37L323.74 1695.82L324.57 1695.31L325.39 1694.82L326.22 1694.14L327.05 1693.42L327.87 1692.67L328.7 1691.93L329.52 1691.21L330.35 1690.71L331.18 1690.27L332 1689.94L332.83 1689.72L333.65 1689.64L334.48 1689.62L335.31 1689.65L336.13 1689.71L336.96 1689.8L337.78 1689.93L338.61 1690L339.43 1690.11L340.26 1690.23L341.09 1690.37L341.91 1690.53L342.74 1690.69L343.56 1690.86L344.39 1691.04L345.22 1691.22L346.04 1691.41L346.87 1691.91L347.69 1692.49L348.52 1693.15L349.35 1693.87L350.17 1694.61L351 1695.19L351.82 1695.76L352.65 1696.3L353.48 1696.82L354.3 1697.36L355.13 1697.85L355.95 1698.34L356.78 1698.84L357.6 1699.34L358.43 1699.83L359.26 1700.33L360.08 1700.81L360.91 1701.27L361.73 1701.7L362.56 1702.1L363.39 1702.61L364.21 1703.1L365.04 1703.59L365.86 1704.06L366.69 1704.52L367.52 1704.92L368.34 1705.31L369.17 1705.69L369.99 1706.06L370.82 1706.41L371.64 1706.58L372.47 1706.74L373.3 1706.89L374.12 1707.03L374.95 1707.15L375.77 1707.6L376.6 1708.04L377.43 1708.47L378.25 1708.9L379.08 1709.32L379.9 1709.35L380.73 1709.38L381.56 1709.41L382.38 1709.43L383.21 1709.44L384.03 1709.74L384.86 1710.04L385.69 1710.33L386.51 1710.62L387.34 1710.9L388.16 1711.09L388.99 1711.28L389.81 1711.47L390.64 1711.65L391.47 1711.83L392.29 1711.99L393.12 1712.14L393.94 1712.29L394.77 1712.44L395.6 1712.58L396.42 1712.67L397.25 1712.75L398.07 1712.83L398.9 1712.9L399.73 1712.97L400.55 1712.96L401.38 1712.95L402.2 1712.93L403.03 1712.9L403.86 1712.86L404.68 1713.06L405.51 1713.26L406.33 1713.46L407.16 1713.66L407.98 1713.86L408.81 1713.83L409.64 1713.8L410.46 1713.77L411.29 1713.73L412.11 1713.7L412.94 1713.73L413.77 1713.77L414.59 1713.8L415.42 1713.82L416.24 1713.84L417.07 1713.93L417.9 1714.01L418.72 1714.09L419.55 1714.17L420.37 1714.23L421.2 1714.2L422.03 1714.16L422.85 1714.1L423.68 1714.04L424.5 1713.96L425.33 1714.02L426.15 1714.06L426.98 1714.1L427.81 1714.13L428.63 1714.15L429.46 1714.06L430.28 1713.96L431.11 1713.86L431.94 1713.76L432.76 1713.65L433.59 1713.5L434.41 1713.36L435.24 1713.21L436.07 1713.06L436.89 1712.91L437.72 1712.69L438.54 1712.47L439.37 1712.22L440.2 1711.94L441.02 1711.63L441.85 1711.47L442.67 1711.3L443.5 1711.14L444.32 1711L445.15 1710.9L445.98 1710.81L446.8 1710.78L447.63 1710.81L448.45 1710.94L449.28 1711.14L450.11 1711.32L450.93 1711.54L451.76 1711.79L452.58 1712.06L453.41 1712.33L454.24 1712.67L455.06 1712.99L455.89 1713.26L456.71 1713.51L457.54 1713.75L458.36 1714L459.19 1714.24L460.02 1714.48L460.84 1714.71L461.67 1714.94L462.49 1715.04L463.32 1715.13L464.15 1715.21L464.97 1715.3L465.8 1715.39L466.62 1715.61L467.45 1715.83L468.28 1716.04L469.1 1716.27" fill="none" stroke="#8e3fa0" stroke-width="3.3" stroke-dasharray="13.5 5.5" stroke-linejoin="round" stroke-linecap="butt"/>
<path d="M189.12 1716.37L189.95 1716.46L190.77 1716.55L191.6 1716.58L192.42 1716.58L193.25 1716.58L194.08 1716.58L194.9 1716.58L195.73 1716.58L196.55 1716.53L197.38 1716.45L198.2 1716.46L199.03 1716.47L199.86 1716.47L200.68 1716.48L201.51 1716.49L202.33 1716.41L203.16 1716.33L203.99 1716.25L204.81 1716.17L205.64 1716.09L206.46 1716.12L207.29 1716.15L208.12 1716.18L208.94 1716.2L209.77 1716.23L210.59 1716.32L211.42 1716.41L212.25 1716.5L213.07 1716.58L213.9 1716.58L214.72 1716.53L215.55 1716.38L216.37 1716.22L217.2 1716.07L218.03 1715.91L218.85 1716.09L219.68 1716.27L220.5 1716.45L221.33 1716.58L222.16 1716.58L222.98 1716.58L223.81 1716.58L224.63 1716.58L225.46 1716.51L226.29 1716.44L227.11 1716.35L227.94 1716.27L228.76 1716.19L229.59 1716.1L230.42 1716.02L231.24 1716.13L232.07 1716.25L232.89 1716.36L233.72 1716.42L234.54 1716.44L235.37 1716.21L236.2 1715.94L237.02 1715.63L237.85 1715.3L238.67 1714.93L239.5 1714.72L240.33 1714.49L241.15 1714.24L241.98 1713.99L242.8 1713.73L243.63 1713.23L244.46 1712.75L245.28 1712.27L246.11 1711.8L246.93 1711.35L247.76 1711.04L248.59 1710.76L249.41 1710.5L250.24 1710.28L251.06 1710.07L251.89 1709.93L252.71 1709.79L253.54 1709.66L254.37 1709.54L255.19 1709.43L256.02 1709.21L256.84 1708.99L257.67 1708.78L258.5 1708.58L259.32 1708.38L260.15 1708.37L260.97 1708.38L261.8 1708.39L262.63 1708.4L263.45 1708.42L264.28 1708.23L265.1 1708.05L265.93 1707.86L266.76 1707.66L267.58 1707.46L268.41 1707.35L269.23 1707.24L270.06 1707.11L270.88 1706.97L271.71 1706.81L272.54 1706.62L273.36 1706.41L274.19 1706.18L275.01 1705.94L275.84 1705.7L276.67 1705.46L277.49 1705.22L278.32 1704.97L279.14 1704.71L279.97 1704.45L280.8 1704.07L281.62 1703.7L282.45 1703.32L283.27 1702.94L284.1 1702.57L284.92 1702.26L285.75 1701.95L286.58 1701.63L287.4 1701.31L288.23 1700.98L289.05 1700.77L289.88 1700.54L290.71 1700.3L291.53 1700.05L292.36 1699.78L293.18 1699.35L294.01 1698.85L294.84 1698.29L295.66 1697.69L296.49 1697.07L297.31 1696.62L298.14 1696.19L298.97 1695.78L299.79 1695.43L300.62 1695.14L301.44 1694.66L302.27 1694.27L303.09 1693.92L303.92 1693.59L304.75 1693.29L305.57 1693.13L306.4 1692.97L307.22 1692.78L308.05 1692.54L308.88 1692.25L309.7 1691.8L310.53 1691.27L311.35 1690.69L312.18 1690.06L313.01 1689.4L313.83 1688.82L314.66 1688.22L315.48 1687.62L316.31 1687.03L317.14 1686.45L317.96 1685.97L318.79 1685.53L319.61 1685.11L320.44 1684.7L321.26 1684.3L322.09 1683.76L322.92 1683.22L323.74 1682.68L324.57 1682.13L325.39 1681.58L326.22 1680.97L327.05 1680.36L327.87 1679.72L328.7 1679.07L329.52 1678.39L330.35 1677.88L331.18 1677.34L332 1676.77L332.83 1676.19L333.65 1675.6L334.48 1674.77L335.31 1673.93L336.13 1673.11L336.96 1672.3L337.78 1671.5L338.61 1670.89L339.43 1670.3L340.26 1669.65L341.09 1668.95L341.91 1668.22L342.74 1667.45L343.56 1666.71L344.39 1666.04L345.22 1665.47L346.04 1665.02L346.87 1664.74L347.69 1664.64L348.52 1664.75L349.35 1665.02L350.17 1665.45L351 1665.83L351.82 1666.32L352.65 1666.89L353.48 1667.51L354.3 1668.16L355.13 1669.11L355.95 1670.05L356.78 1670.98L357.6 1672.05L358.43 1673.22L359.26 1674.31L360.08 1675.43L360.91 1676.55L361.73 1677.63L362.56 1678.65L363.39 1679.55L364.21 1680.42L365.04 1681.27L365.86 1682.09L366.69 1682.89L367.52 1683.58L368.34 1684.25L369.17 1684.88L369.99 1685.47L370.82 1686.03L371.64 1686.85L372.47 1687.64L373.3 1688.41L374.12 1689.17L374.95 1689.9L375.77 1690.37L376.6 1690.82L377.43 1691.25L378.25 1691.67L379.08 1692.08L379.9 1692.53L380.73 1692.99L381.56 1693.43L382.38 1693.86L383.21 1694.27L384.03 1694.61L384.86 1694.93L385.69 1695.22L386.51 1695.48L387.34 1695.71L388.16 1696L388.99 1696.28L389.81 1696.55L390.64 1696.81L391.47 1697.06L392.29 1697.28L393.12 1697.48L393.94 1697.69L394.77 1697.88L395.6 1698.07L396.42 1698.39L397.25 1698.7L398.07 1699.01L398.9 1699.32L399.73 1699.63L400.55 1699.78L401.38 1699.92L402.2 1700.07L403.03 1700.22L403.86 1700.38L404.68 1700.57L405.51 1700.77L406.33 1700.97L407.16 1701.18L407.98 1701.38L408.81 1701.45L409.64 1701.53L410.46 1701.6L411.29 1701.67L412.11 1701.74L412.94 1701.9L413.77 1702.06L414.59 1702.22L415.42 1702.36L416.24 1702.51L417.07 1702.84L417.9 1703.16L418.72 1703.47L419.55 1703.78L420.37 1704.07L421.2 1704.18L422.03 1704.28L422.85 1704.39L423.68 1704.49L424.5 1704.6L425.33 1704.69L426.15 1704.79L426.98 1704.89L427.81 1704.98L428.63 1705.07L429.46 1705.16L430.28 1705.25L431.11 1705.34L431.94 1705.42L432.76 1705.49L433.59 1705.5L434.41 1705.5L435.24 1705.5L436.07 1705.48L436.89 1705.46L437.72 1705.45L438.54 1705.43L439.37 1705.4L440.2 1705.36L441.02 1705.31L441.85 1705.35L442.67 1705.38L443.5 1705.4L444.32 1705.41L445.15 1705.43L445.98 1705.42L446.8 1705.42L447.63 1705.41L448.45 1705.41L449.28 1705.4L450.11 1705.26L450.93 1705.12L451.76 1704.98L452.58 1704.85L453.41 1704.73L454.24 1704.71L455.06 1704.71L455.89 1704.72L456.71 1704.74L457.54 1704.77L458.36 1704.76L459.19 1704.76L460.02 1704.77L460.84 1704.8L461.67 1704.83L462.49 1704.83L463.32 1704.83L464.15 1704.84L464.97 1704.86L465.8 1704.88L466.62 1705.04L467.45 1705.21L468.28 1705.37L469.1 1705.54L469.93 1705.71L470.75 1705.86L471.58 1706L472.41 1706.14L473.23 1706.28L474.06 1706.42L474.88 1706.51L475.71 1706.61L476.53 1706.71L477.36 1706.82L478.19 1706.93L479.01 1707.05L479.84 1707.18L480.66 1707.31L481.49 1707.43L482.32 1707.56L483.14 1707.83L483.97 1708.1L484.79 1708.37L485.62 1708.63L486.45 1708.89L487.27 1708.83L488.1 1708.76L488.92 1708.68L489.75 1708.59L490.58 1708.49L491.4 1708.6L492.23 1708.71L493.05 1708.81L493.88 1708.91L494.7 1709.01L495.53 1709.07L496.36 1709.12L497.18 1709.17L498.01 1709.21L498.83 1709.26L499.66 1709.34L500.49 1709.42L501.31 1709.5L502.14 1709.58L502.96 1709.66L503.79 1709.8L504.62 1709.94L505.44 1710.09L506.27 1710.23L507.09 1710.37L507.92 1710.42L508.75 1710.46L509.57 1710.51L510.4 1710.56L511.22 1710.6L512.05 1710.71L512.87 1710.81L513.7 1710.92L514.53 1711.02L515.35 1711.12L516.18 1711.04L517 1710.96L517.83 1710.88L518.66 1710.8L519.48 1710.71L520.31 1710.87L521.13 1711.02L521.96 1711.17L522.79 1711.33L523.61 1711.48L524.44 1711.5L525.26 1711.53L526.09 1711.55L526.92 1711.58L527.74 1711.6L528.57 1711.6L529.39 1711.59L530.22 1711.59L531.04 1711.58L531.87 1711.58L532.7 1711.61L533.52 1711.65L534.35 1711.69L535.17 1711.73L536 1711.76" fill="none" stroke="#8e3fa0" stroke-width="3.3" stroke-linejoin="round" stroke-linecap="butt"/>
<path d="M189.12 1716.58L189.95 1716.58L190.77 1716.58L191.6 1716.58L192.42 1716.58L193.25 1716.58L194.08 1716.58L194.9 1716.58L195.73 1716.58L196.55 1716.58L197.38 1716.58L198.2 1716.58L199.03 1716.58L199.86 1716.58L200.68 1716.58L201.51 1716.58L202.33 1716.58L203.16 1716.58L203.99 1716.58L204.81 1716.58L205.64 1716.58L206.46 1716.58L207.29 1716.58L208.12 1716.58L208.94 1716.58L209.77 1716.58L210.59 1716.58L211.42 1716.58L212.25 1716.58L213.07 1716.58L213.9 1716.58L214.72 1716.58L215.55 1716.58L216.37 1716.55L217.2 1716.41L218.03 1716.26L218.85 1716.31L219.68 1716.35L220.5 1716.4L221.33 1716.44L222.16 1716.49L222.98 1716.57L223.81 1716.58L224.63 1716.58L225.46 1716.58L226.29 1716.58L227.11 1716.58L227.94 1716.58L228.76 1716.58L229.59 1716.58L230.42 1716.58L231.24 1716.58L232.07 1716.58L232.89 1716.58L233.72 1716.58L234.54 1716.58L235.37 1716.58L236.2 1716.58L237.02 1716.58L237.85 1716.58L238.67 1716.58L239.5 1716.58L240.33 1716.58L241.15 1716.58L241.98 1716.58L242.8 1716.58L243.63 1716.58L244.46 1716.58L245.28 1716.53L246.11 1716.41L246.93 1716.28L247.76 1716.26L248.59 1716.23L249.41 1716.21L250.24 1716.18L251.06 1716.16L251.89 1716.25L252.71 1716.34L253.54 1716.43L254.37 1716.52L255.19 1716.58L256.02 1716.58L256.84 1716.58L257.67 1716.58L258.5 1716.58L259.32 1716.58L260.15 1716.58L260.97 1716.58L261.8 1716.58L262.63 1716.58L263.45 1716.58L264.28 1716.58L265.1 1716.58L265.93 1716.58L266.76 1716.58L267.58 1716.58L268.41 1716.58L269.23 1716.58L270.06 1716.58L270.88 1716.58L271.71 1716.49L272.54 1716.45L273.36 1716.4L274.19 1716.35L275.01 1716.29L275.84 1716.23L276.67 1716.05L277.49 1715.86L278.32 1715.68L279.14 1715.48L279.97 1715.29L280.8 1715.3L281.62 1715.31L282.45 1715.31L283.27 1715.32L284.1 1715.32L284.92 1715.22L285.75 1715.08L286.58 1714.91L287.4 1714.71L288.23 1714.47L289.05 1714.02L289.88 1713.55L290.71 1713.05L291.53 1712.53L292.36 1711.99L293.18 1711.68L294.01 1711.34L294.84 1711L295.66 1710.65L296.49 1710.29L297.31 1709.93L298.14 1709.56L298.97 1709.15L299.79 1708.72L300.62 1708.25L301.44 1707.61L302.27 1706.94L303.09 1706.23L303.92 1705.48L304.75 1704.69L305.57 1703.99L306.4 1703.18L307.22 1702.27L308.05 1701.3L308.88 1700.28L309.7 1699.04L310.53 1697.8L311.35 1696.57L312.18 1695.35L313.01 1694.11L313.83 1692.86L314.66 1691.58L315.48 1690.29L316.31 1688.97L317.14 1687.62L317.96 1686.35L318.79 1685.05L319.61 1683.7L320.44 1682.3L321.26 1680.88L322.09 1679.43L322.92 1677.97L323.74 1676.51L324.57 1675.06L325.39 1673.62L326.22 1672.22L327.05 1670.81L327.87 1669.38L328.7 1667.95L329.52 1666.54L330.35 1665.06L331.18 1663.61L332 1662.21L332.83 1660.87L333.65 1659.59L334.48 1658.41L335.31 1657.25L336.13 1656.1L336.96 1654.94L337.78 1653.75L338.61 1652.39L339.43 1650.95L340.26 1649.35L341.09 1647.63L341.91 1645.85L342.74 1644.23L343.56 1642.69L344.39 1641.3L345.22 1640.14L346.04 1639.27L346.87 1638.46L347.69 1637.67L348.52 1636.92L349.35 1636.24L350.17 1635.65L351 1635.3L351.82 1635.09L352.65 1635.04L353.48 1635.23L354.3 1635.74L355.13 1636.46L355.95 1637.4L356.78 1638.51L357.6 1639.74L358.43 1641.03L359.26 1642.22L360.08 1643.4L360.91 1644.83L361.73 1646.51L362.56 1648.37L363.39 1650.41L364.21 1652.49L365.04 1654.55L365.86 1656.51L366.69 1658.31L367.52 1660.09L368.34 1661.85L369.17 1663.6L369.99 1665.3L370.82 1666.97L371.64 1668.56L372.47 1670.08L373.3 1671.53L374.12 1672.9L374.95 1674.25L375.77 1675.54L376.6 1676.81L377.43 1678.03L378.25 1679.21L379.08 1680.35L379.9 1681.47L380.73 1682.54L381.56 1683.56L382.38 1684.54L383.21 1685.48L384.03 1686.48L384.86 1687.45L385.69 1688.39L386.51 1689.3L387.34 1690.17L388.16 1690.87L388.99 1691.53L389.81 1692.15L390.64 1692.73L391.47 1693.28L392.29 1693.89L393.12 1694.49L393.94 1695.07L394.77 1695.63L395.6 1696.17L396.42 1696.71L397.25 1697.23L398.07 1697.72L398.9 1698.18L399.73 1698.61L400.55 1698.96L401.38 1699.27L402.2 1699.57L403.03 1699.85L403.86 1700.13L404.68 1700.34L405.51 1700.55L406.33 1700.74L407.16 1700.92L407.98 1701.09L408.81 1701.3L409.64 1701.5L410.46 1701.7L411.29 1701.88L412.11 1702.06L412.94 1702.15L413.77 1702.24L414.59 1702.32L415.42 1702.4L416.24 1702.48L417.07 1702.58L417.9 1702.67L418.72 1702.76L419.55 1702.85L420.37 1702.93L421.2 1703.14L422.03 1703.35L422.85 1703.56L423.68 1703.76L424.5 1703.96L425.33 1703.99L426.15 1704.02L426.98 1704.04L427.81 1704.06L428.63 1704.08L429.46 1704.17L430.28 1704.26L431.11 1704.35L431.94 1704.44L432.76 1704.52L433.59 1704.61L434.41 1704.7L435.24 1704.79L436.07 1704.88L436.89 1704.97L437.72 1705.14L438.54 1705.32L439.37 1705.5L440.2 1705.68L441.02 1705.85L441.85 1705.95L442.67 1706.05L443.5 1706.14L444.32 1706.24L445.15 1706.34L445.98 1706.41L446.8 1706.49L447.63 1706.56L448.45 1706.64L449.28 1706.72L450.11 1706.8L450.93 1706.89L451.76 1706.98L452.58 1707.08L453.41 1707.17L454.24 1707.26L455.06 1707.36L455.89 1707.46L456.71 1707.56L457.54 1707.67L458.36 1707.72L459.19 1707.76L460.02 1707.82L460.84 1707.87L461.67 1707.93L462.49 1708.02L463.32 1708.11L464.15 1708.2L464.97 1708.3L465.8 1708.39L466.62 1708.55L467.45 1708.71L468.28 1708.87L469.1 1709.02L469.93 1709.18L470.75 1709.39L471.58 1709.6L472.41 1709.81L473.23 1710.02L474.06 1710.23L474.88 1710.34L475.71 1710.44L476.53 1710.55L477.36 1710.65L478.19 1710.75L479.01 1710.85L479.84 1710.95L480.66 1711.04L481.49 1711.13L482.32 1711.21L483.14 1711.44L483.97 1711.68L484.79 1711.92L485.62 1712.16L486.45 1712.4L487.27 1712.42L488.1 1712.45L488.92 1712.47L489.75 1712.49L490.58 1712.51L491.4 1712.58L492.23 1712.65L493.05 1712.72L493.88 1712.79L494.7 1712.86L495.53 1712.98L496.36 1713.1L497.18 1713.22L498.01 1713.33L498.83 1713.44L499.66 1713.52L500.49 1713.6L501.31 1713.66L502.14 1713.73L502.96 1713.78L503.79 1713.87L504.62 1713.94L505.44 1714.01L506.27 1714.07L507.09 1714.12L507.92 1714.17L508.75 1714.22L509.57 1714.27L510.4 1714.33L511.22 1714.38L512.05 1714.27L512.87 1714.17L513.7 1714.06L514.53 1713.96L515.35 1713.85L516.18 1713.93L517 1714.01L517.83 1714.09L518.66 1714.17L519.48 1714.24L520.31 1714.16L521.13 1714.08L521.96 1714L522.79 1713.92L523.61 1713.84L524.44 1713.81L525.26 1713.78L526.09 1713.75L526.92 1713.72L527.74 1713.69L528.57 1713.79L529.39 1713.89L530.22 1713.99L531.04 1714.09L531.87 1714.19L532.7 1714.19L533.52 1714.19L534.35 1714.19L535.17 1714.19L536 1714.19" fill="none" stroke="#ff9500" stroke-width="3.3" stroke-linejoin="round" stroke-linecap="butt"/>
<path d="M189.12 1713.71L189.95 1713.69L190.77 1713.67L191.6 1713.65L192.42 1713.63L193.25 1713.61L194.08 1713.85L194.9 1714.09L195.73 1714.33L196.55 1714.57L197.38 1714.81L198.2 1714.83L199.03 1714.85L199.86 1714.87L200.68 1714.89L201.51 1714.91L202.33 1714.9L203.16 1714.88L203.99 1714.87L204.81 1714.86L205.64 1714.85L206.46 1714.53L207.29 1714.2L208.12 1713.88L208.94 1713.55L209.77 1713.23L210.59 1713.27L211.42 1713.31L212.25 1713.35L213.07 1713.4L213.9 1713.44L214.72 1713.72L215.55 1714.01L216.37 1714.29L217.2 1714.58L218.03 1714.86L218.85 1714.57L219.68 1714.28L220.5 1713.98L221.33 1713.69L222.16 1713.39L222.98 1713.33L223.81 1713.26L224.63 1713.2L225.46 1713.13L226.29 1713.06L227.11 1713.2L227.94 1713.34L228.76 1713.48L229.59 1713.62L230.42 1713.76L231.24 1713.89L232.07 1714.03L232.89 1714.16L233.72 1714.29L234.54 1714.42L235.37 1714.34L236.2 1714.25L237.02 1714.17L237.85 1714.08L238.67 1713.99L239.5 1714.18L240.33 1714.36L241.15 1714.54L241.98 1714.72L242.8 1714.9L243.63 1714.95L244.46 1715L245.28 1715.05L246.11 1715.1L246.93 1715.15L247.76 1714.73L248.59 1714.32L249.41 1713.91L250.24 1713.49L251.06 1713.08L251.89 1713.21L252.71 1713.35L253.54 1713.49L254.37 1713.62L255.19 1713.76L256.02 1713.81L256.84 1713.86L257.67 1713.91L258.5 1713.96L259.32 1714.01L260.15 1713.83L260.97 1713.65L261.8 1713.47L262.63 1713.29L263.45 1713.11L264.28 1713.32L265.1 1713.53L265.93 1713.75L266.76 1713.96L267.58 1714.17L268.41 1713.97L269.23 1713.77L270.06 1713.58L270.88 1713.38L271.71 1713.19L272.54 1713.2L273.36 1713.21L274.19 1713.22L275.01 1713.23L275.84 1713.24L276.67 1713.5L277.49 1713.75L278.32 1714.01L279.14 1714.26L279.97 1714.52L280.8 1714.49L281.62 1714.46L282.45 1714.43L283.27 1714.4L284.1 1714.37L284.92 1714.34L285.75 1714.31L286.58 1714.27L287.4 1714.24L288.23 1714.21L289.05 1714.22L289.88 1714.22L290.71 1714.23L291.53 1714.23L292.36 1714.24L293.18 1714.07L294.01 1713.9L294.84 1713.74L295.66 1713.57L296.49 1713.4L297.31 1713.52L298.14 1713.6L298.97 1713.56L299.79 1713.41L300.62 1713.2L301.44 1712.73L302.27 1712.25L303.09 1711.79L303.92 1711.37L304.75 1711.03L305.57 1710.98L306.4 1711.07L307.22 1711.25L308.05 1711.48L308.88 1711.76L309.7 1711.62L310.53 1711.5L311.35 1711.39L312.18 1711.27L313.01 1711.14L313.83 1711.56L314.66 1711.94L315.48 1712.28L316.31 1712.62L317.14 1712.95L317.96 1713L318.79 1713.04L319.61 1713.07L320.44 1713.1L321.26 1713.12L322.09 1713.13L322.92 1713.13L323.74 1713.12L324.57 1713.11L325.39 1713.09L326.22 1712.99L327.05 1712.88L327.87 1712.78L328.7 1712.67L329.52 1712.57L330.35 1712.81L331.18 1713.05L332 1713.29L332.83 1713.53L333.65 1713.77L334.48 1713.58L335.31 1713.4L336.13 1713.21L336.96 1713.02L337.78 1712.84L338.61 1713.04L339.43 1713.25L340.26 1713.46L341.09 1713.66L341.91 1713.87L342.74 1713.88L343.56 1713.89L344.39 1713.9L345.22 1713.91L346.04 1713.92L346.87 1713.94L347.69 1713.97L348.52 1713.99L349.35 1714.01L350.17 1714.04L351 1714.27L351.82 1714.51L352.65 1714.75L353.48 1714.98L354.3 1715.22L355.13 1715.05L355.95 1714.88L356.78 1714.72L357.6 1714.55L358.43 1714.38L359.26 1714.51L360.08 1714.63L360.91 1714.75L361.73 1714.88L362.56 1715L363.39 1715.09L364.21 1715.18L365.04 1715.27L365.86 1715.35L366.69 1715.44L367.52 1715.1L368.34 1714.77L369.17 1714.43L369.99 1714.1L370.82 1713.76L371.64 1714.04L372.47 1714.31L373.3 1714.59L374.12 1714.87L374.95 1715.14L375.77 1715.02L376.6 1714.89L377.43 1714.77L378.25 1714.64L379.08 1714.51L379.9 1714.41L380.73 1714.31L381.56 1714.2L382.38 1714.1L383.21 1713.99L384.03 1714.07L384.86 1714.15L385.69 1714.23L386.51 1714.3L387.34 1714.38L388.16 1714.48L388.99 1714.59L389.81 1714.69L390.64 1714.79L391.47 1714.9L392.29 1714.82L393.12 1714.74L393.94 1714.66L394.77 1714.58L395.6 1714.5L396.42 1714.49L397.25 1714.48L398.07 1714.46L398.9 1714.45L399.73 1714.44L400.55 1714.34L401.38 1714.25L402.2 1714.15L403.03 1714.06L403.86 1713.96L404.68 1714.26L405.51 1714.55L406.33 1714.85L407.16 1715.14L407.98 1715.44L408.81 1715.25L409.64 1715.05L410.46 1714.86L411.29 1714.66L412.11 1714.47L412.94 1714.61L413.77 1714.74L414.59 1714.88L415.42 1715.02L416.24 1715.16L417.07 1715.14L417.9 1715.13L418.72 1715.12L419.55 1715.11L420.37 1715.1L421.2 1714.89L422.03 1714.68L422.85 1714.47L423.68 1714.25L424.5 1714.04L425.33 1714.16L426.15 1714.27L426.98 1714.39L427.81 1714.5L428.63 1714.62L429.46 1714.6L430.28 1714.57L431.11 1714.55L431.94 1714.53L432.76 1714.5L433.59 1714.42L434.41 1714.33L435.24 1714.25L436.07 1714.16L436.89 1714.08L437.72 1714.01L438.54 1713.95L439.37 1713.88L440.2 1713.81L441.02 1713.75L441.85 1713.95L442.67 1714.15L443.5 1714.34L444.32 1714.54L445.15 1714.74L445.98 1714.66L446.8 1714.58L447.63 1714.5L448.45 1714.42L449.28 1714.34L450.11 1714.38L450.93 1714.42L451.76 1714.45L452.58 1714.49L453.41 1714.53L454.24 1714.51L455.06 1714.5L455.89 1714.49L456.71 1714.47L457.54 1714.46L458.36 1714.37L459.19 1714.28L460.02 1714.19L460.84 1714.1L461.67 1714.01L462.49 1714.1L463.32 1714.19L464.15 1714.28L464.97 1714.37L465.8 1714.46L466.62 1714.41L467.45 1714.36L468.28 1714.31L469.1 1714.26L469.93 1714.21L470.75 1714.22L471.58 1714.23L472.41 1714.25L473.23 1714.26L474.06 1714.27L474.88 1714.05L475.71 1713.84L476.53 1713.63L477.36 1713.41L478.19 1713.2L479.01 1713.29L479.84 1713.38L480.66 1713.48L481.49 1713.57L482.32 1713.66L483.14 1713.57L483.97 1713.49L484.79 1713.4L485.62 1713.31L486.45 1713.22L487.27 1713.18L488.1 1713.14L488.92 1713.1L489.75 1713.06L490.58 1713.02L491.4 1713.3L492.23 1713.58L493.05 1713.86L493.88 1714.15L494.7 1714.43L495.53 1714.29L496.36 1714.14L497.18 1714L498.01 1713.86L498.83 1713.72L499.66 1713.54L500.49 1713.36L501.31 1713.18L502.14 1713L502.96 1712.82L503.79 1712.85L504.62 1712.88L505.44 1712.91L506.27 1712.95L507.09 1712.98L507.92 1713.27L508.75 1713.56L509.57 1713.85L510.4 1714.14L511.22 1714.43L512.05 1714.42L512.87 1714.41L513.7 1714.41L514.53 1714.4L515.35 1714.39L516.18 1714.24L517 1714.09L517.83 1713.94L518.66 1713.78L519.48 1713.63L520.31 1713.78L521.13 1713.92L521.96 1714.07L522.79 1714.22L523.61 1714.36L524.44 1714.27L525.26 1714.19L526.09 1714.1L526.92 1714.02L527.74 1713.93L528.57 1713.99L529.39 1714.05L530.22 1714.11L531.04 1714.17L531.87 1714.22L532.7 1713.95L533.52 1713.68L534.35 1713.41L535.17 1713.14L536 1712.87" fill="none" stroke="#ff2d55" stroke-width="3.6" stroke-dasharray="0.01 6.6" stroke-linecap="round" stroke-linejoin="round"/>
<path d="M189.12 1712.95L189.95 1712.73L190.77 1712.52L191.6 1712.31L192.42 1712.1L193.25 1711.89L194.08 1712.54L194.9 1713.19L195.73 1713.84L196.55 1714.49L197.38 1715.15L198.2 1714.67L199.03 1714.2L199.86 1713.72L200.68 1713.25L201.51 1712.77L202.33 1712.83L203.16 1712.89L203.99 1712.95L204.81 1713.01L205.64 1713.07L206.46 1713.53L207.29 1713.98L208.12 1714.44L208.94 1714.9L209.77 1715.36L210.59 1714.73L211.42 1714.1L212.25 1713.47L213.07 1712.84L213.9 1712.21L214.72 1712.15L215.55 1712.09L216.37 1712.03L217.2 1711.96L218.03 1711.9L218.85 1712.56L219.68 1713.21L220.5 1713.87L221.33 1714.52L222.16 1715.18L222.98 1714.55L223.81 1713.93L224.63 1713.31L225.46 1712.68L226.29 1712.06L227.11 1712.54L227.94 1713.03L228.76 1713.51L229.59 1714L230.42 1714.49L231.24 1714.41L232.07 1714.34L232.89 1714.27L233.72 1714.2L234.54 1714.13L235.37 1713.7L236.2 1713.27L237.02 1712.84L237.85 1712.41L238.67 1711.98L239.5 1712.11L240.33 1712.25L241.15 1712.39L241.98 1712.53L242.8 1712.66L243.63 1713.24L244.46 1713.82L245.28 1714.4L246.11 1714.98L246.93 1715.56L247.76 1715.33L248.59 1715.1L249.41 1714.86L250.24 1714.63L251.06 1714.4L251.89 1714.32L252.71 1714.25L253.54 1714.18L254.37 1714.11L255.19 1714.03L256.02 1714.19L256.84 1714.34L257.67 1714.49L258.5 1714.64L259.32 1714.8L260.15 1714.92L260.97 1715.04L261.8 1715.17L262.63 1715.29L263.45 1715.41L264.28 1715.31L265.1 1715.2L265.93 1715.1L266.76 1714.99L267.58 1714.88L268.41 1714.54L269.23 1714.19L270.06 1713.84L270.88 1713.49L271.71 1713.14L272.54 1713.75L273.36 1714.35L274.19 1714.96L275.01 1715.57L275.84 1716.18L276.67 1715.71L277.49 1715.25L278.32 1714.79L279.14 1714.33L279.97 1713.87L280.8 1713.96L281.62 1714.06L282.45 1714.16L283.27 1714.26L284.1 1714.36L284.92 1714.72L285.75 1715.09L286.58 1715.45L287.4 1715.82L288.23 1716.18L289.05 1715.91L289.88 1715.64L290.71 1715.37L291.53 1715.1L292.36 1714.83L293.18 1714.58L294.01 1714.32L294.84 1714.07L295.66 1713.82L296.49 1713.56L297.31 1713.66L298.14 1713.76L298.97 1713.85L299.79 1713.95L300.62 1714.05L301.44 1714.43L302.27 1714.8L303.09 1715.14L303.92 1715.44L304.75 1715.72L305.57 1714.78L306.4 1713.82L307.22 1712.84L308.05 1711.84L308.88 1710.81L309.7 1710.74L310.53 1710.65L311.35 1710.55L312.18 1710.44L313.01 1710.32L313.83 1709.85L314.66 1709.31L315.48 1708.69L316.31 1708L317.14 1707.23L317.96 1707.32L318.79 1707.34L319.61 1707.31L320.44 1707.24L321.26 1707.12L322.09 1706.08L322.92 1704.95L323.74 1703.68L324.57 1702.28L325.39 1700.76L326.22 1699.46L327.05 1698.06L327.87 1696.56L328.7 1694.97L329.52 1693.24L330.35 1690.37L331.18 1687.24L332 1683.96L332.83 1680.6L333.65 1677.24L334.48 1675L335.31 1672.63L336.13 1670.16L336.96 1667.68L337.78 1665.28L338.61 1662.72L339.43 1660.39L340.26 1658.16L341.09 1655.98L341.91 1653.87L342.74 1651.47L343.56 1649.18L344.39 1646.99L345.22 1644.94L346.04 1643.03L346.87 1640.94L347.69 1638.78L348.52 1636.62L349.35 1634.52L350.17 1632.56L351 1631.3L351.82 1630.3L352.65 1629.64L353.48 1629.39L354.3 1629.48L355.13 1630.09L355.95 1630.78L356.78 1631.55L357.6 1632.4L358.43 1633.3L359.26 1633.86L360.08 1634.47L360.91 1635.11L361.73 1635.8L362.56 1636.79L363.39 1637.37L364.21 1638.22L365.04 1639.29L365.86 1640.52L366.69 1641.85L367.52 1644.17L368.34 1646.48L369.17 1648.69L369.99 1650.76L370.82 1652.74L371.64 1654.33L372.47 1655.93L373.3 1657.54L374.12 1659.14L374.95 1660.72L375.77 1662.92L376.6 1665.08L377.43 1667.19L378.25 1669.25L379.08 1671.25L379.9 1672.73L380.73 1674.2L381.56 1675.65L382.38 1677.07L383.21 1678.45L384.03 1679.21L384.86 1679.92L385.69 1680.56L386.51 1681.14L387.34 1681.64L388.16 1682.86L388.99 1684.06L389.81 1685.21L390.64 1686.34L391.47 1687.43L392.29 1688.55L393.12 1689.64L393.94 1690.68L394.77 1691.68L395.6 1692.63L396.42 1692.49L397.25 1692.33L398.07 1692.15L398.9 1691.95L399.73 1691.73L400.55 1692.51L401.38 1693.26L402.2 1694L403.03 1694.72L403.86 1695.42L404.68 1695.69L405.51 1695.94L406.33 1696.17L407.16 1696.38L407.98 1696.58L408.81 1697.53L409.64 1698.47L410.46 1699.41L411.29 1700.34L412.11 1701.26L412.94 1700.89L413.77 1700.5L414.59 1700.11L415.42 1699.7L416.24 1699.28L417.07 1700.19L417.9 1701.09L418.72 1701.97L419.55 1702.84L420.37 1703.69L421.2 1703.15L422.03 1702.6L422.85 1702.04L423.68 1701.47L424.5 1700.9L425.33 1701.37L426.15 1701.83L426.98 1702.29L427.81 1702.74L428.63 1703.19L429.46 1703.38L430.28 1703.57L431.11 1703.75L431.94 1703.93L432.76 1704.11L433.59 1703.99L434.41 1703.88L435.24 1703.76L436.07 1703.64L436.89 1703.51L437.72 1703.24L438.54 1702.97L439.37 1702.7L440.2 1702.42L441.02 1702.14L441.85 1702.75L442.67 1703.35L443.5 1703.95L444.32 1704.56L445.15 1705.16L445.98 1705.3L446.8 1705.45L447.63 1705.6L448.45 1705.75L449.28 1705.9L450.11 1705.59L450.93 1705.27L451.76 1704.96L452.58 1704.66L453.41 1704.35L454.24 1704.64L455.06 1704.94L455.89 1705.23L456.71 1705.54L457.54 1705.85L458.36 1706.02L459.19 1706.2L460.02 1706.39L460.84 1706.57L461.67 1706.77L462.49 1706.8L463.32 1706.84L464.15 1706.89L464.97 1706.93L465.8 1706.98L466.62 1707.17L467.45 1707.36L468.28 1707.55L469.1 1707.73L469.93 1707.92L470.75 1707.88L471.58 1707.84L472.41 1707.8L473.23 1707.75L474.06 1707.71L474.88 1707.7L475.71 1707.7L476.53 1707.7L477.36 1707.7L478.19 1707.7L479.01 1707.8L479.84 1707.9L480.66 1708L481.49 1708.1L482.32 1708.2L483.14 1707.9L483.97 1707.6L484.79 1707.3L485.62 1706.99L486.45 1706.68L487.27 1707.17L488.1 1707.65L488.92 1708.13L489.75 1708.61L490.58 1709.08L491.4 1708.96L492.23 1708.83L493.05 1708.71L493.88 1708.59L494.7 1708.46L495.53 1708.8L496.36 1709.13L497.18 1709.46L498.01 1709.79L498.83 1710.13L499.66 1710.03L500.49 1709.93L501.31 1709.84L502.14 1709.74L502.96 1709.64L503.79 1709.97L504.62 1710.3L505.44 1710.63L506.27 1710.96L507.09 1711.29L507.92 1711.13L508.75 1710.98L509.57 1710.82L510.4 1710.66L511.22 1710.5L512.05 1710.74L512.87 1710.99L513.7 1711.23L514.53 1711.48L515.35 1711.72L516.18 1711.14L517 1710.56L517.83 1709.98L518.66 1709.4L519.48 1708.82L520.31 1709.01L521.13 1709.21L521.96 1709.41L522.79 1709.6L523.61 1709.8L524.44 1710.15L525.26 1710.5L526.09 1710.86L526.92 1711.21L527.74 1711.56L528.57 1711.35L529.39 1711.15L530.22 1710.94L531.04 1710.74L531.87 1710.53L532.7 1710.18L533.52 1709.83L534.35 1709.47L535.17 1709.12L536 1708.77" fill="none" stroke="#ff2d55" stroke-width="3.3" stroke-dasharray="13.5 5.5" stroke-linejoin="round" stroke-linecap="butt"/>
<path d="M189.12 1715.26L189.95 1714.74L190.77 1714.21L191.6 1713.69L192.42 1713.16L193.25 1712.64L194.08 1712.88L194.9 1713.12L195.73 1713.36L196.55 1713.61L197.38 1713.85L198.2 1713.82L199.03 1713.79L199.86 1713.76L200.68 1713.73L201.51 1713.7L202.33 1713.5L203.16 1713.31L203.99 1713.11L204.81 1712.91L205.64 1712.72L206.46 1712.99L207.29 1713.27L208.12 1713.54L208.94 1713.82L209.77 1714.09L210.59 1714.03L211.42 1713.97L212.25 1713.91L213.07 1713.85L213.9 1713.79L214.72 1713.68L215.55 1713.58L216.37 1713.48L217.2 1713.38L218.03 1713.28L218.85 1713.11L219.68 1712.94L220.5 1712.77L221.33 1712.6L222.16 1712.44L222.98 1712.83L223.81 1713.23L224.63 1713.62L225.46 1714.02L226.29 1714.42L227.11 1714.13L227.94 1713.84L228.76 1713.55L229.59 1713.27L230.42 1712.98L231.24 1713.06L232.07 1713.15L232.89 1713.23L233.72 1713.31L234.54 1713.4L235.37 1713.45L236.2 1713.5L237.02 1713.55L237.85 1713.6L238.67 1713.65L239.5 1713.79L240.33 1713.94L241.15 1714.08L241.98 1714.23L242.8 1714.37L243.63 1714.41L244.46 1714.45L245.28 1714.48L246.11 1714.52L246.93 1714.56L247.76 1714.74L248.59 1714.92L249.41 1715.09L250.24 1715.27L251.06 1715.45L251.89 1715.4L252.71 1715.35L253.54 1715.3L254.37 1715.25L255.19 1715.19L256.02 1715.22L256.84 1715.25L257.67 1715.27L258.5 1715.3L259.32 1715.32L260.15 1714.9L260.97 1714.48L261.8 1714.06L262.63 1713.64L263.45 1713.22L264.28 1713.49L265.1 1713.77L265.93 1714.04L266.76 1714.31L267.58 1714.59L268.41 1714.62L269.23 1714.65L270.06 1714.68L270.88 1714.71L271.71 1714.74L272.54 1714.76L273.36 1714.78L274.19 1714.8L275.01 1714.82L275.84 1714.84L276.67 1714.35L277.49 1713.86L278.32 1713.37L279.14 1712.88L279.97 1712.39L280.8 1712.34L281.62 1712.29L282.45 1712.24L283.27 1712.19L284.1 1712.13L284.92 1712.22L285.75 1712.3L286.58 1712.38L287.4 1712.46L288.23 1712.53L289.05 1712.71L289.88 1712.89L290.71 1713.06L291.53 1713.23L292.36 1713.39L293.18 1713.34L294.01 1713.27L294.84 1713.2L295.66 1713.13L296.49 1713.04L297.31 1712.89L298.14 1712.73L298.97 1712.56L299.79 1712.38L300.62 1712.19L301.44 1711.92L302.27 1711.57L303.09 1711.09L303.92 1710.48L304.75 1709.77L305.57 1709.24L306.4 1708.63L307.22 1707.95L308.05 1707.21L308.88 1706.39L309.7 1704.98L310.53 1703.32L311.35 1701.4L312.18 1699.21L313.01 1696.73L313.83 1694.16L314.66 1690.59L315.48 1686.1L316.31 1680.92L317.14 1675.19L317.96 1667.7L318.79 1659.09L319.61 1649.77L320.44 1640.07L321.26 1629.35L322.09 1618.15L322.92 1606.84L323.74 1596.16L324.57 1585.98L325.39 1576.01L326.22 1566.43L327.05 1556.85L327.87 1547.14L328.7 1537.36L329.52 1527.75L330.35 1518.5L331.18 1509.74L332 1501.18L332.83 1493.03L333.65 1485.53L334.48 1478.13L335.31 1470.91L336.13 1464.26L336.96 1458.74L337.78 1454.69L338.61 1451.84L339.43 1449.26L340.26 1447.17L341.09 1445.77L341.91 1445.28L342.74 1445.46L343.56 1446.72L344.39 1448.85L345.22 1451.61L346.04 1454.77L346.87 1458.36L347.69 1463.1L348.52 1469.4L349.35 1476.32L350.17 1482.96L351 1488.48L351.82 1493.92L352.65 1499.3L353.48 1504.63L354.3 1509.95L355.13 1515.43L355.95 1521.04L356.78 1527.04L357.6 1533.15L358.43 1539.07L359.26 1544.53L360.08 1549.19L360.91 1552.77L361.73 1555.61L362.56 1557.99L363.39 1560.27L364.21 1562.45L365.04 1564.69L365.86 1567.17L366.69 1570.06L367.52 1573.21L368.34 1577.02L369.17 1581.28L369.99 1585.76L370.82 1590.23L371.64 1594.94L372.47 1599.54L373.3 1604.23L374.12 1608.89L374.95 1613.41L375.77 1617.19L376.6 1620.58L377.43 1623.62L378.25 1626.5L379.08 1629.24L379.9 1632.09L380.73 1634.81L381.56 1637.4L382.38 1639.87L383.21 1642.23L384.03 1644.2L384.86 1646.09L385.69 1647.92L386.51 1649.68L387.34 1651.37L388.16 1653.39L388.99 1655.33L389.81 1657.2L390.64 1658.98L391.47 1660.68L392.29 1662.09L393.12 1663.44L393.94 1664.77L394.77 1666.07L395.6 1667.34L396.42 1668.39L397.25 1669.4L398.07 1670.37L398.9 1671.29L399.73 1672.16L400.55 1673.2L401.38 1674.17L402.2 1675.09L403.03 1675.95L403.86 1676.74L404.68 1677.21L405.51 1677.64L406.33 1678.05L407.16 1678.43L407.98 1678.79L408.81 1679.38L409.64 1679.94L410.46 1680.48L411.29 1681.01L412.11 1681.51L412.94 1681.84L413.77 1682.14L414.59 1682.44L415.42 1682.72L416.24 1683L417.07 1683.45L417.9 1683.9L418.72 1684.34L419.55 1684.78L420.37 1685.21L421.2 1685.56L422.03 1685.89L422.85 1686.22L423.68 1686.54L424.5 1686.85L425.33 1687.09L426.15 1687.32L426.98 1687.55L427.81 1687.77L428.63 1687.98L429.46 1688.59L430.28 1689.19L431.11 1689.78L431.94 1690.37L432.76 1690.95L433.59 1691.27L434.41 1691.59L435.24 1691.91L436.07 1692.22L436.89 1692.53L437.72 1692.4L438.54 1692.26L439.37 1692.13L440.2 1691.99L441.02 1691.85L441.85 1692.61L442.67 1693.37L443.5 1694.12L444.32 1694.88L445.15 1695.63L445.98 1695.52L446.8 1695.41L447.63 1695.29L448.45 1695.18L449.28 1695.06L450.11 1695.33L450.93 1695.59L451.76 1695.86L452.58 1696.11L453.41 1696.37L454.24 1696.93L455.06 1697.49L455.89 1698.04L456.71 1698.59L457.54 1699.13L458.36 1698.83L459.19 1698.53L460.02 1698.22L460.84 1697.91L461.67 1697.59L462.49 1697.72L463.32 1697.85L464.15 1697.97L464.97 1698.1L465.8 1698.22L466.62 1698.53L467.45 1698.84L468.28 1699.15L469.1 1699.45L469.93 1699.76L470.75 1699.84L471.58 1699.92L472.41 1700L473.23 1700.08L474.06 1700.16L474.88 1700.25L475.71 1700.35L476.53 1700.45L477.36 1700.54L478.19 1700.64L479.01 1701.19L479.84 1701.74L480.66 1702.29L481.49 1702.85L482.32 1703.4L483.14 1703.32L483.97 1703.25L484.79 1703.17L485.62 1703.1L486.45 1703.04L487.27 1703.21L488.1 1703.39L488.92 1703.57L489.75 1703.75L490.58 1703.93L491.4 1703.89L492.23 1703.86L493.05 1703.82L493.88 1703.79L494.7 1703.75L495.53 1703.92L496.36 1704.09L497.18 1704.26L498.01 1704.43L498.83 1704.59L499.66 1704.71L500.49 1704.83L501.31 1704.94L502.14 1705.04L502.96 1705.14L503.79 1705.39L504.62 1705.64L505.44 1705.87L506.27 1706.1L507.09 1706.32L507.92 1706.2L508.75 1706.08L509.57 1705.95L510.4 1705.83L511.22 1705.7L512.05 1705.88L512.87 1706.06L513.7 1706.24L514.53 1706.42L515.35 1706.59L516.18 1706.63L517 1706.67L517.83 1706.71L518.66 1706.75L519.48 1706.78L520.31 1707.1L521.13 1707.42L521.96 1707.74L522.79 1708.06L523.61 1708.38L524.44 1708.54L525.26 1708.7L526.09 1708.85L526.92 1709.01L527.74 1709.17L528.57 1709.15L529.39 1709.12L530.22 1709.1L531.04 1709.08L531.87 1709.06L532.7 1708.96L533.52 1708.86L534.35 1708.77L535.17 1708.67L536 1708.58" fill="none" stroke="#ff2d55" stroke-width="3.3" stroke-linejoin="round" stroke-linecap="butt"/>
<path d="M189.12 1716.37L189.95 1716.05L190.77 1715.72L191.6 1715.4L192.42 1715.07L193.25 1714.74L194.08 1714.82L194.9 1714.89L195.73 1714.96L196.55 1715.03L197.38 1715.1L198.2 1715.09L199.03 1715.07L199.86 1715.05L200.68 1715.03L201.51 1715.01L202.33 1715.01L203.16 1715.02L203.99 1715.02L204.81 1715.02L205.64 1715.02L206.46 1715L207.29 1714.99L208.12 1714.97L208.94 1714.96L209.77 1714.95L210.59 1715L211.42 1715.05L212.25 1715.1L213.07 1715.16L213.9 1715.22L214.72 1715.37L215.55 1715.51L216.37 1715.66L217.2 1715.81L218.03 1715.96L218.85 1715.79L219.68 1715.61L220.5 1715.43L221.33 1715.26L222.16 1715.08L222.98 1715.13L223.81 1715.17L224.63 1715.21L225.46 1715.25L226.29 1715.29L227.11 1715.38L227.94 1715.46L228.76 1715.55L229.59 1715.63L230.42 1715.7L231.24 1715.7L232.07 1715.7L232.89 1715.69L233.72 1715.68L234.54 1715.66L235.37 1715.62L236.2 1715.57L237.02 1715.52L237.85 1715.46L238.67 1715.4L239.5 1715.52L240.33 1715.64L241.15 1715.76L241.98 1715.88L242.8 1715.99L243.63 1715.77L244.46 1715.55L245.28 1715.32L246.11 1715.09L246.93 1714.87L247.76 1714.93L248.59 1715L249.41 1715.07L250.24 1715.12L251.06 1715.16L251.89 1715.09L252.71 1714.99L253.54 1714.87L254.37 1714.73L255.19 1714.57L256.02 1714.29L256.84 1714L257.67 1713.69L258.5 1713.37L259.32 1713.04L260.15 1712.62L260.97 1712.2L261.8 1711.77L262.63 1711.34L263.45 1710.9L264.28 1710.72L265.1 1710.54L265.93 1710.36L266.76 1710.18L267.58 1710.01L268.41 1709.55L269.23 1709.08L270.06 1708.6L270.88 1708.12L271.71 1707.62L272.54 1707.19L273.36 1706.75L274.19 1706.3L275.01 1705.84L275.84 1705.37L276.67 1705.08L277.49 1704.78L278.32 1704.47L279.14 1704.15L279.97 1703.81L280.8 1703.38L281.62 1702.93L282.45 1702.48L283.27 1702.02L284.1 1701.55L284.92 1701.01L285.75 1700.47L286.58 1699.92L287.4 1699.36L288.23 1698.79L289.05 1698.17L289.88 1697.53L290.71 1696.87L291.53 1696.19L292.36 1695.48L293.18 1694.78L294.01 1694.04L294.84 1693.27L295.66 1692.47L296.49 1691.62L297.31 1690.8L298.14 1689.92L298.97 1688.96L299.79 1687.92L300.62 1686.79L301.44 1685.54L302.27 1684.2L303.09 1682.78L303.92 1681.26L304.75 1679.66L305.57 1678.12L306.4 1676.5L307.22 1674.76L308.05 1672.86L308.88 1670.73L309.7 1668.13L310.53 1665.16L311.35 1661.75L312.18 1657.53L313.01 1651.75L313.83 1644.78L314.66 1637.1L315.48 1628.82L316.31 1619.33L317.14 1608.47L317.96 1595.84L318.79 1579.87L319.61 1562.16L320.44 1545.1L321.26 1529.19L322.09 1513.5L322.92 1496.81L323.74 1477.41L324.57 1458.75L325.39 1443.74L326.22 1430.06L327.05 1417.54L327.87 1405.81L328.7 1394.75L329.52 1384.4L330.35 1374.83L331.18 1365.74L332 1356.81L332.83 1347.75L333.65 1339.3L334.48 1332.12L335.31 1326.83L336.13 1321.95L336.96 1317.45L337.78 1313.74L338.61 1311.15L339.43 1310.1L340.26 1311.15L341.09 1314.2L341.91 1318.64L342.74 1323.82L343.56 1329.18L344.39 1335.99L345.22 1344.54L346.04 1353.75L346.87 1362.59L347.69 1370.85L348.52 1379.07L349.35 1387.27L350.17 1395.48L351 1403.64L351.82 1411.69L352.65 1419.83L353.48 1428.24L354.3 1437.16L355.13 1446.81L355.95 1456.76L356.78 1466.65L357.6 1476.13L358.43 1484.93L359.26 1493.13L360.08 1501.03L360.91 1508.67L361.73 1516.13L362.56 1523.49L363.39 1530.81L364.21 1537.95L365.04 1544.87L365.86 1551.54L366.69 1557.9L367.52 1564.01L368.34 1569.94L369.17 1575.67L369.99 1581.18L370.82 1586.44L371.64 1591.53L372.47 1596.43L373.3 1601.2L374.12 1605.78L374.95 1610.12L375.77 1613.89L376.6 1617.32L377.43 1620.47L378.25 1623.46L379.08 1626.29L379.9 1629.36L380.73 1632.29L381.56 1635.08L382.38 1637.73L383.21 1640.26L384.03 1642.28L384.86 1644.23L385.69 1646.1L386.51 1647.9L387.34 1649.62L388.16 1651.47L388.99 1653.25L389.81 1654.94L390.64 1656.54L391.47 1658.06L392.29 1659.72L393.12 1661.31L393.94 1662.88L394.77 1664.42L395.6 1665.92L396.42 1667.03L397.25 1668.1L398.07 1669.13L398.9 1670.11L399.73 1671.04L400.55 1671.94L401.38 1672.78L402.2 1673.57L403.03 1674.3L403.86 1674.97L404.68 1675.63L405.51 1676.25L406.33 1676.85L407.16 1677.43L407.98 1677.98L408.81 1678.68L409.64 1679.36L410.46 1680.02L411.29 1680.66L412.11 1681.28L412.94 1681.8L413.77 1682.3L414.59 1682.8L415.42 1683.28L416.24 1683.75L417.07 1684.18L417.9 1684.6L418.72 1685.02L419.55 1685.43L420.37 1685.84L421.2 1686.04L422.03 1686.23L422.85 1686.42L423.68 1686.6L424.5 1686.77L425.33 1687.32L426.15 1687.86L426.98 1688.39L427.81 1688.91L428.63 1689.43L429.46 1689.66L430.28 1689.88L431.11 1690.1L431.94 1690.31L432.76 1690.51L433.59 1690.93L434.41 1691.34L435.24 1691.74L436.07 1692.14L436.89 1692.54L437.72 1692.73L438.54 1692.91L439.37 1693.09L440.2 1693.27L441.02 1693.44L441.85 1693.6L442.67 1693.76L443.5 1693.92L444.32 1694.07L445.15 1694.22L445.98 1694.69L446.8 1695.16L447.63 1695.62L448.45 1696.08L449.28 1696.54L450.11 1696.6L450.93 1696.65L451.76 1696.7L452.58 1696.74L453.41 1696.78L454.24 1697.08L455.06 1697.36L455.89 1697.64L456.71 1697.92L457.54 1698.19L458.36 1698.28L459.19 1698.37L460.02 1698.45L460.84 1698.53L461.67 1698.61L462.49 1698.83L463.32 1699.04L464.15 1699.26L464.97 1699.47L465.8 1699.68L466.62 1699.96L467.45 1700.24L468.28 1700.52L469.1 1700.8L469.93 1701.07L470.75 1701.05L471.58 1701.03L472.41 1701.01L473.23 1700.98L474.06 1700.96L474.88 1701.21L475.71 1701.47L476.53 1701.72L477.36 1701.98L478.19 1702.23L479.01 1702.5L479.84 1702.77L480.66 1703.04L481.49 1703.31L482.32 1703.58L483.14 1703.74L483.97 1703.9L484.79 1704.07L485.62 1704.24L486.45 1704.41L487.27 1704.45L488.1 1704.49L488.92 1704.53L489.75 1704.57L490.58 1704.61L491.4 1704.78L492.23 1704.96L493.05 1705.13L493.88 1705.3L494.7 1705.47L495.53 1705.66L496.36 1705.85L497.18 1706.04L498.01 1706.22L498.83 1706.4L499.66 1706.58L500.49 1706.75L501.31 1706.92L502.14 1707.08L502.96 1707.23L503.79 1707.29L504.62 1707.33L505.44 1707.37L506.27 1707.4L507.09 1707.42L507.92 1707.5L508.75 1707.58L509.57 1707.65L510.4 1707.72L511.22 1707.79L512.05 1707.71L512.87 1707.63L513.7 1707.55L514.53 1707.47L515.35 1707.39L516.18 1707.65L517 1707.92L517.83 1708.18L518.66 1708.45L519.48 1708.71L520.31 1708.56L521.13 1708.41L521.96 1708.26L522.79 1708.1L523.61 1707.95L524.44 1707.97L525.26 1707.99L526.09 1708L526.92 1708.02L527.74 1708.04L528.57 1708.27L529.39 1708.49L530.22 1708.72L531.04 1708.95L531.87 1709.18L532.7 1709.01L533.52 1708.85L534.35 1708.69L535.17 1708.52L536 1708.36" fill="none" stroke="#5b5bd6" stroke-width="3.3" stroke-linejoin="round" stroke-linecap="butt"/>
<text x="173.2" y="1725" font-size="23" stroke="#000" stroke-width="0.4" text-anchor="end">0</text>
<text x="173.2" y="1617" font-size="23" stroke="#000" stroke-width="0.4" text-anchor="end">10</text>
<text x="173.2" y="1509" font-size="23" stroke="#000" stroke-width="0.4" text-anchor="end">20</text>
<text x="173.2" y="1401" font-size="23" stroke="#000" stroke-width="0.4" text-anchor="end">30</text>
<text x="173.2" y="1293" font-size="23" stroke="#000" stroke-width="0.4" text-anchor="end">40</text>
<text x="210.8" y="1752.5" font-size="23" stroke="#000" stroke-width="0.4" text-anchor="middle">7.0</text>
<text x="265" y="1752.5" font-size="23" stroke="#000" stroke-width="0.4" text-anchor="middle">7.5</text>
<text x="319.2" y="1752.5" font-size="23" stroke="#000" stroke-width="0.4" text-anchor="middle">8.0</text>
<text x="373.4" y="1752.5" font-size="23" stroke="#000" stroke-width="0.4" text-anchor="middle">8.5</text>
<text x="427.6" y="1752.5" font-size="23" stroke="#000" stroke-width="0.4" text-anchor="middle">9.0</text>
<text x="481.8" y="1752.5" font-size="23" stroke="#000" stroke-width="0.4" text-anchor="middle">9.5</text>
<text x="536" y="1752.5" font-size="23" stroke="#000" stroke-width="0.4" text-anchor="middle">10.0</text>
<text x="358.5" y="1791" font-size="24.8" stroke="#000" stroke-width="0.4" text-anchor="middle">Elution volume (ml)</text>
<text x="126" y="1464" font-size="24.8" stroke="#000" stroke-width="0.4" text-anchor="middle" transform="rotate(-90 126 1464)">mAu (550 nm)</text>
<line x1="459.2" y1="1290.8" x2="514.8" y2="1290.8" stroke="#5b5bd6" stroke-width="3.3"/>
<text x="528" y="1297.5" font-size="18.7" stroke="#000" stroke-width="0.4">WT</text>
<line x1="459.2" y1="1322.5" x2="514.8" y2="1322.5" stroke="#ff2d55" stroke-width="3.3"/>
<text x="528" y="1329.2" font-size="18.7" stroke="#000" stroke-width="0.4">E154Q</text>
<line x1="459.2" y1="1354.2" x2="514.8" y2="1354.2" stroke="#ff2d55" stroke-width="3.3" stroke-dasharray="13.5 5.5"/>
<text x="528" y="1360.9" font-size="18.7" stroke="#000" stroke-width="0.4">R231E</text>
<line x1="461.5" y1="1385.9" x2="508" y2="1385.9" stroke="#ff2d55" stroke-width="3.6" stroke-dasharray="0.01 6.6" stroke-linecap="round"/>
<text x="528" y="1392.6" font-size="18.7" stroke="#000" stroke-width="0.4">H12N</text>
<line x1="459.2" y1="1417.6" x2="514.8" y2="1417.6" stroke="#8e3fa0" stroke-width="3.3"/>
<text x="528" y="1424.3" font-size="18.7" stroke="#000" stroke-width="0.4">Y261A</text>
<line x1="459.2" y1="1449.3" x2="514.8" y2="1449.3" stroke="#8e3fa0" stroke-width="3.3" stroke-dasharray="13.5 5.5"/>
<text x="528" y="1456" font-size="18.7" stroke="#000" stroke-width="0.4">Y261E</text>
<line x1="459.2" y1="1481" x2="514.8" y2="1481" stroke="#ff9500" stroke-width="3.3"/>
<text x="528" y="1487.7" font-size="18.7" stroke="#000" stroke-width="0.4">QQQ211PGG</text>
<text x="-2" y="1296" font-size="74" font-weight="bold">d</text>
</g>
<g id="panel_e">
<rect x="926.2" y="1282.8" width="28.3" height="440.8" fill="#a4b6e0"/>
<rect x="961.6" y="1599.2" width="28.3" height="124.4" fill="#ff9590"/>
<rect x="997" y="1588.7" width="28.3" height="134.9" fill="#ff9590"/>
<rect x="1032.4" y="1539.3" width="28.3" height="184.3" fill="#b497d0"/>
<rect x="1067.8" y="1575.5" width="28.3" height="148.1" fill="#b497d0"/>
<rect x="1103.2" y="1540.8" width="28.3" height="182.8" fill="#9ad8aa"/>
<rect x="1138.6" y="1585.2" width="28.3" height="138.4" fill="#ffde99"/>
<path d="M975.75 1583.1V1621.6M971.35 1583.1H980.15M971.35 1621.6H980.15" fill="none" stroke="#000" stroke-width="2.2"/>
<circle cx="966.25" cy="1592.6" r="4.5" fill="none" stroke="#000" stroke-width="1.5"/>
<circle cx="975.75" cy="1575.5" r="4.5" fill="none" stroke="#000" stroke-width="1.5"/>
<circle cx="985.25" cy="1595.9" r="4.5" fill="none" stroke="#000" stroke-width="1.5"/>
<circle cx="975.75" cy="1601.2" r="4.5" fill="none" stroke="#000" stroke-width="1.5"/>
<circle cx="975.75" cy="1618.3" r="4.5" fill="none" stroke="#000" stroke-width="1.5"/>
<circle cx="975.75" cy="1628.8" r="4.5" fill="none" stroke="#000" stroke-width="1.5"/>
<path d="M1011.15 1563.4V1633.1M1006.75 1563.4H1015.55M1006.75 1633.1H1015.55" fill="none" stroke="#000" stroke-width="2.2"/>
<circle cx="1011.15" cy="1556.8" r="4.5" fill="none" stroke="#000" stroke-width="1.5"/>
<circle cx="1011.15" cy="1569" r="4.5" fill="none" stroke="#000" stroke-width="1.5"/>
<circle cx="1011.15" cy="1584.4" r="4.5" fill="none" stroke="#000" stroke-width="1.5"/>
<circle cx="1011.15" cy="1593.6" r="4.5" fill="none" stroke="#000" stroke-width="1.5"/>
<circle cx="1011.15" cy="1616" r="4.5" fill="none" stroke="#000" stroke-width="1.5"/>
<circle cx="1011.15" cy="1670.3" r="4.5" fill="none" stroke="#000" stroke-width="1.5"/>
<path d="M1046.55 1515.3V1577.8M1042.15 1515.3H1050.95M1042.15 1577.8H1050.95" fill="none" stroke="#000" stroke-width="2.2"/>
<circle cx="1037.15" cy="1526.8" r="4.5" fill="none" stroke="#000" stroke-width="1.5"/>
<circle cx="1046.55" cy="1523.9" r="4.5" fill="none" stroke="#000" stroke-width="1.5"/>
<circle cx="1056.15" cy="1522.9" r="4.5" fill="none" stroke="#000" stroke-width="1.5"/>
<circle cx="1046.55" cy="1535" r="4.5" fill="none" stroke="#000" stroke-width="1.5"/>
<circle cx="1056.15" cy="1532.8" r="4.5" fill="none" stroke="#000" stroke-width="1.5"/>
<circle cx="1046.55" cy="1692.3" r="4.5" fill="none" stroke="#000" stroke-width="1.5"/>
<path d="M1081.95 1561.7V1592.6M1077.55 1561.7H1086.35M1077.55 1592.6H1086.35" fill="none" stroke="#000" stroke-width="2.2"/>
<circle cx="1072.35" cy="1568" r="4.5" fill="none" stroke="#000" stroke-width="1.5"/>
<circle cx="1078.65" cy="1563.4" r="4.5" fill="none" stroke="#000" stroke-width="1.5"/>
<circle cx="1085.95" cy="1572.2" r="4.5" fill="none" stroke="#000" stroke-width="1.5"/>
<circle cx="1091.45" cy="1567.3" r="4.5" fill="none" stroke="#000" stroke-width="1.5"/>
<circle cx="1081.95" cy="1584.4" r="4.5" fill="none" stroke="#000" stroke-width="1.5"/>
<circle cx="1081.95" cy="1610.4" r="4.5" fill="none" stroke="#000" stroke-width="1.5"/>
<path d="M1117.35 1517.3V1577.8M1112.95 1517.3H1121.75M1112.95 1577.8H1121.75" fill="none" stroke="#000" stroke-width="2.2"/>
<circle cx="1107.95" cy="1529.8" r="4.5" fill="none" stroke="#000" stroke-width="1.5"/>
<circle cx="1117.85" cy="1525.5" r="4.5" fill="none" stroke="#000" stroke-width="1.5"/>
<circle cx="1127.35" cy="1521.3" r="4.5" fill="none" stroke="#000" stroke-width="1.5"/>
<circle cx="1127.35" cy="1534.4" r="4.5" fill="none" stroke="#000" stroke-width="1.5"/>
<circle cx="1117.55" cy="1546.6" r="4.5" fill="none" stroke="#000" stroke-width="1.5"/>
<circle cx="1117.55" cy="1660.4" r="4.5" fill="none" stroke="#000" stroke-width="1.5"/>
<path d="M1152.75 1577.8V1593.6M1148.35 1577.8H1157.15M1148.35 1593.6H1157.15" fill="none" stroke="#000" stroke-width="2.2"/>
<circle cx="1152.75" cy="1571.6" r="4.5" fill="none" stroke="#000" stroke-width="1.5"/>
<circle cx="1143.15" cy="1582.1" r="4.5" fill="none" stroke="#000" stroke-width="1.5"/>
<circle cx="1150.15" cy="1587" r="4.5" fill="none" stroke="#000" stroke-width="1.5"/>
<circle cx="1143.15" cy="1592.6" r="4.5" fill="none" stroke="#000" stroke-width="1.5"/>
<circle cx="1155.05" cy="1592" r="4.5" fill="none" stroke="#000" stroke-width="1.5"/>
<circle cx="1162.65" cy="1589.7" r="4.5" fill="none" stroke="#000" stroke-width="1.5"/>
<line x1="926.9" y1="1281.3" x2="926.9" y2="1725.5" stroke="#000" stroke-width="3.9"/>
<line x1="914.9" y1="1723.7" x2="1167.7" y2="1723.7" stroke="#000" stroke-width="3.7"/>
<path d="M915 1723.6H927M919.5 1679.35H927M919.5 1653.46H927M919.5 1635.1H927M919.5 1620.85H927M919.5 1609.21H927M919.5 1599.37H927M919.5 1590.85H927M919.5 1583.33H927M915 1576.6H927M919.5 1532.35H927M919.5 1506.46H927M919.5 1488.1H927M919.5 1473.85H927M919.5 1462.21H927M919.5 1452.37H927M919.5 1443.85H927M919.5 1436.33H927M915 1429.6H927M919.5 1385.35H927M919.5 1359.46H927M919.5 1341.1H927M919.5 1326.85H927M919.5 1315.21H927M919.5 1305.37H927M919.5 1296.85H927M919.5 1289.33H927M915 1282.6H927" fill="none" stroke="#000" stroke-width="3.2"/>
<text x="910.5" y="1290.4" font-size="21.8" stroke="#000" stroke-width="0.4" text-anchor="end">100</text>
<text x="910.5" y="1437.4" font-size="21.8" stroke="#000" stroke-width="0.4" text-anchor="end">10</text>
<text x="910.5" y="1584.4" font-size="21.8" stroke="#000" stroke-width="0.4" text-anchor="end">1</text>
<text x="910.5" y="1731.4" font-size="21.8" stroke="#000" stroke-width="0.4" text-anchor="end">0.1</text>
<text x="866.8" y="1511" font-size="24.8" stroke="#000" stroke-width="0.4" text-anchor="middle" transform="rotate(-90 866.8 1511)">Relative infectivity (%)</text>
<text x="949.95" y="1741.6" font-size="25.3" fill="#565ba4" stroke="#565ba4" stroke-width="0.4" text-anchor="end" transform="rotate(-45 949.95 1741.6)">WT</text>
<text x="987.85" y="1740.6" font-size="25.3" fill="#ff0000" stroke="#ff0000" stroke-width="0.4" text-anchor="end" transform="rotate(-45 987.85 1740.6)">E154Q</text>
<text x="1020.55" y="1740.6" font-size="25.3" fill="#ff0000" stroke="#ff0000" stroke-width="0.4" text-anchor="end" transform="rotate(-45 1020.55 1740.6)">H12N</text>
<text x="1055.65" y="1740.6" font-size="25.3" fill="#7030a0" stroke="#7030a0" stroke-width="0.4" text-anchor="end" transform="rotate(-45 1055.65 1740.6)">Y261A</text>
<text x="1089.05" y="1742.1" font-size="25.3" fill="#7030a0" stroke="#7030a0" stroke-width="0.4" text-anchor="end" transform="rotate(-45 1089.05 1742.1)">Y263E</text>
<text x="1128.95" y="1740.6" font-size="25.3" fill="#00a651" stroke="#00a651" stroke-width="0.4" text-anchor="end" transform="rotate(-45 1128.95 1740.6)">F223A</text>
<text x="1161.85" y="1741.6" font-size="25.3" fill="#f2ab00" stroke="#f2ab00" stroke-width="0.4" text-anchor="end" transform="rotate(-45 1161.85 1741.6)">QQQ211PGG</text>
<text x="779.5" y="1296.5" font-size="74" font-weight="bold">e</text>
</g>
<g id="panel_f">
<rect x="1441.3" y="1657.8" width="28" height="66.7" fill="#a4b6e0"/>
<rect x="1475.85" y="1708.8" width="28" height="15.7" fill="#8c8c8c"/>
<rect x="1510.4" y="1665" width="28" height="59.5" fill="#ff9590"/>
<rect x="1544.95" y="1383.8" width="28" height="340.7" fill="#ff9590"/>
<rect x="1579.5" y="1677.5" width="28" height="47" fill="#b497d0"/>
<rect x="1614.05" y="1624.9" width="28" height="99.6" fill="#b497d0"/>
<rect x="1648.6" y="1615" width="28" height="109.5" fill="#9ad8aa"/>
<rect x="1683.15" y="1612.4" width="28" height="112.1" fill="#ffde99"/>
<path d="M1489.85 1706.4V1709.7M1485.45 1706.4H1494.25M1485.45 1709.7H1494.25" fill="none" stroke="#000" stroke-width="2.2"/>
<circle cx="1480.65" cy="1708.8" r="4.5" fill="none" stroke="#000" stroke-width="1.5"/>
<circle cx="1486.55" cy="1704.8" r="4.5" fill="none" stroke="#000" stroke-width="1.5"/>
<circle cx="1492.85" cy="1708.8" r="4.5" fill="none" stroke="#000" stroke-width="1.5"/>
<circle cx="1498.75" cy="1704.8" r="4.5" fill="none" stroke="#000" stroke-width="1.5"/>
<path d="M1524.4 1663.4V1669.3M1520 1663.4H1528.8M1520 1669.3H1528.8" fill="none" stroke="#000" stroke-width="2.2"/>
<circle cx="1515.2" cy="1669.3" r="4.5" fill="none" stroke="#000" stroke-width="1.5"/>
<circle cx="1524.4" cy="1661.7" r="4.5" fill="none" stroke="#000" stroke-width="1.5"/>
<circle cx="1533.6" cy="1662" r="4.5" fill="none" stroke="#000" stroke-width="1.5"/>
<path d="M1558.95 1319.9V1447.9M1554.55 1319.9H1563.35M1554.55 1447.9H1563.35" fill="none" stroke="#000" stroke-width="2.2"/>
<circle cx="1558.95" cy="1315" r="4.5" fill="none" stroke="#000" stroke-width="1.5"/>
<circle cx="1558.95" cy="1396.3" r="4.5" fill="none" stroke="#000" stroke-width="1.5"/>
<circle cx="1558.95" cy="1440.7" r="4.5" fill="none" stroke="#000" stroke-width="1.5"/>
<path d="M1593.5 1661.7V1693.3M1589.1 1661.7H1597.9M1589.1 1693.3H1597.9" fill="none" stroke="#000" stroke-width="2.2"/>
<circle cx="1593.5" cy="1661.7" r="4.5" fill="none" stroke="#000" stroke-width="1.5"/>
<circle cx="1593.5" cy="1677.5" r="4.5" fill="none" stroke="#000" stroke-width="1.5"/>
<circle cx="1593.5" cy="1692.3" r="4.5" fill="none" stroke="#000" stroke-width="1.5"/>
<path d="M1628.05 1615V1633.8M1623.65 1615H1632.45M1623.65 1633.8H1632.45" fill="none" stroke="#000" stroke-width="2.2"/>
<circle cx="1618.55" cy="1616" r="4.5" fill="none" stroke="#000" stroke-width="1.5"/>
<circle cx="1637.65" cy="1621.6" r="4.5" fill="none" stroke="#000" stroke-width="1.5"/>
<circle cx="1628.05" cy="1634.7" r="4.5" fill="none" stroke="#000" stroke-width="1.5"/>
<path d="M1662.6 1537.7V1692.3M1658.2 1537.7H1667M1658.2 1692.3H1667" fill="none" stroke="#000" stroke-width="2.2"/>
<circle cx="1662.6" cy="1526.8" r="4.5" fill="none" stroke="#000" stroke-width="1.5"/>
<circle cx="1662.6" cy="1651.2" r="4.5" fill="none" stroke="#000" stroke-width="1.5"/>
<circle cx="1662.6" cy="1667" r="4.5" fill="none" stroke="#000" stroke-width="1.5"/>
<path d="M1697.15 1572.9V1651.2M1692.75 1572.9H1701.55M1692.75 1651.2H1701.55" fill="none" stroke="#000" stroke-width="2.2"/>
<circle cx="1697.15" cy="1570.6" r="4.5" fill="none" stroke="#000" stroke-width="1.5"/>
<circle cx="1697.15" cy="1614.3" r="4.5" fill="none" stroke="#000" stroke-width="1.5"/>
<circle cx="1697.15" cy="1649.9" r="4.5" fill="none" stroke="#000" stroke-width="1.5"/>
<line x1="1441.2" y1="1290" x2="1441.2" y2="1725.9" stroke="#000" stroke-width="3.3"/>
<line x1="1429.2" y1="1724.5" x2="1712" y2="1724.5" stroke="#000" stroke-width="2.9"/>
<path d="M1430 1724.5H1442M1434.5 1691.2H1442M1430 1657.9H1442M1434.5 1624.6H1442M1430 1591.3H1442M1434.5 1558H1442M1430 1524.7H1442M1434.5 1491.4H1442M1430 1458.1H1442M1434.5 1424.8H1442M1430 1391.5H1442M1434.5 1358.2H1442M1430 1324.9H1442M1434.5 1291.6H1442" fill="none" stroke="#000" stroke-width="2.7"/>
<text x="1426.3" y="1732.5" font-size="22.4" stroke="#000" stroke-width="0.4" text-anchor="end">0</text>
<text x="1426.3" y="1665.9" font-size="22.4" stroke="#000" stroke-width="0.4" text-anchor="end">100</text>
<text x="1426.3" y="1599.3" font-size="22.4" stroke="#000" stroke-width="0.4" text-anchor="end">200</text>
<text x="1426.3" y="1532.7" font-size="22.4" stroke="#000" stroke-width="0.4" text-anchor="end">300</text>
<text x="1426.3" y="1466.1" font-size="22.4" stroke="#000" stroke-width="0.4" text-anchor="end">400</text>
<text x="1426.3" y="1399.5" font-size="22.4" stroke="#000" stroke-width="0.4" text-anchor="end">500</text>
<text x="1426.3" y="1332.9" font-size="22.4" stroke="#000" stroke-width="0.4" text-anchor="end">600</text>
<text x="1372.3" y="1510" font-size="25" stroke="#000" stroke-width="0.4" text-anchor="middle" transform="rotate(-90 1372.3 1510)">Reverse transcription (%)</text>
<text x="1464.9" y="1743" font-size="25.3" fill="#565ba4" stroke="#565ba4" stroke-width="0.4" text-anchor="end" transform="rotate(-45 1464.9 1743)">WT</text>
<text x="1497.95" y="1744.5" font-size="25.3" stroke="#000" stroke-width="0.4" text-anchor="end" transform="rotate(-45 1497.95 1744.5)">WT+ddC</text>
<text x="1535.5" y="1741.5" font-size="25.3" fill="#ff0000" stroke="#ff0000" stroke-width="0.4" text-anchor="end" transform="rotate(-45 1535.5 1741.5)">E154Q</text>
<text x="1568.55" y="1741.5" font-size="25.3" fill="#ff0000" stroke="#ff0000" stroke-width="0.4" text-anchor="end" transform="rotate(-45 1568.55 1741.5)">H12N</text>
<text x="1603.1" y="1741.5" font-size="25.3" fill="#7030a0" stroke="#7030a0" stroke-width="0.4" text-anchor="end" transform="rotate(-45 1603.1 1741.5)">Y261A</text>
<text x="1637.65" y="1743.5" font-size="25.3" fill="#7030a0" stroke="#7030a0" stroke-width="0.4" text-anchor="end" transform="rotate(-45 1637.65 1743.5)">Y263E</text>
<text x="1676.2" y="1741.5" font-size="25.3" fill="#00a651" stroke="#00a651" stroke-width="0.4" text-anchor="end" transform="rotate(-45 1676.2 1741.5)">F223A</text>
<text x="1709.75" y="1742.5" font-size="25.3" fill="#f2ab00" stroke="#f2ab00" stroke-width="0.4" text-anchor="end" transform="rotate(-45 1709.75 1742.5)">QQQ211PGG</text>
<line x1="1461.7" y1="1293.6" x2="1549.2" y2="1293.6" stroke="#000" stroke-width="2"/>
<text x="1502.8" y="1296" font-size="24.8" stroke="#000" stroke-width="0.4" text-anchor="middle">*</text>
<line x1="1461.7" y1="1593.6" x2="1496.3" y2="1593.6" stroke="#000" stroke-width="2"/>
<text x="1479.3" y="1596" font-size="24.8" stroke="#000" stroke-width="0.4" text-anchor="middle">**</text>
<text x="1291" y="1298" font-size="74" font-weight="bold">f</text>
</g>
</svg>
</body></html>
